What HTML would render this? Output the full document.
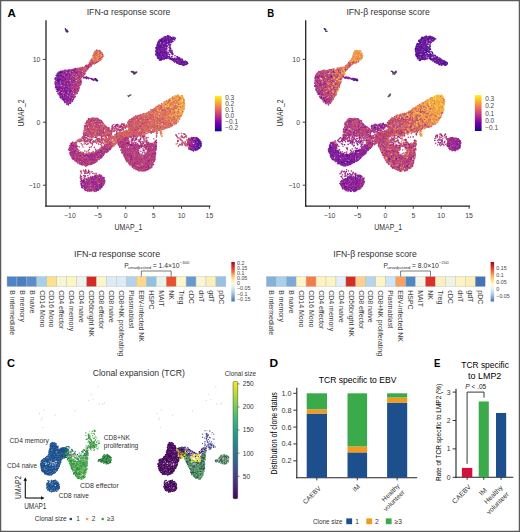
<!DOCTYPE html><html><head><meta charset="utf-8"><style>html,body{margin:0;padding:0;background:#fff}svg{display:block}text{font-family:"Liberation Sans",sans-serif}</style></head><body>
<svg width="520" height="532" viewBox="0 0 520 532">
<defs><linearGradient id="plasma" x1="0" y1="0" x2="0" y2="1"><stop offset="0.0" stop-color="#f0f921"/><stop offset="0.1" stop-color="#fcce25"/><stop offset="0.2" stop-color="#fca636"/><stop offset="0.3" stop-color="#f2844b"/><stop offset="0.4" stop-color="#e16462"/><stop offset="0.5" stop-color="#cc4778"/><stop offset="0.6" stop-color="#b12a90"/><stop offset="0.7" stop-color="#8f0da4"/><stop offset="0.8" stop-color="#6a00a8"/><stop offset="0.9" stop-color="#41049d"/><stop offset="1.0" stop-color="#0d0887"/></linearGradient><linearGradient id="viridis" x1="0" y1="0" x2="0" y2="1"><stop offset="0.0" stop-color="#fde725"/><stop offset="0.1111111111111111" stop-color="#b5de2b"/><stop offset="0.2222222222222222" stop-color="#6ece58"/><stop offset="0.3333333333333333" stop-color="#35b779"/><stop offset="0.4444444444444444" stop-color="#1f9e89"/><stop offset="0.5555555555555556" stop-color="#26828e"/><stop offset="0.6666666666666666" stop-color="#31688e"/><stop offset="0.7777777777777778" stop-color="#3e4989"/><stop offset="0.8888888888888888" stop-color="#482878"/><stop offset="1.0" stop-color="#440154"/></linearGradient><linearGradient id="rdyl1" x1="0" y1="0" x2="0" y2="1"><stop offset="0" stop-color="#a50026"/><stop offset="0.12" stop-color="#d73027"/><stop offset="0.25" stop-color="#f46d43"/><stop offset="0.33" stop-color="#fdae61"/><stop offset="0.42" stop-color="#fee090"/><stop offset="0.55" stop-color="#fbfbe8"/><stop offset="0.66" stop-color="#d6e8f2"/><stop offset="0.78" stop-color="#a6cae2"/><stop offset="0.9" stop-color="#6e9cc8"/><stop offset="1" stop-color="#4a72b0"/></linearGradient><linearGradient id="rdyl2" x1="0" y1="0" x2="0" y2="1"><stop offset="0" stop-color="#a50026"/><stop offset="0.12" stop-color="#d73027"/><stop offset="0.25" stop-color="#f46d43"/><stop offset="0.35" stop-color="#fdae61"/><stop offset="0.47" stop-color="#fee090"/><stop offset="0.58" stop-color="#fefed0"/><stop offset="0.7" stop-color="#e0eef4"/><stop offset="0.82" stop-color="#a6cae2"/><stop offset="0.92" stop-color="#6e9cc8"/><stop offset="1" stop-color="#4a6aa8"/></linearGradient></defs>
<rect x="0" y="0" width="520" height="532" fill="#fff"/>
<g fill="none" stroke-width="1.6" stroke-linecap="round"><path d="M177.3 97.3h0m2.5 2.9h0m1.1-0.4h0m-9.9 4.1h0m0.3 2.6h0m-0.1 1.2h0m10.9 0.1h0m0.8 0.4h0m-11.7 8.8h0" stroke="#f9ce30"/><path d="M180.2 96.1h0m-2 0.5h0m0.9 0.9h0" stroke="#f4e32d"/><path d="M95 52.3h0m6.4 1.1h0m-6.8 2.1h0m8.3 0.9h0m-13.1 6.2h0m3.7 0.7h0m0.7-0.3h0m-4.3 0.9h0m-3.3 1.3h0m0.3 1.2h0m2.4-0.7h0m-1.3 1.1h0m-10.2 1.5h0m1.1 1.3h0m0.6 0h0m1.4 0.2h0m-15.3 1h0m11.1 0.2h0m8.6 0.4h0m0.1-0.9h0m0.2 0.4h0m-18.6 1.2h0m13.3-0.6h0m3 0.5h0m-10.8 1.2h0m2.2 0.2h0m-1.7 1.7h0m8.5 0.3h0m-6.9 3h0m1.7 0.1h0m1-0.2h0m-3.6 4.3h0m7 0.6h0m-1.4 2.8h0m-3.8 1.3h0m-2.7 1.3h0m3.5 0.8h0m0.5-0.2h0m-1 1h0m-4.8 3.3h0m3.3 4.2h0m92.6 6.8h0m-9.7 2h0m4.7 0.4h0m7.5-0.1h0m12.6 1.4h0m-27.6 1.1h0m18.7-0.6h0m-13 3.1h0m5.1 0.2h0m6.8-0.4h0m-11.2 3.5h0m-24.8 1.2h0m7.9-0.3h0m15.7-0.2h0m-23.8 1.7h0m0.4-0.3h0m10.7 0.1h0m-53.6 0.8h0m46.7 0h0m-51.7 1h0m0.3 0.4h0m44.5-0.6h0m9.4 0.4h0m4.3-0.3h0m16.4 0.5h0m-73.4 0.3h0m5.3 0h0m0.3-0.2h0m2.6 0.4h0m32.3-0.5h0m-42.9 1.2h0m4.2 0.4h0m2.5 0.3h0m5.4-0.3h0m34.1-0.1h0m0.9 0.3h0m1.6 0.1h0m-48.6 0.9h0m1.4-0.4h0m3.1-0.1h0m8.9 0.6h0m1.3-0.7h0m28.3 0.3h0m4.2-0.2h0m7.1 0.2h0m3.3 0.3h0m3 0h0m-61.5 0.3h0m2.5 0.8h0m0.2-0.5h0m2.9 0.6h0m0.3-0.4h0m7.4-0.5h0m1.5-0.1h0m28 1h0m1.1-0.4h0m3 0h0m9.4-0.1h0m1.3 0h0m0.3 0.3h0m13.1-0.2h0m-70.8 1.2h0m3.2-0.3h0m1.2 0.3h0m9.7-0.7h0m27.3 0.8h0m8.7-0.1h0m2.4-0.6h0m0.6 0.1h0m3.2 0.6h0m-52.5 0.6h0m2.7 0.3h0m7-0.5h0m0.3-0.3h0m25.9 0.2h0m22.4 0.8h0m8.1-0.8h0m-71.8 1.4h0m4.7 0.2h0m6.5-0.1h0m3.5 0.3h0m35.8-0.9h0m0.5 0h0m8.4 0.6h0m-58.5 1h0m8 0.1h0m0.7-0.7h0m5 0.4h0m3.6 0.2h0m1.6-0.3h0m10.8-0.3h0m8.2 0.9h0m5.2-0.6h0m8.4-0.3h0m0.2 0.5h0m15.8 0.4h0m2.6-0.3h0m-70.9 1h0m8.8 0.1h0m2.7-0.6h0m4 0.3h0m8 0.1h0m8-0.1h0m1.8 0.1h0m3.4 0.1h0m8.5-0.1h0m1.6 0h0m3.1-0.6h0m1.3 0.6h0m-51.5 1.3h0m3.6-0.3h0m4.9 0.2h0m1.9-0.1h0m1.8-0.5h0m1 0.4h0m2.5 0.3h0m4.7 0h0m6.4-0.5h0m18 0.5h0m5.5-0.6h0m4.9 0.2h0m5.2-0.2h0m5.5-0.2h0m3.3 0.8h0m5.1-0.4h0m-71.5 0.9h0m1.8 0.3h0m0.6-0.2h0m2.3-0.2h0m4.6 0.6h0m1.7-0.6h0m10.4 0.1h0m2.4 0.5h0m6.4-0.1h0m0.8-0.8h0m2.5 0.6h0m8.7-0.4h0m7.1 0.2h0m-53.1 1h0m5.9 0.3h0m3.2-0.4h0m16.1 0.3h0m17.1 0.3h0m4.8-0.8h0m0.2 0.8h0m-43.8 0.3h0m9 0.4h0m2.8 0.1h0m1.9 0.1h0m5-0.3h0m0.8 0.4h0m17.6-0.5h0m2.2-0.4h0m2.6 0.8h0m2.9-0.8h0m0.5 0.3h0m1.8-0.2h0m16.4 0.1h0m1.1 0.5h0m-54.3 1.3h0m0.5-0.3h0m1.5-0.6h0m2.5 0.1h0m1.9 0.4h0m4.4-0.4h0m11.7 0.2h0m1.5 0h0m1.2-0.1h0m1.4 0.4h0m4.2 0h0m2.1-0.4h0m1.1 0.6h0m6.6-0.1h0m1.6 0h0m-55.6 0.4h0m2.1 0h0m1.4 0.5h0m1.2 0h0m5.1-0.4h0m15.2 0.3h0m1.6-0.2h0m15.2-0.1h0m3 0.5h0m9-0.2h0m6.7 0.1h0m-61.2 1.2h0m1.2-0.4h0m3.4 0h0m2.4-0.3h0m6.5 0.2h0m22 0.5h0m2.4 0h0m1.3 0.1h0m0.7-0.5h0m1.5 0.5h0m6-0.1h0m3-0.7h0m2.4 0.6h0m-50.2 0.2h0m6.8 0.9h0m12.2-0.9h0m3.5 0.3h0m8.4 0.4h0m13.4 0.2h0m2.9-0.9h0m10.2 1h0m-61.7 1h0m0.9-0.1h0m2.7 0.1h0m9.2-0.2h0m16.7-0.1h0m4.5 0.1h0m2.4 0.1h0m5.1-0.2h0m1-0.4h0m11.2 0h0m-51.3 0.8h0m20.4 0.4h0m6.1-0.4h0m0.2 0.9h0m2.4-0.3h0m3.4-0.5h0m3.9 0.4h0m4.4-0.5h0m1.3 0.2h0m0.6 0.6h0m19.2-0.8h0m31.5 0.3h0m5.9-0.1h0m-104.7 1.5h0m3.3-0.5h0m2.9 0.1h0m0.5-0.2h0m6.2 0.7h0m16-0.2h0m0.6-0.3h0m5.8 0.6h0m2.3-0.7h0m1.1 0.4h0m4-0.1h0m-44.1 1.2h0m7.2-0.3h0m10.7 0.5h0m22-0.2h0m13.9-0.6h0m57.3 0.3h0m0.6 0.1h0m-111.2 1.3h0m6.1-0.5h0m2.3-0.2h0m3.8 0.8h0m4.6 0h0m7.7-0.6h0m2.9 0.3h0m11.5-0.2h0m1.5 0.2h0m0.8-0.6h0m3.2 0h0m6.2 0.3h0m49.1-0.4h0m10.1 0.7h0m-103 0.8h0m2.8-0.3h0m2.2 0.4h0m9.5-0.1h0m10.5 0.2h0m7.6-0.7h0m10.4 0.9h0m1.9-0.5h0m4.4 0.2h0m51 0h0m-75.5 0.9h0m42.6 0.4h0m-68.2 0.6h0m8.3-0.2h0m28.5 0.3h0m10.7-0.2h0m53.6 0.1h0m-92.8 1.1h0m14.6-0.4h0m2.4 0.5h0m1.4-0.4h0m15.6 0.1h0m2.3-0.2h0m1.2 0.7h0m3.8-0.6h0m18.3-0.2h0m33.5 0.9h0m-80.1 1h0m7-0.5h0m15.4 0h0m12.6 0h0m8 0h0m-58.9 1.4h0m4.9 0h0m17.6-0.7h0m7.8-0.1h0m10.4 0.7h0m11.4 0h0m6.8-0.3h0m-45.6 0.8h0m19.5 0.2h0m0.7 0.3h0m9.2-0.1h0m13.9 0.1h0m-13.4 1.2h0m0.6-0.8h0m9.7 0.2h0m4.1 0.5h0m3.2-0.4h0m-28.4 0.8h0m2.8 0h0m0.8 0.1h0m10.9 0h0m11.9-0.3h0m-76.6 1h0m78.5 0.2h0m-63.3 1.1h0m5.2 0.5h0m41 0h0m1.8-0.8h0m3 0.1h0m12.6 0.3h0m-68.2 1.2h0m39.9 0h0m0.8 0.1h0m14.4-0.7h0m-52 1.4h0m46.6-0.1h0m20.5-0.1h0m-53.8 1.5h0m0.3-0.7h0m31.1 0.4h0m3.8 0.4h0m11.6 0h0m1.8 0.1h0m5.1-0.3h0m0.7 0.1h0m-66.5 0.4h0m13.5 0.1h0m25.8 0.4h0m1.2-0.7h0m0.9 0.1h0m1.9 0.7h0m13.4 0.1h0m7.4-0.9h0m3.8 0.5h0m-66.6 1.1h0m36.6 0h0m5.1 0.3h0m6.3-0.1h0m4.8-0.1h0m-7.7 0.3h0m14.7 0.1h0m6.6-0.1h0m-77 1.3h0m3.4 0h0m8-0.1h0m10.7 0.7h0m32.4-0.2h0m20.1 0h0m-66.9 0.7h0m48.9 0.2h0m7.1-0.4h0m6.7 0.5h0m-69.2 0.4h0m52.6 0.7h0m1.7-0.1h0m5.2-0.1h0m6.2 0h0m2.2-0.2h0m0.8 0.1h0m5.1-0.5h0m-75.1 1h0m51.6 0.9h0m3.5-0.7h0m9.3-0.1h0m-11.7 1.8h0m-41.5 0.4h0m46.1 0.1h0m10.3 0h0m-5.5 0.9h0m-8.2 1h0m3.8 0.6h0m-2.1 0.2h0m3.5 0.1h0m-0.7 0.9h0m1.9 0h0m5.3 0.5h0m2.6 0.3h0m-7.4 0.1h0m-52.4 2.4h0m2.9 1.8h0m7.5 1.9h0m2 3.9h0m-13.5 0.7h0m-1.1 0.4h0m7.3 1.5h0m13.9 1.4h0m-1.9 2.3h0" stroke="#c24c6b"/><path d="M101.8 54.8h0m-7.8 7.9h0m-4.7 2h0m-4.1 4.4h0m-3.4 1h0m-11.2 1.2h0m7.9-0.3h0m5.5 0.4h0m-12.4 0.3h0m7.8-0.2h0m-16.4 1.9h0m20.9 0.1h0m-19.9 0.2h0m16.5 0.8h0m-12.7 0.7h0m7.5-0.1h0m1.9 0.3h0m5.6-0.6h0m-3.3 0.9h0m0.8 0.5h0m-13.2 0.5h0m7.4 0.4h0m8.4-0.6h0m-14.1 1.3h0m6 0.7h0m4.3-0.1h0m-1.6 0.8h0m-3.9 0.9h0m1.8-0.4h0m2.1-0.1h0m-4.9 1.9h0m2.9-0.1h0m1.7 0h0m1.1-0.5h0m-12.4 1h0m11.5-0.4h0m-1.5 1.8h0m0.5-0.6h0m3.2 0.6h0m0.2 0.9h0m-3.7 1.1h0m-14.1 2.2h0m6.6-0.7h0m8.3 0.9h0m1.9 0.7h0m-11.2 0.4h0m2.1 0.5h0m9-0.1h0m-13.4 2h0m11.4-0.1h0m1.6-0.4h0m-18.9 2.2h0m7.8-0.1h0m7.3-0.1h0m-2 1.2h0m-1.3 0.9h0m-2.1 1.6h0m-3.3 2.5h0m5 1.1h0m88.4 5.4h0m-6.8 7.8h0m13.5 0.8h0m3.3-0.4h0m-31.9 2.8h0m2 1.3h0m6.1 0.2h0m-1.7 1h0m7.8 0.5h0m-58.1 0.7h0m39 0.3h0m25.4-0.2h0m2.2 0.2h0m-68 0.9h0m49.3 0h0m-39.9 0.5h0m-5.1 0.8h0m6.5 0.3h0m46.4-0.1h0m15.9 0.6h0m-43.1 0.5h0m1.5 0.3h0m-24.9 1.3h0m3.3-0.1h0m14.8-0.5h0m12.1-0.2h0m9.1 0.3h0m10 0h0m6.5 0.1h0m16.3-0.3h0m-76.6 1.6h0m5.4-0.1h0m17.6-0.7h0m0.5 0.3h0m20.4-0.3h0m8.9 0.2h0m-34.2 0.7h0m2.9 0.4h0m5.7 0h0m0.5-0.1h0m35.6 0.6h0m-45.1 0.5h0m0.4 1.1h0m26.6-0.4h0m-48.6 1.2h0m3.1 0.5h0m0.8-0.4h0m5.4-0.1h0m20.4 0.1h0m0.1 0.6h0m11-0.7h0m-20.8 1.6h0m2.5 0.1h0m-9.3 1h0m-1.7 0h0m14.5 0.4h0m18.9 0.6h0m21.5 0h0m-56.7 0.2h0m0.3-0.1h0m39.6 0.4h0m43.3-0.3h0m1.2 0.6h0m-80.2 0.6h0m2.9 0.2h0m-11.8 0.9h0m9.7 0.5h0m14-0.5h0m4.1 0.1h0m11 0.1h0m51.6-0.3h0m-90.5 1.6h0m10.7 0h0m7.4-0.9h0m6.7 0h0m5.9 0.8h0m11.4-0.7h0m3.2 0.2h0m-17.2 0.7h0m0.6 0.5h0m9.6 0h0m2.6 0.1h0m-33.5 1.1h0m4.6-0.2h0m11.3 0h0m0.4-0.2h0m1.9 0.4h0m5-0.3h0m2-0.3h0m17.8 0.1h0m-38.1 1.1h0m2.5 0.1h0m10 0h0m4.4 0.3h0m2 0h0m1.9-0.3h0m6 0.3h0m54.7-0.1h0m-104.5 1.2h0m14.1 0h0m19.5-0.3h0m1.2-0.6h0m3.4 1h0m1.9-0.7h0m14.8-0.2h0m16 0.6h0m-66.4 0.7h0m6.6 0.4h0m1.8-0.6h0m0.3-0.1h0m28.7 0.8h0m12.9-0.6h0m7.7 0.5h0m0.8-0.1h0m7.3-0.1h0m34.3-0.5h0m-117.3 1.3h0m18.2 0.1h0m12-0.4h0m5.5 0.3h0m2.1 0.5h0m1.2-0.4h0m1.1 0.4h0m1.8-0.3h0m3.5-0.1h0m2.5 0h0m3.4-0.1h0m1.3 0.2h0m18.2 0.2h0m4-0.3h0m0.9 0h0m0.7-0.3h0m-78.1 1.4h0m0.3 0.2h0m53.4 0h0m0.8-0.4h0m10.1 0.5h0m1.9 0h0m0.2-0.5h0m4-0.1h0m7.4 0.4h0m4.4 0.1h0m1.3-0.1h0m27.8-0.2h0m-111.1 1.3h0m0.9-0.6h0m0.9 0.5h0m1.3 0.1h0m31.7-0.5h0m0 0.7h0m2.8-0.9h0m2.1 0.6h0m7.7 0.2h0m3.9-0.2h0m2.5 0.1h0m1.4-0.2h0m0.2-0.1h0m4.5 0.1h0m3.8 0h0m9.3 0.3h0m0.1-0.8h0m1.4 0.1h0m4.1-0.1h0m1.4 0.6h0m-80.9 1.1h0m2.3-0.3h0m4.9 0.4h0m31.4-0.4h0m5.1-0.2h0m8.8 0.2h0m0.8-0.4h0m5 0h0m3.5 0.2h0m3.5-0.2h0m0.9 0.7h0m9.9-0.5h0m0.4 0.5h0m43-0.4h0m-114 1h0m30.6 0.3h0m13.1 0.1h0m4 0h0m1-0.4h0m8.4 0.2h0m6.2-0.2h0m8.3-0.3h0m7.1 0.2h0m0.7 0h0m-86 1.2h0m2.3 0.2h0m1.7 0.1h0m28.9 0h0m1.3-0.6h0m3.2 0.6h0m0.2-0.8h0m2.7 0.6h0m0.8-0.5h0m26.2-0.1h0m0.2 0.7h0m1.5-0.3h0m1 0.6h0m14.8-0.4h0m34.5 0.2h0m-119.1 0.6h0m4.7-0.3h0m2.6-0.1h0m0 0.5h0m18.8 0.4h0m7.1-0.8h0m4.4 0.5h0m1.7-0.3h0m1.7 0.2h0m11.3-0.5h0m3.9 0.3h0m9.5 0.1h0m2.2 0.3h0m0.8 0.1h0m7.2 0h0m5.2-0.5h0m3.7 0.5h0m35.1-0.1h0m-116.7 0.5h0m4.8-0.1h0m21.1 0.4h0m2 0h0m0.9 0.1h0m6.3 0.2h0m1.9-0.5h0m12.9-0.2h0m7.3 0.1h0m4.1 0h0m13.5 0.5h0m5.1-0.2h0m-79.2 1.1h0m28.6-0.4h0m3.7 0.7h0m1.7-0.3h0m30.2-0.2h0m12.1 0.3h0m1.3-0.7h0m-80 1.4h0m6.4 0.1h0m18.4 0.4h0m2.1-0.3h0m3.6-0.4h0m1.5 0.1h0m3.5 0.6h0m1-0.7h0m14.5-0.1h0m1.4 0.8h0m13-0.1h0m6.5 0.2h0m1.9-0.2h0m8.3-0.4h0m-83 1.2h0m7 0.3h0m3.7-0.2h0m1.3-0.3h0m13.3 0.5h0m1.2-0.2h0m4.6 0.2h0m1.4-0.6h0m0.9 0.1h0m30.9 0.2h0m3.4-0.5h0m7.2 0.6h0m1.5 0h0m3.8-0.1h0m3.2-0.1h0m-83.4 1.3h0m1.9-0.2h0m2.1 0.1h0m14.9 0h0m4 0.1h0m7.9 0.1h0m24.7-0.6h0m0.7 0.6h0m2.1-0.3h0m7.4-0.4h0m0.7 0.4h0m1.7-0.4h0m0.5 0.4h0m12 0.1h0m2.4-0.1h0m-82.2 0.7h0m1.2 0.2h0m3.9-0.2h0m3.9 0.4h0m5.3 0h0m3.6-0.2h0m5.7 0h0m0.9 0.1h0m4.4 0h0m1.9 0.2h0m22.3-0.5h0m10.9 0.6h0m4.7-0.8h0m6.4 0.1h0m0.4-0.1h0m2.8 0.2h0m2.6 0.3h0m-79.5 1.4h0m5 0h0m6.2-0.8h0m2.7 0.1h0m6.5 0.3h0m1-0.5h0m0.6 0.3h0m5 0.5h0m2.2-0.3h0m22.5-0.5h0m8 0.6h0m3.4 0.2h0m9.3 0h0m7.2-0.2h0m1.3 0h0m1.5-0.6h0m-82.4 1.8h0m13.3-0.7h0m3.9 0.2h0m0.5-0.3h0m6.1 0.5h0m1.7 0h0m1.5 0.2h0m2.8-0.4h0m23.7 0.4h0m4.4-0.7h0m5.9 0.3h0m0.6 0.4h0m4.2-0.5h0m6.7-0.3h0m4.2 0.7h0m3.4-0.2h0m-80 1.4h0m5.6-0.7h0m2.5 0.7h0m0.8-0.5h0m6.8-0.1h0m2.8-0.1h0m3.5 0.5h0m29 0.1h0m0.8-0.6h0m3.3 0h0m3.7 0h0m1.3 0.5h0m2.8 0.1h0m10.4-0.2h0m1.7 0.2h0m1.6-0.3h0m1.7 0.2h0m0.8 0.1h0m-76.2 1.1h0m6-0.4h0m1.2 0.5h0m5.1-0.8h0m2.2-0.1h0m0.7 0.7h0m1-0.5h0m31.7 0.3h0m1.1-0.6h0m14.3 0.3h0m2.7 0.3h0m8.5 0.3h0m1-0.5h0m-77.6 1.5h0m1.4-0.3h0m7.1 0.3h0m4.1-0.1h0m1-0.7h0m1.3 0.3h0m1-0.2h0m0.1 0.2h0m3.1-0.1h0m2.4 0.1h0m29.5 0.5h0m5.9-0.6h0m10.2 0.4h0m2.6-0.2h0m4.9-0.2h0m2.1-0.2h0m0.4 0.1h0m-78.2 1h0m6.8 0.7h0m3.6-0.3h0m0.3 0.2h0m2.1-0.6h0m3.6 0.5h0m4-0.3h0m1.5-0.4h0m0.1 0.8h0m48.3-0.4h0m5 0.2h0m4.1-0.3h0m-74.9 0.9h0m3.2 0.8h0m1.6-0.6h0m3.6 0.1h0m0.4-0.1h0m3.2-0.1h0m0.2-0.3h0m36.3 0.2h0m2.7 0.6h0m6.2-0.8h0m2.3 0.8h0m5.7-0.5h0m2.2 0.4h0m-69.2 0.9h0m2.4-0.3h0m3.3 0.2h0m1.5 0.4h0m0.8-0.5h0m0.4 0.6h0m1.7-0.8h0m0.4 0.1h0m1.9 0.6h0m0.5-0.8h0m3.7 0h0m37.9 0.9h0m5-0.2h0m0-0.5h0m2.2 0.6h0m0.9-0.7h0m3.9 0h0m-63.3 1.4h0m48.7 0h0m5.5-0.4h0m11.7 0.8h0m2.9-0.7h0m-68.2 1h0m48.6-0.2h0m1.6 0.2h0m1.1 0.3h0m1.6-0.4h0m5.8 0.4h0m4.8-0.4h0m3.9 0.7h0m-15 0.5h0m2.2-0.2h0m3.9-0.1h0m2.3 0.3h0m1.1 0.5h0m1.3-0.6h0m-3.5 1.7h0m5.5-0.6h0m1.9-0.3h0m-10.5 1.2h0m11.9 0.1h0m0.4 0h0m1.1-0.4h0m-15.9 1.7h0m1.5 0.3h0m2-0.8h0m0.6 0h0m2.1 0.2h0m2-0.2h0m0.8 0.6h0m2.7-0.6h0m0.7 0.7h0m-64.5 0.9h0m2-0.4h0m50.6-0.4h0m2.4 0.7h0m0-0.6h0m3.4 0.8h0m3.9-0.8h0m0.5-0.1h0m-61.1 1.8h0m3.3-0.1h0m53.4-0.5h0m1.3 0.2h0m-57.9 0.8h0m0.4 1.5h0m11.7 2.6h0m-17.2 1.6h0m12.6-0.8h0m5.1 0h0m-3.2 1.3h0m1.7 0.4h0m-15.4 1.1h0m11.9-0.8h0m6 0.6h0m0.7 0.1h0m-9 0.5h0m4 0.1h0m-10 1.3h0m4.1-0.3h0m0.5 0.4h0m1.9-0.6h0m7.7 0.4h0m4.4 0h0m0.7-0.6h0m0.5 0.9h0m-14.8 0.9h0m6.6 0.1h0m0.7-0.3h0m6.5 0.1h0m-21.7 1.2h0m3.8-0.4h0m9.8 0.3h0m2.9-0.7h0m-13.4 1.3h0m1.2 0.1h0m4.2 0.1h0m1.3-0.1h0m12.6-0.5h0m-17.7 1.9h0m0.1 0h0m4.1 0.7h0m-1.3 0.5h0m2.8 0.8h0m-8.8 0.9h0m14.2-0.7h0m2 0.9h0m-4.4 0.2h0m1.2 1.6h0m-4.2 0.3h0" stroke="#b0387a"/><path d="M167.5 35.8h0m-1.8 1.5h0m2.3 1.5h0m-1.8 2.8h0m1.1 1.2h0m-1.5 3.2h0m-3.8 1.2h0m3.5 1.3h0m-0.8 1.7h0m-1.6 0.5h0m0.9 0h0m-1.7 3.3h0m-6.5 0.8h0m12.1 1.4h0m-7.6 2h0m2.4 0.3h0m6.3-0.2h0m0.8-0.5h0m9.2-0.3h0m-20.7 1.1h0m5.7 0.8h0m-4.5 0.5h0m0.6 0h0m12.3-0.3h0m9.4 0.4h0m0.4 1.2h0m-7.5 0.9h0m8.1 0.4h0m1.3 1.9h0m-124 11.4h0m3.2 0.8h0m-7.9 2.3h0m7.1 0.2h0m4.6 0.5h0m-9.7 1.3h0m12 1h0m-11.5 2h0m2.1 3.1h0m7.5 0.4h0m-0.8 0.2h0m-7.1 2.5h0m1 2.8h0m4.7 3h0m1.5 0.5h0m-2 5.2h0m3.4 2.2h0m128 33.8h0m1.8 3.7h0m1.1-0.6h0m-1.4 2.7h0m2.1 0.2h0m-1.1 1.9h0m1.7 0h0m-3.3 2.6h0m1.2 0.1h0m-100.1 30.9h0m-17.2 4.2h0" stroke="#581298"/><path d="M162.6 43.2h0m-3.5 1.7h0m-1.1 1.8h0m0.8 0.3h0m-1.1 3.7h0m3.6 0h0m6.9 2.2h0m-10.9 0.8h0m6.5 0.7h0m-2.9 0.6h0m5.8 0.8h0m-0.9 1.2h0m8.1 4h0m8 1.6h0m-121.1 10.5h0m-1.7 0.7h0m3.6 3.6h0m28.6 1.1h0m-30.4 11.6h0m8.9 4.5h0m-3 9.5h0m134 37.5h0m-6.1 3.2h0m6.2 1.5h0m-0.9 0.9h0m-1.9 1.9h0" stroke="#461492"/><path d="M97.2 61.6h0m-11 5.6h0m0.5-0.5h0m-7.7 1.6h0m4.9-0.2h0m-10.9 1.2h0m1.4-0.2h0m-8.5 0.9h0m-2.3 1.8h0m1.6-0.2h0m5.6 0.7h0m4.3-0.6h0m0.6 0h0m1.8 0.4h0m-6.5 0.9h0m1.1 0.3h0m11-0.3h0m-21.6 0.8h0m9.6 0.6h0m-1.8 0.5h0m6.4 0.4h0m-6.1 0.9h0m0.5 1.1h0m9.5-0.4h0m-8.8 1.1h0m-2 0.6h0m5.5 0.6h0m2.5 0h0m-8.1 1.2h0m9.7-0.3h0m-9.5 0.8h0m12 0.1h0m-15.6 0.7h0m13.8 0h0m0.7 0.5h0m1.4 0h0m-5.4 1.8h0m-2 0.9h0m1.5 0.5h0m2.1-0.3h0m-9 0.6h0m-7.6 0.8h0m3.4 1h0m10.4 1.7h0m-7.3 0.8h0m4.2 1.7h0m3.9-0.1h0m1.5 0.3h0m-7.9 1.3h0m1.7-0.7h0m3.4 1.7h0m0.9-0.3h0m0.8 0.1h0m-7.5 0.7h0m5.2-0.1h0m-6 1.9h0m2.9-0.3h0m1.1 0.1h0m1.8 0.2h0m-5.6 0.8h0m-1.5 0.3h0m4.2 0.4h0m-6 0.9h0m6.3 0.3h0m2.7-0.4h0m-2.6 3.5h0m91 5.4h0m-1.1 6.6h0m-15.8 2.7h0m9.6 0.3h0m4.7 0.7h0m-23 0.8h0m21.5 0.4h0m-60.4 0.5h0m35 0.2h0m-37.6 2.2h0m-4.9 0.7h0m6.2-0.1h0m-9.6 2.4h0m10.6-0.2h0m47.2-0.1h0m-45.2 1h0m1.7-0.1h0m40.1 0h0m3.2 0.2h0m-38 1h0m31.1 0.4h0m8.5-0.4h0m2 0.1h0m-25.3 1.9h0m31.9 0.1h0m-65.2 0.5h0m16.9 0.5h0m28 0.8h0m1.8-0.1h0m-6.2 1.4h0m1-0.1h0m9.4 0.3h0m11.9-0.2h0m-40.6 0.5h0m15.6 0.1h0m-30.5 2.4h0m-3.4 0.8h0m29 0.3h0m12-0.2h0m8.8-0.5h0m-23.3 1.6h0m9.7-0.3h0m0.6-0.2h0m14.5 0h0m-54.4 1.4h0m19.8-0.4h0m9.2 0.8h0m3.5-0.8h0m1.9 0.2h0m16.5 0.6h0m-53 0.2h0m45.3 0.5h0m3.2-0.1h0m7.9-0.1h0m44.5 0.4h0m-105.2 0.8h0m31.7 0.3h0m3.2-0.3h0m2.7 0.2h0m6.2-0.6h0m16.9 0.5h0m12.2 0.2h0m32.5 0.1h0m-101.5 0h0m44.1 0.5h0m57.9-0.3h0m1.8 0.2h0m-95.4 0.9h0m4.5 0.1h0m9.6 0.3h0m0.3-0.4h0m1.3 0.6h0m14.2-0.2h0m0.3 0.1h0m6 0.1h0m11.9-0.1h0m-67.2 0.5h0m42.2 0.2h0m2.9-0.4h0m5.7 0h0m6.1 0.8h0m2-0.5h0m12.7 0.6h0m6-0.9h0m38 0.6h0m-120.1 0.9h0m1.8 0.2h0m0.7-0.3h0m31.5 0.3h0m45.6-0.2h0m28.2 0.2h0m-105.3 0.6h0m0.9 0.4h0m29.1 0.1h0m17.3-0.8h0m10.8 0h0m3.4 0.9h0m4.7-0.7h0m4.1 0.5h0m2.5-0.5h0m3.7 0.1h0m2.8 0.5h0m36.3-0.6h0m-119.3 0.9h0m0.2 0h0m2.9 0.4h0m0.6-0.3h0m1.6 0.6h0m33.3-0.7h0m11.5 0.1h0m3.8-0.2h0m5.1 0.9h0m3.1-0.7h0m0.7-0.1h0m10.7 0.4h0m-73.5 1.2h0m2.3-0.6h0m32.2 0.5h0m19.8 0.1h0m15.6-0.2h0m5.3-0.2h0m44.6 0.3h0m-69.6 0.4h0m24 0.2h0m3.9-0.2h0m4.6 0h0m1.8 0.4h0m35.9-0.5h0m-118.2 1.7h0m32.5-0.2h0m2.8-0.2h0m18.7 0.4h0m19.2-0.6h0m7.4 0.6h0m0.4-0.3h0m1.3 0.1h0m-86.1 1.1h0m0.6-0.2h0m0.6-0.2h0m53.1 0.5h0m7.9-0.3h0m5.6-0.1h0m15.3 0.5h0m1.3 0.1h0m0-0.7h0m-84.4 0.9h0m5.4 0h0m1.7 0.4h0m23.9 0.5h0m25.6-0.6h0m12.8-0.3h0m2.2 0.7h0m11.1-0.6h0m2.2 0.5h0m-81.8 1.2h0m1-0.9h0m5.1 0.3h0m15.5 0.7h0m2-0.9h0m1 0.2h0m2.9-0.1h0m22 0.7h0m3.2-0.4h0m5 0.4h0m2.2-0.7h0m1.6 0.2h0m-62.3 0.6h0m0.9 0.7h0m1.1-0.5h0m6.3 0.2h0m11.2 0.1h0m12.7 0.2h0m29 0h0m3.1 0.1h0m16.3 0h0m-73.3 0.8h0m1.2-0.5h0m2.2 0.8h0m10.3-0.8h0m2.2 0.1h0m0.7 0.5h0m1.5-0.3h0m49.4 0.3h0m1.9 0.1h0m-70.5 1h0m15.3-0.1h0m3.7-0.3h0m27.5-0.3h0m1.1 0.9h0m4.5-0.2h0m8.4-0.8h0m16.2 0.6h0m-81.1 0.7h0m1.6 0.4h0m4.1-0.2h0m3.1-0.3h0m2.1 0h0m0.8 0.7h0m7.2 0h0m5.5-0.6h0m2 0.2h0m24.6-0.3h0m13.4 0.7h0m1.4-0.5h0m0.9 0.5h0m12.1-0.5h0m-78.7 1.5h0m1.4-0.9h0m13.5 0.4h0m3 0h0m3.1-0.4h0m2.6 0.6h0m1.7 0.3h0m54.5-0.4h0m0.8-0.4h0m-82 1.6h0m1.1 0.2h0m1-0.6h0m5.1 0h0m21.9-0.1h0m29.2 0.7h0m8.3-0.1h0m10.2 0h0m-73.7 1h0m1.1 0h0m2.4-0.8h0m1.9 0.9h0m5.6 0h0m0.7-0.9h0m1.6 0.8h0m1.9 0.1h0m0.6-0.8h0m4.9 0.6h0m34.6 0.1h0m10.1-0.1h0m14.4-0.3h0m-82 0.6h0m3.2 0.6h0m3.4-0.5h0m0.5 0.2h0m12.6 0.7h0m4.5-0.9h0m38.7 0h0m3.1 0.4h0m-59.8 0.9h0m3.1-0.2h0m1.6 0.1h0m4.9 0.4h0m52.1-0.3h0m4.5 0.2h0m2.7 0.2h0m-71.1 0.6h0m15.4 0.5h0m3.4-0.3h0m31-0.4h0m7.4 0.7h0m6.4-0.5h0m-61.3 1.1h0m2.5-0.3h0m49.2 0h0m-51.7 1h0m11.8 0.4h0m40.3 0h0m9.9-0.1h0m5.4-0.5h0m5 0.7h0m-69.2 0.8h0m2.1 0h0m0.7 0.3h0m4.7-0.7h0m43.9 0.3h0m5.8-0.2h0m11.6 0.6h0m-18.9 0.6h0m0.9-0.4h0m2.3 0.8h0m7.8-0.3h0m0.5 0.2h0m-11.3 1h0m17.1-0.2h0m-9.7 0.9h0m3.8-0.1h0m2.7 0.2h0m2.5 0.9h0m-8.6 1.7h0m-59.6 5.5h0m3.7 0.1h0m10.1 0.3h0m0.2-0.8h0m0.8 0h0m-3.2 1h0m1.2 0.3h0m6.4 0.1h0m2-0.3h0m-7.3 0.9h0m8.6-0.1h0m-15.5 1.7h0m2.5-0.1h0m2.4 0.2h0m2.7-0.3h0m7-0.3h0m-11.4 1.1h0m10.4-0.1h0m0.2 0.6h0m-18.6 1h0m19.5-0.8h0m-12.2 1.9h0m1.1-0.8h0m3.3 0.6h0m4.4-0.4h0m0.4-0.2h0m-11 1.3h0m2.7 0.2h0m-4.1 0.5h0m2.1 0.8h0m0.4-0.9h0m4.5 0.4h0m5.4 0.3h0m4.3 0h0m-16.8 1.3h0m6.7 0.1h0m2.1 0.5h0m-11.9 0.4h0m0.4 0.1h0m0.9 0h0m7.8 0.1h0m0.6 0.4h0m-7.1 0.7h0m8.3 0.6h0m-3.1 0.6h0m8.8-0.2h0m-15.7 0.7h0m0.9 0.6h0m2.2 0.3h0m4.7-0.8h0m1.2 0.1h0m-6.2 1.2h0" stroke="#aa3280"/><path d="M99.6 50.6h0m-3.6 1.6h0m2-0.1h0m1-0.1h0m0.8-0.5h0m-4.6 1.7h0m6 1h0m-7 1h0m5.2-0.2h0m-6.4 1.1h0m0.3 0.9h0m0.8 1.3h0m6.8 0.1h0m-9.6 1.2h0m4.3 0.7h0m2.2-0.3h0m0.6 0.3h0m1.8-0.2h0m-6 1.1h0m75.5 37.9h0m2 3.1h0m8.1 0.2h0m-14.1 0.6h0m7.2 0.5h0m2.4 0.1h0m2 0.5h0m6.5-0.1h0m-23.3 1.4h0m10.6 0.6h0m2.5 0.2h0m-16.9 0.9h0m6.9 0.4h0m0.6-0.5h0m4.9 0.3h0m3.3-0.7h0m3.1 0.3h0m4.1-0.4h0m-16.8 1.2h0m1.7 0.4h0m0.7-0.2h0m1.6-0.1h0m11.8-0.1h0m-20.2 0.9h0m15.4 0.3h0m10.3-0.1h0m-28.6 1h0m4.3 0h0m-5 1.3h0m4.4-0.6h0m1.9 0.5h0m3.3 0h0m9.4-0.2h0m-20.2 1.2h0m25.2 0.1h0m-29.2 0.6h0m4.1 0.3h0m0.2 0.5h0m1-0.9h0m6.7 0.1h0m0.8 0.4h0m1.3-0.2h0m3.8-0.2h0m1.3 0h0m5.7 0.3h0m1.6 0h0m1.7-0.3h0m3.5 0.7h0m-36.5 0.5h0m1.6 0.4h0m21.2 0.1h0m4.3 0h0m-25.4 0.9h0m2.4-0.1h0m6.7 0.2h0m1.6-0.6h0m2.3 0.5h0m0.8-0.7h0m-12.4 1h0m2 0.9h0m12.1-1h0m5.8 0.6h0m3.6-0.2h0m5.5 0.5h0m-19.9 0.8h0m0.6-0.3h0m1.8 0.4h0m6.7-0.5h0m1.5-0.2h0m12.8 0.4h0m-18.5 0.8h0m4.7 0.2h0m1.8 0h0m1.7 0h0m2.4 0h0m-19.1 0.9h0m7.5 0h0m3.3-0.1h0m6 0.2h0m7.1-0.4h0m2.1 0h0m0.1 0.8h0m-34.6 0.5h0m6.2 0.4h0m12.6 0h0m-10.2 0.6h0m21-0.2h0m-28 1.2h0m2.8 0.5h0m6.1-0.1h0m0.7-0.3h0m7.7 0.2h0m-32 0.6h0m3.2 0.2h0m19.2 0.5h0m17.3-0.3h0m1.7-0.2h0m-35.6 1h0m15.8 0.2h0m1.4-0.3h0m3.8 0h0m1.9-0.1h0m3.8 0.4h0m3.2-0.3h0m1.7-0.3h0m5.4 0.5h0m-43.1 0.6h0m7.4 0.3h0m9.1 0.3h0m11.1 0h0m0.4-0.7h0m13.2 0.7h0m-31.5 0.7h0m8.4-0.3h0m6.1 0.1h0m1.8 0.6h0m3.6-0.3h0m3.2-0.4h0m-21.2 1.2h0m9.2 0h0m11.6-0.2h0m-33.6 1.7h0m10.6-0.5h0m18.4-0.1h0m-28.1 1.1h0m4.8 0h0m13.9 0.3h0m5.8 0.2h0m4.3-0.3h0m2.5 0h0m-19.3 1.3h0m15.5-0.1h0m-24.6 0.8h0m0.8 0.3h0m0.4-0.8h0m-14.3 1.4h0m32.5-0.4h0m-14.4 1.4h0m-9.4 1.1h0m13.8-0.3h0m-19.4 0.8h0m-7.6 1.9h0m3.8 1.5h0m-10.6 0.9h0m13.2 0.3h0m-6.4 1.1h0m-23 1.4h0m15.6 0.6h0m-2.5 0.7h0m6.9 0.2h0m64 0h0m-69 1.1h0" stroke="#e37b52"/><path d="M162.7 47.7h0m-4.1 8.6h0m-97.9 16.2h0m35.4 8h0m104.4 64.5h0m0.8 0.1h0" stroke="#1b177d"/><path d="M97.3 50.8h0m0.4 0.3h0m-0.2 1.2h0m-2.4 1.8h0m1.4-0.4h0m-0.5 1.3h0m1.4 0.2h0m0.1 1.1h0m0.6 0.2h0m-2 0.6h0m0.4 1.3h0m-4.4 0.2h0m2.3 0.3h0m3.6-0.2h0m74.9 38.2h0m0 1.4h0m8.6 1h0m2.3-0.2h0m-10.2 1.2h0m9.7-0.4h0m-14.4 1.1h0m4.1 0.5h0m1-0.5h0m-4.5 2.1h0m1.6-0.1h0m2.4 0.1h0m8.8 0.2h0m-13.6 0.6h0m8.8-0.2h0m3.8 0.2h0m-18.5 0.7h0m0.3 0.2h0m2.4 0.1h0m-6.7 1.5h0m10.7-0.6h0m2.9-0.1h0m5.5 0.2h0m-19.4 1.9h0m9.3 0.1h0m13.4 0h0m-21.4 1.3h0m2.3 0h0m14.7-0.6h0m-9.6 1.3h0m7.9 0.6h0m7.5-0.9h0m-14.9 1.1h0m0.9 0.7h0m4.5-0.4h0m4.1 0.1h0m-27.3 0.6h0m6.1 0h0m3.2 0.3h0m-12.5 1.1h0m24.3-0.1h0m-15 0.7h0m2.8 0.5h0m9.1-0.3h0m8.5-0.3h0m5.5 0.8h0m0.3-0.6h0m-36.2 0.8h0m6.6 0.9h0m2.8-0.1h0m7.4 0h0m4.2-0.6h0m1.1 0.2h0m3 0.1h0m6.4 0.3h0m-23.7 1h0m12.4-0.2h0m10.4-0.4h0m2.8 0.4h0m1-0.2h0m-28.9 1.2h0m17.4-0.2h0m10.5-0.3h0m-26.9 1.8h0m3.9-0.8h0m-22.1 1.1h0m16.3 0.5h0m18.3-0.3h0m1.1 1h0m5.4 0.1h0m1.4 0h0m-18.4 1.3h0m3.8 0h0m2.1-0.1h0m6.1 0.2h0m-17.9 0.5h0m25.5-0.2h0m0.3-0.2h0m-25.2 1.1h0m3.9 0.2h0m0 0.5h0m11.9-0.6h0m-1.9 1.2h0m4.6 0.1h0m3.8-0.6h0m-21.8 1.3h0m21.1-0.1h0m-8.3 2.7h0m0.5 0.8h0m-33.5 0.6h0m23.7 0h0m4.3 1.1h0m-30.1 1.4h0m5-0.1h0m25.5 2.4h0m-51.5 3.3h0m5.6 3.7h0m-6.7 3.2h0" stroke="#eb8c4b"/><path d="M99.4 53.3h0m0.3 1.6h0m-4.1 1.7h0m4.2 0.6h0m0.1-0.5h0m-3.5 3h0m-1.1 1.2h0m86.4 35h0m-7.1 1.2h0m1.2 0.1h0m3.8-0.3h0m0 1.3h0m-9.3 0.6h0m5.2 0.1h0m2 0.5h0m0.6-0.9h0m-6 1.5h0m5.8 0.2h0m-11.2 0.5h0m5.6 0.6h0m-5.6 0.5h0m1 0.4h0m13.2-0.7h0m-16.6 1.8h0m9.7-0.4h0m8.8-0.2h0m-17.3 1h0m6.7-0.1h0m6.5 0.2h0m-12.7 1.5h0m7-0.1h0m4.4 0.1h0m3.4-0.4h0m3-0.1h0m-6.6 1h0m6.9 0.4h0m-16.9 0.3h0m10.1 0.4h0m5.8-0.3h0m-27.5 1h0m2.1 0.4h0m1.7-0.4h0m12.8 0.7h0m-7.8 0.9h0m2.1-0.3h0m2.9-0.3h0m10.5 0.9h0m1.8 0h0m-7.6 0.5h0m8.3 0.3h0m-25.1 0.6h0m1.7 0.5h0m16.3-0.2h0m2.2-0.7h0m4.4 0.3h0m-8.2 1.2h0m1.4 0.2h0m0.3 0.3h0m4.1-0.7h0m-27.5 1h0m7.1 0.3h0m17.8 0.3h0m0.1-0.7h0m-6.7 1.1h0m6.9 0.5h0m2.8-0.1h0m-14.1 0.4h0m7.5 0.8h0m5.1-0.2h0m-2.7 1.7h0m2.6-0.1h0m-19.6 0.9h0m-19.9 1.3h0m5.7-0.3h0m22.9 0.3h0m10.4 0.4h0m-12.9 1.8h0m6.7-0.2h0m1.8-0.3h0m-6.1 1h0m3.5-0.1h0m-3.8 4.5h0m2.7 1.2h0m-9.7 3.8h0m0.6 0.8h0m0.9 4.3h0m-50.9 4.9h0" stroke="#f09e44"/><path d="M96.3 53.3h0m1.7 1.3h0m1.4 2.3h0m-10.5 7.3h0m1.8-0.7h0m-4.5 2h0m2.2-0.5h0m1.7-0.4h0m0.9 1.3h0m-8.3 1.5h0m3-0.7h0m1.6 1.4h0m0.6 0h0m-8.9 0.7h0m4.8 0.3h0m3-0.4h0m-3.2 1.8h0m-7.4 0.3h0m3.7-0.2h0m6.5-0.1h0m-10.7 1.7h0m6.8 0.3h0m-7.5 0.1h0m6.7 0.2h0m-10.1 1.4h0m-0.8 0.4h0m3.2 0.1h0m3.6 0.5h0m2.3 0.3h0m3.5 0h0m-4.8 0h0m-3.3 1h0m0.2 0.5h0m4.5 0.4h0m-1.4 0.6h0m-6.1 1.5h0m1.1-0.3h0m6.9-0.2h0m-3.3 1h0m4.1 1.6h0m-9.4 1.1h0m4.6 0.3h0m-1.8 2.4h0m2.4 0h0m1.5-0.1h0m1.2 0.1h0m-6 1.7h0m4.6 0.7h0m-5.2 1.2h0m-2.2 0.7h0m5.6 0.5h0m2-0.1h0m88.3 13.2h0m-2.9 2.1h0m3.3 3h0m-7 0.2h0m-3.4 3.5h0m8.1 0.6h0m-1.5 1.3h0m1.1 0.3h0m7 0.4h0m-35.8 1.3h0m22.9-0.1h0m1.6 0h0m-20.4 1.5h0m-47.8 0.6h0m2 0.4h0m2.7 0h0m0.7 0.1h0m44.9-0.6h0m31.8-0.2h0m-82 1h0m39.6-0.2h0m18.2 0h0m-57.4 1h0m2 0.6h0m1.7 0.1h0m4.2 0.1h0m31.1 0h0m14.7-0.5h0m0.8 0.5h0m-57 1h0m4.4-0.4h0m6.9 0h0m27.3 0.4h0m8.3-0.6h0m0.3 0.8h0m8.5-0.4h0m4.9-0.1h0m-57.5 1.3h0m36.3-0.6h0m2.3-0.2h0m5.7 0.9h0m12.5-0.6h0m12.6 0.5h0m11.3 0.1h0m-75.1 1h0m41.9-0.4h0m9.5 0h0m13.8 0.2h0m-68.8 0.4h0m0.4-0.1h0m6.9 0.3h0m20.3 0.6h0m18.7 0h0m1.7-0.5h0m-53.9 1.4h0m29.5-0.2h0m5-0.1h0m-37.7 1.3h0m4.2 0.2h0m1.2-0.8h0m1.2 0.5h0m10 0.2h0m15 0.1h0m7.1-0.2h0m4.5-0.5h0m3.4-0.1h0m6.3 0h0m9 0.7h0m24.1-0.6h0m-87.2 1.7h0m4.8-0.3h0m12.1 0.2h0m21.2-0.8h0m2.6 0.8h0m3.9-0.9h0m4.1 0.4h0m16 0h0m9.8-0.3h0m5.1 0.6h0m4.4 0.2h0m-78.7 0.4h0m13.1 0.2h0m4.2-0.3h0m23.7 0.4h0m12-0.3h0m0.9 0.4h0m3.9 0h0m3.6-0.4h0m-66.6 0.8h0m0.2-0.1h0m1.5 0.6h0m4.9-0.5h0m0.9 0.5h0m9.2-0.2h0m0.7 0.5h0m1.3-0.7h0m25.6 0.2h0m0.4 0h0m-40.9 1.4h0m2.8-0.7h0m4.7 0.4h0m2.2-0.5h0m11.7 0.9h0m22-0.3h0m4.5-0.5h0m22.9 0.4h0m-73 1.4h0m1.8-0.5h0m6.2 0.2h0m1.4-0.5h0m4.8 0.1h0m0.6 0h0m5.7 0.1h0m0.6-0.2h0m3.4 0.2h0m3 0.1h0m22.6-0.3h0m10.1 0.1h0m3.5 0.1h0m0.3 0h0m-64.1 1.3h0m0.4 0h0m7.9-0.2h0m0.8 0.2h0m1.9-0.1h0m12.1 0h0m0.2 0.4h0m1.7-0.9h0m15.6 0.8h0m7.2 0h0m3.4-0.5h0m-54 1.2h0m3.3 0.4h0m9.8-0.2h0m6.7 0.2h0m22.8-0.8h0m2.7 0.2h0m17.9 0.6h0m-63.4 0.3h0m6.7 0.1h0m2.5 0.7h0m0.2-0.7h0m2.9 0.4h0m1.8-0.3h0m0.8-0.2h0m6.8 0.3h0m21.6 0.1h0m9.6 0h0m-9.3 0.8h0m10.7 0h0m-49.8 1h0m2.8 0.5h0m1.9 0h0m18-0.8h0m9.6-0.1h0m6 0.4h0m0.9 0.2h0m8.1-0.2h0m-51.5 1h0m12.7 0.5h0m4.9-0.6h0m7 0.2h0m2.4-0.1h0m7.8 0.4h0m3.3-0.2h0m0.7-0.4h0m2.6 0.4h0m9.8-0.3h0m-17.9 1h0m3.9 0.5h0m5.9-0.7h0m3.7-0.1h0m2.9 0.9h0m14.5-0.8h0m44.3 0.1h0m-100.2 1.7h0m6.5-0.6h0m0.9-0.3h0m7.1 0.5h0m5.2 0h0m4.7-0.4h0m0 0.6h0m27-0.7h0m45.2 0.2h0m-107.5 1.7h0m9.6-0.6h0m5.7-0.2h0m2.6 0.2h0m2.1-0.2h0m16 0.5h0m9 0.2h0m11.9-0.6h0m2.4-0.2h0m6.6 0.7h0m40.8-0.1h0m-108.4 1.2h0m5.2 0.1h0m13-0.8h0m2.8 0.7h0m4-0.8h0m0.9 0.7h0m3.4-0.4h0m15.4 0.4h0m2.4 0h0m1.1-0.5h0m18.8 0.5h0m-71 1.2h0m18.4-0.5h0m26.4 0.4h0m1.3-0.8h0m21.4 0.5h0m3.6-0.2h0m9.4 0.6h0m-35 0.2h0m1.5 0.3h0m1.7-0.1h0m1.9 0.5h0m1.1 0.1h0m1.5-0.2h0m4.1-0.1h0m52.2-0.1h0m4.7-0.3h0m0.9 0h0m-117.3 1.5h0m8-0.4h0m17.5 0.5h0m9.3 0h0m14.5-0.2h0m1.6-0.1h0m24.6 0h0m7.1 0.1h0m32-0.3h0m0.7 0.5h0m-68.2 1h0m3.5-0.7h0m17 0.7h0m1.6-0.4h0m2.1-0.2h0m1.2 0.6h0m9.3-0.8h0m0.1 0.9h0m25.6-0.6h0m-79 1.1h0m17.6-0.3h0m11.1 0.4h0m3.9 0.3h0m7.6 0h0m11.3 0.1h0m3-0.7h0m31.6 0.2h0m-113.2 1.4h0m1.5-0.6h0m24.9 0.6h0m0.7-0.1h0m32.4 0.2h0m9-0.8h0m13.2 0.4h0m-45.7 1.2h0m18.2 0.2h0m0.7-0.6h0m0.5 0.1h0m1.9 0.6h0m4.9-0.8h0m3 0.6h0m6.9 0h0m1.6-0.1h0m1.5-0.1h0m-80.5 0.5h0m1 0.6h0m32.8 0.2h0m1.8-0.3h0m1.1 0.4h0m17.4-0.9h0m0 0.9h0m10.1-1h0m14 0.1h0m-76.9 1.9h0m2.3-0.8h0m1.6 0.4h0m2.2 0.1h0m23.1 0h0m5-0.3h0m16.1 0.4h0m28.4 0.1h0m-75.1 0.2h0m22.5 0.3h0m1.4-0.3h0m9.7 0.5h0m16.1 0.4h0m7.3-0.2h0m2.5-0.8h0m3.3 1h0m7.1-0.8h0m8.9 0.5h0m-52.5 1.2h0m24.3 0.1h0m1.4-0.4h0m0.8 0h0m2.7 0h0m1.3 0.3h0m5.5-0.8h0m2.3 0.5h0m8.2 0.4h0m0.1-1h0m3.6 0.3h0m4.3 0.5h0m-81.1 0.2h0m1.1 0.2h0m0.5 0.7h0m55.1-0.2h0m0.5-0.1h0m2.6 0h0m18.8-0.5h0m-72.7 1.5h0m3.3 0.3h0m16-0.2h0m4.7-0.1h0m22.2 0h0m1.5 0h0m3.6-0.1h0m2.6 0h0m3.6 0h0m-50.3 1.4h0m0.4-0.5h0m2.6 0.6h0m0.9 0h0m36.5-1h0m1.8 0.5h0m4.4-0.3h0m4.7 0.6h0m3.1 0.2h0m5.7-0.9h0m2.7 0.8h0m-70.1 0.7h0m11.8-0.3h0m11.7-0.2h0m29.6 0.8h0m3.4-0.9h0m18.9 0.6h0m-83.5 0.7h0m8.6-0.1h0m2.3 0.4h0m1.5-0.4h0m2.6 0.7h0m0.4-0.7h0m6.3 0.1h0m34.2-0.1h0m19.2 0.6h0m-67.1 0.6h0m2.9 0.4h0m3.3-0.3h0m8.6-0.4h0m1.1 0.2h0m0.9-0.3h0m0.4 0.2h0m3.9 0.6h0m24.4-0.8h0m7.3 0.2h0m2.1 0.2h0m7.5 0.4h0m4.2-0.2h0m2.4-0.6h0m4.1 0.7h0m-76.9 1.2h0m21.8 0h0m36.4-0.5h0m2.2 0.2h0m3.5 0.1h0m3.1 0.2h0m-68.6 0.4h0m4.9 0.6h0m3.7-0.4h0m0.2 0.1h0m47.2-0.3h0m5.9-0.1h0m1.2 0.4h0m-61.8 0.9h0m13.9 0.4h0m40-0.1h0m0.7-0.7h0m0.7 0.2h0m3.3 0.2h0m2.3-0.4h0m6.7 0.5h0m-60.7 0.7h0m2.1 0.6h0m0.7-0.3h0m44.1 0.1h0m5.5-0.1h0m6.9 0.2h0m3.5 0h0m0.4-0.8h0m3.4 0.2h0m0.7 0.4h0m-65.5 1.4h0m2.7-0.6h0m2-0.2h0m3.4 0.6h0m41 0.1h0m0.5-0.2h0m2.3 0.2h0m4.8 0h0m0.2-0.2h0m6.8 0.1h0m1.8-0.4h0m-65.6 1.5h0m0.5 0h0m2.8-0.7h0m42.9 0.3h0m5.2 0.3h0m0.5 0.1h0m1-0.2h0m0.7 0.2h0m6.6-0.4h0m6.8 0.1h0m-10.1 1h0m2.2-0.2h0m2.8-0.1h0m3.6 0.3h0m-9 0.5h0m0.8 0.1h0m10.1 0.4h0m-11.9 0.9h0m5.7-0.3h0m2 0h0m3.6 0.3h0m0.6-0.1h0m-16.7 1.3h0m10.8-0.4h0m1.9-0.1h0m-6.9 1.3h0m1.4-0.1h0m6.4-0.2h0m-7.2 1.3h0m3.1-0.4h0m3.2 0.1h0m-57.9 2.1h0m9.5 3.1h0m2.4 0.6h0m-21 2.8h0m0.3 0.7h0m4.9 0.1h0m7.7 0h0m4.9 2.6h0m-10.7 1.5h0m6 2.1h0m-6 0.4h0m7.2 0.3h0m-3.8 1.9h0m-2.5 1.5h0m1.6 0.6h0m2.1-0.1h0m1.7-0.3h0" stroke="#bd456f"/><path d="M101.2 54.3h0m-5.7 1.4h0m-1.4 1.4h0m2.9 0.2h0m0.7 0.9h0m-3 1.6h0m6.3-0.1h0m77.2 35.3h0m-1.6 1.4h0m5.3-0.6h0m-5.9 1.5h0m1-0.4h0m0.9 0.6h0m-2.6 0.6h0m1 0.3h0m5 0h0m1.7-0.7h0m-4.2 1.1h0m0.4-0.3h0m-4.7 2h0m0.7-0.2h0m-4.9 1h0m0.2-0.7h0m12.5 0.4h0m-7.5 1h0m0.6-0.5h0m7.8 0.5h0m-20.3 1.2h0m0.5-0.3h0m1 0h0m15.6 0.6h0m0.3-0.1h0m0.3-0.8h0m-17.6 1.3h0m2.4 0.1h0m-2.7 0.8h0m3.9 0.6h0m1.9-0.3h0m2.1-0.1h0m1.2-0.4h0m1.5 0.7h0m2.3-0.1h0m3.7-0.7h0m-17.6 1.3h0m1.5 0.3h0m4-0.4h0m2.6 0.5h0m2.7 0.1h0m9.1-0.6h0m-22.3 0.8h0m21.5 0.7h0m-23.8 0.9h0m15.8-0.5h0m10.1 0.1h0m-28.6 1.3h0m8.8 0.4h0m4.2-0.6h0m9.1 0.3h0m0.8-0.3h0m6 0.6h0m-22.8 0.7h0m3.8 0h0m1.4 0.1h0m-7.5 0.8h0m7.8-0.2h0m-5.7 1.7h0m9.9-0.6h0m5.4 0.3h0m-29.1 0.9h0m11.2 0.3h0m7.8-0.3h0m3.5-0.2h0m2.6 0.1h0m1.6-0.4h0m5.4 0.2h0m1.1 0.6h0m-15.7 0.3h0m9.4 0.6h0m-22.1 0.5h0m4.7 0.3h0m3.7 0h0m10-0.1h0m4.4 0.3h0m1.6-0.4h0m-14.3 1.5h0m5.1-0.6h0m0.1 1.5h0m11.4-0.4h0m-13.7 1.1h0m7.4-0.1h0m1.8 0.6h0m1.3-0.5h0m1.9-0.3h0m1.4-0.2h0m-2.4 1.6h0m0.6 0.4h0m-27.5 0.9h0m10.6-0.5h0m3 0.2h0m8.8 0.3h0m-29.8 0.7h0m27.6 0.3h0m4.2-0.1h0m0.5-0.1h0m3.6-0.5h0m-11.6 1.7h0m4.4-0.4h0m-22.7 1.6h0m3.1 2.8h0m14.9-0.4h0m-23.8 3.7h0m3.2 3.5h0m15.9-0.2h0m-0.3 1.3h0m0 0.7h0m1.3 1.1h0" stroke="#ee9548"/><path d="M98.1 50.9h0m0.9 2.9h0m2.6 0.4h0m-7.6 2h0m3.9-0.3h0m2.6-0.1h0m-3.3 1.6h0m1-0.5h0m2.5-0.4h0m-5.7 2.6h0m1.5 0h0m2.4-0.3h0m0.8 0.2h0m2.2-0.2h0m-9.4 0.9h0m6.4 0.8h0m-8.5 0.3h0m1.2 0.3h0m7.2 0.3h0m77 34.6h0m-3.1 1.2h0m9.6 0.2h0m-10.1 0.7h0m8.1-0.2h0m-6 1.6h0m-5.9 0.5h0m4.2 0.1h0m3.9 0h0m-8.5 0.5h0m4.4-0.1h0m11.8 0.1h0m-5.6 1.4h0m-8.4 1.3h0m5.9 0.2h0m8.2 0h0m-14.5 0.9h0m3.6-0.2h0m6.2-0.5h0m-20.8 1.7h0m11.6-0.2h0m-9.3 0.6h0m1 0.4h0m4.9-0.2h0m12.3-0.2h0m-23.2 1.2h0m11.8-0.3h0m0.5 0.6h0m5.8-0.5h0m0.1 0.5h0m-8.9 0.8h0m5.8 0.1h0m1.1-0.4h0m3.2 0.1h0m0.8 0.6h0m-22 0.1h0m2.5 0.2h0m2.6 0.3h0m3.3 0.4h0m0.3-1h0m5.1 0.6h0m0.9-0.1h0m7 0.1h0m4.7-0.5h0m-28.2 1.1h0m15.9 0.2h0m1.4 0.3h0m0.5-0.6h0m-19.5 1.7h0m11.4-0.4h0m20.8 0.2h0m-27.9 0.5h0m5.8 0.5h0m0.6-0.5h0m0.9 0.3h0m2 0.3h0m8.4-0.4h0m4.2-0.2h0m1.2 0.1h0m4.2 0.8h0m-21.9 0.8h0m6.5-0.8h0m6.6 0.9h0m6.1-0.7h0m-12.4 0.9h0m1.4 0.6h0m10.4-0.2h0m1.5 0.2h0m-35.5 0.4h0m30.3 0h0m-27.4 1.6h0m9.6 0.1h0m5.8-0.2h0m16.5-0.5h0m-26.6 1.1h0m11.3 0.3h0m7.3-0.1h0m1.6-0.1h0m3.7-0.1h0m-11 1.2h0m1.7-0.4h0m1.4 0.9h0m2.9 0h0m-24.6 0.5h0m15.7 0h0m5.3 0.5h0m2.3-0.6h0m1.9 0.2h0m-27.4 1.4h0m21-0.3h0m-19.8 1h0m1.4 0.2h0m6.1 0.1h0m11.8 0.1h0m0.9-1h0m-6.5 1.6h0m4.7 0h0m2.1 0h0m9.3-0.2h0m0.6 0.3h0m-35.5 0.6h0m14.6 0.1h0m4.1 0.4h0m7.7-0.3h0m4.6 1.2h0m0.1 0.2h0m1-0.6h0m-16.5 1.6h0m1.2 0.1h0m7.2-0.5h0m-33.1 1.2h0m14.1 0.3h0m15.6-0.4h0m4.3-0.4h0m-8.1 1.5h0m0.8-0.1h0m3.9-0.1h0m2.4-0.2h0m5.9-0.2h0m-42.8 1.6h0m16.7-0.2h0m12.5-0.2h0m4.8 0.1h0m3.7 0.3h0m-23.9 0.8h0m1.4 0.2h0m2.6-0.3h0m8.6-0.3h0m2.9 0h0m3.6 0.6h0m2-0.3h0m-34 0.7h0m9.8 0h0m17.7-0.1h0m-34.4 3.5h0m19.3 0.3h0m0.8-0.2h0m5.4-0.2h0m-54.8 2.1h0m37.3-0.1h0m-5.6 1.5h0m-5.7 3.2h0m1 0.2h0m-25 2.2h0m21.3-0.3h0m-7 1.3h0m3.3 1h0m69.1 0.9h0m-79.4 1.3h0" stroke="#e8844e"/><path d="M99.4 50.8h0m0.6 1.1h0m0.5 0.4h0m-6.4 0.8h0m6.1-0.3h0m-3.8 2.2h0m3.4 0.9h0m-1.1 3.5h0m-3.1 0.7h0m-2.6 2h0m0.2-0.6h0m3.3 0.3h0m-5.5 0.8h0m-0.2 1.1h0m-1 1.9h0m0.5 0.8h0m1.1-0.7h0m-1.9 1.2h0m-10 1.5h0m2.1 0.6h0m6.5-0.2h0m-7.6 1.2h0m3.4-0.5h0m-3.9 2.6h0m1.5-0.5h0m2.3 3.6h0m0.6-0.7h0m-1.5 1.2h0m-1.6 1.7h0m-1.9 1.9h0m-1 3.8h0m2.4 0.5h0m99.8 15.3h0m-15.7 2.9h0m3.7 0.8h0m-7 1h0m-1.7 4.4h0m1.1 0.3h0m14.3-0.1h0m-8.1 1h0m-11.2 2.1h0m9.5 2h0m4.9-0.7h0m-27.1 1.9h0m5.9-0.7h0m2.7 0h0m0.5 0.6h0m-2.1 1h0m1.3-0.1h0m12.8-0.4h0m8.3 0.4h0m8.4 0.2h0m-28.5 0.9h0m0.8-0.4h0m9.3 0.2h0m-20.4 0.8h0m5 0h0m-12.8 0.8h0m3.6 0.7h0m10.9-0.6h0m2.4-0.2h0m6.1-0.2h0m6.2 0.5h0m9.7-0.1h0m-82.6 0.8h0m49-0.1h0m1.5 0.7h0m7 0.1h0m1-0.5h0m3.9 0.5h0m8.4-0.5h0m-70.9 0.6h0m40.6 0.2h0m6.8 0.1h0m0.6 0h0m0.8 0.7h0m4.8-0.6h0m21.2 0.5h0m-72.2 0.8h0m5-0.1h0m32.1 0.3h0m9.5 0.1h0m4.7 0h0m10.2-0.5h0m4.6 0.4h0m4.1 0.1h0m5.3-0.9h0m-80.5 1.3h0m1.8 0h0m0.7 0.1h0m44.6 0.2h0m2.6-0.2h0m13.1 0.3h0m2.8-0.1h0m-60.5 0.9h0m1 0h0m3.8-0.1h0m38.3-0.4h0m0.9 0.5h0m2.5 0.1h0m23-0.5h0m2.1 0.1h0m-74.5 0.8h0m3.5 0.3h0m36.3-0.2h0m1.7 0.7h0m1.3 0.1h0m3.2-0.4h0m5.6-0.6h0m7.2 0.3h0m3-0.1h0m0.1 0.6h0m1.9 0h0m-64.5 0.8h0m10.1 0.3h0m1.8-0.4h0m30.2 0.2h0m2.5-0.3h0m12.3-0.3h0m8.2 0.4h0m2.5 0.3h0m-70.1 1.1h0m0.9-0.7h0m37.9 0.2h0m4.9 0.4h0m0.4-0.6h0m7.4 0.8h0m7.3-0.8h0m1.5 0.6h0m5.9-0.2h0m16.9 0.1h0m0.6-0.6h0m-69.8 1.2h0m4.7-0.3h0m21.8 0.2h0m0.6 0.5h0m7.9-0.2h0m0.3-0.3h0m4-0.2h0m0 0.5h0m1.6 0h0m2.7 0.1h0m3.3 0.2h0m-63.1 0.4h0m2.8 0.6h0m4.3 0.1h0m0.8-0.1h0m12-0.5h0m18.9 0h0m10.1 0.6h0m3.8-0.2h0m2-0.1h0m7.7 0h0m14.6-0.4h0m-66.8 1.3h0m9.1-0.3h0m1.2 0.5h0m1.3 0h0m0.6-0.4h0m23.2 0.2h0m2.2 0.5h0m4.8-0.8h0m3.9 0.2h0m6.4 0.3h0m7.8-0.6h0m6.4 0.5h0m2.7-0.1h0m-79.6 0.7h0m7 0.6h0m3.3-0.7h0m1.9 0.3h0m11.5-0.4h0m24.5 0.7h0m1 0.1h0m11.8-0.5h0m-55.9 1.6h0m9.7-0.2h0m12.8 0h0m12.7-0.4h0m5-0.1h0m7.8 0.1h0m4.9 0.5h0m9.9-0.5h0m-69.4 1.5h0m2.2-0.1h0m5-0.1h0m0.7-0.3h0m0.7 0.4h0m1.5 0.1h0m7.8-0.4h0m3.4-0.2h0m1.2 0.1h0m18.3 0.2h0m1.5 0.2h0m5.6 0.1h0m2.5-0.7h0m5.2 0.7h0m4.6-0.1h0m0.1-0.5h0m1.4 0.3h0m2.7-0.4h0m-54.4 1.9h0m1.1-0.4h0m6.7-0.3h0m3.9 0h0m4.1 0.2h0m0.6 0.1h0m10.8-0.2h0m2.6 0.5h0m0.4-0.6h0m0.5 0.3h0m0.3-0.4h0m1-0.1h0m0.8 0.2h0m0.2 0.6h0m0.8-0.3h0m2.9 0.4h0m5.7-0.4h0m8.1-0.1h0m-38.2 1.2h0m1-0.1h0m10.1-0.5h0m4.2 0.6h0m0.1-0.4h0m0.4 0.6h0m0.8-0.5h0m1.3 0.3h0m0-0.1h0m7-0.6h0m0.2 0.8h0m2.2-0.2h0m5.7-0.2h0m1 0.5h0m1.5-0.3h0m-51.6 0.8h0m9.5-0.2h0m8.9 0.4h0m8.2-0.1h0m3.5 0h0m4.4 0.2h0m0.6-0.6h0m2 0h0m1.1 0h0m2.2 0.1h0m7.1 0.4h0m3.3 0.3h0m0.3-0.7h0m-56.2 0.9h0m7.3-0.1h0m4.5 0.5h0m2.3-0.4h0m19.7 0.1h0m16.6-0.2h0m7.8 0.5h0m1.8-0.4h0m-62 1.1h0m30.4 0.7h0m2.1-0.5h0m6.3 0.5h0m1.2 0h0m-25.3 1.1h0m12.1-0.3h0m2-0.5h0m3.4 0.6h0m8.2-0.5h0m55.8 0.1h0m-98.7 1.3h0m10.2 0h0m5.9 0h0m9.5-0.7h0m7.7 0.1h0m4.3-0.1h0m2.2 0.3h0m-41 1.2h0m8.4 0.2h0m20.6 0.2h0m2.2-0.7h0m1.4 0.1h0m0.1 1.2h0m1.6 0.2h0m2.4 0h0m2.6-0.4h0m-11 1.1h0m-10.7 1.4h0m10.6-0.6h0m7.5 0.6h0m-40.2 0.5h0m0.8 0.5h0m1 0h0m35.3-0.2h0m64.5-0.1h0m8.4-0.1h0m1.2-0.1h0m-66.3 0.9h0m-11.5 1h0m0.9 0.8h0m77.4-0.5h0m-107.1 0.9h0m31.2-0.3h0m80.9 1.6h0m-93.8 2.1h0m-8.6 2.1h0m53.4 4.9h0m-60.8 13.7h0m9.4 5.3h0m2.3 4.3h0" stroke="#ce5a63"/><path d="M167.8 38.5h0m7.7-0.3h0m-12.2 0.6h0m7.4 0.2h0m1.6 0.2h0m-13.7 2.2h0m0.6-0.9h0m-1.5 2.7h0m3.7 0.3h0m1.1 0.3h0m2.5 3.4h0m-0.7 1h0m-5.2 1.2h0m2.7 0.1h0m5.1-0.6h0m-3.3 1.2h0m5.5 0.7h0m2.9 0.4h0m-7.2 3.9h0m-3.6 1h0m6.1 0h0m-7.4 0.9h0m12.2-0.2h0m-2.3 2.1h0m7.3 1h0m-2.3 1.2h0m5.3 2.2h0m2.3 0.3h0m-93.8 3.5h0m-24.3 3.2h0m8.5 0.2h0m-10 1.5h0m0.3 0.1h0m16.6 0.1h0m-20.5 1h0m18.2 0.3h0m7.5-0.3h0m-22.6 0.8h0m-6.1 1.2h0m9 0.3h0m1.8-0.1h0m-9.4 0.4h0m2.2 1.6h0m-0.8 0.8h0m3.7-0.1h0m1.6-0.5h0m0.4 0h0m1.1 0.9h0m19.5-0.5h0m-30.2 0.9h0m8.3 0.2h0m7.9 0h0m-15.3 1.1h0m1.3-0.6h0m4.9 0.1h0m0.9 0.3h0m8.7 0.8h0m-0.6 1.2h0m-16.2 1h0m4.5-0.2h0m20.6 0h0m-16.2 1.5h0m1.7-0.2h0m1.2-0.5h0m5.3 1.2h0m-13.1 1h0m19.5 0.3h0m-14.6 1h0m5.7 0h0m-6.7 0.9h0m-1.1 0.5h0m2.3 0.3h0m0.2 0.2h0m1.2-0.2h0m-4.3 1.4h0m3.2-0.2h0m-3.7 1.4h0m0.8-0.6h0m5.1-0.2h0m1.6 0.4h0m-10.4 0.7h0m1.4 0.5h0m1.5-0.4h0m6.1 0h0m2.4-0.1h0m-6 0.8h0m13.9 0.9h0m-19.1 0.4h0m13.8 0.6h0m0.3-0.6h0m-12.8 1.1h0m2-0.4h0m7.8 3.8h0m-5.5 0.9h0m4.1-0.5h0m3.4-0.2h0m-3.5 1.6h0m5.5-0.4h0m-5.9 1.7h0m1.8-0.5h0m3.1 0.5h0m-2.6 0.5h0m-1.1 3h0m27.4 17.3h0m-8.7 6.9h0m44.5 8.1h0m61.6 0.4h0m3.3 0.3h0m-64.3 1h0m63.6 0.5h0m-105.9 0.3h0m31.7 0h0m1.3 0h0m70.7 0.5h0m0.8-0.1h0m4.2-0.5h0m1.2 0.5h0m-97.9 0.5h0m18.2 0.7h0m72.6-0.7h0m0.6 0.8h0m2.3-0.7h0m-76.3 1.1h0m63.8 0.6h0m-26.5 0.3h0m-33.5 1.6h0m69.5 0.1h0m2.9-0.5h0m-64.8 1.4h0m0.9-0.4h0m20.8 0.1h0m41.4-0.2h0m-120.4 0.9h0m37.3 0h0m39.1 0h0m6.3 0.7h0m37-0.3h0m-70.8 0.5h0m32.8 0h0m39.6 0h0m-61.2 1.6h0m1 0.1h0m1 0h0m58.8-0.1h0m1.9-0.1h0m-68.4 0.8h0m2.3-0.2h0m-27.2 1.3h0m3.2-0.2h0m24.4-0.2h0m60.2 0.2h0m-41.6 1.8h0m-79 1.2h0m68.3 0.1h0m9.9-0.4h0m-45.4 1.2h0m39.1 0.3h0m10 0.2h0m2-0.3h0m1.6 0h0m-71.8 1.1h0m0.5 0.2h0m1.5 0h0m50.1-0.6h0m9.2 0.7h0m-66.5 0.5h0m52.7 0.1h0m-53.4 1.4h0m11.4 0.1h0m36.2 0.8h0m6.3-0.3h0m-49.8 2.6h0m5 0.8h0m5.9-0.5h0m46.1 0.5h0m14.5-0.1h0m-15.6 2.1h0m8.2 0.9h0m-8.3 2.8h0m2.9 0.5h0m-1.8 0.4h0m-50.3 4.3h0m4.4 1.2h0m-11.4 3.4h0m7.3 2.8h0m10.7 0.6h0m2.1 2.6h0m-19.9 2.5h0m2.9-0.4h0m0.6-0.1h0m10.1 0h0m-13.5 1.4h0m3.4 0h0m16.3 1.2h0m-11.1 2.1h0m2.3-0.9h0m3 0.6h0m0.5-0.6h0m1.6 1.5h0m-3.1 1.3h0" stroke="#8a1c9c"/><path d="M182.7 96.3h0m-3.9 0.3h0m2.6 0.5h0m-4 1.5h0m5.2-0.1h0m-7.8 1.7h0m-3.7 0.7h0m7 0.3h0m-14.4 1.1h0m15.1 0.4h0m-11.1 1.7h0m1.2-0.7h0m9.1 0.5h0m4.7 0.1h0m0.4 0.8h0m-10.4 1.7h0m6.1 0.1h0m2.8 1.4h0m-2.4 0.4h0m-13.1 2h0m10 0.6h0m7 0.6h0m-7.5 1.6h0m5.5 0.9h0m-6.3 0.3h0m1.6 0h0m3.5 2.8h0" stroke="#f6ba38"/><path d="M132.9 71.5h0m-1.5 0h0m0.7 0.8h0m0.5-0.3h0m1 0.1h0m1.5 0.2h0m1.1 0h0m0.5-0.2h0m-3 0.7h0m0.3 0.5h0m1-0.1h0m0.8-0.3h0m-2.3 0.9h0m1.2 0.2h0" stroke="#553a66"/><path d="M164.5 37.3h0m2.9-0.3h0m1.6 0.4h0m1.9 0.5h0m0.6 0.8h0m0.8 1.4h0m-8.2 0.6h0m0.6 0h0m-1.8 1.1h0m6.9-0.1h0m1.5-0.1h0m-9.8 1.1h0m5.2 0h0m-0.3 1.3h0m-6.8 1.3h0m0.7 0h0m0.9-0.5h0m3.3 0.6h0m1.2-0.8h0m0.4 0.7h0m4.4-0.5h0m-9.1 1.3h0m1.8 0.3h0m2.6-0.1h0m3.8 0.9h0m-3 0.7h0m3.1 0.2h0m-12 1.1h0m3.9 0.9h0m-2 0.6h0m6.4 0.5h0m-8.8 1.2h0m1.8-0.5h0m4.6 1.5h0m3.9-0.7h0m2.8-0.1h0m-13.2 2.5h0m0.6 0.1h0m0-0.6h0m4.3 0.4h0m1.1 0.5h0m-5.2 0.6h0m6.5 0.1h0m10.6-0.4h0m-11.7 1.2h0m11.7 1h0m-4.6 1.1h0m2.6-0.5h0m8.3 0.4h0m-21.6 0.7h0m13.6 0.3h0m3.3 0.2h0m1.6-0.5h0m2.3 1.1h0m-1.5 1.1h0m-0.9 1.5h0m8.3-0.4h0m1.3 0.5h0m-116.5 6.8h0m-10.6 1h0m3.3 0.2h0m-4.4 0.6h0m-2 1.1h0m12.2 0.1h0m7.8 0.9h0m-12.4 0.6h0m21.5 2.1h0m-25.5 1.5h0m22.8-0.5h0m2.7-0.3h0m2.4 0.5h0m-29.6 1h0m6.5 0.1h0m-7.9 1.6h0m1.9-0.2h0m20.2 0h0m-24.8 0.9h0m4.3 0.4h0m4.3 0.1h0m5.9 0.4h0m-7.9 0.8h0m6.2-0.4h0m-8.8 1.5h0m2.2-0.4h0m1.8 1.1h0m2.2-0.2h0m-2.9 1.6h0m4.8-0.8h0m3.7 0.6h0m5 0.1h0m-18.6 0.7h0m3.1 0.6h0m4.5 0.6h0m1.7 0.1h0m0.4 0.7h0m-0.2 1.4h0m-10 1.1h0m6.5 0.1h0m3 0.9h0m5.9-0.7h0m-7.5 1.7h0m-5.8 0.3h0m2.1-0.2h0m-0.5 1.4h0m0.4 0.9h0m11.7 0h0m-10.5 1.2h0m8.7-0.1h0m-7.9 0.8h0m0.8 0.4h0m1.1 0.2h0m4.1-0.3h0m-0.9 1.2h0m2.1 0.2h0m2.1 0.2h0m-7.7 1h0m3.3 0.2h0m-2.4 1.2h0m-0.7 0.6h0m2.5 0.6h0m3.1-0.1h0m26.5 19.2h0m20.8 7.4h0m15.5 6.8h0m-5.5 1.4h0m66.1-0.5h0m-69.1 1.6h0m15.4 0.1h0m50 0.2h0m-99.5 1.1h0m17.3 0.2h0m17.2-0.1h0m69.2 0.3h0m-73.4 1h0m73.1 0.7h0m1.3 0h0m-124.1 1h0m36.3 0.1h0m18.4 0.4h0m67 0.9h0m5 0.5h0m-4.5 0.3h0m0.3 0.6h0m2.5-0.1h0m0.1-0.4h0m0.6 0.3h0m-5.1 0.4h0m0.8-0.1h0m-83 1.2h0m-9.5 1.4h0m48.5-0.5h0m-41.5 1.3h0m48.2 0.2h0m37.2 0.2h0m0.5 0.5h0m0.4 0.1h0m-114.4 1.8h0m17.2 1.3h0m-23.1 0.7h0m59 0.6h0m11.7 0h0m-56.2 0.3h0m0.4 0.6h0m0.9-0.1h0m62.1 0.4h0m-8.4 2.7h0m-65.9 1.6h0m16.2 1.2h0m-5.7 2.1h0m61.4 3.4h0m-48.4 8.9h0m-11.4 1.5h0m8.2 1.2h0m-10.6 0.5h0m-6 1.6h0m1.4 0.6h0m20.4-0.1h0m-9.6 1h0m-11.4 1.8h0m15.3 0.6h0m1 0.9h0m4.4 0.4h0m-3.1 2.7h0m-14.1 0.7h0" stroke="#82199c"/><path d="M164.8 38.2h0m4.9-0.6h0m1.7 0.8h0m2.4-0.4h0m0.2-0.4h0m-7.1 2.1h0m1.8-0.2h0m5.5 0.2h0m-5.3 1h0m0.5 0.1h0m1.7-0.3h0m-12.6 1.7h0m1-0.1h0m2.6-0.4h0m0.4 0.7h0m9.9-0.9h0m-7.4 2h0m0.4-0.4h0m4-0.1h0m0.3-0.4h0m-12.2 1.3h0m5.6 0.1h0m1.2 0.6h0m-1.1 1.2h0m6.7 0.1h0m-11.1 1.8h0m1.5-0.1h0m8.8 0h0m-3 1.7h0m-6.6 1h0m1 0.1h0m5.8-0.7h0m3.1 1.4h0m1.8-0.2h0m-13.3 0.7h0m5.1 0.1h0m1.5 0.2h0m1.3 0.5h0m5.9-0.3h0m0.1 0.5h0m-6 2h0m0.6 2.4h0m10.5-0.2h0m-18.4 1.1h0m4.8 0.1h0m3.2 0.4h0m11-0.6h0m2.2 0.3h0m-17.4 0.8h0m2.2-0.4h0m2.4 0h0m5.7 0.3h0m4.3 0.4h0m0.1 0h0m5.2 0.2h0m-6.5 0.3h0m4.3 0.7h0m2.7-0.2h0m0.5 1h0m-6.1 0.5h0m3 0h0m1.7 2.8h0m1.6-0.9h0m-115.3 7.9h0m3.5 1h0m-1.8 2.7h0m22.3 4.2h0m0.7 0h0m1.5-0.4h0m-33.4 3h0m-4.4 0.6h0m0.2 0.5h0m8.6 0h0m-2.8 1.4h0m8.7-0.7h0m-10.4 0.8h0m0.1 0.3h0m10.3-0.2h0m3 1.5h0m-18.6 1.2h0m1.6-0.1h0m-0.9 1.8h0m15.5-0.4h0m3.2 0.8h0m-9.2 0.6h0m-1.7 1.5h0m5.9-0.1h0m-5.8 3h0m4.3 1.5h0m-5.8 1.9h0m10.8-0.2h0m-11.2 1.7h0m2.8-0.1h0m1.9-0.5h0m-3.1 1.5h0m5.4-0.6h0m124.8 40.8h0m-2.3 1.3h0m6.5 0.5h0m0.7 0h0m-7.6 0.6h0m4.8 1.2h0m3-0.2h0m-7.5 1.7h0m3.4 0.4h0m-1.3 1.2h0m2.6 2h0m-1.5 0.6h0m1.8 0h0m-122.1 2.1h0m24.6 0.5h0m1.7-0.2h0m-3.6 0.7h0m-2.2 3.3h0m-0.8 2.8h0m2.2 18.7h0m3.9 3h0m-1.2 4.6h0m-15.9 0.4h0m3.8 1.2h0m1.9 0.1h0m6.3-0.1h0" stroke="#71149d"/><path d="M129.8 95.2h0m0.9-0.2h0m-2.6 0.8h0m0.6 0.6h0" stroke="#5a4a6a"/><path d="M180.5 96.7h0m-9.8 2h0m12.3 0.1h0m-11.9 1.1h0m10.3 2.1h0m-1 3.8h0m-2.5 4.3h0m-10.4 9.8h0" stroke="#f8c434"/><path d="M98.3 53.3h0m78.8 41.9h0m-2.2 0.9h0m0.4 0.2h0m2.4-0.3h0m-6.3 2.2h0m5.1 0.6h0m1.8 0h0m1.4 0.7h0m-9.3 0.3h0m7.1-0.1h0m2 1.1h0m1.8 0.4h0m1.2 0.1h0m-16.8 0.4h0m3.6 0.2h0m0.1 0.4h0m8.4 0.5h0m2.7-0.2h0m2.6 1.1h0m-21 1.5h0m17-0.2h0m5.5-0.1h0m-18.4 1.2h0m13-0.1h0m1.1 1.3h0m1.9-0.4h0m2.1 0h0m-11.1 0.9h0m9.9-0.2h0m-19.9 0.9h0m-5.4 1.5h0m16.8-0.4h0m5.3 0.7h0m0.8-0.3h0m0.4 0h0m-31.3 1.4h0m10.4 0h0m11.9-0.5h0m9.1 1.1h0m-30.3 1.2h0m29.7-0.3h0m-10.3 1.5h0m1.9-0.7h0m0.4-0.1h0m-2.9 1.2h0m0.6 1.6h0m1.5-0.8h0m1.1 0.2h0m-7.6 1.3h0m-9.3 2.2h0m11.3 0.3h0m7.8 0h0m-24.9 1.2h0" stroke="#f3a641"/><path d="M167.9 36.6h0m2.2 3.6h0m0.3-0.6h0m-6.8 1.6h0m1.4 1.1h0m3.7 0.1h0m-6.7 1.2h0m1.1 1.5h0m-7 3.2h0m-0.2 2.6h0m8 1h0m-6.2 5.1h0m1.8 0.4h0m5.5-0.5h0m-5.2 1.4h0m11.3 0.2h0m3.2 0.3h0m0.6 0.1h0m-1.9 0.8h0m13.7 2h0m-10 0.9h0m4.6 0.7h0m2.6-0.8h0m3.4 0.1h0m-122.9 9.9h0m-6 1.7h0m-1.8 1.8h0m2.6 3.9h0m37.1-0.2h0m0.5 1.1h0m-39.6 1.1h0m-1.2 3.7h0m3.1 0.9h0m-2.2 0.3h0m12.3 5.9h0m0 1.6h0m-1.1 3.2h0m-0.8 4.8h0m132.2 39.6h0m0.4 0.4h0m1.5 0.9h0m-2.2 4.1h0m-4.5 2.1h0" stroke="#4f1395"/><path d="M168.7 41.8h0m-0.7 1.8h0m-10.1 1.9h0m2 0.8h0m-3.8 7.5h0m23.2 5.7h0m4.9 2.4h0m-88.7 17h0m104.2 69.3h0" stroke="#261682"/><path d="M180.5 97.8h0m0.6 1.9h0m-8.5 1.4h0m-2.1 1.2h0m3.4-0.4h0m3.8 0.2h0m-11.3 0.6h0m9 0h0m2.8 0.8h0m-13.9 0.5h0m16.6 0h0m-4.4 2.3h0m-13.5 0.6h0m14.8 0.7h0m2.1 0.8h0m-22 0.9h0m23 0.1h0m1.8-0.3h0m-11.5 1.3h0m10.4 0.3h0m-11.3 1.1h0m-18.1 1.1h0m29.4 0h0m-1.9 0.9h0m-4.1 1.4h0m-17.3 1.5h0m7.1 2.1h0m7.9 2h0m-15.9 3.5h0" stroke="#f4b03d"/><path d="M172.5 60.3h0m-76.7 2.6h0m-10.2 2.8h0m2.6 0.1h0m-13 3.7h0m0.8-0.1h0m4-0.4h0m2.5 1.1h0m-12.7 0.5h0m-11.4 1.7h0m14.8-0.1h0m4.7-0.4h0m0.8 0.3h0m-16.1 0.7h0m2.1 0.6h0m0.9-0.8h0m0.1 0.7h0m3.5-0.1h0m5.9-0.2h0m1.5 0.3h0m3.9 0h0m1.3-0.8h0m-16.1 1.3h0m10.2 0h0m-13.2 1.3h0m16.4 2h0m-18.5 0.5h0m6.2 0.2h0m6.6 0.1h0m4.1 0.3h0m-10.7 0.9h0m1.9 0.3h0m6.2-0.6h0m-6.3 1.1h0m1-0.3h0m0.2 0.2h0m-2 1.7h0m0.5-0.1h0m-4.7 0.3h0m6.3 0h0m4.5 0.3h0m5.9-0.4h0m-22.7 1.1h0m6.4 0.5h0m-1.4 0.5h0m7.6 0.2h0m0.6-0.2h0m4.1 0.8h0m1.7-0.4h0m-9.4 1h0m13.4-0.4h0m-7.3 1.4h0m3.5-0.3h0m0.3 0.9h0m-14.1 1.4h0m6-0.2h0m3.7-0.1h0m2.6 0.6h0m2.2 0.6h0m-20.2 0.8h0m2.2-0.2h0m3.2 0.8h0m5.6-0.8h0m5.9 1h0m-3.3 1.4h0m2.5-0.2h0m2.9 0.6h0m-10.8 0.9h0m4.8 0h0m5.2-0.6h0m-12.4 1.5h0m2.9-0.2h0m0.8 0.5h0m1.8 1h0m-8.4 0.9h0m0.4 0.9h0m11.3-0.4h0m-3.8 2h0m1.5 4.6h0m79.7 12.7h0m-16 1.5h0m-0.4 1.6h0m-35.3 0.7h0m-7 1.5h0m0.3-0.9h0m2.3 3.8h0m4.7-0.1h0m-0.8 0.6h0m15.3 0.4h0m11 0h0m-38.2 0.2h0m1.9 0.1h0m8 1.5h0m19.7-0.5h0m16.6 0.7h0m-42.5 1h0m6.9-0.3h0m8.3 0.1h0m21.1 0.2h0m31.7-0.3h0m-62.8 1.2h0m25.4 0.8h0m15.8-0.5h0m-35.8 1.3h0m2.7 0.5h0m-12.2 0.8h0m52-0.2h0m-51.3 1.3h0m49.4-0.2h0m-22.8 0.9h0m-7.7 1.5h0m7.5-0.9h0m-28.1 2h0m13.8-0.1h0m19.9-0.2h0m17.2-0.4h0m37 0.6h0m-59.4 0.6h0m8.6 0.2h0m56.3 0.1h0m-64.6 0.7h0m0.2 0.4h0m74-0.4h0m-56.2 0.8h0m44.4 0.2h0m-73.5 1.1h0m8-0.3h0m17.8 0.9h0m6 0.5h0m-9.6 1h0m-55.7 0.7h0m114.6 0h0m-77.3 1.5h0m13.3-0.4h0m11.2 0.4h0m12-0.6h0m40.6 0.3h0m1.8-0.1h0m1.9-0.2h0m0.5 0.6h0m-120.9 0.6h0m40.9 0.1h0m16.3-0.3h0m1.8-0.2h0m58.7 0.3h0m3.1 0.3h0m-115.2 0.5h0m28.5 0.6h0m2.2 0h0m26.7-0.3h0m5.6-0.2h0m-68.1 1.4h0m36.5-0.6h0m0.1 0.5h0m2.9-0.2h0m9.3-0.3h0m15.6 0h0m3 0h0m10.6-0.1h0m0.8 0.3h0m-80.5 1h0m6.5-0.2h0m27.7 0.7h0m0.6 0.1h0m2.7-0.2h0m31.5-0.4h0m50.2-0.1h0m0.9 0.5h0m-79.8 1.2h0m16-0.2h0m22.8-0.4h0m40.2 0.1h0m-117.5 0.8h0m0.7-0.2h0m1.5 0.9h0m26.8 0.1h0m1.7-0.8h0m3.2-0.1h0m44.7 0.4h0m-65.2 1h0m15-0.2h0m4 0.4h0m1.3 0h0m23.6 0.1h0m6.6-0.8h0m-64.5 1.9h0m4.9-0.5h0m7.4 0.6h0m15.8-0.1h0m6.6-0.1h0m22-0.3h0m20.7-0.3h0m1.3 0.8h0m-78.2 0.8h0m3 0h0m0.3-0.1h0m21.5 0.1h0m51.9-0.3h0m6.5-0.4h0m-78.1 1h0m6.8 0h0m4.5 0.5h0m3.1 0.2h0m3 0h0m-20.4 0.2h0m5.6 0.7h0m1.8 0.1h0m15.1 0.2h0m1.6-0.5h0m39.3-0.2h0m-66.1 0.9h0m1.6 0.1h0m12.4 0.4h0m6.4-0.6h0m33.3 0.6h0m17.3 0h0m6.2-0.2h0m-71.4 0.9h0m2.5-0.2h0m18.4 0.6h0m3.4-0.2h0m-2.1 1.2h0m32.2-0.1h0m8.6-0.3h0m6.3 0h0m-66.8 1.5h0m5.4-0.7h0m52.9 0.4h0m1.3 0.3h0m7.2-0.6h0m0.4 0h0m8.3 0.6h0m-76.8 0.2h0m7.9 0.3h0m9.1 0.4h0m33.7-0.2h0m11.5 0.1h0m14.8-0.2h0m-67.5 0.6h0m6.7 0.7h0m43.8 0h0m13.7-0.2h0m-70 0.6h0m4.7 0h0m46.1 0.7h0m6-0.2h0m4.3 0.1h0m-57.7 0.3h0m5.2 0h0m2.1 0.1h0m43.3-0.2h0m13.4 0.7h0m-57 1.1h0m55.2 0.2h0m4.9-1h0m0.2 0.5h0m-66.4 2.1h0m48.8-0.2h0m12.2-0.2h0m0.9 0.5h0m-6.2 0.7h0m6.2 2.2h0m-59.1 1.3h0m54.9-0.8h0m3.1 0.4h0m-66.1 1.3h0m7.2 1.7h0m-2.5 2.8h0m2.7 0h0m13.2 0.6h0m-10.4 0.8h0m4.8 0.1h0m0.9-0.6h0m1.8 0.5h0m-10 0.6h0m2.8-0.2h0m1.4 0h0m9.3 0.8h0m2.2-0.5h0m-16.5 1.4h0m2.3-0.1h0m2.6-0.6h0m3.1 0h0m4-0.1h0m-11.3 1.6h0m1.2 0.1h0m13.5-0.5h0m-21.1 0.9h0m0.8 0.5h0m9.4-0.1h0m4.5 0.2h0m-14 1.3h0m2.9-0.2h0m2.2-0.1h0m0.4-0.5h0m0.5 0.5h0m4.6-0.3h0m6.8 0.5h0m0.5 0h0m0.2-0.7h0m0.8 0h0m-18.2 1.4h0m1.3-0.3h0m11.1 0h0m5 0.3h0m-12.7 1.1h0m11.3 0h0m1.8 0h0m-18.5 1.1h0m6.5-0.1h0m3.8-0.1h0m1.9-0.4h0m6.2 0.5h0m0.6-0.3h0m-18.9 1.1h0m6.5 0.1h0m2.4-0.1h0m6.3 1.2h0m2.7 0.1h0m-12 0.6h0m7.3 0h0m1.7 0.5h0m-7.8 1.1h0m0.1-0.9h0m3.1 0.6h0m-5.2 0.4h0m7.1 0.5h0m3.5-0.5h0m0.3 0.6h0m-11.7 0.5h0m3.9 0.2h0m0.6 0.1h0" stroke="#a32c86"/><path d="M95.2 51.3h0m5.5 0h0m-4.6 1.5h0m1.3 0.2h0m3.7-0.3h0m-7.2 1.7h0m3.6 0.1h0m4.7-0.5h0m-5.4 1.7h0m6.1-0.1h0m-3.7 1.1h0m2.6 0.6h0m-8.6 0.5h0m1.5 0.6h0m0.7-0.5h0m4 0.1h0m1.4 1.3h0m-7.6 1.1h0m0.1-0.3h0m5.5 0h0m-2.7 1.2h0m0.5-0.6h0m85.6 35.6h0m-7.9 2h0m1.1 2.2h0m8.3-0.6h0m-10.8 2.4h0m1.4-0.4h0m-6.5 1.3h0m6.9-0.5h0m0.2 0.5h0m0.4 1.8h0m-1 0.9h0m8.6 0.1h0m-9.2 0.9h0m4.1-0.3h0m-21.4 1.3h0m8.2-0.1h0m10 0.3h0m1.7-0.5h0m0.6 0.3h0m-23.3 1.3h0m2.6-0.2h0m0-0.5h0m2.6 0.8h0m11.4-0.7h0m1.4 0.6h0m1.1-0.1h0m-18.3 1.2h0m8 0.4h0m-13.9 1.4h0m5.9 0.3h0m8.9-0.5h0m4.6 0.1h0m14.5-0.4h0m-34.2 1.1h0m2.5 0h0m7.5 0h0m-9.2 1.4h0m5.7-0.3h0m2.6-0.1h0m3.7 0.2h0m2.5 0.5h0m4.9-0.6h0m6 0h0m-32.5 1.6h0m9.2 0h0m6.8-0.2h0m0.7-0.2h0m6.7 0.4h0m0.7-0.4h0m3.2 0.1h0m-28.7 1.3h0m2.4-0.2h0m1.7 0.1h0m2.6-0.4h0m3.5 0.2h0m6-0.1h0m7.1-0.4h0m4.8 0.9h0m10.1-0.1h0m-44.8 0.7h0m1.9-0.1h0m2 0.1h0m1.4-0.4h0m10 0.4h0m3.2-0.2h0m2.5 0.1h0m1-0.3h0m7.6 0.6h0m7 0.1h0m-25.7 0.6h0m9.4-0.1h0m2.6 0.4h0m4.1-0.7h0m-17.7 1.4h0m2.3-0.1h0m14-0.2h0m5.2 0.7h0m2.5-0.8h0m2.2 0.9h0m2-0.3h0m1.3 0.2h0m6.5-0.7h0m-80.4 1.7h0m45.4-0.2h0m0.5 0.1h0m10.5-0.6h0m19.6 0.2h0m-42 1.4h0m3.5-0.8h0m2.5 0h0m2.1 0.9h0m0.3-0.7h0m16.4 0.2h0m3.4-0.3h0m6.1 0.7h0m4.5-0.8h0m-32 1.3h0m6.4 0.4h0m10.9 0h0m0.5 0h0m3.2-0.7h0m7.9 0.4h0m0.8 0.2h0m5.3-0.1h0m-46.9 1.1h0m11.4-0.2h0m8.4 0.3h0m5.1-0.3h0m2.1 0.3h0m6.2 0.1h0m8.6-0.3h0m2.2 0.4h0m4.1-0.1h0m-41.6 0.3h0m0.4 0.3h0m21.1 0.1h0m7.6 0h0m6.8-0.2h0m1.5 0.7h0m-38 0.4h0m2.1-0.2h0m32.7 0h0m1.3 0.3h0m-75.5 0.6h0m48.2 0.9h0m11.5 0h0m9.3-0.9h0m4.3 0.6h0m0.6-0.7h0m0.7 0.9h0m-19.1 0.3h0m5.3 0.4h0m2.1 0h0m3.4 0h0m5-0.5h0m-32.9 1.4h0m9.7 0.3h0m7.7-0.5h0m2.4 0.1h0m2.8-0.2h0m1.1 0.2h0m7.3-0.2h0m-31.7 1.3h0m0.3 0.4h0m7.2-0.3h0m8.6 0.4h0m14.9-0.1h0m-71.9 1h0m35.6-0.1h0m29.8 0h0m-60.7 0.9h0m12.6-0.1h0m22.3 0h0m12-0.4h0m13.8 0.5h0m-31.7 0.4h0m1.2 0.2h0m3.8 0.7h0m6.4-0.4h0m4.3 0.2h0m-19.6 0.7h0m15.1 0h0m12.7-0.5h0m-22 1.8h0m12.6-0.4h0m0.1 0.3h0m39.6-0.6h0m-64.1 1.6h0m5.9 0h0m0.5-0.6h0m5 0.7h0m0-0.2h0m17.5 0.3h0m-19.8 0.9h0m-4.4 0.9h0m-5 1.2h0m1.6-0.4h0m2.1 0h0m0.9-0.1h0m-33.9 1.4h0m23.3-0.2h0m2.4-0.3h0m5.3 0.2h0m-8.9 0.7h0m3.6 0.7h0m5.7-0.6h0m-2.7 1.4h0m3.9 0.2h0m2-0.6h0m65.2 1h0m-77.9 1.5h0m3.6 0.6h0m-0.9 1.5h0m2.1-0.8h0m-19.5 7.9h0" stroke="#de7256"/><path d="M164.7 39.5h0m-4.3 4.5h0m0.8-0.1h0m9.1 3.3h0m-12.8 1.2h0m12.4 0.8h0m-4.7 0.8h0m-9.4 1.6h0m5.7 0.2h0m-2.8 4.8h0m5.7 1.2h0m3.7 0.5h0m5.1 2.6h0m7-0.1h0m-91.9 6.3h0m-19.7 3h0m1.4-0.4h0m-3.3 1.5h0m5.7 1.1h0m8.6 0.1h0m-21.2 0.8h0m-2.7 0.9h0m9.3-0.3h0m17.6-0.1h0m-26.3 1h0m0.9 0.4h0m4.1 0.9h0m2.2 0.5h0m0.8-0.9h0m1.9-0.1h0m4.4 0.7h0m-16.4 1.5h0m9.2 0.2h0m2.7 0.4h0m20.8-0.2h0m-24.3 1.4h0m6.5-0.1h0m18.1-0.8h0m-25.4 2h0m7.9 0.5h0m-2.2 1.1h0m8.4 0.1h0m0.8 0.1h0m-19.9 0.2h0m5.2 0.1h0m1.9-0.1h0m0.5 0.8h0m6.6-0.6h0m-16.2 1.2h0m10.3 0.3h0m1.7 0.2h0m5.8-0.1h0m-16 0.7h0m8.5-0.3h0m2.2-0.1h0m-12.6 1.4h0m3.6-0.2h0m4.2-0.3h0m2.5 0.6h0m5.5-0.5h0m2.1 1.8h0m-14.2 0.5h0m2.3 0h0m15.1 0.3h0m-19.9 0.3h0m12.7 0.2h0m2.6 0.4h0m-9.6 0.9h0m6.3 0.3h0m1.3-0.3h0m4.5 0h0m-17.2 1h0m7.6-0.2h0m6.1-0.1h0m-6.8 1.8h0m-4.9 1h0m2.5 0.7h0m4.3-0.7h0m-7 1h0m14.1 0.3h0m-9.6 1.7h0m1.1 0.5h0m7.4-0.3h0m2 0.4h0m-4.4 1.2h0m1.5 0.4h0m-8.2 1.4h0m2.2-0.4h0m-1.5 1.4h0m2.7-0.1h0m0 1h0m1.2-0.4h0m30.6 21.3h0m18.6 1.5h0m-1.6 1.1h0m41.2 0.5h0m-58.6 1.2h0m9.8 1.7h0m24.8-0.1h0m-33.3 1.8h0m42 0.1h0m-52.5 1h0m3.9 0.8h0m5.5 2.1h0m34.4 1.3h0m48.8 0.3h0m-97.6 0.7h0m3.8-0.3h0m-1.6 1.1h0m38.9 0.2h0m63.6 0.4h0m6.6-0.4h0m-70.4 1.2h0m67.6-0.3h0m-60.3 0.9h0m3.8-0.1h0m55.2 0.1h0m0.6 0.2h0m-70.7 1.1h0m33.9 0.1h0m22.6 0.2h0m13.6-0.1h0m-119 1.1h0m49.8-0.6h0m66.6 0.7h0m5.3-0.7h0m1.9-0.1h0m1.2-0.1h0m-2.7 0.9h0m0.4 0.5h0m0.6 0.1h0m-107.4 0.6h0m22 0.3h0m10.2-0.3h0m22.8-0.2h0m38.2 0.8h0m-50.8 0.5h0m8.3 0.6h0m2.9 0h0m7-0.8h0m-76.7 1.7h0m65.6-0.2h0m40.8-0.1h0m11.3 0.4h0m-114.2 0.8h0m47 0.1h0m12.2 0.1h0m4.9-0.6h0m51.1 1.5h0m2.1-0.7h0m-89 1.7h0m4.9-0.8h0m81.5 0.5h0m3.5-0.5h0m-118.2 1.2h0m73.3 0.3h0m-44 1.2h0m23.1-0.7h0m2.8 0.6h0m12.5-0.3h0m-70.7 1.1h0m-1.7 1.4h0m7 1.1h0m10.7 0.1h0m3.4-0.2h0m10.5-0.4h0m22.2-0.1h0m4.6 0.3h0m19.4 0.3h0m6.5-0.3h0m-83.8 1.3h0m55.9-0.7h0m-37 1.5h0m4.8 0.6h0m5.2-0.1h0m46.5 0h0m-72.9 1.7h0m18.2-0.9h0m-10.1 2h0m4.6-0.1h0m4.5 0h0m4.1-0.7h0m32.8 0.1h0m7.7 0.2h0m13.1 0.1h0m-59.1 0.8h0m4 0.5h0m37.8-0.5h0m13.5-0.4h0m-64.6 1.3h0m48.7-0.2h0m-50.6 1.1h0m68.8 0.1h0m-55.6 1.5h0m43.2 0h0m-53.4 0.4h0m1.3 0.2h0m70.8 0.6h0m-9.7 2.4h0m2.5 0.3h0m-62.4 8.3h0m6.8 2.4h0m0.9 0h0m9.1 0.6h0m2.8-0.1h0m-2.4 0.7h0m-16.8 1.2h0m9-0.4h0m1.3 1.2h0m-7.5 1.5h0m7.7 0.4h0m-2 1.2h0m2.4 0h0m4.2 0.6h0m-17.4 2.2h0m11.9 0h0m3.4 0h0m-12 1.6h0" stroke="#902096"/><path d="M171.6 37.7h0m-6.2 2.8h0m0 0.8h0m3.4 3h0m-11.1 3h0m2.7-0.5h0m-2.7 5.5h0m1.1 2h0m0.9-0.8h0m-0.2 1.2h0m-2.4 1.2h0m0.4 1.9h0m3.5 0h0m1 0.2h0m8.9 0.4h0m14.1 4.4h0m-0.1 1.2h0m-126.9 11.6h0m-0.7 3.5h0m39.5 0.7h0m0.7 1h0m-38.7 0.8h0m-0.6 6.1h0m140 52.7h0m-0.3 4.5h0" stroke="#301688"/><path d="M169.5 45.2h0m-11.2 5.4h0m21.6 7.9h0m-87.7 3.9h0m4.6-0.1h0m-20.2 6.8h0m4.4-0.4h0m-7.4 1.7h0m0.1-0.4h0m11.8 0.1h0m-20.7 0.7h0m3.5 0.1h0m0.7-0.2h0m-1.4 1.1h0m6.1-0.2h0m0.5 0.5h0m-12.6 1.1h0m12.1 0.3h0m-10.5 0.2h0m2 0.4h0m0.9 0.4h0m3.3-0.6h0m8.9-0.1h0m3.1 0.1h0m-8.2 0.9h0m-2.7 1.5h0m0.5-0.7h0m-3.2 1.5h0m4.7-0.3h0m-16.2 1.4h0m5.4 0.2h0m7.3-0.7h0m0.8 0.4h0m8.6-0.4h0m-18 1.7h0m4.8-0.3h0m6.6-0.5h0m-8 1.6h0m2.3-0.3h0m1.7 0.4h0m6.4-0.7h0m5.2 0h0m-14.7 1.1h0m1.6 0.2h0m-10.5 1.4h0m10.7-0.4h0m-9.1 1.2h0m4.8-0.5h0m6.3 0.5h0m6.4-0.3h0m3.1 0.6h0m-5.5 0.9h0m-9.7 1h0m1.9-0.5h0m4.9 0.3h0m0.5-0.4h0m-4.7 1h0m5.1-0.2h0m2 0.1h0m-6.3 1.5h0m0.8-0.4h0m4.7 0.6h0m4.3-0.2h0m-2.3 0.5h0m-14.1 1.1h0m3.4 0.3h0m-0.5 2.3h0m1-0.1h0m-0.8 0.5h0m10.2 0.9h0m-10.2 1.3h0m6.3 1.2h0m0.9 0.1h0m1.6 0h0m-10.1 1h0m14 0h0m-1.6 1.1h0m-5.3 3.3h0m1.6 1.6h0m80.4 16h0m-56.8 2.2h0m4.4-0.8h0m-0.3 1.7h0m2 0.9h0m-10 2.1h0m6.3 0.4h0m20.1 0h0m5.3-0.2h0m-37 1.6h0m2.9 1h0m43.2-0.6h0m-31.4 1.4h0m39 1h0m-34.8 1.4h0m10.9-0.2h0m2.1-0.3h0m6.6-0.2h0m-14.8 1.2h0m-4.6 1.6h0m4 0.1h0m37-0.4h0m-55.5 1h0m38.5-0.4h0m14.2-0.1h0m-39.9 1.3h0m14.7 0h0m68.2 0.3h0m-93.1 0.3h0m94.3 1.7h0m-43.5 0.5h0m-58 0.9h0m106.5 0.6h0m0.4-0.6h0m-107.7 1.1h0m39.2 0h0m71.9 0h0m-4.4 1.7h0m0.1-0.5h0m-109.8 1.2h0m5.5 0.3h0m7.7-0.6h0m51.1 1h0m43.2 0.1h0m4.9 0.5h0m-2.6 2h0m-2.8 0.3h0m3.4 0.7h0m0.1-0.5h0m-87.1 1.5h0m17.9-0.8h0m10.4 0.4h0m0.5 0.3h0m8.8 0.1h0m-70 0.5h0m55.9 0.1h0m23-0.5h0m-25.3 1.3h0m66.8-0.1h0m-57.6 1.8h0m16.3-0.1h0m5.3-0.8h0m36.8 0h0m0.9 0.6h0m-64 1.1h0m-54.1 0.3h0m51.3 0.2h0m-55.9 1.2h0m7 0.4h0m-4.6 0.9h0m24.2-0.7h0m1.5 0.8h0m5.1 0h0m-27.7 0.5h0m9.9 0.6h0m5.5-1h0m6 0.2h0m-24.1 1.5h0m20-0.2h0m7-0.1h0m2.7-0.1h0m27 0.6h0m-56.7 0.7h0m7.6-0.2h0m20.5 0.2h0m26.6 0.1h0m3 0.6h0m5.5 0.4h0m-54.9 0.6h0m48.8-0.1h0m13.1 0.5h0m0.7-0.3h0m-61.7 1.6h0m9.3-0.3h0m40.2 0h0m16.7-0.1h0m-22.1 1.1h0m22.6-0.3h0m-69 0.6h0m15.4 0.7h0m38.8-0.4h0m-40 1.7h0m35.1-0.6h0m-49.6 1.1h0m8.3 1.2h0m-1.8 0.5h0m0 0.9h0m58 0.8h0m-11 2.3h0m2.3-0.2h0m-36.9 7.1h0m-15.2 2.3h0m8.5-0.3h0m1.4 0.6h0m8 0h0m1.8-0.6h0m-22 1.1h0m4.5 0.4h0m0.9 0.7h0m6.4 0.4h0m1.8-0.7h0m1.9 0.7h0m-3.3 0.6h0m-5.6 0.7h0m5.2 0.1h0m9.8 0h0m0.2 0h0m-18.9 1.5h0m6.7-0.6h0m1 0.3h0m0.8 0.6h0m8.3-0.5h0m-18.1 1.1h0m2.9-0.4h0m0.9 0.5h0m7 0.3h0m2.3 0.1h0m0.1-1h0m-8.9 1.4h0m9.4 0.3h0m0.6-0.5h0m-6 1.5h0m1.3-0.6h0m3.4 0.3h0m2.8-0.1h0m1.6 0.2h0m0.6 0.3h0m-15.1 0.3h0m5.6 0.4h0m0.7 0.4h0m3.9-0.4h0m3 0.3h0m0.3-0.5h0m-6.3 1.4h0m2.4-0.6h0m3 0.9h0m-4.1 1h0m1.6 0h0m0.5-0.2h0m-11.2 0.9h0m5.1-0.7h0m-1.5 1.5h0" stroke="#9d288c"/><path d="M164.2 37h0m5.4 1.1h0m1.3 13.5h0m-9 2h0m14.7 5.2h0m-2.4 1.8h0m3.9 1.6h0m5.8 1.4h0m-93.5 1h0m-3.5 1.3h0m0.5 3.2h0m-15.9 1.1h0m0.5-0.5h0m0.6 0.1h0m4.8 0.5h0m-14.7 0.7h0m11.5 0.2h0m0.9-0.7h0m-6 1.1h0m7 1.2h0m-8.6 1.5h0m2.3-0.3h0m-9.1 0.8h0m3.3-0.1h0m4-0.2h0m3.6 0.8h0m7.5-0.6h0m2.6 1.3h0m-20.6 0.7h0m1.4 0.1h0m6.2 0h0m3.7 0.5h0m5.9-0.6h0m-20.9 1.6h0m2.3 0h0m6.7 0h0m-4.5 0.6h0m28.6-0.4h0m-15.9 2h0m-11.8 0.8h0m9.8-0.2h0m-0.9 0.5h0m-16.3 1.9h0m7.8-0.5h0m2.7-0.2h0m3 0.4h0m0.9 0h0m5.1 0.2h0m-17.9 0.7h0m8.3 0.1h0m3.8 0.3h0m-13.3 0.4h0m1.9 0.3h0m6.2-0.1h0m6.5 2.2h0m-11.3 0.8h0m6.2-0.6h0m9.2 0.9h0m-14 0.4h0m0.3 0.3h0m1.9 0h0m2 1.4h0m13-0.4h0m-6.7 1.1h0m-10.9 0.9h0m4.7-0.4h0m5.6 0.8h0m4-0.6h0m-15.2 2.2h0m1.4-0.5h0m3.9 0h0m-4.6 1.6h0m5.1-0.7h0m1.2 0.7h0m0.4 0h0m-1.6 0.3h0m1.2 0.3h0m5 0.6h0m-9.9 0.8h0m2-0.1h0m2.6 0.2h0m0.6-0.3h0m-4.7 0.6h0m2.9 0.2h0m2.1-0.1h0m0.7 0.1h0m0.1 1.5h0m-1.4 0.9h0m0.2-0.5h0m5.4 0h0m0.3 0.5h0m-5.9 1h0m6.3-0.3h0m-4.2 2.2h0m-1.3 1.1h0m21.6 14.7h0m52 0.1h0m-51.8 1.2h0m11 0.1h0m-7.7 0.3h0m-5.4 1.2h0m44.6 0.2h0m1.9 0.1h0m-12.8 3.8h0m19.7 0.3h0m11.2 0.1h0m-44.7 0.9h0m13.6-0.1h0m0.8-0.5h0m14 0.6h0m-18.6 1.3h0m3.4 2.5h0m-3 0.6h0m-31 1.4h0m1.4 2.7h0m56.1 1.4h0m51.2 0.7h0m-97.1 1.3h0m26.8-0.3h0m67.1 0.2h0m-55.7 0.8h0m-30.5 2.5h0m18-0.3h0m0.2-0.4h0m68.1 0.5h0m-63.5 1.3h0m0.6 0h0m22.3 0h0m38.1-0.2h0m1.2 0.2h0m4.6 0.9h0m-4.2 1.5h0m0.5 0.7h0m-117.4 0.6h0m0.1-0.4h0m72.9 0.2h0m43.9 0h0m-118.1 1.4h0m51-0.3h0m4.4 0.2h0m-56.5 0.9h0m120.5 0.1h0m1.4-0.4h0m-70.6 1.4h0m2.2 0.2h0m18.9-0.4h0m12.3-0.2h0m-54.7 1.1h0m24.1 2.3h0m2.8-0.1h0m26.1 0.4h0m-24 0.1h0m-38.4 1.3h0m11-0.2h0m26.2 0.3h0m-2.1 1.2h0m-34.1 0.8h0m7.6 0.3h0m-23.9 1.2h0m15.5-0.2h0m-18.1 0.7h0m57.4 0.1h0m19.7 0.2h0m-9.5 0.4h0m-4.5 1.6h0m12.4-0.6h0m-65.7 1.1h0m64.8 0.3h0m3.1-0.2h0m-8.3 1.5h0m3.8 0.1h0m-8.4 0.7h0m-52.8 1.3h0m62.4-0.4h0m-0.2 0.7h0m-6.9 2.9h0m3.8 1.7h0m-60.5 1.6h0m15.1 4.3h0m-1.1 0.4h0m2.3 0.9h0m-9.4 1.8h0m2.8-0.6h0m9.6 0.4h0m-11.8 0.5h0m-10.2 1h0m2.7 0.4h0m2.2-0.1h0m8.6 0.4h0m1-0.4h0m0.8 0.1h0m0.8-0.1h0m6.9-0.2h0m-21.6 1.1h0m0.1 0.3h0m3-0.6h0m5.5 0.2h0m1.7 1h0m8.5 0.4h0m1.2 0.3h0m-14.8 0.5h0m5.5-0.3h0m3.2 0.3h0m-15.9 1.3h0m1.5 1.2h0m15.2-0.4h0m-12.5 1.1h0m2.3-0.2h0m2.4-0.1h0m8.9 0.3h0m1.4-0.1h0m-18.6 0.5h0m0.6 0h0m4.5 2.4h0m4.4 0.2h0m-2.4 0.7h0m4.7-0.1h0m2.4 0.5h0" stroke="#962491"/><path d="M97 51.5h0m-0.5 0.8h0m-1.7 3.7h0m-3.3 3.3h0m8.4 1.2h0m-8.7 1.7h0m0.2 1.2h0m-4.1 1.8h0m-2.8 1.7h0m-3.1 1.5h0m3.7-0.6h0m-8.7 1.3h0m2.2 12.6h0m90.9 18.3h0m9.1 0.6h0m5.1 1.6h0m-12.2 0.6h0m5.4-0.2h0m-15.6 2.8h0m4.3-0.9h0m10.1 1.1h0m5.1 1.3h0m-20 0.8h0m-1.6 1.1h0m-6.9 1.5h0m9.7 0.1h0m1.9 0h0m1-0.7h0m13.9 0h0m0.1 0.1h0m-0.8 1.4h0m-29.3 0.8h0m7.9 0.5h0m3.2-0.1h0m7.1-0.9h0m6 1.5h0m-29.6 0.8h0m0.3-0.1h0m2.2 0h0m0.5-0.1h0m1.2-0.1h0m14.1 1h0m0.9-0.7h0m-22.1 0.8h0m26.4 0.4h0m-28.5 1.3h0m1.4-0.5h0m5.3-0.2h0m1.6 0.3h0m-5.5 0.8h0m7.3 0.3h0m11.5 0.3h0m2.2-0.3h0m12.3 0.2h0m-37.9 0.5h0m6.9 0.1h0m2.8-0.2h0m7.1 0.1h0m1.5 0h0m1 0.3h0m0.1 0.4h0m8-0.3h0m-70.3 1.1h0m4.6-0.5h0m37.5-0.1h0m15.1 0h0m6.8 0h0m1 0.2h0m3.9 0.7h0m11.9-0.7h0m-81.7 1.1h0m37-0.1h0m5.5 0.1h0m8.2-0.1h0m4.7 0.4h0m4.1-0.5h0m2.1 0h0m6.3 0.1h0m4.1 0.5h0m3.3-0.1h0m8.4 0.3h0m-43.5 0.2h0m5.6 0.5h0m4.4 0h0m9.7-0.1h0m-23.7 0.8h0m7.1-0.1h0m2.2-0.2h0m4.4 0.3h0m4.5 0.5h0m4.4-0.6h0m-23.3 1.3h0m1-0.4h0m16.7 0.7h0m1.1 0h0m18.8-0.6h0m-37.2 0.8h0m1.7 0.7h0m0.9-0.3h0m45-0.4h0m-89.3 1h0m17.5 0.5h0m38-0.3h0m3.4 0h0m3.5-0.1h0m5.8 0.5h0m8.1-0.4h0m-35.4 0.9h0m6.7 0.3h0m7-0.4h0m0.5 0.1h0m3.4 0.5h0m3.4 0.2h0m1.7-0.6h0m5.6 0.6h0m5.4-0.7h0m-28.5 1.4h0m8.7-0.3h0m1.8 0.3h0m7.4 0.2h0m1.7-0.7h0m14.2 0.6h0m-75.1 0.6h0m2.9 0.1h0m38.5 0.2h0m1.5 0.2h0m0.6-0.6h0m-39.1 1.3h0m4.6-0.1h0m14.6-0.2h0m1.5 0.4h0m30.8-0.1h0m1.2-0.5h0m-62.5 1.5h0m16.1 0.4h0m2.9-0.1h0m25-0.2h0m2.8 0.2h0m1.1-0.7h0m11.6 0h0m6.5 0.1h0m5.3 0.3h0m2.4 0h0m-36.6 1.1h0m4.1 0.4h0m5-0.9h0m7.6 0.1h0m7.3 0.4h0m7 0.1h0m0.5-0.4h0m-70.5 1.6h0m38.3-0.2h0m5.5 0h0m7.5-0.6h0m3.9-0.1h0m6.8 0h0m3 0.2h0m0.4-0.1h0m0.4 0.9h0m-57.6 0.8h0m8.1-0.5h0m18.3 0.1h0m1.2 0.5h0m1.9-0.8h0m3.7 0.7h0m1.5 0.1h0m3.5-0.6h0m0.6 0.5h0m0.4-0.8h0m3.6 0h0m7.4 0.5h0m2.2 0.1h0m11.7-0.5h0m24.7 0.7h0m-73.1 0.5h0m11.1 0.1h0m2.3 0.4h0m0-0.4h0m3.8 0.5h0m3.3-0.5h0m1-0.1h0m6.3 0.1h0m5.1 0h0m2.7 0.3h0m-34.2 0.8h0m5.4-0.4h0m4.6 0.4h0m5.6 0.1h0m0.6-0.5h0m0.4 0.1h0m1.6 0.2h0m0.9 0.5h0m6.7-0.9h0m5.7 0.5h0m1.7 0.1h0m-48.8 0.7h0m9.8 0.3h0m12.1-0.3h0m1.8 0.3h0m0.3 0.3h0m0.1-0.5h0m9.1-0.1h0m1.1 0h0m53.1-0.2h0m-69.3 1.3h0m1.5-0.4h0m3 0.3h0m0.6 0.2h0m1.2 0.1h0m0.4-0.6h0m5.4 0.8h0m-39.1 0.6h0m17.2 0.3h0m6.6-0.1h0m-24.7 1.2h0m24.7-0.5h0m5.1 0.3h0m-24.3 0.7h0m12.9 0h0m3.8 0h0m12-0.2h0m68.2 0.4h0m-106.9 1.9h0m16.3 0.2h0m21.7 0h0m-5.4 1.3h0m-10.8 0.3h0m14 0.2h0m66 0.5h0m1.2-0.9h0m-69 1.1h0m-3.3 1.1h0m0.8 0.1h0m77-0.2h0m-76.6 1.3h0m11.2 2.3h0m-29.8 2h0m-10.9 1.6h0m4 0.5h0m3.5-0.2h0m-1.5 0.9h0m-6.8 19h0m13 0.8h0" stroke="#d3615f"/><path d="M165.5 36.8h0m4.6-0.1h0m2.9 0.4h0m-9.7 0.8h0m-1.1 1.4h0m2.3-0.2h0m0.8 0.1h0m4.2 0.1h0m3.4-0.4h0m-13.1 0.9h0m1.1-0.3h0m1.8 0.8h0m2.7-0.2h0m2.9 0h0m2.5 0.2h0m1-0.5h0m-10.5 0.8h0m3.9 1.4h0m-6.3 1.3h0m0.7-0.2h0m11.4-0.6h0m-6.6 1.9h0m-7.2 0.5h0m4.7 0h0m-5 1.4h0m4.7 0h0m2.3-0.5h0m5.3-0.2h0m-7.9 1.8h0m-1.6 0.6h0m1.6 0.1h0m2.2-0.4h0m-2.6 1.1h0m2.3 0.4h0m2.4-0.3h0m-8.3 1.5h0m1.8-0.5h0m1.7-0.4h0m1.2 0.2h0m7.7 0.6h0m1.1-0.1h0m1 0h0m-11.3 0.7h0m1.5 0.1h0m-3.3 1.8h0m1.3 0.4h0m3.7-0.3h0m2.5-0.3h0m6.6 0.6h0m-16 0.7h0m3.6 0.3h0m5-0.4h0m1 0.2h0m1.7 0.3h0m-12.2 0.3h0m3.8 1.1h0m0.4 0.5h0m3.6 0h0m5.7 0h0m-8.8 1h0m0.1 0.2h0m0.8-0.6h0m6.8 0.1h0m1.2 0h0m-5.5 1.6h0m1.2-1h0m-4.2 1.9h0m17.9-0.8h0m-4 1.5h0m0.5-0.2h0m3.5 0.2h0m1.8 0h0m-5.2 1h0m2.2 0.3h0m0.2-0.3h0m1.4 0h0m-2.7 0.7h0m6.2 0.5h0m-3.7 0.4h0m2-0.1h0m-2 1.7h0m0.5 0h0m1-0.5h0m5.5 0.1h0m0 0.8h0m-110.9 3.9h0m-7.8 1.9h0m7 0.1h0m-6 1.5h0m-0.7 1h0m-7.8 1h0m8.4-0.3h0m-10.2 2.7h0m0.9-0.5h0m10.1-0.3h0m-10.8 1.6h0m1-0.4h0m6.9-0.1h0m7.5 0.6h0m10.2 0h0m-28.3 1h0m2.7 0h0m6.2-0.1h0m5.1-0.3h0m-11.1 1.2h0m13.4-0.4h0m14.8-0.2h0m-27 1.4h0m1.4-0.1h0m0.5 0.9h0m2.8 0.3h0m9.2-0.4h0m-12.1 1h0m5.4 0.5h0m7.1-0.1h0m-15.5 1.3h0m1.1 0.1h0m2.2-1h0m-6.5 1.8h0m4.5-0.5h0m3.3 0.2h0m6.4 1.9h0m-13.5 0.9h0m0.7 0.6h0m1.4-0.8h0m3.4 0.2h0m-2.2 0.8h0m6.2-0.1h0m5.4 0.8h0m-12.4 0.9h0m10.3-0.4h0m-9.8 1.4h0m10.8 0.3h0m-12.6 0.8h0m6.7-0.3h0m3.5-0.2h0m3.1 0h0m-10.7 1.9h0m1.2 1.5h0m6.6-0.5h0m-5 1.8h0m1.8 0.3h0m7.4 1.7h0m-8.9 1.4h0m1 0.4h0m2.9 0.7h0m18.7 35.8h0m107.7 2.6h0m-1.2 0.3h0m4.5 0.6h0m-3.8 0.7h0m5.3-0.1h0m-105.3 2.2h0m-17.7 0.6h0m65.4-0.2h0m-21.6 1.4h0m78.8 0.7h0m-2.9 1.4h0m0.1 1.4h0m0.7-0.9h0m1.3 0.9h0m-4.4 0.8h0m5.8-0.5h0m-2.7 1.6h0m-3.5 0.7h0m3.4 0.4h0m-105.2 3.8h0m58.9 1.2h0m-68.2 0.5h0m56.6 0.5h0m-60.3 1.2h0m66.8 0.1h0m4.6 2.7h0m-54.7 2.7h0m40.2 0.9h0m-34.6 11h0m-4.3 1.5h0m1.8 1.2h0m2 2.1h0m-7 3.2h0m-10.3 1.3h0m21.5 0.8h0m-18.4 0.5h0m14.6 0.5h0m2-0.2h0m-16.7 1.9h0" stroke="#7a169c"/><path d="M162.6 39.7h0m-2.1 1.8h0m0.2-0.9h0m-0.5 5.2h0m-3.8 6.5h0m4.2-0.4h0m1.9 3.8h0m4 2.3h0m13.5 1.5h0m-19.3 0.2h0m20.6 2h0m4.1 2.5h0m-2.8 0.5h0m-97.5 12.5h0m10.3 2.1h0m103.7 62.1h0m-3.3 0.4h0m4.6 1.2h0" stroke="#3b158d"/><path d="M96.7 50.1h0m3.4 3.4h0m2.6 1h0m-2.6 3.9h0m-9.9 5h0m2-0.2h0m3-0.1h0m-2.4 0.7h0m-1.6 0.8h0m-9.1 3.2h0m2.5 0.7h0m-7.6 0.9h0m5.6-0.7h0m-4.7 1h0m2.9 0.5h0m3.7 1.1h0m0.2 0.8h0m-5 1h0m1.8 0.3h0m-9.1 0.6h0m2.9-0.3h0m4 0.4h0m2.7-0.1h0m-18.6 1.4h0m0.1-0.5h0m12.3-0.3h0m1.6 0.9h0m3.6-0.7h0m0.8 0.2h0m-13.7 1.1h0m7.9 0.1h0m0.6 0.2h0m4.2 0h0m-9.5 1.1h0m5.8-0.3h0m3.4 1.3h0m1.3-0.9h0m-5.9 1.7h0m5.2 0.7h0m-13.5 0.5h0m10.3 0.1h0m-13.8 1.6h0m7.9 1h0m6.5-0.6h0m-6.6 1.7h0m0.9-0.6h0m5.8 0.3h0m-20.9 2.1h0m14 0.4h0m2.6 0h0m-10.7 0.1h0m7 0h0m0.6 0.8h0m6.3-0.3h0m-3.6 1h0m5.5-0.4h0m-7.3 1.6h0m3.8-0.6h0m-2.2 1.7h0m-0.8 0.8h0m0.6 0.1h0m2.9 0.1h0m1.5-0.1h0m-13.4 1.6h0m12.5-0.2h0m-2.8 3.5h0m-3.3 1.4h0m98.7 3.1h0m-102.6 2.4h0m95.7 7h0m2.6 1h0m-13.6 0.9h0m0.5-0.2h0m-12.9 3.8h0m-43.6 2.8h0m41.6-0.8h0m4.1 0.5h0m8.6-0.5h0m-58.4 1.4h0m1.5 0h0m41.1-0.5h0m2.8 0.1h0m10.7 0.8h0m-56 0.2h0m3.7 0.7h0m47.2 0h0m3.3-0.4h0m-57.1 1.2h0m8.1 0.2h0m32.4-0.2h0m9-0.3h0m4.6 1.5h0m-55.9 0.5h0m1.1 0.2h0m9.4 0h0m45.1 0h0m3-0.4h0m24.6 0.7h0m-79.1 0.2h0m33.2 0.5h0m5 0.4h0m2.8-0.2h0m6.1-0.3h0m-50.1 1h0m2.5 0.3h0m5.3 0.1h0m18-0.5h0m-26.1 1.3h0m7.8 0.2h0m2.5 0.2h0m6.7-0.9h0m0.6 0.6h0m19.4-0.7h0m4.3 1h0m-38.1 0.5h0m1.5 0.3h0m3.7-0.5h0m15.7-0.1h0m7.4-0.2h0m7.2 0.4h0m34.2 0.5h0m-73.4 0.7h0m26.3-0.3h0m0.4 0.3h0m5.5-0.5h0m3.2-0.1h0m8.4 0.8h0m10.3-0.1h0m-50.8 0.5h0m32.6 0h0m-38 1.7h0m2.3-0.4h0m16.1-0.5h0m3.2 0.3h0m5.7-0.1h0m2.6 0.6h0m6.6 0h0m1.7-0.8h0m11.1 0.5h0m0.4 0.1h0m8.6-0.5h0m0.5-0.1h0m5.1 0.9h0m-64.2 0.2h0m9.7 0.3h0m6.7 0.4h0m2.2-0.1h0m25.7-0.5h0m-31.4 1h0m22.1 0.5h0m33.8-0.1h0m-67.6 1.3h0m2.3-0.6h0m4.9 0.3h0m6.7-0.1h0m11.2 0.2h0m18.2-0.5h0m11.5 0.8h0m10-0.9h0m-65.7 1.9h0m1.9-0.5h0m11.9-0.3h0m4.3 0.3h0m4.6 0.1h0m12-0.1h0m13.9-0.1h0m-50 0.7h0m4.9 0.7h0m6.2-0.2h0m5.3-0.5h0m3 0.9h0m3.8-0.6h0m0.9 0.6h0m1.5-0.4h0m1.9-0.5h0m21.8 0.4h0m43.3 0.4h0m-85 0.5h0m8.7-0.4h0m0.7 0.1h0m0.8 0.3h0m7.2 0.5h0m12-0.6h0m21.4 0.2h0m2.6 0.5h0m-43.4 0.9h0m15.2-0.5h0m4.5 0h0m1.6 0.3h0m4.5 0.1h0m1-0.4h0m2.5 0.3h0m2.9-0.3h0m2.8 0.4h0m20.2-0.4h0m25.5 0.2h0m2.9-0.3h0m-93.4 0.8h0m28.5 0.4h0m23.4-0.4h0m-62.3 1.7h0m17.8 0.1h0m2.4-0.6h0m0.3-0.2h0m7.5 0.7h0m9.3-0.2h0m2-0.3h0m4.8 0h0m2.3 0.4h0m53.3 0.1h0m9-0.6h0m-104.9 1.1h0m3.3 0.1h0m0.2-0.1h0m2.9-0.1h0m6.3-0.2h0m6.5 0.5h0m1.6 0.4h0m11.7 0.1h0m1.9-1h0m0.8 0.2h0m3.6 0.5h0m2.3-0.6h0m6.9 0.5h0m13.1 0.3h0m34.6-0.8h0m7.8 0.5h0m-109.6 1h0m8.9-0.3h0m10.6 0h0m1.6 0.3h0m5-0.5h0m2 0.4h0m15.1-0.3h0m56.1-0.1h0m3.7 0h0m6.1 0.3h0m-115.1 1.5h0m21.3-0.7h0m11.7 0.3h0m3 0.4h0m1.1-0.7h0m7.8 0.6h0m0.8-0.6h0m0.7-0.2h0m4.2 0.4h0m0.9-0.2h0m16.4 0.2h0m1.6-0.1h0m46.6-0.2h0m-103.5 1.7h0m6.4 0.1h0m9.3-0.7h0m7.6 0.5h0m10.5-0.3h0m10.2 0.6h0m6.7-0.8h0m10 0.2h0m9-0.3h0m32.5 0.4h0m1.5 0h0m-81.5 1h0m0.9 0.2h0m4.6-0.5h0m5 0.6h0m1.3-0.4h0m2.8-0.3h0m15.5 0.8h0m9.2 0.1h0m0.2-0.9h0m2.9 0.1h0m4.1 0h0m1.8 0.7h0m31.2-0.8h0m-105 1.5h0m25.6-0.6h0m1.6 0.2h0m18.2 0.7h0m8.7-0.9h0m12.2 1h0m0.7-0.4h0m3.5 0.3h0m29.7-0.4h0m-112.7 0.8h0m37.5 0.2h0m0.5-0.1h0m3.5-0.4h0m0.9 0h0m9.3 1h0m4.2-0.3h0m0.9-0.1h0m0.3 0.2h0m11.2-0.2h0m4.6-0.3h0m3.2 0.1h0m2-0.4h0m4.9 0.7h0m0.8-0.5h0m-81.3 1.4h0m19-0.2h0m11.3 0.3h0m1.9 0h0m1.7-0.6h0m3-0.1h0m0.5 0h0m0.1 0.2h0m1.6 0.4h0m0.3-0.3h0m9 0.1h0m1.4-0.1h0m9.6 0.2h0m3.9-0.2h0m2.1 0.3h0m6.7 0.1h0m0.3-0.6h0m6.1 0.6h0m0.9-0.3h0m1.9-0.1h0m-78 1.4h0m50.4-0.2h0m0.9 0.2h0m4.8-0.3h0m0.3-0.4h0m2.7 1h0m16.3-0.3h0m1 0.1h0m0.9-0.1h0m2.9-0.5h0m34.1 0h0m-121.1 1.8h0m2.1-0.8h0m3.5 0.8h0m1.3 0h0m2-0.5h0m11.8 0.5h0m11.6-0.7h0m1.1 0.7h0m3.6-0.9h0m2-0.1h0m16.8 0.4h0m1.7 0.5h0m2.3 0h0m0.3-0.2h0m2.5 0h0m4.1 0.3h0m16.3-0.4h0m0.8 0h0m-53.7 1.4h0m9.8-0.2h0m12.4-0.5h0m6-0.3h0m3.1 0.8h0m1.9-0.1h0m2.3 0.2h0m21.4-0.1h0m-79 1h0m1.9-0.7h0m17.3 0.5h0m7.3 0h0m3-0.2h0m16.8 0.2h0m1.3 0.1h0m4.4-0.3h0m2.7-0.3h0m1.3 0.5h0m0.8 0.1h0m1.9-0.2h0m13.2-0.2h0m2.8 0.4h0m2.5-0.4h0m-73.3 1.2h0m17.9-0.5h0m3.9 0.8h0m1.9 0h0m1.9-0.6h0m1.8-0.2h0m17.5 0.2h0m6.8 0.2h0m3.5 0.3h0m19-0.7h0m0.8 1h0m-78.1 0.4h0m3.4-0.1h0m12.9 0.3h0m30.9-0.1h0m1.9 0.2h0m0.3 0.2h0m1.9-0.4h0m0.6 0.3h0m2.5-0.1h0m4.7 0h0m0.8 0h0m10.1 0.2h0m1.5-0.6h0m1.6 0.6h0m0.7-0.5h0m-80.7 1.6h0m0.9-0.5h0m3.5 0.5h0m3.6-0.9h0m0.4-0.1h0m1.8 0.6h0m1 0.3h0m12.9 0h0m3.8-0.8h0m4.7 0.4h0m29.8-0.2h0m6.8-0.1h0m7.7 0.3h0m1.8-0.1h0m4.2 0.6h0m-78.9 0.4h0m0.9-0.3h0m1 0.8h0m1.9-0.5h0m3.3 0.5h0m7.5 0h0m36.5-0.8h0m2.7 0.8h0m3.4-0.6h0m4.9 0.2h0m2.5-0.3h0m1.2 0.3h0m1.6 0.3h0m0.2-0.2h0m2.9-0.5h0m5.4 0.3h0m4.3-0.2h0m-83.3 0.9h0m4 0.7h0m1-0.3h0m1.1-0.2h0m18.2 0.3h0m3-0.2h0m34.2 0h0m0.5 0.5h0m3.8-0.6h0m8.3 0.6h0m2.4-0.1h0m0.9 0.1h0m3.2-0.7h0m-78.1 1h0m1.9 0.5h0m0.9 0.2h0m4.2-0.3h0m0.4 0.2h0m1.9-0.6h0m45.3 0.5h0m6.1 0.1h0m3.1-0.1h0m1.3-0.2h0m4.7-0.2h0m6.6 0.3h0m2.5 0.3h0m-77.1 0.4h0m7.2-0.2h0m2.1 0.4h0m0.1 0.4h0m2.3-0.2h0m1.2-0.2h0m40.7 0h0m3.2 0.5h0m1.2-0.2h0m3.5 0.2h0m2.8-0.9h0m0.6 0.8h0m0.7-0.3h0m1.6 0.2h0m2.6-0.6h0m5.5 0.8h0m0.1-1h0m-71.8 1.2h0m0.7 0.1h0m1.4 0h0m8-0.2h0m4.4 0h0m1.7 0.4h0m3.5 0.3h0m26.3-0.6h0m1.4 0.2h0m8.2 0.1h0m1.7-0.4h0m8.2 0.3h0m5.5 0.2h0m-63.6 1.4h0m0.8-0.8h0m2.6 0.5h0m35.8-0.1h0m1.7-0.4h0m1.7 0h0m5.4-0.1h0m4.1 0.8h0m8-0.5h0m1-0.3h0m1.3 0h0m2.7 0.5h0m2.2-0.4h0m-76.9 1.7h0m6.3-0.4h0m6.5 0h0m2.1 0h0m2.1 0.3h0m1.6-0.7h0m30.5-0.1h0m1.8 0.3h0m4.2-0.3h0m1.4 1h0m1.7-0.1h0m0.4-0.7h0m3.8 0h0m1.8-0.1h0m1.3 0.3h0m8.3 0.1h0m2.1-0.5h0m1.2 0.9h0m-67.6 0.9h0m3.6-0.2h0m3-0.5h0m1.4 0.7h0m0.5-0.3h0m47.3-0.3h0m0.8-0.2h0m2.4 0.9h0m0.7-0.4h0m1.2 0.4h0m2.2-0.5h0m3.3 0.5h0m-24.4 0.9h0m4.2-0.7h0m3.6 0h0m2.8 0.6h0m3.4-0.1h0m1.6 0.3h0m0.6-0.2h0m0.9 0.1h0m4.7-0.1h0m1.8-0.4h0m0.7 0.4h0m-72.8 0.7h0m0 0.4h0m0.4-0.4h0m1.9 0.4h0m6.5-0.4h0m43.1 0.5h0m0.8-0.5h0m7 0.1h0m3-0.2h0m5.7 0.6h0m0.6 0h0m3.4-0.7h0m-69.1 1.1h0m2.4-0.1h0m1.9 0.3h0m1.5-0.4h0m40.2 0.1h0m6.7 0.4h0m0.7-0.2h0m7.5 0.4h0m2-0.4h0m-11 0.9h0m3.2 0.4h0m7.4-0.4h0m5.1-0.1h0m1.4 0h0m-20.2 1.1h0m1.3 0.1h0m1 0.4h0m2.5-0.8h0m1.8 0.5h0m1.8-0.3h0m1.7 0.7h0m0.1-0.6h0m0.4 0.4h0m2.1 0.3h0m4.5-0.4h0m-13 0.5h0m0.4 0.6h0m5.5 0.2h0m7-0.8h0m0.3 0.6h0m-8.7 0.6h0m-3 1.4h0m1.8 0.2h0m1-0.7h0m2.5 0.3h0m0.7 0.4h0m-4.8 0.5h0m5.8 0h0m-60.2 2.5h0m2-0.2h0m9.3 0h0m0.6 2.2h0m2.4 0h0m1.6-0.1h0m-3.2 0.9h0m-12.2 0.4h0m16.4 0.7h0m-11.8 1.1h0m-2.3 2.1h0m8.9-0.8h0m1.8 0.5h0m5.9-0.7h0m-18.9 1.9h0m4.4-0.5h0m7.7 0.5h0m-16.3 0.3h0m18.1 0.5h0m5.1 0.1h0m-6.5 0.8h0m2.3-0.1h0m-15.6 1.4h0m7.3-0.5h0m6.3 0.2h0m4.2 0.3h0m1.2-0.5h0m-12.4 1h0m-5.3 1h0m16.8-0.1h0m-3.9 1.1h0m-11.2 1.2h0m3.9 0.3h0m2.9-0.6h0m-9.4 1.2h0m1.9-0.5h0m2.4 1.6h0m5.8 1h0" stroke="#b63f75"/><path d="M182.6 100.9h0" stroke="#eff82a"/><path d="M91.7 60.5h0m0.6 0.4h0m2.7 1.5h0m2.3-0.4h0m0.8-0.5h0m-5.7 2.5h0m-3.1 2.2h0m-8.4 1.3h0m3.3 0.2h0m1.1 0.5h0m1.3 0.9h0m-1 0.7h0m0.9 0.6h0m-10 0.8h0m6.2-0.7h0m2.9 0.9h0m-7.2 1.9h0m-4.8 0.8h0m11.3 0h0m-8.5 7.7h0m-2.2 1.6h0m6.4 0.5h0m-4.5 3.6h0m-3.5 2.6h0m3.6 3.2h0m-2.1 1.9h0m105.8 2.5h0m-1.3 6.4h0m-20.7 2.1h0m3.1 0.5h0m7.9 1.7h0m4.9 0.9h0m-23 0.7h0m2.7 0.4h0m1.7-0.2h0m9.4-0.2h0m-11.3 1.4h0m17-0.2h0m4.3 0.9h0m-26.1 2.2h0m1.7-0.1h0m-12.2 1h0m2.7 0.3h0m10-0.9h0m-10.6 1h0m11.5 0.3h0m-5.8 0.9h0m23.3 0.4h0m-26.9 1.2h0m-52.7 0.4h0m5.1 0.2h0m43 0.2h0m25.1-0.3h0m-65.8 0.9h0m2-0.1h0m30.5 0.7h0m4.7-0.3h0m0.4-0.5h0m0.8 0.5h0m4.1-0.5h0m14.6 0.4h0m2.5 0.3h0m2.6-0.6h0m2.8 0.5h0m-74.9 0.8h0m1-0.1h0m0.3-0.2h0m43.2 0.7h0m11.3-0.8h0m4.4 0.6h0m9 0h0m3.8 0.1h0m12.6-0.3h0m-78.2 0.9h0m3.7-0.1h0m29.8 0.3h0m4.1 0.3h0m7.1-0.3h0m1.7-0.1h0m3.4 0.3h0m4.8-0.7h0m11.9 0.8h0m1 0.1h0m-76.5 0.9h0m5-0.3h0m6.8 0.3h0m35.7-0.5h0m2.5-0.1h0m19 0h0m2.8 0.7h0m6.2-0.7h0m3.4-0.1h0m7.6 0h0m1.8 0.4h0m-90 0.6h0m2 0.4h0m4.9 0h0m5.4 0h0m4.7-0.3h0m32.1 0h0m6.1 0.1h0m3.2 0.4h0m2.1-0.7h0m17.6 0.7h0m4.6-0.6h0m-76.2 1.7h0m2.5-0.5h0m7.7 0.5h0m0.2-0.4h0m0 0.4h0m18.1-0.2h0m18.9 0.1h0m4.8 0.1h0m23-0.5h0m4-0.1h0m-74.2 1.4h0m2.8 0.2h0m23.5-0.2h0m1.8-0.5h0m4.9 0.1h0m2.4 0.4h0m2.8-0.1h0m16.4-0.4h0m8 0.7h0m-71.2 0.2h0m2.2-0.1h0m4.2 0.9h0m2.2 0.1h0m6.4-0.7h0m4.1 0.7h0m46.1 0h0m-56.1 0.8h0m1.5 0h0m2.2-0.1h0m5-0.2h0m2.6 0.3h0m29.4-0.4h0m7.4-0.2h0m2.5 0h0m4.7 0.2h0m7.2 0.4h0m4.6-0.6h0m-75.4 1.1h0m9.5 0.1h0m6.9 0h0m8.3-0.3h0m3 0.6h0m3.6 0.1h0m9.8 0h0m0.9-0.4h0m1.8 0.1h0m9.1 0.2h0m15.8-0.3h0m-64.2 0.7h0m2.4 0.8h0m31.9-0.1h0m3.5 0h0m0.4-0.4h0m8.9 0.2h0m-54.2 0.7h0m1 0.5h0m4.1-0.2h0m2-0.1h0m2.3 0.3h0m1.5-0.7h0m0.2 0.4h0m8.3 0.1h0m2.4-0.3h0m5.2 0.4h0m12.6-0.3h0m4.6-0.1h0m5.6 0.1h0m11.5-0.4h0m4.1 0.4h0m-63.5 1.5h0m15.7-0.2h0m2.4-0.5h0m11.3 0.8h0m5.3-0.6h0m8.9 0.2h0m0.2-0.4h0m0.6 0.6h0m3.6-0.2h0m1.2 0.4h0m3.8-0.8h0m-50.9 1.2h0m0.2-0.4h0m7.5 0.2h0m8.4 0.2h0m4.3 0h0m10.9 0.4h0m3 0.1h0m7.3-0.5h0m4.1 0.3h0m1.1 0.1h0m13.3-0.2h0m-59.9 0.6h0m0.7 0h0m2.4 0.4h0m9.3-0.4h0m14 0.7h0m3.2-0.8h0m0.5 0.5h0m0.8 0h0m6.6-0.2h0m2 0.3h0m1 0.2h0m2.4-0.7h0m5.5 0.2h0m-53.3 1h0m2.1 0.2h0m9.7 0.3h0m2.5-0.8h0m0.6 0.2h0m2.2 0h0m12.5 0.6h0m1-0.4h0m1.5 0.5h0m0.8-0.4h0m2 0.1h0m7.9 0.2h0m2.7-0.4h0m2.6 0.2h0m4 0.1h0m0.7-0.3h0m17.2 0.4h0m19.3-0.5h0m-78.5 1h0m6.9-0.2h0m2.2 0.2h0m10.3-0.1h0m1.1 0.1h0m13.9 0.1h0m4.9 0h0m-43.8 1.4h0m21 0h0m67.1-0.7h0m2.8 0.8h0m0.7-0.1h0m-72.3 0.7h0m11.1 0.3h0m-35.6 0.9h0m15.7-0.7h0m14.9-0.1h0m35.5 0.2h0m-66.5 1.3h0m11.2-0.1h0m1.5-0.3h0m5.3 0.3h0m75.1-0.2h0m6.9 0.7h0m-105.9 0.6h0m1.7-0.1h0m5.7-0.1h0m12.3 0h0m25.7 0.1h0m11.8 0.5h0m43.8-0.4h0m-95.5 0.8h0m13.6 0.4h0m5 0.2h0m10.4-0.2h0m-12.4 1.1h0m4.5 0h0m8.6-0.2h0m38.9 0.3h0m26.3-0.4h0m-105.8 0.6h0m11.5 0.7h0m13.2 0.1h0m3.7-0.1h0m36.4-0.7h0m-54.4 0.9h0m26.5 0.7h0m12.4-0.2h0m54.2-0.1h0m5.5 0.2h0m1.3-0.3h0m-59.4 0.7h0m-43.9 1.5h0m55 0.1h0m-26.9 0.7h0m36.2 0.5h0m-47.3 0.4h0m4 1.6h0m28.2-0.7h0m-53.3 1h0m9.6 0h0m5.1 1.7h0m55.5 0.1h0m-59.8 0.9h0m-5.1 0.4h0m38.8-0.1h0m11.9 0.4h0m14.8-0.1h0m-24.5 2.4h0m13.7-0.1h0m1.7-0.5h0m9.1 0.6h0m-74.7 1.4h0m53.4 0.6h0m-45.9 0.7h0m65.3-0.4h0m-9.3 1.5h0m4.1-0.4h0m1.4 0.3h0m-65.9 1.4h0m51 0h0m5.2 0h0m-45.2 0.3h0m54.1 0.5h0m1.1-0.3h0m6.9 0.6h0m-57.7 1h0m42.4 1.2h0m14.4 0.8h0m0.3-0.8h0m-12.3 1.3h0m1.9 3.5h0m-56.1 1.7h0m57.7-0.2h0m-55.2 0.5h0m5.4 0h0m-10.9 1.3h0m8.6 1.1h0m-9.2 1.2h0m4.7 1.7h0m11.9 1.7h0m-4.8 10.1h0m0.4 2h0" stroke="#c85367"/><path d="M181.8 96.7h0m-13.5 9.6h0" stroke="#f6d82e"/><path d="M95.4 51.3h0m2.6-0.5h0m3.8 1.7h0m-7.7 1.7h0m1.5-0.1h0m-2.2 1.2h0m1.3-0.5h0m-0.1 2.5h0m6.6 0h0m0.4-0.6h0m0.7 0.6h0m-11.9 4.1h0m3.7-0.8h0m3 0.4h0m-7.8 1.6h0m5 1.4h0m-9.8 4h0m1.1 1h0m-7.4 10.2h0m100.3 16.8h0m-5.7 2.9h0m6.2 0.9h0m-12.8 1.4h0m10.7 0h0m-8.7 0.6h0m0.5 0.2h0m1.7 2.2h0m1.7 0.1h0m-13.5 2h0m17.7 0.7h0m-21.5 1.3h0m1.7 0.9h0m4.6 0.1h0m-9.7 0.7h0m5.2 0.2h0m13.6 0.2h0m2.7-0.2h0m-20.5 1.2h0m16.8-0.6h0m-18.1 1.3h0m2.8 0.1h0m4-0.5h0m6.7 0.8h0m1.5-0.4h0m3.3-0.1h0m-20.6 1h0m7.8 0.4h0m14.4 0h0m-28.6 1h0m5.7-0.6h0m5.3 0.2h0m1.6 0.2h0m1 0h0m5.9-0.4h0m3.6 0.6h0m12.3-0.8h0m-36.2 1.4h0m2.1-0.3h0m10 0.5h0m-12.1 1.3h0m1.7-0.9h0m2.3 0.1h0m9.9 0.5h0m9.7 0.2h0m8.4 0.1h0m1.8-0.7h0m2.6 0.5h0m3.2-0.5h0m-46.6 1h0m8.5-0.1h0m1.1 0.3h0m5.5 0.2h0m12.6-0.2h0m-15 1h0m5-0.4h0m7.5 0.6h0m6.1 0.3h0m11.8-1h0m-37.3 1.7h0m11.2-0.7h0m24.6 1h0m-26 0.2h0m2.6 0.6h0m2.5-0.1h0m3.1 0.2h0m11-0.1h0m4.3-0.5h0m-39.1 0.9h0m0.7 0.6h0m8.9 0.1h0m12.5-0.3h0m11.8 0.2h0m-34.9 0.5h0m25.2 0.1h0m3.8-0.4h0m8.6 0.3h0m4.2 0h0m-37 1.2h0m10.1 0h0m10.1-0.1h0m0.8 0.5h0m2.2-0.4h0m-74.2 0.9h0m52.4 0.6h0m0.8-0.4h0m4.4-0.4h0m5.7-0.2h0m0.9 0.5h0m0.1 0.4h0m9.3-0.1h0m5.1-0.2h0m-61.7 0.6h0m29.2 0.6h0m2.5-0.4h0m13.6-0.1h0m0.7 0.1h0m9.4 0.1h0m6 0h0m0.9-0.4h0m3.7 0.7h0m-42 0.4h0m9.7 0.8h0m4.8-0.5h0m10.5-0.2h0m1.6 0.6h0m7.7 0.1h0m6.8-0.7h0m-66.9 1.1h0m28.2 0.4h0m13.5-0.6h0m2.2 0.4h0m5 0h0m10.4 0.1h0m1.4-0.4h0m4.5 0.5h0m-83.6 0.9h0m2 0.1h0m44.9 0.1h0m14.9-0.2h0m4.7-0.1h0m7.7-0.3h0m1.7 0.5h0m4.3-0.1h0m-19.9 1.2h0m0.2-0.4h0m-16.3 0.7h0m5 0.1h0m4.4 0.1h0m0.7 0.4h0m6 0.1h0m1.5-0.1h0m1.5-0.7h0m1.5 0.4h0m1.6 0.1h0m8-0.2h0m-32.1 0.7h0m2.9 0.5h0m11.8 0h0m3.4 0.3h0m9.9-0.8h0m0.4 0.5h0m0.7 0h0m5.5 0.2h0m-37.6 0.9h0m7.7-0.5h0m9.6-0.1h0m2.3 0.8h0m5.7-0.3h0m8.6-0.3h0m3.1 0.7h0m-54.7 0.7h0m2.5-0.6h0m9.6 0.8h0m0.7-0.5h0m1-0.1h0m0.4-0.1h0m3.7 0h0m1.5 0.4h0m-6.2 1h0m0.6-0.5h0m1 0.8h0m1.7 0.1h0m2.3-0.8h0m0.6 0.2h0m2.8 0h0m2.3-0.2h0m2.3 0h0m23.6 0h0m4.9 0.1h0m-67.3 0.8h0m23.8 0.5h0m0.8-0.2h0m4.8 0h0m4.7-0.2h0m2.5-0.1h0m7.1 0h0m-25.2 1.4h0m10.3-0.5h0m1 0.3h0m3.9 0.5h0m1.6-0.7h0m9.6 0.2h0m-47.9 1.4h0m20.5-0.5h0m10.2-0.1h0m65.2 0.7h0m-76.4 0.7h0m7.7-0.2h0m2.9 0.6h0m0.1 0.4h0m-13.8 1.5h0m14-0.2h0m0.5-0.1h0m-45.2 1h0m28.6 0.4h0m7.7-0.1h0m1.2-0.4h0m-40.2 1.9h0m18.2-0.3h0m14.1 0.6h0m2.1-0.4h0m7.5 0.5h0m-17.4 0.6h0m15.8 0.1h0m1 0h0m0.2 0.7h0m-6.3 1.3h0m4.5-0.2h0m-31.4 6.7h0m9 19.8h0" stroke="#d86a5b"/><path d="M168.8 35.9h0m-2.6 0.9h0m4.1 0.4h0m-8.3 1.2h0m3.7-0.3h0m1.2 0.3h0m1.6-0.4h0m4.9 0.1h0m-12.2 1.3h0m6.3-0.5h0m6.4 0.5h0m-11.7 0.5h0m4.8 1h0m-8.9 1.5h0m1.2-0.9h0m2.3 0.3h0m11.3-0.3h0m-6.7 1.8h0m-7.7 1h0m7.3-0.1h0m4.7 0h0m-10.8 1.2h0m4.4-0.3h0m-5.8 0.6h0m3.5 0.4h0m2.6 0.3h0m2.1-0.3h0m-2.3 0.9h0m2.5-0.1h0m-9.9 0.8h0m5.6 0.3h0m0.3 0.1h0m-5.7 1.3h0m1.6-0.7h0m1.2 0.8h0m0.2-1h0m4 0.7h0m1-0.1h0m-7.8 2.1h0m9.8-0.2h0m-5.2 0.8h0m3.6-0.3h0m-6.7 2h0m0.7-0.6h0m2.2 0.3h0m2.9-0.7h0m2 0.9h0m-1.6 0.1h0m2.2 0.6h0m5.8 0.2h0m-13.1 0.8h0m5.4 0.6h0m-1.2 1.1h0m7.5 0h0m-10.1 1.4h0m16.5-0.5h0m-15.6 1.3h0m14.9-0.2h0m1.3-0.3h0m-17 1.4h0m13.1-0.4h0m10.5 1.5h0m-9.1 0.8h0m7.4 0.1h0m2.9-0.1h0m-7 1.5h0m7.7 0.6h0m-3.8 1.5h0m1.1-0.3h0m-124.9 7.4h0m2.1 2.8h0m0 1.2h0m12.7-0.9h0m-17.1 1.7h0m30.5 0.5h0m4.3 1.1h0m-26.6 0.7h0m28.2 0.6h0m-30.7 0.4h0m2.4 8.3h0m-3.9 2.8h0m4.8 1.2h0m-3.5 3.6h0m1.9-0.9h0m-4.3 1.6h0m0.7 0.7h0m9.7 3h0m126.4 37h0m0.5 1h0m0.9 0.1h0m-2 0.9h0m0.9 0.6h0m-1.3 1.6h0m-68.2 0.9h0m68.8 0.5h0m0.8-0.3h0m-7.6 2h0m9.1-0.4h0m-0.8 2.2h0m-2.8 1.4h0m1.7 1.3h0m-95.6 34.4h0m-4.4 5.8h0" stroke="#69119d"/><path d="M65.4 28.9h0m0.5 0.8h0m0.9 0.4h0m-0.8 1h0m1.2 0.1h0m0.4-0.1h0m0.2 0.3h0m-0.7 0.7h0" stroke="#4a2a6a"/><path d="M168.3 37h0m4 1.4h0m2.5-0.3h0m-8.8 1.4h0m-2.3 0.5h0m11.1-0.2h0m-9.9 1.6h0m1.7-0.8h0m1.7 0.2h0m-5.7 1.3h0m1.2-0.1h0m4.2 0.5h0m3.4-0.1h0m-14.1 3.3h0m10.2 0.2h0m-11.6 1.9h0m3.9-0.3h0m-2.9 1h0m13.7 0.1h0m-14.2 1.3h0m4.3 2.6h0m0.7-0.1h0m0.9 0h0m9.7 0.1h0m-0.2 0.8h0m-14.1 0.2h0m5 0.8h0m-2.1 0.9h0m3.3-0.1h0m2.9 0.1h0m2.8-0.6h0m2.6 0.1h0m-13.9 0.8h0m3.7 1.6h0m5 0.3h0m0.4-0.5h0m10.1 0h0m-11.9 1.3h0m8.2 1.2h0m-2.5 0.2h0m9.5 2.2h0m4.4 0.1h0m-8.1 1.4h0m0-0.7h0m3.5 1.9h0m-118.7 6.8h0m-0.3 1h0m15.2 0h0m-16.9 2.9h0m6.6 0h0m-5.6 0.4h0m2.6 1.5h0m-3.5 2.3h0m35.9-0.3h0m-39 1.2h0m37.6-0.6h0m-35.8 0.8h0m8.7 1.8h0m-1.9 3.4h0m-7.1 3.1h0m3.8 0h0m-4.8 0.9h0m0.7 0.2h0m7.8 1.9h0m132.6 47.6h0m-1.4 0.5h0m2.5 0.8h0m0.7 1.4h0m-1.4 1.3h0m-0.7 0.5h0m2.2 0.1h0m-4.3 0.6h0m3.9 0.5h0m-1.4 1.4h0m-1.5 0.1h0m1.4 1.5h0m-7.2 1.4h0m5.9 0h0m-113.8 31.4h0" stroke="#60129a"/></g>
<g fill="none" stroke-width="1.6" stroke-linecap="round"><path d="M356.1 50.7h0m-0.6 1.6h0m4 1.8h0m-5 0.7h0m-0.6 3.3h0m-3.7 2.9h0m2.9 0.2h0m0.4 0.4h0m-4.8 1.7h0m4-0.3h0m-4.3 1.1h0m-1.7 2.2h0m1.9 0.1h0m1 0h0m0.4-0.3h0m0.8-0.4h0m-5.4 1.8h0m1.6 0.5h0m-23.2 2.4h0m18.4-0.9h0m-20.1 2h0m8.7-0.9h0m9.3 0.3h0m-14.3 0.7h0m-0.6 1h0m13.2 0.7h0m-13.8 0.4h0m9.3 1.7h0m5.2 0h0m1.1-0.6h0m-17.2 1h0m10 0h0m-13.1 1.6h0m4.2-0.2h0m10.2-0.6h0m-5.9 1.4h0m8.9 2.2h0m-16.5 0.5h0m4.5 0.6h0m4.9-0.5h0m4.2 0.1h0m-14.6 1.4h0m13.4-0.3h0m1.4-0.4h0m3.5 0.1h0m-7.9 2.2h0m-4.8 1.3h0m13 1.2h0m-11.3 1h0m0.4-0.5h0m11.8 0.3h0m-8.8 0.6h0m6.3-0.2h0m-3.4 2.1h0m-3.1 0.8h0m-2.9 1.9h0m7.3 0.3h0m-10.3 0.9h0m5.2 0.2h0m3-0.2h0m0.9 0.8h0m-12.1 0.8h0m0.4-0.7h0m8.7 0h0m4.4 1h0m-2.2 0.5h0m98.8 1.7h0m-105.1 1.3h0m3.7-0.1h0m109.3 0.2h0m-107.6 2.2h0m99.4 0.2h0m10.8 1.4h0m-10.8 2.2h0m12 1h0m-11.2 1.5h0m-13.2 1.1h0m1 0.1h0m12.5 0.6h0m-12.7 1.4h0m5.4 0.6h0m-15.4 0.4h0m1.9 0.5h0m1.6-0.2h0m-2 0.8h0m10.2-0.2h0m-20.4 1.6h0m3.6 0.1h0m7.8-0.2h0m-9.2 0.8h0m14.2 0.9h0m3.5-0.1h0m6.2 0.3h0m0.3 0.1h0m0.7-0.6h0m-30.9 1.5h0m5.7-0.1h0m-7.4 1.5h0m3.5-0.8h0m16.6 0.3h0m0.9-0.3h0m22.4 0.4h0m-32 1.3h0m1.9-0.1h0m7.5-0.3h0m12.3-0.3h0m-35.4 1h0m9.7-0.2h0m17.6 0h0m4.8 0.7h0m3.3-0.1h0m-30.8 0.7h0m4.1 0.3h0m5.5 0.4h0m26-0.1h0m-38.4 0.6h0m8.7 0h0m9.7-0.5h0m2.3 0.5h0m2.3-0.4h0m1.2 0.4h0m-10.5 0.9h0m-15.6 0.6h0m9.5 1h0m1.2-0.7h0m3.6 0.6h0m2.9-0.6h0m16.5-0.3h0m7.3 0.6h0m-86.9 1.4h0m57.3-0.3h0m5.9 0h0m13-0.7h0m5.9 0.1h0m3.6 0.1h0m-40.3 1.2h0m9.5-0.4h0m16.3 0.2h0m7.5 0.3h0m-34.6 1.1h0m3.4 0.1h0m5.8 0h0m0.4 0h0m8.3 0.2h0m9.8-0.7h0m7.4 0.3h0m-68.3 1h0m5.2-0.1h0m26-0.2h0m0.7 0.4h0m4.6 0.3h0m14.1-0.3h0m7.1 0.1h0m-24.2 0.6h0m21.8-0.1h0m-61 1.4h0m40.4-0.4h0m2.8 0.3h0m10 0.2h0m3.4-0.6h0m-54.3 1h0m32 0.1h0m0 0.4h0m7.7 0.3h0m14 0h0m2.1-0.3h0m-55.3 0.5h0m26.4 0.6h0m0.8-0.3h0m0.3-0.4h0m1.2 0.3h0m3.1 0.5h0m6.9-0.3h0m7.3-0.4h0m3.1 0.1h0m4.4 0.4h0m-12.4 1.2h0m2.5 0h0m7.4 0.1h0m-21.4 0.5h0m9.9 0.2h0m2.2-0.1h0m2.5 0.1h0m4.3-0.5h0m-39.8 1.5h0m18.4-0.6h0m0.2 0.2h0m4.2 0.6h0m7.9 0.2h0m-13.6 0.7h0m2.1 0h0m1.3 0.1h0m3.5-0.7h0m10.1 0.8h0m6-0.5h0m-26.9 1.1h0m2 0.1h0m0.6 0.1h0m8.5-0.2h0m-21.6 2.5h0m6.7-0.9h0m2.5 0h0m-29.9 1h0m24.1 0.9h0m6.9-0.2h0m25.3-0.2h0m13.4 0.1h0m-66.7 0.5h0m6.8 0.7h0m12.1-0.3h0m4.7 0.2h0m19.6-0.6h0m4.3 0.7h0m19.4-0.2h0m-74.8 0.5h0m28.2 0.5h0m-18.8 1.1h0m35.6-0.4h0m17.3 0.5h0m0.6-0.4h0m-34.8 1h0m4-0.5h0m10.1 0h0m17.3 0.1h0m15.6 0.9h0m-43.1 0.3h0m29.1 0.6h0m6.9-0.1h0m4.2-0.5h0m0.9 0.6h0m-78.3 0.2h0m59.7 0.1h0m3.8 0.6h0m2.2-0.3h0m2.1 0.1h0m-32.2 1.1h0m33.6-0.2h0m7.7 0.3h0m2-0.5h0m-32 1.4h0m1.9-0.4h0m8-0.1h0m15.5 0.2h0m-23.9 0.7h0m-1.7 1.4h0m27.9-0.2h0m0.8 1.3h0m-27.3 1.2h0m8.9-0.7h0m-10.5 1.8h0m6.7 0.8h0m19.7-0.6h0m-16.2 1.6h0m12.7-0.2h0m-5.5 1.1h0m-14.9 0.6h0m0.4 0.6h0m28.2-0.2h0m-25.9 1.4h0m9.8-0.1h0m1.6-0.9h0m10.9 1.8h0m3.5-0.4h0m-23.3 2.5h0m8.1-0.6h0m13 0.1h0m-21 1.5h0m2.2-0.7h0m12.1 0.8h0m-10.1 0.4h0m17.4 0.2h0m-13.7 3h0m4.7 0h0m3 0.4h0m-12 1h0m1.4-0.8h0m6.9 0.3h0m6.3-0.2h0m2.1 0.8h0m-9.5 1h0m4.9 0.9h0m-8.2 0.7h0m3.5-0.3h0m0.2 1.1h0m0.6-0.1h0" stroke="#d3615f"/><path d="M324.3 28.7h0m0.2 0h0m1.2 0.5h0m-0.7 0.4h0m0.5 0.1h0m0.4 1.5h0m1 0.1h0" stroke="#4a2a6a"/><path d="M422.3 37.4h0m2.8-0.7h0m2.9 0.3h0m-1.9 0.9h0m7.5 0.5h0m-9.4 0.5h0m7.6-0.2h0m-11 1.4h0m10.8-0.1h0m2.3-0.3h0m0.4 0.2h0m-15.3 1.3h0m1.3-0.6h0m4.7 0h0m-3.3 1.5h0m1-0.3h0m1 0h0m0.5-0.2h0m6.9 0.9h0m-6.4 1h0m0.8-0.3h0m0.2-0.7h0m-9 1.8h0m2.3-0.1h0m3.6 0h0m1 0.2h0m6.4 1.1h0m-13.4 0.8h0m5.2-0.3h0m8.4 0.4h0m-10.8 0.9h0m0.5-0.1h0m3 0.2h0m0.3-0.5h0m2.9 0.5h0m-9.4 0.8h0m0.6 0.3h0m8.5-0.2h0m-10.5 0.8h0m2.8-0.2h0m8.5 0.1h0m-10 0.9h0m0.9 0.3h0m2.6 0h0m1.5-0.5h0m-0.6 1.1h0m1.8 0.7h0m0.9-0.9h0m5.2 0.3h0m-9 2.1h0m2.7-0.5h0m7.1 0.2h0m0.6 0.8h0m-13.8 1.4h0m2.5 0h0m11.6 0.5h0m4.1-0.2h0m-16.6 0.4h0m6.2 0.3h0m11.1-0.2h0m-9.6 1.7h0m0.3-0.6h0m4.9-0.1h0m2.8 0.3h0m-16.2 1.4h0m0.3-0.7h0m4.4 0h0m0.9 0.6h0m13.3-0.7h0m3.4 0.8h0m-4.4 0.4h0m4.2 0.6h0m-20.3 1h0m18-0.7h0m-4.5 1.3h0m3.6-0.4h0m0.9 0.8h0m4.9-0.4h0m-5.1 0.9h0m1.3 0.4h0m4.8-0.5h0m1.8 0.5h0m0.8-0.3h0m-3.9 1.5h0m2.6-0.4h0m-3.8 0.4h0m4.2 0.9h0m0.5-0.1h0m-2.6 0.2h0m-90.8 13.9h0m-0.5 0.7h0m4.2 0.6h0m-38.9 1.6h0m85.1 50.5h0m-46.8 3.2h0m82.2 0.2h0m13.9 2.9h0m-72.4 1.8h0m74.3 1.6h0m-120.5 0.9h0m7-0.4h0m112-0.4h0m-72 1h0m74 1h0m-120.1 1.9h0m0.1-0.4h0m2.9-0.1h0m8-0.3h0m108.7 0.5h0m2.7-0.2h0m-119.7 0.8h0m26.4 0.9h0m-16.1 1.3h0m110.7-0.3h0m-4.1 1.7h0m-95.6 1.1h0m-26.5 0.6h0m-1 0.5h0m6.5 0.4h0m19.3-0.1h0m-23 2.2h0m29.9-0.5h0m-25.6 1.2h0m5.4 0.7h0m0.2-0.8h0m3.3 0.4h0m-13.5 1.3h0m1.9-0.1h0m2.9-0.2h0m5 0.2h0m8.4-0.2h0m3.6 0h0m2.1-0.3h0m0.5 0.7h0m-24.2 2.2h0m12 0.5h0m9.9-0.7h0m-0.1 1h0m-16.4 1.8h0m7.3 0.3h0m5.8 0h0m-0.7 1.9h0m-7.7 0.9h0m1 1.2h0m11.8 8.9h0m-6.6 1.9h0m2.2 0.6h0m4 2.4h0m4.9-0.5h0m-17 1.2h0m-2.3 1.5h0m14.8 1.9h0m-14.3 0.7h0m8 1.2h0m7.8-0.1h0m-12.4 1.8h0m8.5-0.2h0m-10.3 1.8h0m2.5 0h0m0.5 0.5h0m9.3-0.4h0m-3.2 1.1h0m3.3 0.2h0m-4.9 1.2h0m4-0.7h0m0.7 0.4h0" stroke="#69119d"/><path d="M439.5 95.3h0m3.2 1.9h0m-3.9 4h0m-14.5 3.7h0m19.3-0.3h0m-0.1 4h0" stroke="#eff82a"/><path d="M390.1 94.4h0m0.3-0.1h0m-1.4 1.1h0m1 0.1h0m-1.7 1h0m0.6-0.1h0" stroke="#5a4a6a"/><path d="M357.7 51.9h0m3.4 2.1h0m-6.1 9.2h0m1.4-0.6h0m-3.6 1.2h0m-3.8 1h0m-3.4 1.1h0m3.4 1.6h0m-3.7 0.8h0m-13.2 1.8h0m-0.6 1.4h0m1.1-0.8h0m7.7 0.6h0m0.2-0.6h0m-19.8 1.1h0m10.3 0.7h0m1.5-0.5h0m3.3 0.6h0m3.7 0.6h0m3.9-0.4h0m-10.1 1.3h0m10.4 0.1h0m-22.7 0.4h0m14.8-0.1h0m0.7 0.3h0m-18.1 1.7h0m12.1 0.1h0m9.7 0.6h0m1.2-0.4h0m1.1 0.4h0m-24 0.9h0m2.7-0.6h0m10.8 0.7h0m-9.5 0.4h0m3 0.5h0m9.6 0h0m3.5 0h0m-15 1.1h0m5.6-0.5h0m2 0.5h0m-4.3 2.1h0m3.8-0.7h0m10.2 0.2h0m-5.1 0.9h0m-1.6 1.6h0m-3.3 0.2h0m2.2 0.2h0m-17.7 1.5h0m12.9-0.1h0m-5.2 1.5h0m2.1 0.8h0m-3.5 1h0m5.4-0.6h0m8.2 1.2h0m1 0.1h0m-10.1 0.6h0m1.6 0.6h0m1.1 0h0m7.9-0.3h0m-16.7 1.5h0m10.8 0.3h0m5.4 0.3h0m-7.9 1.2h0m5.1 0.6h0m-7.4 0.7h0m6.8 1.3h0m1.1 0.2h0m98.7 1h0m7.2 0h0m-114 1.1h0m107.3 1.8h0m7.9-0.4h0m-110.8 1.8h0m0.9-0.5h0m99.2 1.4h0m-102.1 0.3h0m99 1.5h0m-10.3 2h0m7.7 0.7h0m-9.4 0.7h0m-4.3 2.5h0m8.1 0.3h0m1.6 0.1h0m14.3 0h0m-13.8 0.2h0m-17.6 2.9h0m2.8-0.4h0m15.3 0.1h0m0.8-0.5h0m-25.5 1.3h0m2.5 0.1h0m0.7-0.5h0m18.5 0.5h0m-16 0.7h0m0.9 0.5h0m10.9-0.4h0m-13 1h0m13.1 0.2h0m-22.7 1h0m10.5 0.3h0m18.3-0.2h0m-64 0.5h0m40.8 0.1h0m1.1-0.1h0m1.5 0.3h0m-52.6 1.2h0m43.2-0.6h0m0.8 0.6h0m0.3-0.3h0m7.6 0.3h0m9.3 0.1h0m13-0.8h0m-31 1.8h0m13.3-0.6h0m4.5 0.6h0m-16.6 0.3h0m0 0.9h0m5.8-0.6h0m18.2-0.3h0m2.6 0.6h0m4.6-0.7h0m0.9 0.9h0m-78.8 0.3h0m3.7 0.7h0m41.8-0.3h0m19.2 0h0m10.6-0.4h0m2.7 0.3h0m4.4 0.3h0m-32.3 0.4h0m17.2 0.8h0m5.6-0.9h0m9.6 0.4h0m-82 0.9h0m10.3-0.2h0m39 0.2h0m4.6-0.2h0m1.7-0.1h0m-50.2 1.6h0m8.5-0.5h0m5.5 0h0m35.9-0.1h0m3.9 0.4h0m14.1-0.3h0m1.9 0.5h0m-65.9 0.4h0m41.1 0.9h0m3.2-0.6h0m25.1 0h0m2.8 0h0m-68.7 1.1h0m4-0.1h0m34.2 0h0m2.9 0.4h0m0.9-0.2h0m19.2-0.2h0m-68.5 0.7h0m5.8 0.4h0m32.5-0.4h0m2.9 0.1h0m7-0.1h0m5.9 0.9h0m0.8-0.1h0m9.8-0.3h0m-67.3 0.9h0m42.5 0.5h0m2.1-0.2h0m3.2-0.7h0m7.5 0.3h0m3.8 0.5h0m6.1 0.1h0m2.3-0.4h0m3.9 0.3h0m-35.6 0.2h0m0.5 0h0m4.5 0.5h0m9-0.6h0m-54 1h0m2.6 0.7h0m2-0.4h0m0.4-0.2h0m3.5 0.9h0m6.9-0.5h0m37.6 0.3h0m14.9 0h0m-63.8 0.5h0m39.2 0.7h0m4.5-0.5h0m1.5 0h0m1-0.1h0m10 0.4h0m4.1-0.4h0m2.4 0.5h0m-49.5 0.7h0m2.3-0.1h0m16-0.1h0m20.6 0h0m1.7-0.3h0m-58.9 1.8h0m9.6-0.5h0m21.5-0.3h0m16.7 0.3h0m7.7-0.4h0m2.8 0.2h0m-53.5 0.9h0m28 0.3h0m4.6 0.1h0m1.9 0.1h0m2.9-0.3h0m56.7 0.1h0m-90.1 1.5h0m7.3-0.6h0m22.1 0.3h0m2.2 0h0m24.5 0.3h0m31.4-0.8h0m-67.7 1.2h0m6.5 0.4h0m5.4-0.3h0m4.5 0.5h0m-12.2 0.3h0m1.6 0.1h0m2.4 0.3h0m1.6-0.1h0m0.5 0.3h0m1.7-0.7h0m8 0.8h0m-41.3 0.8h0m17.5-0.3h0m3.3 0h0m3-0.3h0m4.4 0.5h0m1.3 0.2h0m25.7-0.4h0m-30.4 0.6h0m1.1 0.9h0m0.4-0.7h0m39.2 0.5h0m-81.1 1.3h0m42-0.2h0m0.8-0.7h0m25.6 0.6h0m2 0.1h0m-35.8 0.6h0m1 0.4h0m0.6 0h0m2.9-0.2h0m2.9-0.2h0m30.7-0.1h0m-40.9 0.9h0m3.6 0.4h0m4-0.2h0m11 0h0m21.3 0h0m-38 1h0m9.6-0.1h0m26.4 0.4h0m-33.8 0.5h0m9.9 0.4h0m1.9-0.3h0m8.8-0.2h0m12.9 0.4h0m7.3 0.2h0m-43.3 0.5h0m21 0.8h0m0.4-1h0m0 0.8h0m0.9-0.1h0m1.8-0.6h0m2.7 0.7h0m0.6 0.2h0m1.3-0.3h0m-27.6 0.3h0m16.3 0.3h0m2.5 0.1h0m0.7-0.2h0m0.8 0.8h0m1.3 0h0m-7.9 1h0m12.3 0.9h0m-14.5 0.7h0m1.7 0h0m7.2 0h0m22.4-0.3h0m-27.7 1.1h0m13.1 0h0m10.1 0.4h0m-20.4 2.2h0m5.4-0.6h0m2.4 0.1h0m10.9-0.2h0m-7.6 1.7h0m-10.2 1h0m1.4-0.2h0m6.2-0.6h0m0.9 0.2h0m15.9 0.4h0m-28.7 1.1h0m2.8-0.9h0m18.5 0.8h0m-15.3 0.3h0m0.1 0.2h0m0.5 0.7h0m9.9-0.7h0m2.4 0.1h0m2.5 0.1h0m-19 1.1h0m2.5-0.1h0m22.3 0.2h0m-23.6 1h0m7.3-0.4h0m-1.6 0.8h0m8.9 0.1h0m1.1 0h0m1 0.7h0m1.8-0.8h0m-17.2 1.5h0m8.1-0.4h0m2.4 0.2h0m7.4 0.3h0m-14.3 1.5h0m2.8 0.8h0m2.1-0.9h0m3 0h0m3.4 0.6h0m6.9-0.7h0m-7.2 1.2h0m3.9 0.3h0m2.1-0.3h0m-9.5 1.3h0m3.9-0.1h0m7.1 0.2h0m-10 0.6h0m2.8 0.3h0m-2.2 0.9h0m2.8-0.1h0m4.4-0.2h0m-11.2 1.8h0m-0.5 0.4h0m2.7-0.2h0m7.3 0.6h0" stroke="#ce5a63"/><path d="M345.8 66.4h0m-3.8 1.2h0m2.2-0.1h0m-19.6 2.8h0m4.9-0.7h0m1.5 0.3h0m-7.4 1.5h0m14.8 0h0m2.4 0.4h0m-22.2 1.2h0m4.7 0.2h0m8.5-0.4h0m10.2 0h0m-24.4 1.4h0m6-0.3h0m0.6 1.1h0m3.2 0h0m3.8 0.2h0m1.4 0.1h0m2.2-0.5h0m-4.2 1h0m2.2 0.6h0m-10.6 1h0m14.6 0.5h0m-1.6 1.9h0m-9.2 1.8h0m13.7 0h0m-18.2 0.9h0m0.4 1h0m3-0.6h0m-2.9 1.6h0m9.2 0.8h0m2.6-0.6h0m3.3 0.5h0m-20.6 0.6h0m6.9 0h0m6.2 0.6h0m-11 0.5h0m5.7 0.5h0m13.2-0.8h0m-5.8 1.8h0m-9.9 1.2h0m2.5 0.4h0m11.1 0.1h0m-10.2 0.4h0m3.9 3h0m0.8-0.5h0m-0.3 1.9h0m4.8 0.3h0m-14.8 1h0m3.5-0.1h0m6.4 0.4h0m5.1-0.3h0m-13.8 1.8h0m3.7 0.4h0m8.1-0.8h0m92.9 4h0m-2.5 1.3h0m12.7 1.2h0m-15.9 0.7h0m18.9 0.5h0m-20 5h0m-5.3 0.6h0m-1 2h0m20.7 0h0m-19.9 1.5h0m10.9-0.6h0m13.7-0.2h0m-39 2.2h0m19.5 0.7h0m-23.7 0.2h0m0.3 0.2h0m6.8 0.2h0m4.9 0h0m-14.1 1h0m2.1-0.2h0m4.8-0.1h0m-47.8 1.4h0m39.5-0.2h0m23-0.5h0m7.3 0.1h0m-73.8 1.1h0m1.6 0.1h0m1.1 0h0m1.5 0.4h0m2.1-0.2h0m1 0.2h0m0.2 0.1h0m3.2 0h0m37.9-0.7h0m26.7 0.7h0m5.3-0.8h0m-80.4 1.7h0m41.3-0.1h0m1.9-0.4h0m7.1 0.4h0m15.4 0.4h0m-59.8 1.1h0m6.8 0.6h0m58.5-0.1h0m-69.3 0.8h0m2 0.6h0m4.3-0.5h0m4.6 0h0m0.9-0.4h0m1.7 0.1h0m26.1 0.8h0m24.9-0.6h0m-65.9 1.4h0m46.9 0.2h0m1-0.6h0m2.2 0.1h0m5.6 0h0m1.9-0.1h0m7.8-0.4h0m-61.9 1.2h0m6 0.5h0m2.6-0.4h0m35.4-0.2h0m12.4 0h0m10.1 0.9h0m4.3-0.1h0m-75.5 0.5h0m19.7 0.2h0m21.3 0.3h0m1.8-0.4h0m19-0.3h0m-64.3 1.3h0m3.3 0.1h0m11.1 0.4h0m9.2-0.4h0m0.5 0h0m19.6-0.2h0m10.2 0.1h0m2.7 0h0m-50.7 1h0m10.6 0.3h0m7.2-0.6h0m19.8 0.6h0m1.8-0.7h0m3 0.7h0m2.5-0.3h0m5.3 0.3h0m11.6-0.2h0m-66.7 1.3h0m16.9-0.4h0m2.9 0.3h0m2.3-0.3h0m20.8 0.2h0m2.6-0.1h0m4.4 0.4h0m3.3-0.8h0m0.7-0.1h0m9.7 0.8h0m1.9-0.4h0m0.8-0.4h0m2.5 0.2h0m-61.9 0.9h0m12.4 0.2h0m22.4-0.2h0m2.2-0.1h0m2.2 0.1h0m11.2 0h0m0.9 0h0m13.4 0.6h0m-59.4 0.9h0m7.6-0.6h0m3 0h0m17.6 0.5h0m0.7-0.3h0m4.1 0.3h0m13.3-0.6h0m5.2 0.3h0m5.7 0.3h0m1.7-0.2h0m-63.2 1.3h0m0.8 0.1h0m4.3-0.3h0m6-0.2h0m5.9-0.3h0m6.8 0.5h0m1.2 0.5h0m0.4-0.5h0m1-0.4h0m6.5 0.3h0m12.4 0.4h0m0.7-0.3h0m1 0.3h0m-49.8 0.5h0m1.1 0.2h0m10.3 0.5h0m3.8-0.4h0m10.2 0.3h0m10.8 0.1h0m1.5-0.1h0m-12 0.8h0m0.7 0.3h0m3.1-0.1h0m0.4 0.1h0m3.3-0.6h0m5.4-0.2h0m2.2 0.3h0m4.8 0.4h0m6.4-0.1h0m0.9-0.3h0m41.5-0.4h0m-91.1 1.4h0m6.2-0.4h0m10 0h0m6.3-0.1h0m0.8 0.7h0m4.4-0.6h0m0.6 0.7h0m0.1-0.7h0m5.5 0.2h0m-26.8 0.8h0m6.5 0.6h0m5.3 0.1h0m4-0.2h0m2.6-0.6h0m3.7 0.5h0m6 0h0m55.8 0.1h0m-100.9 1.2h0m15.8-0.3h0m2.5-0.3h0m0.9-0.2h0m3.7 0.9h0m2.9-0.1h0m6.5-0.7h0m2.6 0.6h0m0.8-0.4h0m5 0h0m8.9 0.6h0m-54.8 1h0m8.4-0.8h0m21.2 0.8h0m1.4-0.7h0m10.6 0.2h0m54.4-0.2h0m13.6-0.1h0m-98.8 1.1h0m14.6 0.4h0m5.9-0.4h0m12.5 0.3h0m2.5-0.2h0m0.5 0.3h0m18.4 0h0m35.2 0h0m8.9 0.3h0m-73.8 0.2h0m2.9 0h0m4.4 0.5h0m11.6-0.1h0m1.5 0.4h0m19.8-0.2h0m-48 0.5h0m18.5 0h0m3.1-0.2h0m-53.7 1.6h0m46.9-0.5h0m3.8 0.3h0m28.5-0.2h0m2.5 0.8h0m19.4-0.1h0m7-0.3h0m-81.4 0.8h0m11 0.6h0m7.5-0.9h0m26.5 0.2h0m2.3-0.1h0m6 0h0m-57 1.2h0m23.6 0h0m7.3-0.3h0m2.4 0.9h0m14.3-0.3h0m3.2 0.3h0m2.2-0.4h0m4 0.1h0m33-0.3h0m-104.5 1.3h0m39.5 0.3h0m26.3-0.4h0m1.8 0h0m33.3-0.6h0m-60.8 1.3h0m4.3 0.5h0m6.5-0.6h0m-47 0.9h0m36.5 0.7h0m-1.5 0.6h0m14.4 0.5h0m0.9-0.5h0m1.1-0.2h0m7 0.2h0m9.4 0h0m-31.7 1.6h0m1.4-0.6h0m1.2 0.2h0m1.9-0.1h0m3.7-0.2h0m21.9 0h0m-17 1.3h0m12.2 0.1h0m-25 0.8h0m4.1 0.4h0m2.3-0.1h0m2.7-0.3h0m20.4 0.3h0m-69.3 1h0m45.9-0.2h0m4.8-0.5h0m3.4 0.3h0m0.9 0.6h0m-51.9 0.2h0m41.9 0.4h0m13.8-0.4h0m-19.3 1.4h0m5.3-0.4h0m1.7-0.1h0m7.4 0.7h0m4.1 0.1h0m8.7 0h0m-24.1 1h0m16.6 0.1h0m4.1-0.9h0m-7.5 1.9h0m-13.9 0.5h0m12.4-0.2h0m12.7-0.2h0m1.6 0.4h0m2.8 0h0m-14.7 0.8h0m4.4 0h0m-17.8 1h0m6 0.3h0m13.5 0h0m1.1-0.3h0m-4.4 0.9h0m4.5 0.2h0m-19.7 0.8h0m0.4 0.4h0m5.9 0h0m18.3-0.2h0m-24.8 0.8h0m15.8 0.5h0m-13.6 1.1h0m1.5 0.4h0m7.3 0.5h0m7.4-0.5h0m5.5 0.5h0m-11.5 1.1h0m3.8 1.2h0m-11 0.8h0m1.3-0.6h0m11 2.7h0m2.6-0.8h0m-1.7 1.1h0m-42.3 8h0m0.1 1.3h0" stroke="#c24c6b"/><path d="M353.7 54.4h0m7.4 1h0m-3.3 5.1h0m-8.5 1.5h0m5.2-0.3h0m-3.6 1.3h0m-3.9 1.8h0m4.8 0h0m-5 1.1h0m0.9 0h0m-2.5 0.9h0m2.4 0.1h0m-6.9 0.7h0m5.4 0h0m1.2 0.1h0m-3.1 1h0m0.8 0.1h0m-7.7 0.9h0m9.1 0h0m-18.4 0.9h0m6.4 0.8h0m0.7-0.1h0m9.9-0.4h0m-18.9 2.8h0m5.9-0.1h0m6.4 0.3h0m6.4-0.1h0m-18.2 2h0m2-0.1h0m7.8 0.1h0m-8.5 1.1h0m14.8 0h0m-1.9 1.1h0m-13.2 0.5h0m9.5 0.1h0m2.8 0.5h0m-15.4 1h0m9-0.1h0m3.5 1.5h0m3.7 0.9h0m-16.6 0.1h0m6.4 0.2h0m8.1 0.8h0m-16.5 2.4h0m9.6 0.4h0m7.5 0.7h0m-7.9 1h0m5 0.3h0m-13.3 0.7h0m9-0.4h0m-5.5 1.8h0m5.9 4.1h0m-3.1 0.2h0m102 3.1h0m1.8 0.2h0m9.5 0h0m-109.4 1.5h0m-1.2 0.8h0m101.8 0h0m-4.9 0.5h0m-99.1 1h0m109.6 0.9h0m3.3 1h0m-21 1.5h0m19.5-0.4h0m-22.9 0.8h0m2.9 0.3h0m1.4-0.2h0m2.1 0.2h0m8.4-0.1h0m7 0h0m-18.7 1.1h0m2.8 0.5h0m6.8 0.1h0m-13.5 0.9h0m5.7 0.1h0m4.6-0.3h0m6.5-0.2h0m1.7 0.2h0m5.5-0.1h0m-28.5 1.3h0m11.4-0.1h0m2.4 0.2h0m-8 0.1h0m8.9 0.6h0m6.8 0.2h0m8.4-0.6h0m-25 1.4h0m12.2 0.1h0m9.1-0.1h0m-19.6 1h0m14.4 1h0m1.7-0.3h0m-26.5 1.1h0m8.7 0.2h0m1.7-0.1h0m1.1-0.6h0m2.5 0.2h0m0.3 0.7h0m8-0.5h0m2.1 0.4h0m2.2-0.3h0m3.6-0.5h0m-39.1 1.6h0m1.5 0h0m1.6 0h0m3.4 0h0m9.2-0.3h0m9 0.2h0m1.1-0.3h0m2.4-0.1h0m6.1 0.5h0m-34.2 1.1h0m10.3 0.1h0m1.2 0.1h0m23.6-0.3h0m-24.5 1.1h0m15.8-0.5h0m1 0h0m10.3 0.3h0m-46.2 1.5h0m23-1h0m11.8 0h0m5.9 0.2h0m1.6 0.2h0m-23.5 2h0m19.1-0.2h0m-33.9 1.5h0m9.7 0.1h0m20.9-0.6h0m3.9 1.2h0m4.8 0.4h0m0.8-0.3h0m-21.9 0.7h0m8.3 0.1h0m14.7-0.2h0m-78.3 1.6h0m29.8-0.3h0m27.7 0h0m11.7 0h0m-39.1 1.5h0m2-0.7h0m37.3 0.6h0m-37.2 0.4h0m24.6 0.3h0m7.7 0.3h0m-31.1 0.3h0m0.2 0.6h0m10.2-0.4h0m8.7-0.1h0m17.9 0.7h0m-37.7 0.4h0m23 0.1h0m2.2 0.3h0m2.5 0.2h0m6.2-0.8h0m-29.7 1.4h0m6.3-0.4h0m16.1 0.3h0m-27.7 1.1h0m3.7-0.1h0m7 0h0m5.1 0.5h0m4.3-0.2h0m6.9 0.2h0m-27 0.4h0m9-0.3h0m-29.7 1h0m41.9 0.6h0m-29.5 1.2h0m3.8 0.2h0m6.7-0.6h0m0.1 0.5h0m3.9-0.1h0m-16.1 0.8h0m6.3 0h0m16.2 0.2h0m-60 0.3h0m50.3 0.5h0m23-0.2h0m-31 1.4h0m0-0.8h0m4.9 0.1h0m0 0.4h0m1.9 0.1h0m-13.2 4.4h0m12.3-0.2h0m-10.4 0.8h0m-3.3 1.1h0m30.2 0h0m-36.6 0.4h0m16.7 0.2h0m18.2 3.3h0m-24.9 0.7h0m-0.6 1.5h0m16.3 0h0m9.4-0.1h0m-19.5 1.3h0m2.5 0.2h0m22.7 1.7h0m-65 0.5h0m60.2-0.2h0m-15 3.8h0m13.1 0.4h0m-11.9 2.2h0m-5.3 0.6h0m19.3 0h0m-14.6 2h0m16.3 2.6h0m-20 1.1h0m12.5-0.4h0m-8.5 1h0m-1.4 1.4h0m5.7-0.2h0m1.9 0.3h0m-2.5 0.6h0m8.8 0.1h0m-5.5 1h0" stroke="#e37b52"/><path d="M359.3 52.4h0m-5.1 0.5h0m6.5 1.1h0m0.7 1.1h0m-0.6 1.3h0m-7.7 0.4h0m2.2 0.4h0m-2 0.7h0m5.8 1.1h0m0.9 0.5h0m-2.2 0.4h0m1 0h0m-21.6 8.2h0m4.7-0.1h0m3.2 3.3h0m-9.6 2h0m-7.7 0.7h0m15.8 1.4h0m-8.5 1.3h0m-3.9 1.2h0m4.4 1.2h0m2.4-0.6h0m2.9 2.3h0m-0.9 1.4h0m-7.5 3h0m-1.5 0.4h0m2.7 1.7h0m2.2 0.3h0m-15.8 1.9h0m4.2-0.8h0m3.1 2.6h0m3.5 7.3h0m101.2 3.7h0m4.9-0.6h0m-12.8 1.8h0m2.4-0.8h0m-1 1.5h0m3.3 0h0m-11.5 1.6h0m1.6 0.4h0m3.1 0.3h0m4.9-0.2h0m1.4-0.1h0m7.9-0.3h0m-16.4 0.8h0m4.9-0.1h0m3.8 0.5h0m0.4-0.2h0m12.3-0.4h0m-28.1 1.7h0m1.9-0.3h0m5.9-0.4h0m0.5 0.9h0m-9.1 1h0m3.4-0.4h0m6.7 0.2h0m3.5 0.2h0m0.3-0.6h0m-6.1 0.9h0m6.3 0.2h0m1 1.3h0m4.6 0h0m3.7 0h0m4.3-0.1h0m-22.3 0.4h0m11.6 1h0m-23.1 0.8h0m0.5-0.4h0m24.7 0h0m9.4 0h0m1.2-0.4h0m-44.6 2.9h0m8.9-0.3h0m2.7-0.1h0m14.1 0.1h0m5.8-0.4h0m12.3 0.6h0m-5.4 0.3h0m0.8 0.8h0m4.7-0.6h0m-19.1 1.5h0m3-0.2h0m11.9-0.1h0m1.2 0.1h0m-33.3 1.6h0m3.8 0.3h0m5.7-0.1h0m1.3 0.5h0m-2.1 0.7h0m2.5 0.2h0m11.3-0.1h0m1.9-0.5h0m6.8 0.8h0m0.3-0.1h0m-19 0.8h0m19.4 0.1h0m-44.9 1.9h0m34.5-0.5h0m4.9 0h0m-35.5 1.2h0m15 0.2h0m14.2 0h0m0.9-0.3h0m5.1 0h0m2.9 0.7h0m-25.3 0.3h0m8.3 0h0m3.5 0.1h0m2.2-0.1h0m0.6 0.3h0m4.2 0.4h0m-28.3 1h0m4.6-0.4h0m9.6-0.5h0m6.6 0.7h0m1.8-0.2h0m4.7-0.3h0m-29 1.5h0m1.2-0.3h0m19.1 0.9h0m7.6 0.1h0m-74 1.3h0m57.7-0.5h0m11.8-0.3h0m-5.2 1.9h0m-3.3 0.2h0m-22.7 1.6h0m16.4-0.2h0m0.1-0.4h0m-29.9 1.4h0m25.4-0.1h0m5.6 0.1h0m-29 1.2h0m0.5-0.3h0m6.8 0.5h0m12.2-0.5h0m-19 1h0m8.8 0.1h0m9.3-0.1h0m0.6 0h0m2.1 0.1h0m-6.2 1.2h0m-11 0.4h0m-1.1 3.1h0m-3.8 1.7h0m5 1.6h0m3.4 1.3h0m12.4 1.2h0m8.7-0.2h0m-12.7 0.8h0m-7.5 2.6h0m1.9-0.1h0m5.7 0.9h0m4 0h0m13.9 0.1h0m-29.1 3.8h0m4.4 0h0m5.8-0.4h0m12.3-0.4h0m-4.3 6.6h0m8.8 2.6h0m-13.9 1.5h0" stroke="#e8844e"/><path d="M434.9 96.3h0m4.2 1.2h0m-5.7 0.1h0m-4.1 2.2h0m-2.3 3.8h0m14.8 4.9h0m-6.1 1.1h0m-15.7 4.3h0m7.5 0.5h0m-2 3.3h0" stroke="#f4e32d"/><path d="M357.4 52.4h0m-0.1 0.4h0m2.1 0.5h0m-4.6 0.5h0m3-0.3h0m2.8 0.9h0m-3.6 0.3h0m1.3-0.1h0m-0.2 1.9h0m2.3-0.7h0m2-0.2h0m-8.8 1.5h0m2.7 0h0m2.2-0.1h0m-6.1 1.4h0m9.6-0.5h0m0.2-0.3h0m-10.5 1.2h0m7.7-0.1h0m-7.4 1.6h0m0.2-0.4h0m0.9-0.2h0m3.8-0.1h0m3.7-0.1h0m-10.5 3.8h0m-6 4.8h0m-2.9 1.1h0m-4.5 1.1h0m-8.7 1h0m7.9 0.1h0m-5.4 0.3h0m9.7 0.4h0m1-0.1h0m1.4 0.1h0m0.7 0.1h0m-13.2 2.5h0m-9.8 1.2h0m19 0.3h0m2.7 1.2h0m-8.9 1h0m-5 0.8h0m4.3 3.1h0m2.6 2.5h0m2.1 1.2h0m-5.4 4h0m6 0.1h0m-0.3 1.5h0m98.8 5.6h0m-106.5 0.3h0m111.9 0.6h0m-11.7 1.3h0m1.5-0.5h0m2.6 0.9h0m7.8 0.5h0m-4.2 0.7h0m4.6 0.1h0m-15.3 0.4h0m4.6 0.1h0m2.6 0.7h0m9.3-0.3h0m-17.5 1.5h0m1.8-0.1h0m11.4 0h0m0 0.7h0m2.8 0h0m-21.2 1.2h0m19.4 0.1h0m-16.6 1h0m-5.5 0.1h0m12.7 0h0m2.1 0.8h0m-18.9 1.1h0m3.5-0.8h0m-2.4 1.2h0m2.3 0.4h0m17.3-0.4h0m0.6 0.6h0m7.6-0.8h0m-28.5 1.1h0m15.5 0.7h0m-14.1 0.7h0m0.5-0.3h0m6.9 0.3h0m10.2 0.3h0m-21.4 0.2h0m2.2 0.5h0m4.6 0.9h0m-4.3 0.6h0m3.2 0h0m5.1 0.7h0m-24.1 1.1h0m3.1-0.7h0m25.5 0.3h0m-24.9 1.3h0m13 0.2h0m1.1-0.9h0m7.9 0.5h0m1.4-0.2h0m0.2-0.3h0m2.3 0.6h0m1.1-0.1h0m2.5-0.2h0m7.8 0h0m-40.8 0.8h0m5.5 0.2h0m31.9-0.1h0m-34.2 1.3h0m1.6-0.1h0m32.4-0.4h0m-35.4 1.9h0m3.2-0.7h0m16.2 0h0m2.1 0.5h0m4.2 0.2h0m0.6-0.7h0m12 0h0m-38 1.3h0m10.8-0.5h0m7.4 0.2h0m5.2 0.3h0m11-0.5h0m1.8 0h0m0.7 0.5h0m0.8 0.3h0m-8.8 0.8h0m0.9-0.5h0m1.2 0.6h0m-43.4 0.9h0m37.6-0.4h0m-38.7 1.7h0m11.5-0.3h0m29.8-0.4h0m2.3 0.1h0m2.4 0.1h0m1.1-0.3h0m-46.9 1.7h0m27.8-0.1h0m15.4 0.4h0m-43.1 1h0m24.7 0.2h0m12.4-0.4h0m-80.2 1.1h0m61.6 1.5h0m15.3 0.3h0m-1.3 0.4h0m2.4-0.3h0m1.9 0.1h0m-35.8 3.3h0m14.4-0.3h0m1.5 0.7h0m9.2-0.2h0m-21.8 1.3h0m25.5-0.9h0m-32.5 2.4h0m18.7-0.3h0m-10.7 1.2h0m-21.5 3h0m44.1 3.8h0m-33 4.2h0m5.2-0.2h0m24.3 1.3h0m-22.1 2.5h0m18.6 1h0m-0.8 1.5h0m0.8 2.1h0m-21.2 0.5h0m18.8 2.4h0m-17.5 3.8h0m3.3 2.5h0m10.3 5.8h0" stroke="#eb8c4b"/><path d="M425.8 39.8h0m-0.8 7.2h0m0.5 3.4h0m1.1 2.4h0m3.2 2.5h0m-0.5 1.8h0m-5.3 0.7h0m17.4 2.2h0m-1.9 1.8h0m-84.4 124.2h0" stroke="#261682"/><path d="M348.6 62.7h0m-11.3 6.3h0m2.5 0.3h0m-1.5 0.4h0m-5.9 2.1h0m-8.6 0.9h0m3.7 0.1h0m-10.6 0.9h0m6.1 0.4h0m2.6 0.9h0m13-0.4h0m-19.2 1.7h0m4.1-0.7h0m7.9 0.2h0m-8.4 0.8h0m1.4 0.8h0m7.6-0.6h0m-14.9 0.8h0m6.7 0.5h0m5.9 0.3h0m1.1-0.7h0m-3.5 1.7h0m5.7-0.1h0m-18 3h0m14.3 0.1h0m-11.2 0.4h0m10.5 0.2h0m-13.1 2h0m8.3 0.4h0m-5.8 0.6h0m-2 0.5h0m3.4 0.3h0m5.6-0.2h0m-6.2 1.6h0m15.9-0.6h0m-15.7 2.4h0m9.6-0.1h0m-5.2 0.9h0m11.4 0h0m-0.7 1.3h0m-7.7 0.6h0m8.5 0.5h0m-12.2 1.5h0m5.1 2.6h0m-5.7 1.8h0m2.5 0.7h0m6.6 0.5h0m-2.4 0.4h0m-5.1 1.2h0m1.3-0.1h0m4 0.3h0m0.6 0.8h0m75.6 10.9h0m7.9 1.5h0m-17 0.6h0m3.3 0.6h0m-45.3 1.9h0m54.9-0.7h0m-57.6 1h0m78.9 0.3h0m-25.7 0.7h0m2.1 0.4h0m-59.6 1h0m3.1-0.5h0m10.6 0h0m34.6 0.7h0m6.7-0.7h0m-52.6 1.1h0m0.8 0.2h0m0.8-0.2h0m3.2 0.5h0m38.4-0.3h0m3.5 0.3h0m-51.1 1.2h0m3.6-0.4h0m39.9 0.3h0m3.8-0.7h0m22.9 0.9h0m-25 1h0m10.2-0.6h0m0.5 0h0m23.2 0.2h0m-75.5 0.6h0m5.6 0h0m0.5 0.5h0m4.2 0.2h0m3.8-0.4h0m11.9 0.3h0m1.6-0.7h0m8.7 0.7h0m1-0.5h0m18.9-0.3h0m19.4 0.8h0m-71.9 1.1h0m9.6-0.6h0m11.4 0.3h0m6.1 0h0m5.7 0.4h0m14-0.8h0m8.2 0.6h0m-52.2 0.7h0m2.1 0h0m1 0.3h0m18.6 0.1h0m-26 0.9h0m8.5 0.2h0m4.8-0.8h0m2-0.1h0m26.2 0.7h0m-46.3 0.4h0m0.8-0.1h0m17.5 0.3h0m1.9-0.2h0m3 0.1h0m7.6 0.2h0m2.4 0h0m2.6-0.4h0m8.1 0.9h0m-45.7 0.2h0m2.4-0.1h0m0.3 0.7h0m10.4-0.4h0m12.6-0.3h0m11.5 0.7h0m32.6-0.7h0m-45.3 1.7h0m6.8-0.3h0m24.9-0.3h0m10.6 0.2h0m-54.1 1.1h0m4.2 0.2h0m3.8-0.1h0m2.3-0.6h0m1.2 0.4h0m2-0.3h0m0.9 0.1h0m3.6 0h0m5.3 0.4h0m19.9-0.4h0m1.3 0.3h0m2.1 0.2h0m-43.2 0.5h0m2.8 0.7h0m0.9-0.9h0m3.4 0.5h0m9.7 0.4h0m5.2-0.8h0m2.8 0.2h0m5.9 0.3h0m9.8 0.1h0m6.9-0.4h0m-63.2 1.5h0m6.7 0.1h0m2.6-0.5h0m6.1-0.2h0m20.4 0.2h0m8.6 0.2h0m5.9-0.5h0m3.4 0.3h0m6.1 0.2h0m11.9-0.2h0m-68.3 0.8h0m6.3 0.1h0m11.3 0.3h0m4.8-0.1h0m5.6 0.1h0m4.7 0.1h0m60.7-0.5h0m-74.4 1h0m10.1 0.7h0m1-0.1h0m11.6-0.2h0m-46.3 1h0m1.6-0.3h0m19.8-0.1h0m13.5 0.1h0m0.9-0.1h0m1.3-0.1h0m-36.9 1.6h0m4-0.1h0m5.8-0.1h0m5.6-0.3h0m15 0.1h0m5.6 0.1h0m2.3-0.2h0m1.3 0.6h0m2.2-0.8h0m68.6 0.7h0m-110.5 1.1h0m27-0.2h0m75.9-0.1h0m1-0.3h0m-104.6 0.8h0m4.9 0.6h0m5.7-0.4h0m13 0.1h0m9.5-0.1h0m1.7-0.2h0m3.7 0.5h0m24.7 0.2h0m-70.8 0.6h0m9-0.2h0m3.5 0.7h0m0.5 0.1h0m0.9-0.8h0m8 0.9h0m10-0.5h0m13.2 0.1h0m2.4-0.1h0m0.8 0.1h0m58.9 0h0m8.6-0.5h0m4.5 0.4h0m-116.8 0.6h0m22.8 0.1h0m44.9 0.2h0m-37.4 0.9h0m42.6 0.4h0m35.7 0.3h0m-75.4 0h0m9.1 0.1h0m22.5 0.7h0m44.9-0.5h0m-78.4 1.6h0m0.3-0.1h0m0.8-0.3h0m19-0.2h0m3.2 0.1h0m2.6 0.5h0m12.4-0.6h0m1.5 0.4h0m3.4-0.1h0m38.3-0.1h0m-79.3 0.6h0m8.7 0.1h0m3.1 0.3h0m9-0.3h0m0.5 0h0m6.5 0.7h0m-18.3 0.9h0m3.2 0.2h0m8.6-0.6h0m20.2-0.4h0m-58.5 1.4h0m2 0.4h0m34.6-0.5h0m18.9 0h0m38.4 0.4h0m1 0h0m-81.4 1.2h0m38.4-0.5h0m1.4 0.4h0m5.1 0.1h0m-45.2 0.8h0m40.5 0h0m-57.5 1.2h0m14.3-0.3h0m45.4-0.5h0m3.9 1.4h0m-28.1 1h0m19.2-0.1h0m1.3 0.6h0m-21.8 0.9h0m0.5-0.1h0m23.9 0.2h0m0.7-0.2h0m0.6-0.6h0m-3 1.4h0m-22.9 0.8h0m5.9-0.3h0m4.9 0.6h0m14.4 0.1h0m-18.1 0.8h0m2.9-0.3h0m-0.7 1.6h0m3.2-0.8h0m-1.8 1.4h0m6 0.2h0m4.1-0.4h0m-12.5 1.1h0m3.3 0.3h0m1.6 0.3h0m6.1-0.4h0m-7.5 0.8h0m7.7-0.1h0m3.2 0.6h0m5-0.5h0m-21.2 1.2h0m11.8-0.2h0m5.5-0.1h0m-14.3 1.6h0m14.7-0.1h0m-16.7 0.7h0m6.4 0.4h0m13.5 0.1h0m-11.5 0.6h0m10.6 0.2h0m-6.5 0.9h0m2-0.5h0m3 0h0m-17.1 1.2h0m11 0.1h0m2.2 0h0m3.4 0h0m-13.2 0.6h0m9.3 0.6h0m2.1-0.6h0m-6.1 1.7h0m5.7-0.7h0m-61.1 1.2h0m58 1.1h0m-51.9 2.3h0m-2.4 1.1h0m-5.8 2h0m10.8 1.4h0m0.7 3.6h0m5.3 3.1h0m-1.2 0.8h0m2.3 0.8h0m-3.6 3h0m1.6-0.4h0" stroke="#b0387a"/><path d="M424.9 38.5h0m1.1 2.2h0m7.2 0.2h0m-5 1.4h0m-1.9 2h0m-8.7 4.6h0m1.1 3.7h0m-1.4 4.4h0m5.6 0h0m13.6 2h0m6.9 3.4h0m2.1 0h0m-6.8 1.2h0m-121.7 19.5h0" stroke="#1b177d"/><path d="M429.5 36.5h0m-5 1.5h0m-3 2.9h0m8.7 0.9h0m0.2 1.2h0m-8 1.8h0m0.5 4.2h0m-3 1.9h0m5.8 1.3h0m-3.9 1.3h0m-2.3 0.8h0m5.6 1.6h0m0.4 1.9h0m-7.4 1h0m13.1 0.3h0m-10.9 0.5h0m14.5 0h0m5.2 0.8h0m-0.5 1.1h0m4.4-1h0m-6.3 1.5h0m-112.5 9.5h0m-9.8 5.9h0m31.1-0.4h0m-31.4 6.5h0m6.7 2.6h0m3.6 1.4h0m5.3-0.8h0m2.8 0.6h0m-8.8 3.4h0m3.5 1.4h0m-6 1.5h0m9.2 1.9h0m-3.5 4h0m61.8 24.4h0m-40.4 1.1h0m37 0.2h0m-27.1 1.6h0m24.2 0.8h0m-9.1 1.3h0m3-0.3h0m-33.6 1.7h0m2.5 0.2h0m11.5 0.4h0m-4 1.5h0m23.3-0.8h0m-20 1.7h0m-6.7 1.5h0m6.7 1.4h0m-13.4 1.2h0m-0.4 0.4h0m22.3 0.5h0m20.5-0.3h0m-43.4 0.7h0m45.7 1.4h0m61-0.1h0m6.7 0.4h0m0.5-0.4h0m-95 0.7h0m92.9 0.1h0m2.7 1h0m-126.4 1.5h0m1.5-0.5h0m30.9-0.1h0m-29 1.3h0m14.1 0.4h0m102.7 0.6h0m6.2 0.2h0m3-0.3h0m-129.8 1.5h0m33.8-0.1h0m0.3-0.3h0m87.3 0.1h0m2.4-0.1h0m-122.9 0.9h0m1.6 0.3h0m3.6 0.1h0m119.3-0.5h0m-126 1.6h0m4.7-0.6h0m0.9-0.1h0m123.9 0.5h0m-128.5 0.4h0m0.6 0.7h0m4.1 0.2h0m21.1-0.8h0m6.8 0.3h0m-12.7 1.3h0m46.6-0.1h0m59.8-0.5h0m-127.3 1h0m0 0.6h0m31.6-0.8h0m0.8 0.4h0m-32.5 1.4h0m2.6-0.8h0m1.7 0.7h0m3.3 0.2h0m0.6-0.2h0m20.8-0.6h0m30.1 0.4h0m-57.7 0.7h0m0.4 0.3h0m21.7 0.3h0m6.8-0.2h0m-29.4 1.2h0m2.4-0.7h0m1.4 0.3h0m16.5 0.5h0m5.1-0.3h0m37.8-0.3h0m-59.9 1.6h0m0.6-0.5h0m3.8-0.1h0m3 0.5h0m4.5 0h0m3.1-0.5h0m4.7 0.3h0m4-0.1h0m3.3 1.2h0m-29.7 0.3h0m7.2 0.1h0m1.7 0.2h0m1.4 0.2h0m5.5 0.3h0m0.4-0.4h0m3.2 0.2h0m4.4 0h0m1.6 0.4h0m2.7-0.2h0m-22.6 0.3h0m3.3 0.2h0m4.7 0.7h0m0-0.9h0m1 0.9h0m0.7 0h0m3.9-0.6h0m-8.1 0.9h0m1.7 0h0m5.2 0.7h0m1.1-0.4h0m6.2 0.1h0m3.5-0.5h0m-21.7 1.8h0m1.1-0.9h0m4.7 0.8h0m1.1-0.3h0m7.2 0.1h0m2.6 0.2h0m41.7-0.7h0m-60.1 1.2h0m3.4 0.1h0m5-0.1h0m2.4 0.5h0m-11.8 0.2h0m4.6 0.3h0m3.4-0.2h0m9.9 0.7h0m0.8-0.1h0m41.1-0.4h0m11.8-0.3h0m-68 1.3h0m4.6-0.3h0m4.7 0.1h0m-10.1 1.1h0m7.3 0.1h0m1.7-0.1h0m4.5-0.3h0m36.9 0.4h0m-44.2 7.4h0m3.4 2.8h0m5.8 2.1h0m7.8 0.4h0m-9.7 1.7h0m1.8 0h0m10.6-0.2h0m-19 2.4h0m2.8-0.1h0m0.5 0.1h0m2.7-0.7h0m6.9 0.2h0m-14.4 0.9h0m6.3 0h0m5.2-0.2h0m4.4 0h0m-12.7 1.4h0m2.3 0h0m-4 1.1h0m18.7 0.3h0m-13.5 0.7h0m8.1-0.6h0m0.9 0.3h0m-18.3 0.9h0m2.5-0.3h0m0.2 1.2h0m-1.3 0.9h0m4.3 0h0m1.3 0.7h0m1.6-0.4h0m1.5 0h0m-0.9 1.4h0m-5.6 0.4h0m0.8 0.5h0m7.3 0.2h0m2 0.1h0m-9.6 0.3h0m3.9 0.1h0m1.7 0.5h0m5.2 0h0" stroke="#82199c"/><path d="M430 37.2h0m-1.6 0.9h0m4.3-0.5h0m-9.3 1.3h0m4.3-0.2h0m0.3 1.7h0m0.8-0.6h0m-10.1 1.5h0m2.7 0.6h0m3.1 0.1h0m0.6 0.2h0m2.8-0.3h0m1-0.2h0m-5.3 1.2h0m-5.4 0.7h0m6.8 0.3h0m2.2-0.1h0m-6 1.4h0m0.9-0.5h0m-5.3 1.4h0m2.7-0.1h0m0.7 0.4h0m6.5-0.3h0m-5.5 2h0m0.8 0.2h0m1.5 0.1h0m5.3 0h0m-8.5 0.6h0m0.6 0.4h0m7 0.7h0m-9.5 0.5h0m1 0h0m3.4 0.5h0m-6.7 1.2h0m1.1-0.3h0m4.4 0.3h0m11 1.2h0m-10.8 0.4h0m1-0.1h0m-7.1 1.1h0m4.2 0.4h0m4.1-0.1h0m4.7-0.6h0m1.6 0.1h0m-11.3 1.5h0m0.8-0.3h0m7.9 0.2h0m-8.6 0.8h0m3.6 1.3h0m2.4 0.1h0m5.3-0.4h0m6.2 0.4h0m0.7-0.7h0m-15.9 1.3h0m17.8 1.5h0m3.1 0h0m-7.7 0.7h0m2.5-0.5h0m7 0.8h0m-9.7 0.5h0m6.2 0h0m0.6 0.1h0m-0.3 1.1h0m1.5 0.1h0m2.9 0.8h0m-125.3 9.6h0m25.7 3.7h0m-25.1 8.3h0m54.3 40.6h0m9 12.7h0m74.1 0h0m-74.5 3.5h0m65.9 0.3h0m8.3 0.5h0m-128 4.4h0m2.8 0.5h0m126.4-0.5h0m-128.3 1.6h0m32.4-0.2h0m-34 2h0m8.9 0.4h0m0.8 1.5h0m13.7 0.6h0m6.3 0.2h0m-15.9 2h0m10.9-0.1h0m3.8 0.3h0m-5.5 0.7h0m-5.3 3.1h0m6.4 1.2h0m0.8 0.2h0m54.7-0.1h0m-70 0.8h0m3.5 0.6h0m0.5-0.6h0m2.1 0.1h0m68.7 1.1h0m-67.7 2.4h0m-0.5 8.5h0m5.9 2.9h0m6.9-0.1h0m3.9 0.1h0m-3.3 3h0m-2.7 1.2h0m-10.2 1.8h0m8.1-0.3h0m7.4 1.1h0m-12.2 3.6h0m6 2.3h0" stroke="#60129a"/><path d="M321 71.2h0m1.3-0.4h0m3.9 0.1h0m-4.4 1.7h0m3.8 0.8h0m-3.8 0.6h0m-2.2 1.1h0m-1 0.4h0m1.3 0.3h0m5.8 0h0m14.6 0.5h0m-15.5 0.4h0m1.7-0.1h0m4.9 0.6h0m-8.4 0.3h0m6.8 0.2h0m-6.1 1.1h0m-0.5 1.1h0m5.3-0.3h0m-5.4 1.2h0m0.6 0h0m13.4-0.2h0m-21 1h0m12.6 0.4h0m9.1-0.4h0m0.6 0.7h0m-20.6 1.1h0m17-0.5h0m5.4 0.4h0m-20.1 1.2h0m3.1-0.6h0m-1.6 1h0m18-0.4h0m-4.5 1.6h0m-11.5 1.3h0m2.6 0.2h0m2.1 0.2h0m-8.8 1.2h0m4-0.4h0m1.9 0.5h0m10.4-0.1h0m-12.3 0.6h0m6.4 0.5h0m3-0.2h0m-16.6 0.7h0m4.9 0.1h0m-1.7 1.3h0m3.2-0.1h0m12.8-0.3h0m-17.1 1.1h0m0.9 1.8h0m8.9-1h0m-5.1 1.4h0m1.7 0.6h0m2.6 0.9h0m0.5-0.5h0m-8.1 1.2h0m7.4-0.1h0m1.4 2.2h0m-2.8 1.3h0m3.8-0.5h0m-1.6 1.2h0m-0.8 1h0m77.2 13.4h0m-3 2.6h0m23-0.6h0m-73.7 1.2h0m2.2 0.5h0m4.8-0.5h0m-5.4 0.9h0m4.1 0.6h0m-3 0.6h0m6.3 0h0m-2.6 1h0m42.7-0.1h0m-48.8 0.7h0m8.5 0.3h0m0.5 0.6h0m29.4-0.7h0m-42.4 1.3h0m5.9-0.1h0m1.7-0.3h0m37.3 0h0m7.2-0.1h0m6.7 0.2h0m-54.5 1h0m5.8-0.1h0m20.8 0.7h0m24.1-0.7h0m-56.5 1.9h0m4.7-0.4h0m2.7-0.5h0m2.5 0.5h0m0.5 0.2h0m7.4-0.1h0m8.1 0.2h0m25.8-0.2h0m-52.5 1h0m4.3 0.1h0m12.2 0.1h0m17.1-0.3h0m6.3-0.5h0m8.6 0h0m11.6 0.6h0m1.4-0.1h0m-49.1 0.8h0m4.2 0.3h0m14.6-0.2h0m21.6-0.1h0m-41 0.7h0m18.7 0.6h0m31.5-0.4h0m-47.1 0.7h0m3.8 0.9h0m8.8 0h0m28.6 0.1h0m6.3-1h0m-52.9 2h0m4.8-1h0m0.5 0.3h0m20.7-0.1h0m-28.1 1.4h0m6.9 0.3h0m3.9-0.6h0m10.6 0.3h0m12.3-0.4h0m6.6 0.3h0m25-0.3h0m-66.8 1.1h0m0.6 0.7h0m5.4-0.8h0m4.5 0.6h0m41.6-0.7h0m-36.2 1.5h0m17.6 0.4h0m1.1-0.9h0m10.6 0h0m5.2 0.9h0m-57.3 0.2h0m3.5 0.6h0m19 0h0m2.5-0.8h0m67.6 0.8h0m-74 0.3h0m19.3 0.1h0m-16 0.9h0m2.8 0.5h0m13.6-0.5h0m12.4 0.9h0m3.7-0.7h0m15.1 0.1h0m33-0.4h0m-100.2 1.6h0m14.2-0.5h0m3.6 0h0m10.6 0.2h0m21.6 0.6h0m44-0.5h0m10.7-0.2h0m3.1 0.6h0m-107.8 0.6h0m0.9-0.2h0m9.7-0.2h0m0.9 0.3h0m29.5 0.5h0m-16.8 0.3h0m0.2 0.7h0m67.4 0.1h0m2-0.9h0m1.1 0.8h0m14.1-0.1h0m-112.6 0.9h0m6.9-0.5h0m24.5 0.6h0m83.8-0.5h0m-104.8 1.2h0m37.3 0h0m58.1 0.5h0m0.4-0.5h0m1.3-0.1h0m0.9 0.3h0m0.2-0.3h0m4.3 0.1h0m-88.5 0.9h0m11.8 0.6h0m12.6-0.4h0m1.8-0.1h0m48.2 0.1h0m14.1 0.1h0m-87.5 1.1h0m0.9-0.4h0m0.7 0.5h0m1.6-0.8h0m13.5 0.5h0m63.1 0h0m3.6 0.2h0m1.5 0.1h0m1.8-0.1h0m-117.2 0.4h0m15 0.2h0m12.8 0.2h0m4.1-0.3h0m5.6 0h0m9.1 0.2h0m7.7 0h0m5.5 0.4h0m8.4-0.7h0m41.4 0.6h0m-75.8 1.2h0m38.3 0h0m38.3-0.3h0m1.6-0.6h0m-80.7 1.4h0m0.7-0.2h0m1 0h0m12.9 0h0m22 0.6h0m5.7 0.1h0m41.1-0.1h0m-83.5 0.4h0m18.4 0.4h0m12.8 0h0m7.3 0h0m1.6-0.6h0m0.2 1.3h0m2.8-0.3h0m3.8 0.4h0m37.6 0.2h0m-69.1 1.2h0m2.7 0.1h0m23.5-0.5h0m3.4 0.5h0m44.5-0.8h0m-68.4 1.3h0m64.8-0.4h0m-101.6 1.8h0m13.1-0.6h0m16.6 0.5h0m7.4-0.3h0m5.7 0h0m-31.3 1h0m26.7 0.4h0m7.8-0.7h0m5.1 0.5h0m10.6-0.4h0m-4.7 1.4h0m4.8-0.5h0m-55.4 1.3h0m24 0.6h0m3.3-0.7h0m7.5 1.4h0m4.7 0.3h0m-10.8 0.8h0m0.5 0.9h0m12.6 0.2h0m1.4-0.8h0m0.2 0.1h0m1.3 0.6h0m0.5-0.8h0m5.6 0.2h0m-17 0.8h0m2.5 0.2h0m-4.7 1.2h0m5 0.6h0m-4.8 1.3h0m9.2-0.3h0m2.3 0h0m3.8 0.1h0m1.4 0.5h0m-6.8 1.1h0m1.8-0.5h0m1.1 0.1h0m-13 1h0m20.8 0.1h0m-2.8 0.9h0m-14.7 1.9h0m0.9 0.6h0m11.9-0.1h0m-11.7 1.7h0m1.1 0.3h0m-54.9 2.8h0m-0.2 0.9h0m4.2 2.2h0m5.6 0.1h0m4.7 0.2h0m5.6 2.6h0m-15.7 0.8h0m17.3 0.9h0m0.8 1h0m-2.8 1.2h0m0.9-0.2h0m-15.2 1.7h0m10-0.7h0m-1.3 2.6h0" stroke="#aa3280"/><path d="M327.5 72h0m9.3 0.1h0m-8.6 0.5h0m6.6 0h0m-3.5 1.6h0m-15.4 1.5h0m4.2 0.7h0m2.1 0.5h0m6 0.5h0m-11.6 0.2h0m6.1 0.5h0m23 0.1h0m-30.6 0.8h0m0.8-0.1h0m2.3 0.1h0m1.5 0.2h0m4.9-0.4h0m-7.6 1.8h0m3.9 0.3h0m7.5 0.2h0m3.8 0.2h0m1.9 0.1h0m-15.7 0.8h0m4.9 0h0m0.9-0.5h0m-9.5 1.6h0m9.7 0.6h0m-6.3 1.3h0m7.7 1h0m1.3-0.3h0m5.4 0h0m-11.9 1.5h0m0.7 0.1h0m5.2 1.9h0m2.7 2.1h0m-1.3 1h0m-0.3 1.7h0m-5.8 1.8h0m-0.6 1.7h0m9.9 0.7h0m0.6-0.3h0m0.1 1.2h0m1.3-0.6h0m-3 1.1h0m-1.6 2h0m-3.1 1.3h0m85.4 11.3h0m-53.6 4.9h0m38.4 0h0m3.7-0.4h0m-46.6 1.2h0m4.4 1h0m-10.4 0.8h0m9.7 0.3h0m42.3-0.2h0m3 0h0m-52.6 1h0m12.9-0.1h0m37.8 0.4h0m1.9-0.4h0m-43.7 1.4h0m0.3-0.6h0m3.9 0.6h0m13.3 0.1h0m3.6-0.2h0m4.2-0.2h0m-20.1 1.5h0m8.9-0.3h0m20.5-0.5h0m0.6-0.1h0m18.4 0.7h0m13.9-0.8h0m0.1 1h0m-66 0.7h0m4.1-0.1h0m20.4-0.3h0m-38.1 1.1h0m8.6 0h0m7.5 0.5h0m13.3-0.2h0m18.4-0.3h0m-13 0.9h0m2.8 0.6h0m-11.8 0.2h0m11.7 0.5h0m5.6 0.3h0m-39.5 1h0m4.1-0.7h0m1.1 0.2h0m0.7 0.1h0m2.5 0.1h0m2.6 0.3h0m8.7-0.3h0m8.3-0.3h0m2.1 0.2h0m-20.2 1.1h0m2.4-0.5h0m9.9 0.5h0m5.7-0.5h0m-29.3 1.1h0m2.3-0.2h0m27.2 0.3h0m9.6 0.2h0m0.8 0.1h0m3.7 0.8h0m0.4 0.2h0m-3.5 1.3h0m1.8-0.6h0m-44.7 1.1h0m2.5 0.5h0m52.7-0.4h0m-37.9 0.5h0m72.7 0.9h0m-51.7 0.9h0m3.5-0.6h0m62.2 1.5h0m1.7 0.1h0m-97.4 0.7h0m21.3 0.2h0m2.7 0.3h0m16.2-0.3h0m11.4 0.2h0m43.1 0.1h0m5.5-0.8h0m4.3 0.8h0m-115.5 0.4h0m1.8 0.1h0m23 0.4h0m12.7-0.8h0m4.2 0.6h0m5.4 0.2h0m2.4-0.7h0m57.4 0.8h0m2.1-0.7h0m-79.4 1.4h0m2.2 0.1h0m74.2 0.1h0m-106.5 0.3h0m14.1-0.1h0m14.1 0.7h0m10-0.5h0m-13.6 1.7h0m3.4-0.2h0m69.3-0.2h0m12.7-0.1h0m3.4 0.1h0m-114.6 0.6h0m29.8 0.2h0m0.7 0.2h0m39.2 0.4h0m0.8-0.7h0m35.6 0.3h0m8 0h0m-124.6 1.3h0m73.1-0.3h0m7.1 0.2h0m39-0.3h0m-112.9 0.9h0m41.3-0.3h0m34.8 0.8h0m35.2-0.1h0m6.5-0.3h0m-92.1 1.3h0m6.4-0.1h0m10.9-0.6h0m3.9 0.4h0m63.4-0.5h0m4.3 0.1h0m2.7 0.7h0m-64.5 0.8h0m21.3-0.2h0m4.3 0.4h0m35.5 0.1h0m-103.6 0.4h0m14.2-0.2h0m4.4 0.2h0m1.9 0.5h0m14.8-0.4h0m10.6-0.2h0m20 0.3h0m-66 0.6h0m8.9 0.9h0m3.5-0.3h0m20.9-0.3h0m19 0.1h0m16.2-0.3h0m-26.7 1.6h0m66.2-0.5h0m-59.9 0.9h0m-57.7 1.4h0m7-0.4h0m6 0.4h0m5.3-0.6h0m-2.1 1.4h0m2.8-0.3h0m5.2 0.7h0m30.1-0.6h0m4.9 0.3h0m16.5-0.2h0m-55.3 1.3h0m5.3 0.2h0m36.2-0.4h0m12.3 0h0m-66 0.8h0m58 1.8h0m-15.4 1.4h0m2.3 0.4h0m13.1-0.1h0m-68.8 1h0m56.9-0.2h0m13.6 0h0m2.2 0h0m3.5-0.1h0m0.5 0.3h0m-61.9 0.9h0m44.9-0.4h0m3 0.6h0m3.4-0.3h0m-50.9 1.5h0m62.9 0.2h0m-15.3 1.3h0m-4.6 0.8h0m5 1.7h0m0.5 1.2h0m7 0h0m-4.1 0.9h0m-53.4 2.4h0m-3.3 2.1h0m10.6 0.3h0m-5.9 0.2h0m4.5 0.5h0m-1.9 0.6h0m4.5 0.9h0m-15.2 1.3h0m9.1-0.3h0m7.9 0.6h0m-8.4 1h0m5.1-0.4h0m7.2 0.7h0m-14.5 1.3h0m4.8-0.3h0m1.2 0.1h0m-4.6 1.4h0m1.6 0.3h0m1.8 0.1h0m-4.9 0.5h0m6.4 0.8h0m-6 1.2h0m2.7 0.7h0m7.5 1.2h0m-2.3 0.8h0m4 0.7h0m-6.5 0.6h0m5.1 0.1h0m0.4-0.5h0m0.2 0.9h0m-0.1 0.7h0m-6.7 0.8h0m1.5 1.7h0" stroke="#a32c86"/><path d="M361.4 59h0m-17.3 13.3h0m-2.8 2.2h0m-6.4 8.5h0m4.1 1.7h0m-1.5 6.4h0m99.5 4.5h0m3.8 0.4h0m-6.5 0.6h0m3.1 0.2h0m4.8 0.3h0m-7.8 1.3h0m9 0h0m-8 0.8h0m1.5-0.3h0m-2.5 2.9h0m2.1 0.4h0m7.8 0.1h0m-15.7 1.1h0m-4.5 0.5h0m4.5 0.2h0m6.5-0.1h0m4.8-0.5h0m0 0.4h0m-14.7 1.3h0m5 0.1h0m3.3-0.2h0m8.6 0h0m-23.5 1.9h0m10.8 1h0m2.2 0.4h0m6.4 1.4h0m-2.7 0.7h0m5.7 0.8h0m-10 0.7h0m3.1-0.2h0m5.9 0h0m-12.3 0.7h0m0.5 0.4h0m-9.1 0.6h0m16.1 0.9h0m2.2 0.4h0m4.1 0h0m-1.3 1.7h0m-21.5 0.4h0m15.6-0.2h0m6 0.7h0m-4.6 1.4h0m-4.1 0.8h0m3 0.1h0m-5.7 1.5h0m-52 12.5h0" stroke="#f6ba38"/><path d="M357.8 53.2h0m-3.4 2.9h0m3.8 1h0m0.1 1.5h0m-3.6 3.8h0m-2.4 0.9h0m1.1 0h0m-7.5 2.6h0m-5.4 2.3h0m3.2 0.1h0m1.3 1h0m2.3 0.1h0m-10.5 0.4h0m0.7 0.5h0m4.4-0.3h0m2.3-0.4h0m1.2 0.6h0m-19.7 0.7h0m0.4 0.4h0m6.8-0.6h0m-14.7 1.7h0m19-0.1h0m4.5-0.7h0m-24.7 1.7h0m15.7 0h0m7.5 0.1h0m2.6 0.8h0m-0.2 0.8h0m0.5-0.2h0m-0.6 0.9h0m-5.4 1.7h0m-3.9 0.1h0m1.9 0.5h0m4.9 0.5h0m-9.9 1.3h0m8.7 0.2h0m-14.3 1h0m4.2-0.3h0m-7.4 0.8h0m11.9 0.9h0m-1.7 1.2h0m3.7 0.8h0m1.6-0.3h0m-16.9 1.1h0m18.4 0.5h0m-12.2 2.8h0m9.4 0h0m-6.8 0.7h0m-6.3 0.7h0m9.7 0.6h0m0 0.4h0m-11.1 1.2h0m15 1h0m-10.8 1.4h0m3.8 1.6h0m109.3 0.3h0m-116.2 0.7h0m1.6 0.1h0m8.1-0.4h0m0.6 1.7h0m110.5 0.3h0m-4.4 1.4h0m-3.4 1.3h0m6.2 0.8h0m-9.3 1h0m11.2-0.7h0m-6.5 1h0m7.6 0.9h0m-25 0.4h0m7.5-0.3h0m5.5 1.6h0m-12.2 1.1h0m-4.7 0.6h0m6.8 0.5h0m13-0.4h0m-20.4 1.2h0m8.8 0h0m5.5-0.4h0m1.2 0.4h0m-14.4 1.3h0m0.4-0.9h0m22.1 0.9h0m-15 1.1h0m8 0.4h0m-23.3 1.3h0m1.4 0h0m4-0.3h0m1.5-0.2h0m7.1 0.2h0m-19.7 0.9h0m0.5 0.6h0m0.7-0.8h0m11.3 0.7h0m20.4-0.5h0m-2.9 0.8h0m0.9 0.7h0m-25.3 0.9h0m3.5 0.2h0m7.3-0.5h0m-15.4 0.6h0m18.4 0.5h0m8-0.1h0m-36.1 1.1h0m1.1 0h0m8.1 0.2h0m1.5 0.1h0m0.7-0.4h0m4.9 0h0m2.9 0.1h0m8.9 0h0m12.5 0.3h0m-37.7 0.4h0m28.5 0.5h0m5.5-0.4h0m7.4-0.1h0m-88.7 1.4h0m67.8-0.6h0m4.4 0.7h0m7.6 0.1h0m-74.4 0.8h0m40.7-0.6h0m11 0.4h0m3-0.1h0m3.8-0.3h0m15.5 0.8h0m-34.6 0.4h0m15.9 0.5h0m3 0.1h0m1.9 0.1h0m10-0.3h0m2.9 0.1h0m3.1-0.3h0m-37.5 0.8h0m11.9 0h0m1.1 0.4h0m0.8 0.1h0m4.3-0.6h0m4.5 0.5h0m9.5-0.1h0m-35.2 1h0m17.6 0.3h0m0.4-0.5h0m18.6 0.4h0m5.6-0.5h0m-27.3 0.8h0m8.1 0.2h0m1.2 0.5h0m3.8-0.6h0m2.4 0.5h0m-19.1 0.8h0m3.5 0.3h0m0.8-0.1h0m0.4-0.6h0m3 0.4h0m14.5 0.3h0m6.3-0.2h0m-76.8 1.1h0m34.6 0.3h0m19.8-0.4h0m6.7-0.5h0m10.2-0.1h0m-57.5 1.4h0m23.9 0.4h0m0.9-0.3h0m12.3-0.3h0m6.1 0.4h0m1.2 0.3h0m5.5-0.9h0m6.5 0.2h0m-34.1 1.7h0m4.8-0.4h0m4.6 0h0m4.2-0.1h0m1.6 0.3h0m1.9-0.7h0m3.4 0.3h0m4-0.2h0m3.2 0.3h0m2.6 0.5h0m-59.5 1.7h0m25.8-0.5h0m5.8 0.6h0m12.7-0.5h0m8.2 0.6h0m-33.6 1.2h0m10.6-0.9h0m7.6 0.5h0m-50.9 0.9h0m41.4-0.1h0m17.7 0.4h0m-20.6 0.8h0m8.7 0.3h0m0.2-0.6h0m-15.3 0.9h0m3.3-0.1h0m1.7 0.7h0m14.3-0.6h0m-22 2.6h0m3.8 0.1h0m0.4 1.1h0m1-1h0m-2.6 1.4h0m4.8 0.4h0m4.2-0.7h0m14.5 0.1h0m-34.7 0.9h0m17-0.1h0m4 0h0m1.1 0.6h0m15.2-0.3h0m-17.9 1.3h0m-0.9 1.2h0m15.7-0.2h0m-35 1.1h0m49 0.3h0m-27.2 0.4h0m-20.5 1.1h0m14.3 0.8h0m26.3 0.2h0m-16.8 1.2h0m6.1 0.2h0m1.1-0.6h0m8.8 0.3h0m-9 1.1h0m1.7-0.7h0m-20.1 1.2h0m17.7 0.5h0m10.2 0h0m-0.2 0.7h0m0.2 0.5h0m-26.6 0.7h0m24.3 3.2h0m1.5-0.5h0m0.1 1h0m5.7 0.1h0m-23.3 1.6h0m14.3 0h0m8 0.8h0m-16.5 0.6h0m-2.4 0.9h0m-2 1.9h0m20.4 1h0m-19.5 1.4h0m10.1 0.2h0m-0.8 2.2h0m1.6 2.8h0m1.5 0.8h0m2.2 0.5h0" stroke="#de7256"/><path d="M421.9 37.5h0m9 0.5h0m-8 0.8h0m6.3 0h0m-4 1h0m2.8-0.2h0m-5.1 1.5h0m6.6 1h0m-5.4 3.1h0m1.6 1.1h0m-7.9 0.8h0m0.2-0.1h0m4.8 1.4h0m1.2-0.2h0m5.2-0.7h0m-13.4 1.9h0m8.7-0.1h0m4.9 0.1h0m-3.7 0.7h0m-9.8 0.9h0m10.4-0.3h0m3.1 0.7h0m-8.6 0.3h0m8.1 0.6h0m2.2-0.7h0m-11.7 1.6h0m5.9-0.3h0m-9.2 0.7h0m0.1 0.7h0m1.9-0.6h0m6 0.8h0m-1.5 0.6h0m-2.7 2h0m-1.8 0.5h0m15.1 1.6h0m1.5-0.3h0m3.4 0.5h0m-4.2 0.2h0m6.4 0.4h0m-2 1.2h0m5.8 1.9h0m-4.2 0.9h0m5-0.4h0m-113.7 12.8h0m15.2 1.4h0m11.2 2.6h0m-36.6 15.6h0m61.3 31.9h0m-37.1 10.2h0m22.8 8.4h0m-34.9 5.9h0m1.2-0.2h0m20.9 1.5h0m-16.7 1.5h0m5.5 0.2h0m0.4 0.3h0m0.7 1.1h0m13.2 0.6h0m-26.5 1.3h0m11.5 1.6h0m8 0.5h0m-10.4 1h0m2.8 0.8h0m15.6 13.8h0m-11.3 0.6h0m2.2 0.5h0m7.7 1.9h0m-11.9 2.3h0m0 5.6h0m-1.9 0.3h0m11.9 0.7h0m-7.8 2h0" stroke="#4f1395"/><path d="M426.2 39.4h0m-5.3 2.2h0m1.8 0.8h0m4.1-0.5h0m3.3 0.4h0m-12 1.8h0m7.9 1h0m3-0.5h0m-8.9 1.3h0m0.8 0.2h0m-3.9 3.1h0m4.2 1h0m-3.7 4.1h0m-88.9 17.7h0m11.9 0.8h0m-21.4 2.4h0m-1.7 1.1h0m-2 0.4h0m21.4 0.6h0m11.5 0.1h0m-29.6 0.2h0m26.1 0.4h0m3.4-0.2h0m2.3 1h0m-35.4 1.9h0m12.1-0.2h0m-8.6 2.7h0m-2.7 2h0m4.5-0.2h0m1.3 7.5h0m-2.1 1h0m-1.2 0.4h0m2.3 3.3h0m6.4 1.1h0m-4.4 0.6h0m0.6 2.2h0m35.6 20.1h0m-0.3 1.4h0m31.7 0.3h0m-34.8 2.4h0m22.1 1.1h0m2.6-0.7h0m0.7 0.6h0m-33.5 0.5h0m27 0.6h0m-14 0.2h0m17.7 0.4h0m-32.3 1.4h0m17.5 0.4h0m1.8-0.1h0m7.6-0.2h0m8.1 0.6h0m-31.9 0.6h0m0.3 3.3h0m67.3 0.4h0m24.1-0.3h0m-86.9 0.7h0m33.4 1.7h0m54.2-1h0m-93 1.5h0m107.8 1.2h0m-73.6 0.7h0m69.6 0.3h0m4.2-0.4h0m-4.7 1.6h0m-101.8 0.4h0m3.1-0.1h0m7.9 0.8h0m74.1-1h0m6.9 0.9h0m6-0.6h0m11.1 0.3h0m-106 0.5h0m17.6 0.4h0m86.9-0.5h0m2.6 0.8h0m-105.9 0.6h0m5.8 0.2h0m33.6 0.1h0m63.1 0.2h0m-126.4 0.8h0m118.7-0.7h0m2.6 0.9h0m1.8-0.6h0m3.5 0.7h0m1.3-0.6h0m-125.7 1h0m36.3-0.1h0m3.8-0.1h0m9.8 0.1h0m-50.2 1.1h0m0.9-0.2h0m33.9 0.7h0m11.9-0.5h0m21.7-0.3h0m11.6 0.8h0m36.4-0.4h0m10.7-0.2h0m0.8 0.6h0m-127.7 0.2h0m1.7 0.8h0m0.1-0.8h0m121.8 0.4h0m-119.9 1.1h0m28-0.3h0m2.3 0.5h0m18.6-0.4h0m11.3 0h0m1.8 0.2h0m56.8 0h0m-126 0.4h0m0.9 0.5h0m30.1 0.3h0m7.1 0h0m89-0.7h0m-124 1.1h0m4.2 0.6h0m31.1-0.7h0m0.4 0.5h0m24.7 0.3h0m61.1-0.5h0m-121.9 1.6h0m1.5-1h0m29.8 0.6h0m1.8-0.5h0m30.1 0.2h0m57.4-0.1h0m-116.1 1.6h0m2.6-0.4h0m25.6-0.4h0m29.1 0.6h0m-61.1 0.5h0m2.9 0.7h0m18.8-0.2h0m0.2-0.3h0m9.2 0.4h0m1.6-0.7h0m32.3 0.4h0m-50.4 1.3h0m4.8 0.1h0m6.5-0.4h0m3.8-0.2h0m-30.8 1.6h0m4-0.7h0m0.7 0.6h0m0.8 0.1h0m3.4-0.3h0m0.7 0h0m4.5 0h0m5.7-0.1h0m1.2-0.3h0m10.5 0h0m21.3 0.1h0m-51.3 1.1h0m3.6 0.5h0m4.1-0.5h0m3.3 0h0m1.7 0.7h0m6.8-0.1h0m0-0.8h0m7 0.5h0m-22.7 0.8h0m7.5-0.1h0m3.8 0.5h0m5.9-0.7h0m0.8 0h0m4.6 0h0m1.9 0.6h0m30.8 0.2h0m-52.3 0.7h0m2.3-0.4h0m2.4 0h0m4.9 0.1h0m1.4-0.3h0m3 0h0m7.3 0.5h0m-27 1.2h0m1.9 0h0m0.4-0.5h0m12.7 0h0m3.3 0.6h0m7.6-0.5h0m37.1 0h0m14 0.3h0m-76.1 0.4h0m6.2 0.1h0m5.2 0.3h0m4.8 0.3h0m3.4 0h0m3.2-0.2h0m1.2-0.1h0m-16.7 1.2h0m3.8-0.1h0m0.8-0.4h0m10.9 0.1h0m-10.8 1h0m7.8 0.7h0m-17 0.7h0m7.5 0.3h0m7.9-0.5h0m-3.1 1.3h0m-2.4 1.2h0m-3.3 0.5h0m7.4 5.1h0m7.9 4.3h0m-3.5 0.8h0m2-0.5h0m1.1 0.3h0m1.9-0.2h0m-8.8 1.5h0m1.2 0.1h0m7.6-0.3h0m-8.4 0.9h0m4.7 0.1h0m-11.2 0.7h0m0.8 0h0m4.2 0.3h0m2 0.2h0m0.9-0.3h0m5.1 0.2h0m-16.9 1.3h0m3.3-0.6h0m1.5 0.1h0m7.4 0.5h0m-12.9 1h0m12.5-0.4h0m3.1 0.3h0m-10 0.4h0m3 0h0m4.2 0.3h0m1.1-0.4h0m3.3 0.7h0m-10.4 0.5h0m3.7-0.1h0m2.2 0.7h0m8.2-0.1h0m-21.6 0.6h0m1.5-0.3h0m1.3 0h0m2.7 0.3h0m4.8 0.3h0m1.9 0h0m2.1 0.2h0m-11.7 0.6h0m1.5 0.3h0m3.9 0h0m1.5-0.6h0m4.6 0.6h0m2.8-0.1h0m2.1 0.2h0m-16.9 0.5h0m7.2-0.3h0m3.6 0.6h0m4.3-0.6h0m4.3 0.8h0m-20.2 0.3h0m5.7 0.4h0m4.6-0.3h0m3.1 0.5h0m5.1-0.3h0m-12 1.4h0m2.8-0.8h0m-1.1 1.5h0m-4 1.6h0m2.8 0.1h0" stroke="#8a1c9c"/><path d="M353.2 57h0m8.5 0.2h0m-8.1 3.4h0m-3.4 1.8h0m0.7 0h0m2.2-0.1h0m2-0.1h0m-5.5 1h0m-1.6 0.9h0m1.8 0.2h0m2.5-0.1h0m-8.9 3.1h0m4.3 0h0m-9.3 0.7h0m0.7 0.3h0m0.9-0.1h0m2.3-0.2h0m-0.6 0.7h0m-8.4 1.3h0m0.5-0.5h0m2.3 0.4h0m3.4-0.4h0m0.5 0h0m1 0.3h0m-9.1 1.1h0m2.9-0.3h0m-8.4 1.5h0m12.5-0.3h0m4.8-0.2h0m0.4 0.1h0m-24.2 0.9h0m10.6 0.2h0m0.2 1.2h0m-8.5 0.9h0m0.2 0.6h0m2.1-1h0m1.7 0.2h0m7.2 0h0m7.7 0h0m0.3 0.7h0m-3.9 0.3h0m0.8-0.1h0m0.1 0.8h0m-11.1 0.7h0m12 0.6h0m-8.1 1.2h0m2.7 1h0m5.8-0.3h0m-6.6 1h0m2.9-0.1h0m-6.3 2h0m6.7-0.4h0m3 0.4h0m-9.5 0.7h0m9.4 0.2h0m-23.6 0.7h0m23.1-0.2h0m-9.2 0.8h0m3.1-0.2h0m3.8 0.5h0m-16.2 1.9h0m16.5-0.2h0m-17 1.5h0m18.2 1.2h0m-14.4 1h0m9.9 1.4h0m-2.4 2.5h0m4.9-0.5h0m0.1 0.8h0m104.8 1.7h0m-117.8 1h0m116.8-0.6h0m-109.5 1.4h0m100.5 0.5h0m-107.4 2.6h0m7.1 0.1h0m97.1 2.8h0m4 0.8h0m2.6 0.5h0m-0.7 1.5h0m2.1 0.2h0m-14.7 1.2h0m0.3-0.4h0m4.7 0h0m13.3-0.4h0m-8.5 1.1h0m-17.5 1.8h0m5-0.3h0m0-0.4h0m21.2 0.7h0m-29.1 1h0m11-0.3h0m7.7 0h0m-20.9 1.4h0m0.8-0.9h0m1.5 0.8h0m14.5-0.7h0m1.1 0.6h0m0.4-0.2h0m-22.1 1.3h0m18.7-0.5h0m-19.9 1.1h0m15-0.3h0m7.2-0.1h0m5.8 0.7h0m-22.2 0.3h0m6.4 0.6h0m14.6 0.3h0m1.6-0.7h0m-34.8 1.2h0m8.6 0.1h0m2.1 0.4h0m-8.4 0.3h0m1.9-0.3h0m7.6 0.7h0m22.4-0.1h0m-24 1.2h0m4.2-0.1h0m6-0.7h0m5 0.9h0m18.2-0.8h0m-28.1 1.2h0m20.6 0.7h0m0.4-0.1h0m-40.5 0.8h0m11.9 0h0m5.6 0h0m4.3-0.5h0m-58.2 1.8h0m32.3 0h0m11.9-0.2h0m2-0.8h0m2 0.9h0m7.8-0.6h0m4.2 0.3h0m4-0.1h0m1.7 0.4h0m7.7-0.7h0m5.2 0.4h0m-33.9 1.2h0m5.5 0h0m6.9 0h0m6.4-0.2h0m14-0.2h0m-39.4 1.3h0m6.7-0.6h0m1.4 0.4h0m0.6-0.4h0m7.2 0h0m6.8 0.9h0m0.7-0.5h0m1.9 0.5h0m1.5-0.2h0m0.3 0.2h0m2.1-0.5h0m5.4 0.1h0m-31 0.6h0m8 0h0m1.1-0.2h0m1.6 0.5h0m4 0h0m6.3 0.4h0m5.4-0.1h0m-36.5 1.1h0m8.7-0.4h0m8.2 0.4h0m26-0.2h0m-74.7 0.4h0m44.5 0.5h0m2.3-0.3h0m4.1-0.2h0m20.7 0.9h0m2.7-0.1h0m0.9 0h0m-40 1h0m11.3-0.8h0m5.1 0.1h0m4 0.5h0m17.2-0.6h0m-23.9 1.8h0m2.7-0.1h0m1.7-0.5h0m-21.1 1.2h0m2.2-0.3h0m0.5 0.5h0m9.7 0h0m2.8 0h0m-39.5 0.7h0m27.1 0.1h0m2.3 0h0m9.4-0.5h0m6.3 0.3h0m11.1 0h0m-75.1 1.4h0m47.7-0.4h0m16 0.5h0m6.8-0.1h0m0.6 0.3h0m4.4-0.1h0m-39.1 0.8h0m14.9-0.6h0m17.2 0.1h0m-45.4 1h0m14.5-0.2h0m0.1 0.7h0m8.2 0.1h0m-29.8 1.2h0m27.4-0.2h0m2.4-0.2h0m1.4 0.3h0m3.9-0.7h0m5.4 0h0m18.1 0.4h0m19.5 0.3h0m-61 0.3h0m6-0.1h0m5.4 0.1h0m8.9 0.4h0m1.4-0.2h0m7.5-0.4h0m-27.9 1.7h0m-7.7 0.7h0m0.1-0.4h0m9.5 0h0m3.7 0.8h0m-15.7 0.2h0m11.1 0.2h0m5.8 0.2h0m-16.4 1.1h0m6.7-0.3h0m-4.7 0.9h0m3.4 0.4h0m2.6-0.5h0m16.1 0.8h0m3.3-0.7h0m-18.6 1.4h0m8.8-0.4h0m18.4 0.2h0m-39.1 0.9h0m20.9 0.3h0m-6.7 1.5h0m17-0.8h0m8.5-0.1h0m6.8 0.8h0m-37.8 0.3h0m29 0.1h0m5.5 0.5h0m-30.8 0.4h0m7.8 0h0m7.2 0.5h0m12 0.2h0m-5.7 0.1h0m2.3 0.2h0m9.2-0.1h0m-26.6 1.1h0m7.6 1h0m1.6 0.2h0m14.2 0.1h0m4.6 0h0m-30.5 1.2h0m12.9-0.4h0m15.4 0.7h0m-4.4 0.4h0m-9.6 1.5h0m12.2-0.8h0m0.6 0.8h0m-1.6 0.8h0m3.8 0.1h0m0.5-0.6h0m-18.8 1.6h0m2.1-0.1h0m-5.6 0.8h0m5.2 0.2h0m3.8 0h0m-11.6 1.2h0m2.6 1h0m16.2-0.2h0m-2.6 1.7h0m-12.4 1.2h0m6 0h0m4 0.4h0m-13 1.2h0m23.6 0h0m-10.7 0.8h0m-12.4 1.9h0m1.9-0.8h0m7.9 0h0m8.1 0.6h0m-12.2 1.9h0m15.9 1.8h0m-15.2 1.5h0m5.1-0.6h0m9.3 0.3h0m0.8-0.4h0m-11.5 0.9h0" stroke="#d86a5b"/><path d="M359.2 50.6h0m0.3 0.1h0m1 0.4h0m-1.4 2.6h0m-3.9 1h0m2.3 0.8h0m2.4-0.2h0m-4.5 1.4h0m6.9-0.2h0m-8 2h0m6.2-1h0m-5.9 1.5h0m1-0.2h0m1.3 0.4h0m4-0.3h0m-9.7 1h0m1 1.5h0m5.1-0.6h0m0.7 0.4h0m-14.9 7.4h0m-1.4 2.3h0m0.1 1.6h0m0.9 0.6h0m-8.7 4.6h0m-5.8 4.8h0m9.4 0.2h0m-8.3 3h0m5.6 8.9h0m103.1 3.6h0m1.9-0.4h0m0.5 1.3h0m0.7 0.2h0m-12.5 0.9h0m9.1 0.2h0m-10.5 0.2h0m6.5 0.8h0m6.1-0.2h0m2.6-0.4h0m-15.2 1.5h0m2.7-0.1h0m5.4 0.1h0m5.5-0.6h0m-15.7 0.8h0m0.8 0h0m7.9 0.9h0m5.1 0h0m-17 1h0m9.9-0.2h0m-8.7 1.5h0m2.7 0.4h0m4.3 1h0m4.7-0.5h0m7.9 0.2h0m-19.4 1.1h0m2.2 0.5h0m12.4-0.1h0m5.7-0.3h0m-6.5 1.3h0m-25.4 1h0m10.6-0.4h0m17.2-0.4h0m1.7 0.6h0m0.8-0.6h0m-27.1 1.8h0m-7.5 0.9h0m26.2-0.1h0m7.2-0.2h0m-8.1 0.6h0m-19.3 1.2h0m2.5-0.2h0m0.7 0.7h0m0.9-0.1h0m7.5 0.2h0m2.4-0.3h0m-14.8 1.4h0m1.1 0h0m0.5 1h0m9.4-0.5h0m1.1 0.4h0m8.2-0.2h0m-23.3 1h0m15.7 1.1h0m4.6-0.2h0m5.1-0.4h0m-10.1 1.4h0m-25.2 0.9h0m18.5-0.3h0m7.5 0.9h0m-4.4 0.7h0m13.8-0.6h0m3.2 0.3h0m-29.3 1.1h0m8.5-0.2h0m13.7-0.2h0m1.1 0.7h0m-11.7 1.2h0m2.7 0.6h0m-1.5 1.6h0m-0.3 1.3h0m1.4 1.7h0m-27 1.7h0m23.3-0.1h0m1.4 2.6h0m1 1.5h0m-1.3 0.7h0m1.6 0.9h0m-41.8 4.2h0m26.2 2.7h0m-23.1 1.8h0" stroke="#f3a641"/><path d="M331.3 69.7h0m-9.7 5.7h0m-5.2 1.1h0m-1 1.9h0m2.5-0.7h0m14.4 0.1h0m-6.9 2.1h0m-8.3 2.2h0m1.1-0.2h0m11.7-0.3h0m6.2 1.5h0m-16.8 0.4h0m-0.2 1.4h0m-1.7 1.1h0m2.6 0.1h0m5.5 0.4h0m3.3 1h0m-11 2.6h0m13.6-0.5h0m-11.5 1.4h0m-2.7 1.1h0m3.5-0.5h0m0 2.5h0m13.1-0.5h0m-15.6 0.9h0m8.2 1.5h0m0.2 1.2h0m1.6 1h0m-1.5 3.6h0m0.3 0.9h0m3.4 0.3h0m-1.9 1.9h0m100.4 1.1h0m-32.4 11.8h0m16-0.1h0m-57.2 1.2h0m45.9 0.3h0m-39.6 1.9h0m38.1-0.1h0m-46.9 1h0m-4.8 1h0m2.6-0.1h0m5.4-0.3h0m29.4 1.9h0m-21.6 0h0m14.4 0.3h0m1 0.2h0m3.3 0.4h0m0.3-0.7h0m-17.4 1.8h0m10.8-0.8h0m6.5 0.7h0m11.4 0h0m6-0.3h0m16 0h0m3.9-0.3h0m-54.2 1.5h0m1.3-0.3h0m4.5-0.1h0m0.7 0.4h0m5.4-0.1h0m6.6 0.3h0m26.7-0.4h0m-61.7 0.7h0m35.6 0.1h0m-22 1.1h0m2.6 0.1h0m12.9-0.5h0m4.4 0.1h0m28.6 0h0m-51 1.1h0m37.5-0.3h0m-39.2 1.9h0m5.1 0h0m9.4-0.8h0m1.5 0h0m-31.2 1.3h0m2.5 0.3h0m8.1-0.4h0m13.2 0.6h0m23-0.3h0m2.5 0h0m3.4 0.2h0m-21.3 0.4h0m-19.4 1.1h0m9.3 0.3h0m12.7 0.2h0m22.6-0.2h0m45.5-0.1h0m-101.6 0.9h0m12.9 0.3h0m11.1 0.2h0m-9.2 0.3h0m0.6-0.2h0m11.5 0.9h0m2-0.6h0m0.8-0.1h0m2.7 0.7h0m7.5-0.1h0m-37.7 0.5h0m29.1 0.3h0m-30.1 0.9h0m101-0.1h0m3.5 1h0m1.1 0h0m2.4 0.4h0m1.6-0.3h0m2.2-0.5h0m1.6 0.7h0m-103.2 0.5h0m0.9 0.8h0m24.5 0h0m16.9-0.1h0m7.6-0.4h0m47.4-0.3h0m1.5 0.4h0m-116.3 0.7h0m3 0.4h0m11.7 0.1h0m92.2 0h0m15-0.3h0m-83.9 1.2h0m2.7 0h0m3.6 0h0m9.9 0.1h0m60.1-0.1h0m0.1-0.4h0m-118.6 0.7h0m16.5 0.6h0m98.6-0.2h0m1.3 0.5h0m1.9-0.3h0m2.6 0h0m-117.8 0.9h0m30.4-0.2h0m3.3 0.2h0m16.1 0.4h0m1.1-0.7h0m13.7 0.4h0m-39.8 1.3h0m5.2-0.4h0m5.4-0.1h0m20.6-0.2h0m12.1-0.2h0m36.4 0.2h0m6.2 0.4h0m1-0.4h0m0.6 0.1h0m6 0h0m4.7 0.4h0m-121.1 1.1h0m22.2 0.2h0m5.7-0.7h0m1.8 0h0m0.9 0.1h0m17.7 0.1h0m9.7 0.3h0m18.8-0.1h0m34.5-0.6h0m1.1 0.7h0m0.1-0.4h0m-80.2 0.9h0m0 0.5h0m9.1-0.3h0m15.3-0.4h0m4.1 0.9h0m53.7 0.8h0m5.1 0.2h0m-58.2 0.6h0m51.2 0h0m4.6 0.2h0m-124.9 0.8h0m119.1-0.3h0m3.9-0.1h0m-117.7 1h0m22.9 0.4h0m7.8-0.3h0m-36.5 1.6h0m30.5-0.5h0m36.2-0.3h0m12.6 0.6h0m4.4-0.1h0m-77.6 1.1h0m4.9 0.3h0m22.3-0.8h0m2.1 0.5h0m-6.4 0.8h0m0.3 0.1h0m30.1 0.1h0m-59.5 1.2h0m26.6-0.3h0m4.2-0.3h0m3-0.2h0m29.4 0.3h0m1.6 0.2h0m2.9-0.5h0m16.1 0.7h0m-83.2 0.8h0m2.8-0.4h0m27.7 0.3h0m50.8 0.3h0m-81.3 1.1h0m4.5-0.4h0m17.3 0.4h0m33.8 0h0m2.7-0.4h0m12.4-0.2h0m7.1 1.1h0m1.4 0h0m1.2 0.5h0m-74 1.1h0m67.9-0.8h0m-71.9 1.3h0m9 0.4h0m10.7-0.5h0m45.9 0.1h0m14.3 0.2h0m-64.2 1.9h0m52.8 0h0m6.3 1.3h0m-61.5 0.1h0m58.1 1.7h0m7.9 1.1h0m-13 3.8h0m4.8 0h0m-3.9 1h0m-57.2 0.7h0m-3.3 1.9h0m15.3 0.1h0m2.6 1.2h0m-15.4 3.3h0m5.1-0.1h0m0.4 1.2h0m6.3-0.1h0m7.9-0.2h0m-7.5 0.9h0m5 1.5h0m2.4-0.9h0m0.3 0.4h0m-3.7 0.8h0m3.3 0.5h0m2.3-0.5h0m-22 0.9h0m9.2 0.6h0m8 0.1h0m-13.1 0.5h0m2.6 0.5h0m2.5-0.6h0m1.8-0.2h0m0.6 0.8h0m7.8-0.3h0m-15.6 0.7h0m0.8 0h0m11.8 0h0m3.3-0.2h0m-20.6 1.1h0m10.8 0.5h0m4.5-0.4h0m3.7-0.1h0m-17.9 1.6h0m3-0.6h0m-1.9 1.1h0m12.1 0.1h0m2.3 0.3h0m-1.9 1.3h0m1.8-0.6h0m-1.5 1h0m-8.6 1.2h0m0.4-0.3h0" stroke="#9d288c"/><path d="M356 51.5h0m1-0.9h0m0.3 0.5h0m0.8 0.3h0m0.6 0.9h0m-3 0.3h0m0.7 0.4h0m2.2 0h0m-2.3 0.5h0m-1 1.8h0m1.2-0.8h0m2 0.8h0m0.5-0.4h0m-5.4 1.2h0m2.8 0.5h0m1.1 0.1h0m2.5 0.2h0m-0.8 1.2h0m0.5 0.1h0m1.5-0.1h0m-8.2 1.1h0m-2 1.3h0m4.8-0.9h0m2.8 0.8h0m-3.4 0.2h0m-21 8.2h0m3.3 2.6h0m-1.1 2h0m8 0.7h0m-8.9 3.4h0m4 0.5h0m-17.7 3.8h0m7.1 2.1h0m4 0.4h0m-0.6 2.6h0m110.5 10.1h0m-115.3 0.6h0m113.3 0.4h0m-11.5 1.2h0m14.5 0.2h0m-9 1.1h0m-3.1 0.2h0m2.9 0.3h0m9.7-0.2h0m-19.9 1.5h0m3.7-0.4h0m-5.9 1.2h0m8.3 0.4h0m7.2-0.5h0m-17.2 1.1h0m14.4-0.5h0m-12.2 1.8h0m0.4-0.1h0m2.8-0.4h0m12.5 1h0m-12.4 0.8h0m5.4-0.1h0m7.3 0.7h0m1.8-0.4h0m-3.5 1.1h0m1.6 0.2h0m1.9 0.2h0m-19.7 0.7h0m11.9-0.6h0m0.9 0.5h0m5.4-0.2h0m-24.7 1.2h0m7.5-0.4h0m1.3 0.3h0m-13.6 1.1h0m17.1 0h0m1.8 0.4h0m2.6-0.1h0m11.1-0.8h0m-25.8 1.2h0m19 0.3h0m1.3-0.1h0m3.6 0.5h0m2.7-0.5h0m-25.9 1.1h0m7.8 0.3h0m0.5-0.2h0m4.6-0.3h0m7.6 0.2h0m-11.1 1.5h0m3.3-0.2h0m3.7-0.6h0m5 0.7h0m1.5-0.8h0m-28.2 1.6h0m12-0.2h0m13.8 0h0m-40 1.4h0m6.8 0h0m5.6-0.2h0m5.1-0.6h0m14.1 0h0m2.1 0.8h0m1.9-0.3h0m1.2 0h0m-29.9 1.4h0m0.7-0.3h0m12.2 0.1h0m2.7-0.7h0m-12.1 1h0m3.6 0.9h0m7-0.7h0m3.6 0.1h0m11 0.5h0m-36.8 0.1h0m42.9 0.5h0m-20.5 2.1h0m14.2-0.5h0m0.7 0.1h0m-23.1 1.1h0m12.6 0.3h0m6.3-0.1h0m3 1h0m-22.7 1.4h0m10.5 0h0m1.2 0.1h0m-3.8 0.6h0m11.9 0.2h0m-20.9 0.2h0m8.4 0.5h0m-0.7 1.2h0m-6.8 3.1h0m5.5 0.1h0m-5.7 1.7h0m11.1 0.6h0m0.1 1.1h0m-24.2 0.7h0m5.1 1.4h0m-25 2.8h0m13.1 4.9h0m22 0.2h0m2.1 5.4h0m-22.9 5.6h0m-4.5 2.3h0m-0.3 1.3h0m24.1 7.3h0" stroke="#ee9548"/><path d="M356.6 61.7h0m0.2 0.6h0m-4.5 0.3h0m-2.7 2.2h0m-0.8 1.3h0m0.9-0.4h0m-16.6 3.4h0m6 1.2h0m6.2-0.6h0m-18 1.6h0m15.6-0.6h0m-24.2 1.6h0m4.7-0.2h0m1.5 0.2h0m1.7 0.6h0m-5.2 1.5h0m8.7-0.1h0m7.3-0.2h0m3.1 0h0m-11.6 0.7h0m-4.8 1.6h0m0.9 2.2h0m3.8-0.1h0m1.5 0.8h0m-11.3 0.7h0m13.4 0.3h0m-1.3 0.7h0m-10.5 1.5h0m1.4 0h0m5-0.9h0m-5.7 1.8h0m4.4-0.6h0m2.2 0.3h0m8.3 0h0m-20.4 1.2h0m1.4-0.1h0m8.7-0.3h0m-1 1h0m4.3 0.3h0m10.4-0.1h0m-13.1 1.3h0m3-0.4h0m4.2-0.2h0m2.4 0h0m3.1 0h0m-19.6 1.5h0m9-0.5h0m5.3-0.2h0m-16.9 1h0m16.1 1h0m-13.7 1.5h0m7.6 0.2h0m-3.1 1.2h0m10.3-1h0m-4.2 4.1h0m-9.8 1.6h0m5 0h0m0.7 0.7h0m7.1 0.7h0m-11.1 0.9h0m1 1.6h0m3.8-0.3h0m3.3 1.4h0m-2.9 0.3h0m2.1 1.4h0m105 0.7h0m2 1.4h0m-6.1 3.5h0m-5.2 1.4h0m-13 0.7h0m8.8 1.8h0m3.5 0h0m13.4-0.6h0m-20.6 3.2h0m18.7 1h0m-39.3 1h0m10.5 0.5h0m9.7-0.2h0m-66.8 1.1h0m79.5-0.8h0m10 0.3h0m-84.1 1.5h0m1-0.1h0m2.4 0.1h0m38.6 0.1h0m10.4 0h0m2.4-0.7h0m-15.8 0.9h0m4.1 0.1h0m7.4 0.6h0m3.8-0.6h0m1.8 0.5h0m1.1-0.4h0m23.9-0.4h0m-81.1 1.7h0m38-0.6h0m0.1 0.5h0m2.6-0.4h0m1.4-0.2h0m6.4 0.9h0m14.3-0.8h0m-60.1 1.5h0m31.9 0.1h0m13.3-0.3h0m-50 1.1h0m42.3-0.3h0m12.9 0.3h0m-52.6 1.4h0m54.2-0.6h0m2 0.3h0m17.8 0h0m-84.3 1.1h0m7.5-0.6h0m8.6 0.2h0m32.7 0.1h0m28 0.3h0m-68.7 0.9h0m33.3-0.1h0m7.3-0.3h0m3.8 0.3h0m0.7 0.4h0m-47.9 0.7h0m1.5 0h0m11.7 0.3h0m25.5-0.2h0m14.4-0.2h0m5.7 0.5h0m10.1-0.5h0m2.9 0.4h0m5.6-0.5h0m-73.8 1.1h0m1-0.1h0m0.9 0.5h0m34.4-0.7h0m1.8 0.8h0m24.9-0.2h0m5.1-0.4h0m-68.4 0.8h0m6.4 0h0m2.2 0.4h0m42.9 0.1h0m16.2-0.1h0m-77.9 0.4h0m8.2 0.9h0m40.4 0.1h0m9.7-0.2h0m2.3-0.5h0m13.7-0.1h0m0.3 0.7h0m-56.4 0.7h0m20.8 0.1h0m10.2-0.7h0m14.1 0.5h0m-19.9 0.9h0m6.3 0h0m4.9 0.2h0m-51.2 1.3h0m10.8-0.1h0m4.6-0.7h0m18.1 0.4h0m4 0.1h0m0.9-0.2h0m2.6 0.2h0m0.5 0.2h0m0.5 0.1h0m0.4-0.9h0m1.4 0.6h0m9.6-0.5h0m2.4 0.4h0m-55.8 0.8h0m5.5 0h0m10.5 0.1h0m14.4 0.2h0m3.1 0.3h0m0.1-0.6h0m0.8 0h0m3.8 0.6h0m5.2-0.5h0m10.8 0h0m-51.8 1.4h0m8.5-0.5h0m6 0.5h0m11.7-0.6h0m7.1 0.5h0m1.5 0.2h0m0-0.7h0m1.6 0.8h0m3.8-0.7h0m2.6 0.2h0m9.9 0.3h0m-56.4 0.5h0m3.3 0.6h0m5.4-0.8h0m14.3 0.7h0m0.4-0.5h0m3.4 0.4h0m5.5-0.1h0m8.7-0.1h0m3.8 0.3h0m4.3-0.3h0m9.7-0.2h0m38.1 0.4h0m-88.2 1h0m24.2 0.3h0m7.1-0.9h0m-46.4 1.8h0m8.4-0.8h0m36.3 0.5h0m13.5-0.3h0m2.8 0.5h0m1.4-0.2h0m41 0.1h0m-101.2 0.6h0m6 0h0m38.8 0h0m6.1-0.1h0m0.9 0.5h0m-41.6 0.4h0m31.7 0.5h0m-30.7 1.2h0m7.3-0.5h0m5.5 0h0m6.6 0h0m13 0.4h0m13.1-0.1h0m-41.5 0.7h0m11.3 0.2h0m1.7 0.1h0m16.6 0.3h0m61.3-0.3h0m-58.8 0.6h0m-17.1 1h0m37.6 0.5h0m1-0.5h0m-49.4 1.1h0m8.4 0h0m9.4 0.5h0m0.2-0.5h0m6.1 0.1h0m5.6 0h0m9.3 0h0m12.3-0.2h0m-58.7 1.4h0m16.5-0.2h0m14.7 0.3h0m2.1-0.6h0m15.7 0.3h0m2.8 0.1h0m34.8-0.3h0m-71 0.9h0m12.5-0.1h0m4.3 0.5h0m4.7-0.4h0m3.4 0.7h0m8-0.8h0m7.3 0.6h0m-23.6 1.7h0m9.2 0.1h0m-9.1 1.5h0m2.7-0.2h0m4.8-0.6h0m9.2 0.4h0m-49.1 1.1h0m34.8 0h0m3.1 0.1h0m1.8-0.7h0m1.3 0.6h0m-41.2 0.6h0m32.1 0.4h0m24.9 0.3h0m0.9-0.3h0m-60.1 0.7h0m33.2 0.5h0m1.4-0.4h0m9.2-0.2h0m15.7 0.6h0m0.7-0.3h0m-27.3 0.7h0m31.3 0.7h0m-4.9 0.2h0m1.3 0.8h0m-24.7 0.6h0m5.9 0.1h0m-8.5 0.6h0m6.4 0.5h0m6.2-0.5h0m2.9 0.7h0m11.6-0.7h0m-17.4 1h0m19.5-0.2h0m-27.6 1.3h0m28.3 0.1h0m-24.9 1h0m0.4 0.6h0m7.9-0.5h0m1.4 0.5h0m4.5-0.3h0m5.4-0.5h0m-14.3 1.2h0m2.4 1.4h0m0.2-0.1h0m12.8-0.1h0m-19.3 1.3h0m2-0.9h0m0.8 0.2h0m3 0.5h0m-0.3 1h0m13.5 0h0m0.7 1.1h0m-13 1.1h0m4.3-0.7h0m-6 1.3h0m6.9-0.4h0m6.1 0.2h0m-14.6 1.5h0m3.1-0.1h0m5.8-0.7h0m6.3 0.6h0m-8.3 1.2h0m6.1-0.1h0m-4.2 0.4h0m0.8-0.1h0m2.7 0.4h0m-64.2 5h0m19.1 5.7h0m-4 1.6h0m-2.8 3.6h0" stroke="#bd456f"/><path d="M439.5 95.7h0m-2.7 1.2h0m5 2.4h0m-6.6 0.4h0m4.7 0.2h0m-8.8 0.9h0m13.3 2.8h0m0 1.4h0m-7.3 1.6h0m0.5 1.1h0m-10.3 1.6h0m3.9 0.7h0m5 1.5h0m-25.7 2.1h0m27.7 1.3h0m0.2 1.5h0m-14.1 4.6h0m-30.2 38.1h0" stroke="#f6d82e"/><path d="M436.1 96.4h0m5.5 0.3h0m-12 6h0m3.2-0.2h0m-2.6 3.1h0m-2.5 2.3h0m-0.8 5.2h0" stroke="#f2ee2c"/><path d="M423.6 37.5h0m1.5-0.4h0m3.7-0.5h0m0.7 0.9h0m2.6-0.4h0m-10.8 1.7h0m7 0.1h0m2.8 0.1h0m3.2-0.5h0m-15.3 1.9h0m5.2-0.4h0m0.2 1h0m-6.8 2.5h0m2.4 0.8h0m4.2-0.4h0m6.1 0.1h0m-10.3 0.6h0m-0.7 1.7h0m4.5-0.4h0m2.3-0.1h0m-8.4 0.8h0m7.3 0.8h0m2.4-0.9h0m-11.4 1.3h0m4.2 0.7h0m10.3 0.9h0m-15 0.4h0m2.8 0.5h0m5.7 0.1h0m3-0.7h0m-11.4 1.7h0m3.9 0h0m4.5 0.6h0m8.3 0.3h0m-15 0.3h0m0.2 0.9h0m0.6 0.7h0m2.1-0.6h0m7 0.1h0m-3.8 1h0m-6.9 1.2h0m16.7 0.2h0m-11.9 0.7h0m8.8 0.1h0m1.7-0.2h0m5.2-0.1h0m-15.1 1.4h0m11.1 0.3h0m1.3-0.2h0m-13.3 1.3h0m0.5-0.2h0m1.6 0.2h0m1.3-0.7h0m1.5 0.5h0m4.6 0.2h0m8.2 0.1h0m-6.9 0.5h0m1.6 0.1h0m1.9 1.3h0m6-0.7h0m1.1 1.2h0m4.1 0.8h0m-4.9 1h0m-2.2 0.9h0m5.2 0.5h0m-91 13.5h0m0.6 0.3h0m3 0.3h0m-3.8 0.4h0m1.2 0h0m-39.8 6.3h0m29.4 46.7h0m-2.5 7.7h0m-10.4 2.7h0m1.9 1.1h0m20.9 1.2h0m-24.7 0.7h0m26.1 7.4h0m4-0.1h0m-16 1h0m11.7 0.1h0m5.9-0.2h0m-14.1 0.4h0m1.1 1.3h0m12.3 1.4h0m-26.6 0.9h0m66-0.3h0m-67 1.5h0m6-0.7h0m15.5 0.7h0m35-0.9h0m-37.2 1.1h0m-14.9 1.7h0m12.1 1.4h0m-5.2 1.1h0m0.9 0.8h0m3.3 13.4h0m7.4 0.4h0m-15.7 5.1h0m7.3-0.2h0m5.5 3.8h0m0.9 2.3h0" stroke="#581298"/><path d="M421.6 38.5h0m1.5-0.7h0m1.1-0.2h0m0.8 1.3h0m5.2 0h0m3.8 0.3h0m-1.1 1h0m-1.9 0.7h0m1.1-0.1h0m-6.8 1h0m4.1 0h0m-10.1 1.7h0m1.3-0.1h0m1.2 0.9h0m6.6-0.2h0m-1.2 0.5h0m-8.5 1.4h0m5.8-0.4h0m-7.5 1.7h0m4.5 0.3h0m5.1 0.3h0m3.4 0.2h0m-6.8 1.1h0m-6.8 1.6h0m7.7-0.1h0m3.5 0.8h0m-10.9 0.8h0m4.2 0.1h0m3 0h0m4.9-0.4h0m-9.3 0.8h0m1.7 0.4h0m3.2-0.7h0m0.5 1.8h0m1.8-0.1h0m-0.3 0.9h0m1.2-0.4h0m3.9-0.1h0m-10.9 1.2h0m-4.1 0.7h0m18.8 0.4h0m-14.2 1.1h0m2.6-0.1h0m3.4 0.6h0m2.4-0.1h0m5.8-0.4h0m2.6 0.5h0m-13 0.7h0m2.8-0.4h0m4 0.3h0m3.6 0.3h0m-10.8 0.2h0m8.3 0.8h0m4.8 0.1h0m5.1 0.8h0m0.2-0.7h0m3.8 1.6h0m-8.7 0.8h0m2-0.4h0m6.9-0.1h0m-5.6 2.8h0m-122.3 6.3h0m14.3 0.7h0m-15.9 3.3h0m26 1.2h0m-16.7 1.1h0m29.4 1.1h0m-2.6 1.1h0m-31.7 10.6h0m10.6 2.3h0m-8.8 5.4h0m2.9 1.6h0m-0.3 3.8h0m22.3 18.2h0m34.4 2.1h0m-11.2 1.8h0m-21.9 0.7h0m-3.2 1.4h0m28.2-0.2h0m-27 2h0m30.5 0.3h0m-32.4 1h0m46.1-0.5h0m-25.6 1.3h0m12.1 0.9h0m0.8 1.7h0m-34 1h0m1.6-0.8h0m22.8 1.5h0m-25.4 1h0m15.4 0.2h0m82.3 2.5h0m-90.3 1.1h0m6.8-0.3h0m-7.9 1.4h0m108.5-0.2h0m-59.8 1.1h0m-47.2 0.6h0m20.9 0.1h0m70 0.7h0m16.6-0.4h0m-129.3 0.6h0m34 0.4h0m44.6-0.5h0m48 1h0m0.7-0.7h0m-127.6 1.1h0m2.3 1.3h0m33.6-0.5h0m40.2 0.7h0m-72.3 1.1h0m0.7-0.3h0m2.4-0.1h0m30.1 0.3h0m3.4-0.2h0m79.6-0.6h0m-118.1 1.4h0m1 0.3h0m121.3 0h0m-124.5 1h0m0.9-0.2h0m2.4 0.2h0m25.9-0.1h0m4.7 0.1h0m-33.1 0.3h0m6.7 0.2h0m0.9 0.1h0m19.5 0.4h0m2.4-0.7h0m-31.2 1.2h0m8.6-0.3h0m2.5 1.8h0m16.4-0.5h0m6.1 0.1h0m3.3-0.4h0m-31.8 1.1h0m3.4 0.5h0m12.4-0.2h0m15.3 0.1h0m0.2-0.4h0m-13 1.6h0m2-0.3h0m0.6 0h0m-24.1 1.3h0m7-0.5h0m3.2 0.8h0m0.4-0.7h0m52.1-0.2h0m19.9 0.4h0m-79.8 0.5h0m4.7 1h0m0.8-0.4h0m1.9 0.2h0m16.7 0.1h0m-22 0.4h0m1.8 0.6h0m14.5-0.8h0m-15.8 1.7h0m6.4 0h0m8.2-0.1h0m1.7-0.3h0m1.3-0.3h0m54.6 0.3h0m-51.7 0.7h0m-12.5 1.5h0m2.6 0h0m3.8-0.2h0m2 0.2h0m4.1 0.2h0m-12.4 0.6h0m-4.7 1.4h0m7.3-0.3h0m0.9-0.5h0m58.9 0.3h0m-67.5 1h0m5.2 0.6h0m1.3 0.1h0m3.7-0.9h0m45.3 0.6h0m-53.4 0.3h0m8.1 0.3h0m58.1 1.6h0m-15 1.2h0m-31.8 8h0m-0.3 2h0m-15.3 1.5h0m11.4-0.4h0m6.8 0.4h0m-11.4 0.8h0m8.7 0.2h0m-17 1.3h0m3.5-0.7h0m10-0.1h0m-13.2 1.6h0m3.7-0.1h0m5.5 0.9h0m10.5-0.4h0m-16.3 1.6h0m10.4-0.6h0m-6.1 1.2h0m2.1 0.1h0m-8 1.1h0m15.9-0.1h0m-13.4 0.7h0m6.4 1.5h0m2.5-0.1h0m-9.4 1.4h0m0.1-0.6h0m3.5-0.1h0m-1.4 1.1h0m4.5 0.4h0m1.9 0.6h0" stroke="#7a169c"/><path d="M391.4 71.2h0m4.5 0.1h0m-3.2 0.9h0m0-0.7h0m0.2 0.7h0m2.4-0.3h0m0.1 0.2h0m1 0h0m-3.1 1.2h0m0.7-0.5h0m1.2 0.5h0m-2.2 0.8h0m1.8 0h0" stroke="#553a66"/><path d="M430 39.8h0m-7.9 12h0m-2.6 5.8h0m19.4 0.3h0m1.9 0.9h0m-0.1 5.7h0m-107.1 6.7h0m-12.8 1.7h0m6.2 1.4h0m-9.2 2.2h0m9.5-0.9h0m2.5 0.4h0m13.3 0.5h0m-21.6 0.1h0m-3.9 1.7h0m29.8-0.7h0m0.1 0.9h0m1.4-0.4h0m0.9-0.2h0m-0.9 0.8h0m3.8 0.7h0m-31.2 0.8h0m-2 0.7h0m5.3 0.8h0m-4.5 1.6h0m-0.5 1.1h0m3.9 0.1h0m2.1-0.9h0m-3.1 1.2h0m-5.1 3.5h0m1.3 1.3h0m5.3 1.6h0m-3.8 2.1h0m0.8 0.8h0m10.2 2.1h0m-2.1 2.1h0m-2.1 0.9h0m1.9 2.1h0m-3.6 0.5h0m23 17.2h0m54.9 0.8h0m-54.6 1.1h0m0.7-0.1h0m2 0.7h0m-6.5 2.9h0m34.9 0h0m-33.2 0.5h0m32.3 0.3h0m-14.1 1h0m8.2-0.3h0m13 0.5h0m-22.8 1.1h0m1.9 0h0m-12.2 0.9h0m20.3-0.2h0m6.5 0h0m1.9-0.6h0m-38.1 1.5h0m8.7-0.1h0m21.1-0.4h0m-17.1 1.6h0m14.6 0.2h0m5-0.9h0m21.8 1h0m-46.9 1.1h0m0.2 0.5h0m3.3 0.1h0m4.9 1.5h0m3.1 0.2h0m17.9 0h0m5.9 0h0m-40.8 0.8h0m99.4 0.6h0m-92.8 0.6h0m1 0.3h0m2.3-0.3h0m15.5-0.3h0m-4 1.7h0m-26 0.4h0m32.4 0.4h0m13.1 0.4h0m-31.6 0.5h0m24.8-0.1h0m73.3 0.1h0m-114.9 1.2h0m6.3-0.2h0m106.6 0.1h0m6.9-0.4h0m-94.7 1.3h0m90.4 0.1h0m1 0.3h0m2.2-0.5h0m1.8 0.5h0m-112.8 0.3h0m14.1 0.2h0m78.7 0.5h0m-107.2 0.2h0m1.3-0.1h0m24.7 0.9h0m11.8-0.4h0m14.6-0.4h0m67.2 0.8h0m5.7-0.8h0m4.4 0.5h0m-129.9 0.7h0m1.7-0.3h0m10 0.8h0m19.9 0h0m18.9 0h0m74.6 0.1h0m2.7-0.1h0m-126.1 0.8h0m2.3 0.1h0m33.2-0.4h0m14.9 0.6h0m32.9-0.3h0m-17.3 0.8h0m59-0.3h0m1.3 0.2h0m1.1-0.2h0m-94.1 1.6h0m4.4 0h0m87.4-0.2h0m0.3 0.1h0m1.3 0.1h0m-97.7 0.4h0m6 0h0m86 0.2h0m0.8 0.3h0m1.1-0.4h0m0.6-0.1h0m1.8 0.5h0m2.2-0.4h0m-126.1 1.3h0m31.1-0.2h0m90.5 0.4h0m-116.9 1.2h0m26.1-0.2h0m-8.4 1.2h0m7.2-0.8h0m1.3 0.9h0m0.4-0.9h0m22.5 0.5h0m-55 1h0m0.9-0.3h0m52.8-0.1h0m-57 1.6h0m7.8-0.3h0m3.5 0.2h0m16.5-0.1h0m4.4-0.3h0m-29.7 1.2h0m5.7 0.4h0m5.1-0.7h0m13.9 0.4h0m0.6-0.1h0m3.8-0.3h0m2.2 0.5h0m50.8-0.2h0m-82.2 0.9h0m29.8 0.5h0m0.7-0.2h0m-28.1 1.3h0m7.6 0h0m4.9-0.5h0m11.5 0.3h0m1.6-0.5h0m31.8 0.7h0m-52.7 0.9h0m3 0h0m7.1-0.3h0m0.8-0.6h0m6.3 0h0m1.9 0.7h0m2.2-0.5h0m50.8 0.7h0m2.5-0.8h0m-80.7 1.1h0m0.6 0.2h0m3.6-0.3h0m6.1 0.5h0m13.6 0.1h0m-13.5 0.9h0m0.3 0.3h0m6.3-0.9h0m1.8 0h0m-12.2 1.9h0m18.6-0.7h0m30.3 0.2h0m12.6-0.3h0m-45.9 1.4h0m37.1-0.2h0m-55 0.8h0m15.4 0.5h0m36.4-0.6h0m4.6 0.1h0m-43.4 1.1h0m43.5 0.5h0m-50.4 0.6h0m4.4 0.7h0m2.5-0.6h0m58.6 0.1h0m-66.1 1.1h0m2.3 0.1h0m1.3-0.5h0m2.1 0.3h0m59.6 0.3h0m-62.4 0.7h0m54-0.2h0m-2.1 1.7h0m1.8 0.1h0m6.4 0.9h0m-54.3 6.5h0m-5.7 1h0m1.4 0h0m2.1 1.5h0m0.4 0.9h0m1.7-0.2h0m3.2-0.7h0m5.3 1h0m-14.3 1.4h0m4.5 0.1h0m3.3 0.1h0m8.8 0.2h0m-19.9 0.8h0m1.7-0.4h0m8.6-0.1h0m5.5 0.2h0m2.1 0.7h0m-16.2 0.4h0m1.4 0h0m2 0h0m2.5 0.2h0m2.4-0.4h0m3.7 0.4h0m-7.5 0.9h0m0.9 0h0m0.4-0.1h0m5.1 0.4h0m5.6-0.2h0m2.1-0.4h0m-3.6 1.4h0m-14.6 0.8h0m8.5 0.1h0m3-0.3h0m6.9 0.6h0m-17.8 0.4h0m4.5 0.4h0m8.3 0.3h0m-3.7 0.2h0m3.2 0.3h0m1.9 0h0m1.7 0.1h0m-13.9 0.6h0m11.7 0.2h0m-11.7 1.8h0m1.3-0.1h0m4 0h0m5.6 0.3h0" stroke="#902096"/><path d="M431 37.4h0m-1.4 0.9h0m2.9 0.5h0m-10.8 1h0m-1.9 1.6h0m-0.2 1.4h0m0.7-0.2h0m1.4 4h0m6.1 0.7h0m1.3-0.5h0m-2.7 2.7h0m-2.7 4.1h0m7.4 1.2h0m1.5 0.4h0m-8.4 1.6h0m3.8 0.3h0m18.8 7.4h0m-0.9 0.7h0m-90.8 13.9h0m-0.4 1h0m1.5 0.2h0m0.2-0.6h0m0.7 1.1h0m-28.6 69.1h0m7.1 0.3h0m-1.8 0.5h0m22.7 0.1h0m-16 1.4h0m19.6 0.7h0m-12.9 5.5h0m49 0.1h0m-54.5 2.7h0m0.5 2.1h0m1.8 16.3h0m3.7-0.1h0m9 3.4h0" stroke="#461492"/><path d="M426.1 36.1h0m3.9 0.2h0m1 0.3h0m-5 1h0m0.9 0.4h0m5.3 0.3h0m1.5-0.7h0m-0.9 0.9h0m2.8 0.4h0m-15.4 0.7h0m2.6 0.5h0m4.1 0.1h0m4.6-0.3h0m-8 1h0m5.3-0.3h0m3.3 0.6h0m-11.9 1.9h0m2.5 0.1h0m2.6 1.7h0m-2.7 1.1h0m-4.1 1.7h0m0 0.4h0m8.1 0.1h0m-7.5 0.3h0m0.2 0.5h0m5.9-0.2h0m4.5-0.3h0m-6.8 1.8h0m-5.7 0.5h0m1 0.9h0m5.1 0.4h0m2.8-0.3h0m-9 1.8h0m1 1.5h0m5.6 0.4h0m1.6-0.1h0m1.7-0.6h0m2.5-0.2h0m2.8 0.9h0m1.2-0.5h0m-10.3 0.8h0m6.4 0.1h0m0.4-0.2h0m1.1 0.5h0m-13.1 0.5h0m2.8 1.6h0m-1.6 0.3h0m3.4 0.6h0m3.6-0.6h0m6 0.1h0m-12.9 1h0m21.4 0h0m4.1 1.7h0m-8.3 0.4h0m-0.4 1.1h0m0.9 0.2h0m1.2 0.4h0m3.1-0.4h0m2.3 0.5h0m-1.7 1.5h0m0.2-0.4h0m1.9 0h0m-126.3 10.1h0m36.2 4.7h0m-29 3.9h0m-7.3 3.5h0m-1.6 2.5h0m4.6 1.4h0m3 3.6h0m-2 2.8h0m2.6 2h0m0.3 1.2h0m34.6 20.2h0m0.2 1.3h0m23.9 1.5h0m1 1.5h0m-3 1h0m-0.9 1.1h0m-30.9 10.9h0m10.2 1.2h0m100.8 2.2h0m-108.3 1h0m8.6-0.2h0m-26.4 1.9h0m0.9 0.4h0m22.6 0.1h0m91.8-0.5h0m-83.9 1h0m-30.5 1.4h0m32.4-0.8h0m86.1 0.1h0m-4.5 0.8h0m-119 1.2h0m0.8 0.7h0m4.7-0.4h0m73.7-0.2h0m43.1-0.3h0m-97.1 3h0m2.8-0.4h0m3 0h0m0.7-0.4h0m4.3 0.2h0m-34.3 1.1h0m3.2 0h0m23-0.3h0m56.1-0.1h0m-78.5 1h0m0 0.9h0m4.6-0.5h0m15.1-0.4h0m8.3 0.3h0m22.1-0.4h0m-55.1 1.5h0m8 0.3h0m43.3-0.8h0m-40.3 1.7h0m2.1-0.1h0m8-0.4h0m-20.2 0.9h0m1.4 0.2h0m13-0.2h0m2 0.8h0m-15.9 0.5h0m6.9 0h0m0.8 0.4h0m7.6-0.2h0m7.3 0.1h0m-22.9 0.7h0m11.6-0.4h0m2.8 0.2h0m2.1 0h0m7.9 1.2h0m-16.3 1.5h0m1.7-0.4h0m6.9-0.3h0m-11.6 1.3h0m1.4-0.4h0m0.3 0.8h0m6.8-0.9h0m3.9 0.4h0m2.5 0.1h0m-10.3 1.7h0m6.5 0.2h0m2.5-0.1h0m2.7 0.1h0m1.5-0.3h0m-16.4 1.5h0m1.4-0.5h0m8.4 0.8h0m3.1-0.6h0m-10.4 0.8h0m0.3 0.2h0m0.9 1.4h0m8.6-0.7h0m-2.7 9.9h0m10.6 2h0m-10.9 1.4h0m9.4-0.3h0m-9.3 1.5h0m4-0.2h0m4.9 1.3h0m-3.8 2.4h0m4.8-0.9h0m6.2 0.4h0m-12.6 1.5h0m-6.5 0.8h0m11.6 0h0m6.9-0.1h0m-20.9 0.3h0m8.8 1h0m-6.7 1.1h0m0.9 0.8h0m1.1 1.1h0m3.8-0.9h0m1.8 0.8h0m2.6-0.8h0m2.1 0h0m0.3 1.6h0m-3.2 1.9h0" stroke="#71149d"/><path d="M359 51.4h0m-4.9 3.8h0m3.8 2.8h0m1.7 2.3h0m-18.2 13.5h0m-5.1 12.2h0m2.3 2.6h0m102.8 6.6h0m-5.4 0.5h0m2.5-0.1h0m-4.2 1.5h0m2.5 1.3h0m-4 0.9h0m4.7-0.4h0m2-0.3h0m-8.2 1.5h0m0.5 0.1h0m4.1-0.5h0m0.8 0.1h0m4.4 0.2h0m-14.6 0.6h0m1.8 0.5h0m1.8 0h0m2.4 0h0m6.9 0.4h0m0.7 0.8h0m-7.5 0.9h0m1.4 1.2h0m2.6 0.1h0m1.3-0.3h0m-5.3 0.6h0m9.9 0.4h0m-21.7 0.5h0m3.1-0.1h0m11 0.1h0m7.4 0.4h0m-26.4 0.6h0m3.1 0.8h0m11 0h0m-1.6 1.9h0m5.6-0.2h0m-17.3 0.9h0m3.1 0.1h0m8.8-0.1h0m-5.9 0.9h0m16.2 0.1h0m2.7-0.1h0m-27 0.7h0m1.1-0.1h0m15.3 0.8h0m-17.2 1.4h0m16.4 0h0m-9.7 1h0m0.3 0.5h0m10.7 0.4h0m6.6 0.5h0m-4.9 0.7h0m-22.4 1h0m26.9-0.2h0m-19.4 1.3h0m0.9-0.2h0m3.8 0.4h0m-3.5 2.1h0m14.1 1h0m2.5 0.3h0m-21.7 1.1h0m15.9 1h0m-32.2 21.5h0" stroke="#f4b03d"/><path d="M357.5 58.2h0m-1.1 0.7h0m2.2 2.7h0m-8 3.1h0m-2.9 3.5h0m-19 2.1h0m1.5 1.2h0m15.6-0.7h0m-24.7 1.3h0m17.5 0.3h0m0.9 0h0m-19.7 0.6h0m10.3 0.2h0m0.1-0.6h0m-13.3 1.9h0m17.4-0.6h0m-13.6 0.7h0m7.7 0.4h0m-10.5 0.5h0m7.1 0.3h0m3.2 0.1h0m0.4 0.3h0m6.2-0.6h0m0.7 0.1h0m0.9 0.5h0m-1 0.7h0m-19.1 1.3h0m19.4-0.1h0m5.1-0.4h0m-21.3 0.9h0m3.4 0.4h0m3.4 0.5h0m7.8-0.1h0m5.3 0h0m-23.9 0.8h0m2.1-0.1h0m3 0h0m15.7 0.2h0m1.8-0.2h0m-12.9 0.5h0m1.1 0.1h0m-7.6 1.2h0m4.5-0.1h0m4.9-0.1h0m-4.9 1.7h0m9 0h0m-1.7 0.1h0m-3 1.2h0m0.9 0.6h0m2.5-0.3h0m7.3 0h0m-19.7 1.2h0m5 0.7h0m4.9-0.2h0m7.4 0.1h0m-6.4 1.1h0m-9.2 0.7h0m1.9 0h0m8.5 0h0m-6.2 1.1h0m2.7-0.1h0m0.8 0h0m3.1 0h0m-1.2 1.1h0m1.2 0.5h0m0.6-0.3h0m-9.8 1h0m3 0.3h0m0.5-0.2h0m6.1-0.1h0m-7.6 1.4h0m0.4-0.5h0m1.7 0.7h0m4.6 0.2h0m-6.1 0.9h0m3.6 0.8h0m4.4 0h0m3.3-0.5h0m-10.9 1h0m-0.1 1.5h0m4.6-0.3h0m106.9 5.4h0m-109.2 1.2h0m1.7 0.1h0m94.4-0.2h0m-2.5 2.9h0m5.9 0.9h0m15.6-0.3h0m-26 1.1h0m15 1.3h0m-14.2 1.8h0m-6.9 1.2h0m0.9-0.8h0m-2.4 0.8h0m18.3 0.9h0m1.4 0h0m14.3-0.8h0m-37.3 1.9h0m6.3-0.7h0m-10.7 1.3h0m9.8 0.1h0m9.6 0h0m10.6 0.3h0m-14.6 0.9h0m-8.6 0.4h0m2.9 0.3h0m15.4 0h0m1.2 0.4h0m13.6-0.3h0m-88.1 1.6h0m2.2 0h0m37.8 0.2h0m1.2 0h0m26 0.4h0m0.6-0.4h0m-71.9 0.6h0m11.1 0.8h0m30.8-0.2h0m4-0.1h0m25.8 0h0m2.3 0.2h0m1.8-0.8h0m-63.5 2h0m33.5-0.6h0m2.4 0.4h0m6 0h0m5.3-0.2h0m6.6 0.4h0m0.5-0.9h0m0.5-0.1h0m-57.1 1.3h0m2.4 0.5h0m28.4-0.4h0m1.8 0h0m7.9-0.3h0m1.1 0.6h0m6.4 0.2h0m1.5-0.4h0m3.9 0h0m0.4-0.4h0m9.5 0.1h0m4.8-0.2h0m-72.1 1h0m0.6 0.9h0m3-0.3h0m39.1-0.3h0m2.8 0.4h0m4.9-0.3h0m7.1 0h0m1.4 0.4h0m19.7 0.2h0m-80.9 0.1h0m1.5 0.8h0m5.8 0h0m31.7-0.8h0m10.6 0.3h0m9.7 0.4h0m7.3-0.4h0m16.7 0.1h0m-78.4 1.4h0m35-0.5h0m7.9 0.3h0m0.1-0.2h0m-54.4 1.2h0m3.1-0.1h0m41.4 0h0m-30.6 0.7h0m36.7-0.1h0m9.4 0.4h0m1.7 0.1h0m11-0.2h0m9.4-0.4h0m-81.6 1.5h0m5.6-0.3h0m2.1 0.3h0m36.3 0h0m1.4 0.3h0m4.7-0.2h0m6-0.4h0m11.8 0.3h0m1.9-0.5h0m4.9 0.4h0m-64.5 1.4h0m7.4-0.7h0m25.3 0.1h0m1.8 0.5h0m1 0h0m1.3-0.1h0m3.7-0.2h0m13.9 0.4h0m4.1-0.7h0m-70.5 1.6h0m20.9-0.3h0m3 0.4h0m18.7-0.7h0m3.7 0.4h0m22-0.2h0m0.7 0.5h0m3.2 0h0m4.6-0.7h0m-77.7 1.6h0m4.5-0.4h0m13.3-0.2h0m26.9 0.8h0m4.9-0.5h0m1.1-0.1h0m0.9 0.2h0m0.1 0.2h0m4.3 0.1h0m-52 1h0m32.2 0h0m1.3-0.5h0m12.7-0.2h0m13.7 0.1h0m-63.4 1.2h0m8-0.1h0m11.4-0.4h0m2 0.3h0m16.4-0.2h0m2.6 0.3h0m1.6 0.3h0m3.3 0.1h0m1-0.5h0m3.9 0.6h0m3.8-0.4h0m2.1 0.4h0m-54.5 0.7h0m0.9-0.3h0m11.7-0.1h0m9.1 0.8h0m3.2-0.3h0m8-0.2h0m4.8 0.1h0m8.6 0.3h0m-40.2 0.5h0m12.7-0.2h0m2.3 0.4h0m9.7-0.6h0m0.9 0h0m9.1 1h0m0.9-0.6h0m0.4-0.1h0m1.8 0.2h0m-46.5 0.9h0m36-0.1h0m0.3 0.2h0m2.2 0.1h0m7 0.1h0m6.5-0.7h0m7.4 0.4h0m-28.9 0.8h0m2.7 0.8h0m4.4-0.4h0m4.6 0.4h0m25.3-0.4h0m26.9-0.4h0m3.9 0.5h0m-72.5 0.8h0m0.9-0.1h0m0.6-0.4h0m0.9 0.1h0m17.5 0.5h0m-24.5 0.8h0m74.5 0.4h0m-58.2 0.5h0m5.6-0.1h0m1 0.7h0m-10.6 0.9h0m8.1 0.1h0m-50.4 0.5h0m43-0.4h0m1.6 0.8h0m2.9-0.6h0m2.8 0.6h0m5.1-0.3h0m25-0.1h0m-46.8 1.6h0m8.3-0.2h0m18.9-0.3h0m-23.4 1h0m10.5-0.2h0m2.9-0.1h0m1.7 0.4h0m-18 1.2h0m11.3 0.1h0m8.1-0.1h0m-19.9 0.6h0m20.1 0.4h0m3.4 0.1h0m-29.9 0.5h0m8.5-0.2h0m37.8 0.4h0m-27.8 1.3h0m7.3-0.2h0m3.2 0.1h0m-5.7 0.3h0m7.8 0.4h0m1.2 0h0m1.2 0.3h0m15.1-0.3h0m-27.8 1.3h0m10.1-0.5h0m4.3-0.1h0m17.7 0.6h0m-29.9 0.3h0m0.4 0.6h0m2.4-0.5h0m3.3 0.4h0m5.6-0.3h0m2.3-0.3h0m-7 1.7h0m4.2 0.2h0m-5.9 0.3h0m1.5 0.1h0m20.6 0.6h0m-29.6 0.8h0m11.8-0.3h0m3.4 0h0m-12.5 0.8h0m4.2 0.2h0m4.7 0.2h0m1.9-0.5h0m1.1 0.5h0m7.7-0.3h0m9.9-0.2h0m-13.3 1.5h0m2-0.5h0m2.5 0.5h0m0.1-0.6h0m2.7 1h0m0.1-0.8h0m1.1 0.2h0m-16.8 1h0m4.5-0.4h0m8 0.4h0m9.4-0.2h0m-16.7 1.7h0m-13.6 0.3h0m8.8 0.3h0m0.5 0.6h0m8.8 0.2h0m-2.2 0.9h0m0.6 0.5h0m8.6-0.5h0m3.1 0.8h0m-26.1 0h0m9.3 0.9h0m0.2-0.8h0m2 0.1h0m11.2 0.6h0m-20.9 0.9h0m9.7 0h0m2.1-0.5h0m2.5 0.7h0m2.3-0.1h0m-2 0.7h0m3 0h0m1.2 0.2h0m2.8 0h0m-16.1 1.1h0m11.3-0.5h0m-13.9 0.8h0m1.8 0.4h0m17.2 0.4h0m1.4 0.2h0m-15 1.8h0m-0.2 0.7h0m1.5 0.8h0" stroke="#c85367"/><path d="M338.5 70.8h0m-16 2.6h0m22.2 4h0m-19.3 0.9h0m-9.6 1.9h0m1.3-0.2h0m23.6-0.4h0m-22.5 1.2h0m14.5 0.1h0m-12.3 0.8h0m15 2.5h0m-19.9 2.3h0m0.8 2.2h0m6.4 1.2h0m-5.7 0.9h0m1.2 0.8h0m0.6 0.4h0m-0.7 1h0m4.2 0h0m6.5-0.2h0m1.6 4.4h0m-6.8 0.4h0m1.8 0.3h0m-4.1 0.6h0m9.3 1.3h0m-5.1 1.1h0m0.7 0.1h0m80.9 15.7h0m-53.2 3h0m-3.5 1.7h0m37.1 1.1h0m-5.6 1.7h0m15-0.1h0m-46.2 0.5h0m23.5 0h0m2.1 0.6h0m-17.6 1.2h0m22.9-0.3h0m5.8 0h0m-15.9 2.3h0m2.7-0.5h0m-28.7 1.3h0m13.3 0.2h0m16.6-0.4h0m-20.2 1.4h0m11-0.6h0m12.7 0.1h0m-28.9 0.9h0m6.8 0.3h0m17 0.4h0m-28.5 0.6h0m62.5 0.2h0m-38.9 0.2h0m1.5 0.7h0m31.3-0.7h0m-53.1 1.4h0m18.4 0.2h0m-18 0.6h0m1.1 1.2h0m44.2-0.2h0m4.3 0.8h0m-27.7 0.6h0m11.7 0.1h0m16.8 0h0m37.8-0.2h0m-84.3 0.8h0m18.7 0.4h0m64-0.2h0m17 0.4h0m0-0.8h0m2.9 0.8h0m-94.3 0.5h0m29.8 0.4h0m-24.3 1.1h0m47.7 0h0m35.8-0.8h0m3.2 0.4h0m5.7 0.1h0m-90 1.1h0m28.1-0.4h0m62.9 0.2h0m-108.7 0.7h0m5.3-0.1h0m1.6 0.6h0m13.7 0.2h0m3.8-0.7h0m20 0h0m11.1 0.5h0m46.7-0.1h0m2.1-0.3h0m2.1 0.4h0m-85.3 1h0m42.5 0h0m25.4-0.6h0m4 0h0m3.3 0.7h0m5.1-0.7h0m2.5-0.1h0m1.6 0.2h0m2.6 0.5h0m1-0.3h0m-91.3 0.7h0m3.4 0h0m33.9 0.8h0m33.1-0.1h0m-105.2 1.4h0m0.9 0h0m28.4 0.8h0m2.2-0.7h0m33.7-0.2h0m53.2 0.7h0m3.5-0.5h0m2.5 0.7h0m-122.8 0.4h0m29-0.4h0m2.3 1h0m87.4-0.8h0m4.5-0.1h0m-96.8 1.6h0m2.3-0.1h0m0.8-0.1h0m3.6 0.3h0m79.9-0.5h0m3.3 0.4h0m4.3 0h0m-120.6 0.8h0m25.7 0.5h0m6.1-0.9h0m1.3 0.4h0m80.9 0.3h0m2 0.2h0m4.8-0.4h0m-128.3 0.4h0m5.1 0.2h0m0.8 0.4h0m3 0.1h0m2.2-0.5h0m21-0.2h0m1.9 0.3h0m1.6-0.1h0m20.7 0.3h0m7.3 0.3h0m22.4-0.6h0m38.5 0.2h0m2 0.3h0m-94.7 1.2h0m1.9 0h0m-2.9 0.2h0m2 0.7h0m1.2-0.4h0m4.1-0.2h0m27.1-0.1h0m-34.1 1.3h0m4.8 0.5h0m20.8 0h0m-51.8 0.7h0m8.9 0.2h0m-1.8 0.3h0m15.3 0.8h0m4.4-0.2h0m-24.4 0.8h0m13.9-0.1h0m12.6 0.2h0m-7.5 1.4h0m47.2 0.6h0m5.8 0h0m-72.1 0.4h0m17.6 0.9h0m3.9-0.1h0m0.8-0.6h0m-23.2 1.6h0m5.6 0.1h0m0.9-0.3h0m5.9-0.2h0m1.1-0.3h0m1.8 0.2h0m39.8-0.2h0m20.3-0.1h0m-67.3 1.8h0m12.8-0.6h0m58.1 0h0m-4 1.1h0m-7.4 2.6h0m-61.9 0.2h0m7.5 0.1h0m51.9 0.4h0m-8.7 0.5h0m15.4 0h0m2.6 2.7h0m-10.5 0.8h0m-56.7 2h0m4.3 0.5h0m6.9 0.8h0m2.2 2.4h0m-14.3 1.7h0m8.9-0.5h0m10 0.3h0m-7 1h0m4.6 1h0m-8.6 0.9h0m7.9-0.5h0m2.7 0.1h0m-15.9 1h0m2.1 0.6h0m13.5-0.7h0m1.8 0.3h0m-18.6 1.5h0m9.4-0.8h0m-2.6 1.2h0m4.5-0.4h0m5.8 0.7h0m-18.5 0.6h0m9.6-0.1h0m-9.3 1h0m2.9 0.1h0m9 0.1h0m4.5 0.4h0m2.3-0.2h0m-18.8 1.2h0m1.5-0.4h0m9.2 1.3h0m3.4 0.2h0m4-0.6h0m-0.5 1h0m-16.3 1.8h0m2.1 0.2h0m4.2 0.5h0m-2.4 1h0m6.7 0.1h0m-1.7 0.8h0" stroke="#962491"/><path d="M426.8 36.5h0m-4 1.6h0m4.7 0.3h0m-5.9 0.7h0m-2.6 10.8h0m7.7 1.2h0m-10.1 3.2h0m7.7-0.7h0m-3.2 1.9h0m1.2 0.3h0m-0.5 0.9h0m13.3 5.2h0m8.2 1.7h0m-68.4 63.8h0m-43.7 20.1h0m4.8 6.6h0m11.2 0.9h0m1.8 6.2h0m-1.7 0.5h0m-3.2 21.5h0" stroke="#3b158d"/><path d="M353.5 62.2h0m-3.5 1.8h0m-4.1 5.4h0m-18.8 1.1h0m1.9 0.6h0m-8.8 1h0m-2.7 1.3h0m3.9-0.2h0m13.2-0.2h0m-18.5 1.9h0m7-0.4h0m11.2 0.2h0m3.5 0.4h0m-10.3 1.3h0m-1.3 0.7h0m3 0.1h0m8.1-0.5h0m-7 1.6h0m-12.9 1h0m24.3-0.6h0m-11.2 1.3h0m-14.4 0.7h0m2.4 0.1h0m-2.2 2h0m7.5 0.4h0m7.8-0.6h0m6.2 0.6h0m-20.1 0.8h0m1-0.1h0m7.9 0.3h0m4.8-0.1h0m2.6-0.5h0m3.1 0.9h0m-10.7 0.7h0m-2.9 1h0m2.7-0.1h0m-9.2 0.6h0m1 0.7h0m-1.9 0.4h0m5.5 0.3h0m0.7-0.2h0m0.5 0.5h0m5.3 0h0m9.4-0.8h0m-3.8 1.2h0m0.7 0.6h0m2.9-0.1h0m-16.6 1.1h0m-3 0.3h0m12.4 0.8h0m-9.1 1.9h0m4.4-0.7h0m6.1 0.7h0m0.1-0.5h0m-5.5 1h0m0.3 0.6h0m1.2-0.6h0m5.9-0.1h0m0.7 0.4h0m-12.2 1.2h0m3.9-0.4h0m3 0.2h0m2 0.2h0m-2.4 3h0m-1 1.9h0m116.2-0.3h0m-19.9 6.7h0m-3.1 3.4h0m-0.2 1.9h0m2.3-0.5h0m18.9 2h0m-22.1 2.5h0m-16.8 2.1h0m3.2-0.5h0m-11.9 1h0m16.1 0h0m6.9 0.1h0m-62.1 1.1h0m35.5 0.1h0m8 0.2h0m7.1-0.5h0m11.5 0.5h0m-65.6 0.5h0m37.8 0.2h0m3.5 0.2h0m7.6-0.3h0m-54.3 1h0m1.9 0.4h0m5.8-0.4h0m39.4 0.5h0m12.1-0.1h0m17.3 0h0m-76.3 0.8h0m10.9 0.3h0m-6 0.7h0m7.9 0.2h0m21.6-0.3h0m22.2-0.1h0m-56.7 1.5h0m5.2 0.1h0m6.9 0.1h0m30.4-0.8h0m-41.7 1.4h0m1.1 0.4h0m0-0.7h0m15.7-0.2h0m46.8 0.7h0m2.4-0.2h0m-67.6 1h0m6 0.2h0m2.5-0.4h0m2.3 0.3h0m5.5-0.6h0m11.8 0.6h0m4.5-0.5h0m10.1-0.1h0m1.3 0.2h0m7.4 0.6h0m14-0.2h0m-65.2 0.9h0m19.1 0h0m-16.9 1h0m33.4-0.2h0m-23.7 1.4h0m10 0h0m0.8-0.6h0m0.5 0.6h0m4.2-0.6h0m23.7 0.9h0m5.4-0.7h0m-43.8 1.5h0m3.4-0.2h0m4.4-0.4h0m5.5-0.1h0m1.6 0.6h0m12.8 0.1h0m12.3 0.1h0m-49.7 0.6h0m1 0h0m15.8 0.4h0m7.4-0.6h0m12-0.1h0m4.1 0.5h0m2.3-0.5h0m4.9-0.2h0m3.7 1h0m7.5-0.1h0m7.6-0.8h0m-67.3 1.3h0m2.1-0.1h0m5.6 0.1h0m4.5 0.4h0m30.2-0.2h0m9.8 0.3h0m-52 0.6h0m3.7 0.1h0m5.5-0.2h0m2.5 0.6h0m1.1-0.5h0m8.5 0h0m13.7-0.3h0m0.1 0.7h0m1.4-0.5h0m3.9-0.2h0m-31.8 1.2h0m23.1 0.4h0m0.4-0.5h0m0.2-0.2h0m2.1 0.8h0m1.2-0.8h0m2.3 0.8h0m2.5 0.1h0m-44.5 0.8h0m0.5-0.3h0m12.7-0.1h0m1.1-0.3h0m3.5 0.1h0m6.6 0.6h0m16.7-0.1h0m15.6-0.2h0m-38.3 0.7h0m0.7 0h0m20.3 0.3h0m1.6-0.1h0m-39.5 0.7h0m6.1 0.7h0m12.2 0.1h0m12.7-0.5h0m1.4-0.1h0m0.8 0h0m2.2 0.6h0m2.4-0.2h0m8.9-0.4h0m-47.1 0.9h0m8.1 0.5h0m24.4-0.5h0m7.7 0.1h0m6.9 0h0m56.6 0.5h0m-86.5 0.9h0m2 0.2h0m3.7-0.6h0m9.2-0.3h0m2.5 0.9h0m0.4-0.5h0m1.6 0.6h0m2.6-0.5h0m9.8 0.3h0m53.3-0.6h0m-78 1.1h0m9.1 0.2h0m0.8 0.4h0m12.1 0h0m-55.2 0.7h0m23.5-0.5h0m28.1 0.7h0m11 0h0m49.1-0.1h0m-80.6 0.6h0m7.5 0.5h0m1.3-0.2h0m2.7 0.1h0m5.9-0.2h0m20.8-0.5h0m48.8 0.1h0m-119.3 1.5h0m44.1-0.4h0m29.3 0.1h0m5 0.2h0m32.4 0.2h0m4.6-0.1h0m-59.9 1.3h0m6-0.5h0m41.4 0.1h0m-65.7 1.3h0m14.2-0.7h0m3.1 0h0m6.7 0.6h0m1.8-0.6h0m17.3 0.6h0m42.2 0.1h0m-78.1 0.7h0m33.7 0.1h0m-18.6 0.8h0m15.6 0.6h0m3.2-0.5h0m38-0.4h0m-98.8 1.5h0m28.3 0.1h0m9-0.4h0m2.5-0.2h0m60.2 1.4h0m-45.3 0.7h0m3.3 0h0m-67.9 1.2h0m4 0.4h0m44.6-0.4h0m6.1 0.1h0m10.3 0.4h0m2.3 0.8h0m3.8 0.2h0m-28 0.4h0m1.4-0.1h0m0.6 0.4h0m-1.4 1.3h0m12.5-0.4h0m2.2 0h0m1.2 0.5h0m-17.6 0.1h0m3.6 0.5h0m1.7-0.5h0m0.5 0h0m4.8 0.3h0m5.5-0.1h0m0.3 0.7h0m3.8-0.3h0m5.3 0.2h0m5.1-0.8h0m-53.3 1.2h0m26.8 0.3h0m7.7 0.4h0m4.8 0h0m6.8-0.9h0m-15.6 1.8h0m17.7-0.4h0m-10.1 1h0m3.2 0h0m5.7 0.4h0m-23.1 0.6h0m14.4-0.2h0m0.4 0.4h0m-13.9 0.9h0m21.7-0.4h0m2.3 0.2h0m-23.5 1.6h0m5.9-0.6h0m1.6 0.1h0m11.3-0.3h0m7.9 0.6h0m-18.5 0.3h0m4.2 0.8h0m5.1-0.3h0m1.3-0.3h0m3.5 0h0m3.1 0.2h0m-18.6 1.3h0m6.7-0.2h0m4.1-0.1h0m1 0.3h0m2.8-0.1h0m-16.6 1.1h0m8.4-0.3h0m-4.9 1.2h0m1.2-0.2h0m8.4 0.2h0m7.6-0.6h0m-21.3 1h0m2 0.3h0m5.9 1.2h0m5.1 0.2h0m-4.6 2.7h0m-53.8 1.3h0m-0.3 0.9h0m16.3 3.9h0m1.4 6.1h0m-15.8 2.1h0m13.7-0.1h0m0 2.6h0" stroke="#b63f75"/><path d="M421.1 44.2h0m-3.7 0.8h0m0.9 0.1h0m-2.1 1.3h0m4.7 0.8h0m-5.2 1.3h0m11.8 0.5h0m0.2 2.2h0m-1.2 0.9h0m6 0.7h0m-14.9 3.1h0m4 0.4h0m6.7-0.2h0m2.2 2.8h0m-10.1 1.4h0m26.9 3.1h0m-8.2 1.2h0m-89.8 91h0m-7.7 6.8h0m13.8 13.8h0" stroke="#301688"/><path d="M353.4 59h0m-9.1 12h0m0.4 2.5h0m-19.1 4.1h0m11.7 1.8h0m2 1.3h0m0.5-0.1h0m-6.3 3.1h0m-0.5 9.1h0m104.7 2.3h0m-2.7 2.3h0m-3.2 1h0m6.8 0h0m-8.2 1.6h0m5.4 0.9h0m-11.2 1.2h0m17.1-0.4h0m-3.7 1.1h0m3.5 1.6h0m1.2-0.3h0m-17.9 0.5h0m12 0.5h0m2.6-0.1h0m-5 1.1h0m5.1-0.5h0m1.7 0.5h0m-8.9 0.8h0m5.3 0.1h0m-0.5 1.4h0m-13.1 0.4h0m4.1-0.2h0m15 0.7h0m0.9-0.2h0m-8.1 1h0m0.9 0.2h0m-8.9 1.3h0m11.6 0.5h0m-21.5 0.8h0m13.7 4.9h0m-15 4.6h0m-8.7 7h0m-21.5 29h0" stroke="#f8c434"/><path d="M439.1 96.3h0m-1.4 1h0m-1.6 0.9h0m5.2-0.6h0m-7.3 1.4h0m2.2 0.4h0m3.1 0.5h0m-6.1 2.6h0m3-0.5h0m-0.1 1.5h0m5 0h0m-5.7 1.8h0m8.1 0.9h0m-16.5 0.9h0m9 0.3h0m7.6-0.3h0m-5.6 2.6h0m-16.4 4.2h0m7.1 3.3h0m11.1-0.5h0m-11.1 1.5h0m-1.6 1.6h0m5.6 1.5h0m3.3 0.3h0m-19.5 3h0" stroke="#f9ce30"/><path d="M354.7 51.1h0m5.4 0.2h0m-4.6 0.3h0m5.2 0.2h0m-7 0.8h0m7.7 0.4h0m-6.2 0.6h0m2 0.5h0m2.7 0.4h0m2.3-0.7h0m-9.2 1.5h0m0.3-0.3h0m4.6 0.5h0m-3.6 1.5h0m3 0.3h0m4.1-0.7h0m-6.2 1.7h0m1.5-0.4h0m-3.3 1.7h0m1.1 0.8h0m0-0.6h0m1.6 0.1h0m-5.9 1.3h0m1.2 0h0m1.7-0.4h0m2.6 0.6h0m-12.2 5.9h0m0.6 5.6h0m-8.9 0.8h0m3.9 0.5h0m0.3 0.5h0m1.3 1.8h0m-2.6 4.3h0m-9.4 7.4h0m5.2 2.5h0m108.1 5.2h0m-5.1 1.5h0m-6 1.6h0m-3.5 0.9h0m5 0h0m11.9-0.2h0m-7.6 0.9h0m1.1 0.8h0m-6.7 0.9h0m7.1 0.2h0m0.5-0.4h0m1.2-0.6h0m4.7 0.1h0m-22.3 2.5h0m1 0.3h0m10.5-0.1h0m4.8-0.1h0m5.4-0.7h0m-17.4 1.5h0m10.5 1.2h0m-20.8 1.2h0m22.5-0.7h0m-10.6 0.9h0m5.4 0.6h0m7.3-0.7h0m-23.1 1.2h0m11.1 0.3h0m2.6 0.3h0m6.8 0.1h0m-16.7 0.7h0m2.3-0.1h0m8.9 0.3h0m0.7 0.1h0m10-0.1h0m-31 1h0m1.5-0.5h0m22.5-0.1h0m0.9 0.4h0m-9 0.8h0m9.8-0.2h0m-5.7 1.5h0m2-0.4h0m0.9 0.1h0m1.2-0.3h0m2.6 0h0m0.3 1.8h0m-31.3 0.3h0m5.7 0h0m8.3 0.7h0m12.2-0.8h0m1.4 0.2h0m1.1-0.2h0m3.4 0.7h0m-17.8 0.9h0m-9.1 0.6h0m7.2-0.1h0m3 0.5h0m0.8 0.1h0m9.2 0.2h0m-27 0.9h0m13.1-0.7h0m3.4 0.4h0m5.8 0.4h0m1.7-1h0m6.3 0.5h0m-13.4 0.6h0m3.8 0.4h0m4.6-0.4h0m5.1 0.3h0m-2.8 1.1h0m3.4-0.3h0m-12.4 1.3h0m2 0.4h0m-6.3 0.5h0m15.9 0.3h0m-17.1 1.1h0m9.5 0.2h0m4.4 0.8h0m-20.9 1.4h0m17.6-0.1h0m-18.4 2.7h0m1.2-0.5h0m11 0.2h0m-26.4 1.1h0m21.8 2.8h0m0.7 0h0m0.6-0.4h0m-0.2 2.6h0m0.8-0.4h0m-0.8 1.2h0m1.1 0.5h0m-1 0.6h0m-12.2 17h0m-1.1 4.9h0m-17 5.8h0m14.3 5h0" stroke="#f09e44"/></g>
<g fill="none" stroke-width="1.3" stroke-linecap="round"><path d="M95.1 430.5h0m0.1 0.9h0m-3.3 1.9h0m0.8 2.1h0m-2.9 1.2h0m3 0.5h0m-3 0.8h0m0.1-0.2h0m5.6 2h0m-1.2 1.6h0m-4.5 0.6h0m7.2 0h0m-5 0.8h0m-0.5 1.8h0m0.6 0.8h0m-3.2 0.9h0m1-0.1h0m2.5-0.5h0m3-0.1h0m-4.5 1.8h0m2.3-0.7h0m2 0.8h0m1.5-0.7h0m-30.8 1.7h0m2.3-0.2h0m19.1-0.4h0m2.5 0.5h0m2.4 0h0m4.7 0h0m-29.8 0.3h0m-2.2 1.6h0m19.6 0.2h0m6.9-0.3h0m-18.2 1h0m9.7-0.4h0m4.2 0.5h0m-19.6 1.3h0m3.6-0.3h0m15.8 0.2h0m-26.6 0.3h0m4.5 0h0m3.9 0.5h0m19.1 0.2h0m0.5 0h0m-23.3 0.5h0m0.5-0.2h0m2.1-0.2h0m-4.7 1.3h0m6.6-0.2h0m8.7 0.8h0m1.8-0.3h0m1.7 0.4h0m-14.4 0.5h0m19-0.2h0m1.3-0.2h0m-21 1.3h0m1 0.4h0m16.7-0.3h0m1.3 0.4h0m-23.1 0.2h0m7 0.4h0m7.1 0.1h0m3.3-0.2h0m0.4 0.5h0m3.3-0.1h0m-14.8 0.4h0m-1.2 1h0m6.6 0h0m9 0.8h0m-14.8 0h0m6.4 0.3h0m7.3 0.1h0m0.5 0.3h0m4-0.5h0m-18 0.9h0m2.5 0.2h0m3.8-0.2h0m3.5-0.1h0m-7.8 1.4h0m2.7 0.3h0m8.1-0.6h0m2.2 0.4h0m0.9-0.3h0m-12.5 1.7h0m6-0.4h0m5 0.4h0m3.7-0.4h0m-10.6 0.5h0m0.8 0.6h0m3.2-0.1h0m0.6-0.4h0m0.9 0.4h0m4.2-0.3h0m1.3 0.1h0m-16.7 1.1h0m4.9 0.1h0m1.4 0h0m3.2 0.4h0m3.3-0.8h0m0.6 0.1h0m3.4 0.3h0m-11.9 1.4h0m0.5-0.5h0m1.6-0.4h0m2.3 0.7h0m5.3-0.1h0m-1.1 0.7h0m2.3-0.1h0m-9.6 1h0m-1.2 1.6h0m5.6 0.2h0m1.8-0.1h0m3.4-0.7h0m-11.4 1.4h0m1 0.2h0m3-0.8h0m3.3 0h0m1.2 1h0m-8.4 0.2h0m6.6 0.2h0m1.5 0.5h0m0-0.4h0m1.2-0.1h0m1.1 0.4h0m-5.5 0.4h0m2.2-0.1h0m-3.7 1.9h0m2.9-0.1h0m2.8-0.4h0m-3.4 0.6h0m2.5 0.7h0m-4.3 0.4h0m0 0.6h0m3.2-0.6h0m-2.9 1.6h0m4.3 0.8h0m-1.4 1.2h0" stroke="#5cba54"/><path d="M55.1 443.1h0m1 0.5h0m-6 1.3h0m0.8 0.2h0m1.1-0.2h0m0.7 0h0m2.2-0.1h0m1.7 0.3h0m-1.4 1.1h0m1.7 0.2h0m1.1-0.2h0m-5.3 0.6h0m1.4 0.1h0m3.3-0.1h0m9.1-0.2h0m0.7 0h0m-16 1.4h0m1-0.1h0m2.1-0.1h0m2.3-0.3h0m5.8 0.9h0m0.4-0.7h0m1 0.5h0m0.7 0.2h0m-15 0.5h0m1-0.2h0m3.2 0.1h0m5 0h0m1.6 0h0m0.2 0.1h0m0.7-0.2h0m3.6 0h0m0.1 0.5h0m-15.4 0.9h0m2.8 0h0m3.3 0.1h0m1.7-0.5h0m0.2 0.3h0m0.9 0.4h0m2.8-0.9h0m2.1 0h0m0.2 0.8h0m1.6-0.7h0m0.8 0.5h0m1.2 0.2h0m1.7-0.2h0m-18.4 0.7h0m1.6 0.3h0m2.9-0.3h0m2.4 0.4h0m2.5-0.4h0m0.9-0.3h0m0 0.2h0m1.3 0.3h0m3.2 0.4h0m1.8-0.8h0m0.4-0.1h0m18.3 1h0m-33 0.2h0m1 0.1h0m6.1 0.3h0m2.3-0.3h0m2.3 0.7h0m0-0.7h0m1.9 0.1h0m0.5-0.1h0m3.6 0h0m4.8-0.1h0m-25.4 1h0m0.6 0.2h0m1.4 0.2h0m1.8 0.4h0m1.5-0.4h0m0.2-0.2h0m3.9 0.3h0m5.1-0.2h0m0.2-0.1h0m0.2 0.2h0m2.2 0.4h0m8-0.1h0m-25.9 0.9h0m0.5-0.2h0m4.3 0.4h0m4.4-0.7h0m5.8 0.6h0m1.3-0.9h0m0.7 0.9h0m0.4-0.6h0m1.6 0.5h0m0.6-0.2h0m6.1-0.5h0m10 0.1h0m-36.5 1.5h0m2.2 0h0m6.7 0.1h0m1.5-0.1h0m5.9-0.5h0m0.8 0.3h0m4.1-0.2h0m10.9 0.6h0m-30.4 0.4h0m0.8 0.2h0m11.7 0.4h0m3.3-0.9h0m21.8 0h0m-41.4 1.9h0m1.4-0.8h0m2.1 0.2h0m0.5 0h0m2.1 0.6h0m0.2-0.7h0m1.8 0.8h0m1.5-0.5h0m0.9-0.2h0m3.2 0.2h0m1.1 0.2h0m1.8-0.1h0m0.3 0h0m0.8-0.2h0m1.6 0.5h0m-20.4 0.9h0m0.5-0.1h0m2.6 0h0m2.1-0.7h0m0.9 0.8h0m5-0.4h0m0.6-0.3h0m0.8 0.6h0m1.6 0.1h0m1.2-0.3h0m1.3 0.1h0m-17.6 1.1h0m2.8-0.1h0m3.9-0.4h0m4.2 0h0m1.1 0.5h0m2.1-0.2h0m0.8 0.3h0m2.8-0.5h0m17 0.5h0m-34.5 0.4h0m3.3 0.3h0m1-0.5h0m5.1 1h0m7.4-0.2h0m-19.9 1h0m0.7-0.2h0m2.4 0.2h0m0.6-0.8h0m1 1h0m0.7-1h0m0.6 0.6h0m0.6 0h0m3.4-0.4h0m1.4-0.1h0m1.7 0.2h0m3.2 0.1h0m0.7 0.2h0m2-0.2h0m-17.9 1.3h0m0.1-0.6h0m4.1 0.5h0m1-0.1h0m10.2-0.5h0m3 0.2h0m-19.6 1.1h0m0.3 0.4h0m2.5 0.1h0m13.2-0.1h0m0.6-0.3h0m-14.5 0.6h0m0.6 0.8h0m8.2 0.2h0m7.3-0.8h0m-17.6 0.9h0m0.5 0h0m12.2 0.6h0m0.5-0.3h0m0.2 0.4h0m1.9-0.1h0m-15.9 0.4h0m0.5 0.4h0m4-0.1h0m0.7 0.3h0m10.5 0.1h0m1.5-0.3h0m-16.8 1.2h0m6-0.3h0m2.1 0.4h0m2.2 0.2h0m3.3-0.2h0m2.2-0.2h0m1.5-0.2h0m-12.8 0.7h0m0.7 0.4h0m2.1-0.2h0m3.2 0.7h0m5.2-0.2h0m-13.4 0.6h0m2-0.2h0m1.6 0.8h0m4-0.9h0m0.2 0.8h0m0.9-0.3h0m1.7 0.1h0m-12.4 1.3h0m0.5-0.1h0m5-0.4h0m3.3 0.2h0m1.7-0.1h0m1.1 0h0m3.7-0.5h0m-13.1 1.5h0m2.8 0.2h0m0.8 0.2h0m4.7 0h0m0.7-0.6h0m1 0.4h0m0.4 0h0m2-0.3h0m-7.6 1.1h0m-4 1.1h0m1.6 0.1h0m7.2-0.1h0m2-0.6h0m-9.7 1.4h0m4 0.3h0m0.4-0.2h0m-1.3 0.4h0m6.3 5.6h0m-6.2 0.7h0m3.2 0.1h0m0.6 1.3h0m2.4 0h0m0-0.4h0m0.5-0.1h0m0 0.8h0m-8.8 0.7h0m0.5-0.4h0m3.6-0.1h0m2.3 0h0m1.5 0.5h0m-7.9 0.5h0m1.1-0.1h0m1.2 0h0m4.7 0.7h0m1.6 0h0m-8.7 0.6h0m4.7 0.4h0m0.8 0h0m0.4-0.4h0m4 0.5h0m-9.2 0.9h0m3.6 0h0m1.3 0.1h0m1.5 0.1h0m1.3 0h0m2-0.2h0m-8.4 1.5h0m0 0.5h0m1.4-0.4h0m1.4 0.4h0m0.9-0.7h0m1.8 0h0m1.7 0.8h0m1.3 0.1h0m2.2-0.5h0m-10.7 1.1h0m0.1 0.2h0m2.1-0.6h0m3.8 0.7h0m2.6-0.3h0m1.3-0.3h0m-10.9 0.9h0m2.5-0.1h0m5.1 0.3h0m-3.2 1.6h0m0.1-0.4h0m0.9-0.1h0m-1.7 0.8h0" stroke="#1d5698"/><path d="M89.8 431.5h0m4.9-0.9h0m-3.6 2.3h0m3.2 0.5h0m-6.4 0.8h0m7.1 1.8h0m-8.3 2.8h0m0.7-0.2h0m9.3-0.1h0m0.8 1.8h0m-10 1.9h0m0.7 0.3h0m6.2 0.3h0m-1.6 2.5h0m2.5 0.8h0m-6.2 1h0m9.6-0.1h0m-7.2 0.6h0m0.4 0.6h0m1.1 0.2h0m-4.6 1.5h0" stroke="#b0d8a0"/><path d="M94.4 430.3h0m-2.1 1.1h0m2.1-0.1h0m-8.6 1.6h0m3 3.4h0m7.1 0.6h0m-7.5 1.4h0m0.8 0.7h0m1.8 1.5h0m4.2 0.2h0m-0.9 1h0m2.2 0.5h0m-4.5 1.1h0m2.3 0.2h0m5.1-0.2h0m-3.8 1h0m-7.3 1.1h0m2.3 0.4h0m0.2 0.6h0m1.3-0.3h0m1.5-0.6h0m1.1 0.5h0m-3.5 0.8h0m0.6-0.2h0m0.7 0.8h0m2.1-0.1h0m-31 0.5h0m6 0.1h0m21 0.2h0m-4.3 0.8h0m4.3 0.3h0m7.2-0.2h0m-10.7 1.4h0m-5.5 1.4h0m1.4 0.4h0m-14 0.5h0m10.2 0.3h0m-12.5 1h0m20.3 0.2h0m0.5-0.3h0m0.4 0.3h0m-21 0.7h0m2.7 0.5h0m17.4-0.4h0m1.1 0.2h0m16.4-0.5h0m2.6-0.2h0m-36.6 1.7h0m14-0.1h0m25.2 0.4h0m-31.2 0.1h0m0.8 0h0m6.9 0.8h0m16.6-0.9h0m5.4 0.8h0m-39.7 0.7h0m1.4-0.2h0m0.5 0.2h0m0.9 0h0m6-0.2h0m5.3 0.7h0m1.1-0.8h0m24 0.7h0m1.3-0.4h0m1.5 0.1h0m0.4-0.1h0m-43.1 1.2h0m1.9-0.1h0m1.1 0.3h0m1-0.2h0m11.3 0h0m0.2-0.1h0m1.7-0.5h0m21.4-0.1h0m0.7 0.4h0m-36.5 1h0m0.8 0.1h0m1.6 0h0m8-0.1h0m0.4 0.1h0m0.5 0.1h0m1.5-0.5h0m20.4 0.1h0m4 0.6h0m2.4-0.3h0m-39.8 1.4h0m1-0.4h0m1.5-0.4h0m0.4 0.4h0m6.8-0.5h0m0.4 0.5h0m19.5 0.2h0m1.3-0.3h0m-29.6 1.2h0m1.3-0.4h0m3 0.4h0m0.9-0.5h0m30.5 0h0m-35.5 1.8h0m2.4 0h0m0.1-0.9h0m0.4 0.4h0m1.4 0.1h0m0.9 0.3h0m2.2 0h0m2.3-0.3h0m4.9-0.4h0m0 0.4h0m18.1-0.3h0m5-0.2h0m-38.2 1.9h0m1.6-0.6h0m10.6 0h0m1.9 0h0m-15 1.2h0m3.5 0.4h0m10.6-0.3h0m1.6-0.3h0m-13.4 1.4h0m5.4-0.5h0m0.6-0.2h0m0.3 0.6h0m1.1-0.3h0m2-0.2h0m0.8 0.8h0m3.3-0.5h0m0.3-0.3h0m-14.3 2.4h0m5.4 0h0m1.1-0.3h0m4.5 0.2h0m3.8 0.2h0m-13.6 1.4h0m6.3-0.8h0m4.2 0.8h0m0.8-0.1h0m-11.9 0.8h0m1.6 0h0m2.5-0.5h0m8.5 0.6h0m-9.2 0.8h0m0.9-0.1h0m0.9-0.2h0m3.5 0.4h0m2.9-0.6h0m1.8 0.4h0m-12.5 1.1h0m6.9-0.2h0m-4.1 1h0m1-0.3h0m0.5 0.9h0m1.1-0.5h0m1.6 0.3h0m0.2-0.8h0m2.8 0.9h0m1.9-0.4h0m-9.3 1.5h0m3.3-0.7h0m-4.4 1h0m6.5 0h0m2.1 0.4h0m0.5-0.1h0m-8.6 0.9h0m0.8 0.2h0m3.1 0h0m0.2 0.2h0m-3 1h0m3.5-0.1h0m-2.7 0.3h0m2 0.5h0m-0.6 0.5h0" stroke="#3a9a44"/><path d="M89 433.9h0m0.3 0.3h0m3.9-0.7h0m-3.1 2.4h0m-3 3.5h0m3.3-0.7h0m0.2 0.6h0m8.4 1.7h0m-8.9 2.3h0m0.8-0.3h0m0.7 0.1h0m1.3-0.4h0m1 1.3h0m4.4-0.3h0m-6.5 1.5h0m1.6-0.6h0m0.6 0.3h0m2.3-0.1h0m0.7-0.1h0m-11 1.1h0m2.9 0.4h0m7.6-0.4h0m-30.4 1.5h0m-2.1 1.2h0m0.7-0.2h0m-3.9 1h0m2.3-0.2h0m20.6 0.4h0m-20.4 0.9h0m0.9-0.4h0m19 0.2h0m11.2-0.5h0m-27.3 0.8h0m7.4 1.8h0m-8.3 0.9h0m1-0.3h0m19.4 0.5h0m0.6 0h0m-0.7 0.9h0m-16.9 1h0m16-0.1h0m-19.2 0.7h0m2 0h0m1.2 0.5h0m6.9-0.5h0m8.5 0h0m0.5-0.2h0m-18.8 1h0m4.7 0h0m8.6 0.3h0m3 0.3h0m2-0.1h0m2.2-0.2h0m-16 1.5h0m4.2-0.2h0m5.6-0.6h0m0.9 0.6h0m4.6-0.1h0m0.5-0.6h0m0.9 0h0m-19.6 1.2h0m9.4-0.3h0m7.3 0.3h0m0.6 0.4h0m2.2 0h0m-18.2 0.6h0m11.1 0.6h0m6.4-0.2h0m-17.6 0.5h0m6.5 0.8h0m5.8-0.9h0m2.2 0.1h0m0.4 0.2h0m-11 1.4h0m4.1-0.7h0m2.1 0.6h0m1.3-0.5h0m2.5-0.1h0m1.2 0h0m2.8 0.1h0m-14.4 1.1h0m4-0.1h0m2.1-0.1h0m3.4 0.8h0m2.8-0.2h0m2.1 0.2h0m-16 0.7h0m3.4-0.2h0m1.1-0.3h0m1.5 0.4h0m0.6 0.4h0m-7 1.1h0m4.1-0.5h0m2.1-0.5h0m2 0.5h0m5.3-0.4h0m-13.1 2.6h0m3.1-0.2h0m2.4 0.4h0m1.6-0.3h0m0.8-0.3h0m2.8 0.4h0m0.8 0h0m-11.7 0.6h0m3.4 0.1h0m6 0.4h0m0.7-0.6h0m0.9 0.2h0m2.2-0.3h0m0.8 0.5h0m-11.9 0.8h0m2.6 0.1h0m2.5-0.5h0m7.9 0.4h0m-12.6 1.2h0m1.2-0.3h0m1.7 0.7h0m0.6-0.5h0m7 0.2h0m-11.5 0.8h0m11.3 0.3h0m1.3-0.2h0m-6.1 0.9h0m3.2-0.3h0m3.7 0.7h0m-9.2 1h0m5.4 0.1h0m-7 0.6h0m9.1-0.2h0m0.2-0.2h0m0.9 0.6h0m-8.8 0.5h0m0.7 0.6h0m3.2-0.2h0m-2.8 0.9h0m5.8 0h0m-6 1h0m0.9 0.1h0m1.3 0.3h0m2.8-1h0m2.4 0.3h0m-4.2 2.3h0" stroke="#4aae4a"/><path d="M94.6 434.2h0m-5.6 1.2h0m0.5 1.8h0m-0.3 0.8h0m5.5 0.1h0m-3.5 1.6h0m-1.7 2.6h0m5.1 0.8h0m4.2-0.3h0m-8.1 1.5h0m1.7-0.3h0m3.8 0.5h0m-1.3 0.3h0m-5.2 1.6h0m3.8 0.1h0m1.1 0h0m-29.1 1.6h0m28.1 0h0m-21.4 1.3h0m14.9-0.5h0m6.9 1.4h0m-29.9 0.2h0m22.4 0.7h0m1.1-0.2h0m-24.4 1.3h0m1.9-0.5h0m22.3 0.1h0m-19.9 1.6h0m18.2-0.1h0m0.4-0.8h0m-21.4 1.5h0m2.1 0h0m6.3 0h0m8.7-0.2h0m3.7-0.2h0m-1.6 1.1h0m-16.2 1.4h0m1.9-0.4h0m1.8 0.7h0m8.4-0.3h0m-15.5 0.7h0m4.6 0.2h0m6.3 0.2h0m1.7-0.2h0m2.5-0.2h0m2.1-0.3h0m2.1 0.4h0m1.9-0.1h0m-18.1 1.4h0m2.7-0.4h0m17.3 0.3h0m0.2-0.3h0m-14.6 1.1h0m3.7-0.1h0m5.2-0.2h0m5.1 0.6h0m-13.6 0.9h0m5.3 0.1h0m6.5 0.1h0m-15.6 0.8h0m2.2 0.2h0m1.9-0.2h0m-4.5 0.9h0m8.2-0.2h0m3.9-0.3h0m4.4 0.5h0m-7.4 0.7h0m4.2-0.2h0m-12.2 1.6h0m3.9-0.5h0m4.7 0.5h0m1.3-0.2h0m0.5 0h0m3.9-0.3h0m1.5 0.4h0m-14.5 1.3h0m1.6-0.6h0m0.9 0h0m6.7 0.6h0m0.5-0.1h0m1.3-0.6h0m4.6 0.5h0m-15.6 1h0m1.3-0.4h0m0.3-0.2h0m2.9-0.1h0m4.3 0.8h0m1.6 0h0m-9.1 1h0m7.5-0.4h0m0.8 0h0m-5.5 0.7h0m4 0h0m-5.4 1.1h0m4.1 0.7h0m3.2-0.9h0m1 0.9h0m1.5-0.8h0m-4.2 1.7h0m1.4-0.1h0m-6.9 1.1h0m0 1.2h0m4.1-0.1h0m-2.9 0.3h0m5.6-0.2h0m1.7 0.8h0m1.9-0.3h0m-9.8 0.5h0m1.2 0.9h0m1.2 0.1h0m2.6 0.6h0m3.3 1h0m1.8 0h0m-4.1 0.9h0m0.5-0.4h0m3 0.6h0m-6.8 1.1h0m3.3-0.1h0m1.6-0.4h0m0.5-0.2h0m-1.6 1.5h0" stroke="#3f9f48"/><path d="M54.6 443.5h0m-4.2 0.2h0m0.7 0.2h0m0.2 1h0m2-0.3h0m2.6 0.2h0m0.9 2.1h0m1.3 0.3h0m29-0.4h0m-36.8 0.8h0m3.4 0.5h0m3.7-0.2h0m4.7 0.6h0m0.9-0.7h0m1.8-0.2h0m22.9 0.5h0m-36.5 0.8h0m0.7-0.3h0m8 0.7h0m1.7 0.1h0m1.1-0.5h0m0.9 0.2h0m0.6 0h0m1.7 0.1h0m0.2-0.5h0m5.4 0.6h0m-18.5 0.2h0m1.3 0.1h0m4.9 0.6h0m0.5-0.1h0m2.2 0.1h0m0.7-0.7h0m1.2 0.2h0m20.9 0.5h0m-25.2 0.9h0m3 0.4h0m0.6-0.5h0m0.6-0.3h0m0.6 0.4h0m0.3 0.2h0m0.8 0.1h0m0.4-0.5h0m-16.9 1.2h0m2.9-0.6h0m3.9 0.3h0m1.8 0.4h0m1.1-0.1h0m0.6-0.3h0m3.7 0.1h0m0.8-0.1h0m0.4-0.2h0m1.8 0.2h0m1.8-0.1h0m0.3 0.5h0m-15.2 1.2h0m1.8-0.3h0m8.1-0.5h0m0.2 0.5h0m0.3-0.4h0m0.8 0.7h0m1.7-0.6h0m-16.1 0.8h0m1.6 0.7h0m0.6 0.2h0m4.9-0.4h0m0.4-0.6h0m1.1 0h0m1.2 0.6h0m0.5-0.3h0m1-0.1h0m0.2-0.1h0m0.2 0.7h0m1 0h0m3.3 0.2h0m0.7-1h0m1.3 0.6h0m-16.2 1.1h0m1.2-0.3h0m2.1 0.2h0m0.8-0.2h0m0.7 0h0m1.6 0h0m3.3 0.2h0m1.4 0h0m0.5 0h0m3.4-0.3h0m0.3 0.6h0m1.7-0.5h0m2-0.1h0m-22.5 1h0m0.9 0.1h0m6.6 0h0m1.1-0.4h0m1.6 0.2h0m2.4 0h0m0.7-0.1h0m0 0.7h0m3.9-0.7h0m1 0.1h0m0.2 0.7h0m-17.2 0.5h0m2.4 0h0m6.1 0h0m1.3-0.4h0m1.3 0.9h0m0.3-0.5h0m3.7-0.3h0m-18.7 1h0m3.6 0.4h0m3.3 0h0m0.9 0.4h0m1-0.6h0m6.3-0.3h0m3.4 0.7h0m0.5-0.5h0m-20.8 0.8h0m2.5 0.1h0m5.6 0.2h0m1.8 0h0m0.8 0h0m5.4 0.2h0m21.2-0.2h0m-38.6 1h0m3.7 0h0m2.5 0.6h0m5-0.3h0m4.3-0.4h0m3.8-0.1h0m-18.8 1.1h0m4.8-0.2h0m2.2 0.4h0m0.3-0.2h0m5.5 0h0m1.1-0.1h0m-13.9 1.3h0m3.7-0.2h0m1.1 0.6h0m0.9-0.2h0m1.5-0.1h0m3.2-0.4h0m0.9 0.3h0m0.1-0.4h0m5.6 0.5h0m1 0.2h0m-15.8 1.1h0m4.7-0.2h0m0.4 0h0m1.8-0.1h0m4.7-0.4h0m1.2 0.9h0m0.6-0.6h0m-17.9 1.4h0m0-0.6h0m2 0h0m1.6 0h0m7.5 0h0m1.6 0h0m1.8 0.4h0m2.3 0.3h0m0.7-0.1h0m2.2-0.4h0m-17.1 1.5h0m1 0.1h0m0.6-0.4h0m1.7 0.3h0m3.8-0.2h0m0.9 0.2h0m2.4-0.5h0m3.2-0.3h0m1.6 0.6h0m-17.8 0.8h0m4.4 0.2h0m0.7-0.7h0m3.7 0.9h0m2.6 0.1h0m3.2 0h0m2.1-0.8h0m2.1-0.1h0m-17.2 1.1h0m1.2 0.5h0m0.6-0.4h0m1.1 0h0m2.8 0.1h0m3.1-0.4h0m0.8 0.3h0m1.3-0.3h0m1 0.2h0m2.4 0.5h0m2.4-0.5h0m-17.3 1.6h0m1.2-0.2h0m2-0.2h0m3.8 0.3h0m1.2-0.5h0m0.3 0.1h0m3-0.2h0m-10.2 1.8h0m0.4-0.5h0m0.5 0.4h0m2.4 0h0m1.3-0.5h0m2.8 0.6h0m4-0.9h0m0.8 0.3h0m2.5-0.2h0m-16.1 1h0m2.4 0.8h0m0.6 0.1h0m1.2-0.1h0m0.5-0.1h0m2.1 0.1h0m6.9-0.2h0m1.1-0.2h0m1.1 0h0m-12.4 0.7h0m0.8 0h0m1.6 0.3h0m-4.7 0.6h0m1.4 0.9h0m2.8-0.3h0m1.2-0.4h0m2.5 0.5h0m0.8-0.7h0m0.1 0.8h0m0.5-0.1h0m1.9-0.3h0m1.3 0.1h0m-7.7 1.2h0m2.9-0.1h0m3.3-0.5h0m-8.2 0.9h0m3 0h0m0.8-0.1h0m2.2 0.5h0m-4.4 0.7h0m1.1-0.2h0m7.6 5.8h0m-4.8 0.5h0m2.5-0.1h0m0.1 0.6h0m-4.5 0.3h0m2.3 0.6h0m0.4-0.6h0m1.4 0.3h0m-3.1 1.2h0m5.3 0.2h0m1.3-0.8h0m-8.2 1.5h0m9.8 0.2h0m0.8 0.2h0m-11.7 0.2h0m1.1 0.7h0m0.7-0.6h0m3.8 0.4h0m-5 0.6h0m2.3-0.1h0m3.5-0.1h0m-5.6 1.1h0m6.4 0.2h0m1.8-0.1h0m1.7 0.3h0m0.6-0.1h0m0.8-0.3h0m-11.5 1.6h0m7.6-0.3h0m0.7-0.2h0m2.6 0.3h0m-3.7 0.9h0m1.6 0.4h0m1.2-0.5h0m-9.7 1.3h0m3.7 0h0m1.8-0.6h0m-2.8 1.8h0m0.4-0.2h0m4.2-0.4h0m-4.7 1h0m3-0.1h0" stroke="#174a84"/><path d="M72.1 450.1h0m-4.1 1.2h0m11.9 2h0m1.1 1.2h0m-1.5 0.4h0m5.5 2.1h0m-5.5 3.4h0" stroke="#9cc8e0"/><path d="M52.7 442.5h0m-1.1 0.5h0m0.9 0.1h0m0.8 0.2h0m1-0.5h0m-2.3 1h0m0.5 0h0m1.4-0.2h0m0.8 0.7h0m0.2-0.6h0m-4.4 1.6h0m1.2 0h0m1.3-0.1h0m0.6-0.1h0m0.8 0.1h0m1.3 0h0m-5.6 0.9h0m1 0.3h0m1.5-0.2h0m1.7 0.2h0m0.9-0.8h0m1 0.8h0m-6 0.4h0m0.9 0.5h0m0.6-0.7h0m0.4 0.1h0m1.2-0.2h0m0.3 0.7h0m1.8-0.5h0m0.6 0h0m12.1-0.1h0m0.9 0.2h0m-16.4 1.2h0m1.9 0.4h0m0.9-0.6h0m0.6-0.1h0m0.1 0.6h0m4.8-0.2h0m0.8 0h0m2.4-0.5h0m0.7 0.4h0m1.3 0.1h0m-16 1.1h0m1-0.1h0m1.4-0.4h0m0.9 0.7h0m1.9-0.2h0m0.1-0.7h0m1.2 0.4h0m0.1 0.2h0m0.8-0.2h0m4.1-0.1h0m0.5 0.6h0m1.4-0.5h0m1.1 0.2h0m0.7-0.5h0m0.8 0.9h0m0.1-0.8h0m0 0h0m0.2 0.6h0m0.6 0.2h0m0.7-0.2h0m-18 0.4h0m0.8 0.5h0m0.5 0.2h0m2-0.1h0m0.9-0.4h0m0.5 0.3h0m1.5-0.5h0m0.2 0.6h0m2-0.7h0m0.8 0.1h0m0.8 0.7h0m0.1-0.7h0m0.9 0h0m1.4 0.4h0m0.8 0.3h0m0.8 0h0m0.6-0.2h0m0.6 0.1h0m0.5-0.1h0m1 0h0m0.3-0.1h0m1.4-0.1h0m-19.1 0.9h0m0.8 0.4h0m1.1-0.2h0m2 0h0m0.7-0.1h0m0.7 0.5h0m0.2-0.3h0m1.2-0.4h0m1.2-0.3h0m0.1 0.2h0m1.6 0.6h0m1.1-0.4h0m1.2-0.4h0m0.2 0.3h0m0.6 0.4h0m0-0.2h0m0.6-0.2h0m0.8 0.1h0m3.5 0.3h0m0.3-0.5h0m0.9 0.4h0m4.7-0.4h0m14.9 0.2h0m-37.9 0.9h0m0.9 0h0m0.8-0.2h0m1 0.9h0m3-0.8h0m1.9 0.3h0m3 0.3h0m0.4-0.8h0m0.2 0.9h0m0.8-0.7h0m1.8 0.2h0m1.7-0.1h0m0.6 0.2h0m0.9-0.2h0m2.4 0.1h0m-20.1 1.2h0m0-0.3h0m2.3 0.6h0m0.3-0.6h0m1.7-0.1h0m0.7-0.1h0m0.6-0.1h0m1.3 0.2h0m0.2 0.7h0m1.2-0.6h0m0.8-0.3h0m0.8 0.3h0m0.2 0h0m1.7 0.3h0m0.9-0.4h0m0.5 0.6h0m0.1-0.3h0m1.9-0.4h0m1.4-0.1h0m0.5 0.4h0m0.5 0h0m0-0.4h0m0.6 0.1h0m4 0.5h0m-20.6 0.6h0m0.1 0.4h0m2.5 0h0m1.2-0.1h0m0.9 0.2h0m0.8 0.2h0m1.4-0.8h0m3 0h0m0.4 0.5h0m0.7-0.4h0m1.5 0.4h0m0.2 0.2h0m0.9-0.2h0m1-0.1h0m0.3 0.1h0m0.1-0.4h0m0.8 0.3h0m8.9 0.5h0m2.3 0h0m6.9-0.4h0m-35.5 0.8h0m0.7-0.1h0m2.4 0.5h0m0.7 0.2h0m0.7-0.3h0m0.1 0.3h0m5.7-0.3h0m0.6 0.3h0m0.3-0.8h0m1.8 0.4h0m0.7 0.2h0m0.8 0.2h0m1-0.2h0m1.4 0h0m5.7-0.3h0m15.3 0.1h0m-35.8 0.4h0m1.4 0.4h0m1.8 0.6h0m0.3-0.5h0m2-0.1h0m1.4-0.1h0m0.4 0.5h0m1.3-0.5h0m1.5-0.1h0m0.7 0.8h0m0.2-0.4h0m0.8-0.6h0m0.6 0.8h0m0-0.4h0m0.6-0.3h0m0.7 0.2h0m0.7 0.5h0m1.4-0.6h0m16.5-0.1h0m-36.8 1h0m1.6 0.9h0m0.3-0.9h0m1.4 0.7h0m1.3-0.2h0m0.7-0.5h0m1.3 0.5h0m0.9-0.5h0m1.1 0.1h0m1.1 0.8h0m4.7-0.8h0m2 0h0m3.7 0.6h0m-19.7 1.1h0m3 0h0m0.3-0.1h0m1.9-0.4h0m1.7-0.2h0m1.3 0.1h0m2 0.6h0m0.4-0.7h0m1.1-0.2h0m0.8 0.2h0m1.2 0.4h0m1.1-0.5h0m1 0.6h0m0.3-0.5h0m0.1 0.3h0m11.5-0.2h0m-29.9 1h0m1.2 0.2h0m1.3 0.2h0m0.8-0.1h0m1.6-0.2h0m0.7 0.6h0m0.9-0.4h0m0.1 0.4h0m1.4-0.5h0m4.7-0.3h0m0.9 0.8h0m2.9-0.3h0m16.2 0.1h0m-35.7 1h0m0.9 0.1h0m0.6-0.7h0m1.7-0.1h0m0.6 0h0m2.7 0.5h0m1.6-0.1h0m2.4-0.2h0m2 0.2h0m0.8-0.4h0m1.3-0.1h0m0.6 0.2h0m2.2 0h0m1.2-0.1h0m0.4 0.3h0m-17.4 1.3h0m1-0.4h0m1.5 0h0m1.5-0.2h0m1.5 0.7h0m3.5-0.6h0m0.1 0.5h0m0.4 0.1h0m5.5-0.8h0m0.9 0.4h0m0.6 0.1h0m-17.9 1.4h0m1.9-0.4h0m1.2-0.3h0m0.1 0.5h0m4.4 0.1h0m2.3-0.3h0m3.6 0.3h0m2-0.2h0m1.3 0.3h0m0.3-0.3h0m0.4-0.5h0m-16.6 1.2h0m0.3 0.5h0m4.1-0.5h0m1.8 0.1h0m6.1 0.2h0m0.7-0.2h0m2.8 0.6h0m0.4-0.5h0m1.1 0h0m-18.4 0.9h0m3.1 0h0m2.4 0h0m0.6 0h0m0.5 0.5h0m1.4-0.6h0m0.4-0.2h0m-7.1 1h0m1.6 0h0m2.4 0.3h0m1.8-0.3h0m0.9 0.1h0m1.9 0.3h0m0.4 0.4h0m4.2-0.6h0m3.4-0.2h0m-17.6 1h0m0.8 0.8h0m0-0.9h0m0.4 0.9h0m0.8 0.1h0m3.2-0.2h0m0.6-0.3h0m0.1-0.5h0m0.8 0.5h0m1.8-0.1h0m5.7-0.4h0m0.1 0.9h0m1.1-0.3h0m2.2 0h0m-18.1 1.4h0m2.3 0h0m1.9-0.5h0m2.9 0.2h0m2 0.1h0m0.9-0.3h0m1.4-0.1h0m0.8-0.4h0m0.6 0.1h0m-13.2 1.5h0m0.1 0.1h0m1.5-0.6h0m3.8 0.8h0m0.8-0.5h0m0.7-0.4h0m0.4 0.8h0m2.7-0.7h0m1.9 0.8h0m0.4-0.3h0m1.4 0h0m0.3-0.4h0m1.9 0.4h0m1-0.5h0m0.2 0.4h0m0.3 0.4h0m-16.1 0.7h0m0.2-0.2h0m2.3-0.1h0m0.6 0.3h0m2.9 0.4h0m0.5 0h0m1.1-0.8h0m0.3-0.1h0m3.5 0h0m1.8 0.9h0m0.5-0.8h0m0.3 0.6h0m-13.3 1.2h0m6.6-0.5h0m0.1-0.4h0m1.5 0.4h0m0.7-0.3h0m0.6 0.5h0m1-0.7h0m0.9 0.5h0m2.5 0.2h0m0.4-0.6h0m-15.4 1.1h0m0.6 0.6h0m0.7-0.5h0m0.7 0.7h0m4.1-0.5h0m0.6-0.2h0m0.4-0.3h0m0.5 0.5h0m1.1-0.2h0m0.7-0.1h0m0.5 0.1h0m3.2 0.3h0m1.9-0.3h0m-13.4 1.1h0m1.6-0.4h0m0.4 0.1h0m0.1 0.7h0m0.8-0.5h0m0.2 0.7h0m2.4 0h0m0.9-0.9h0m2.9 0h0m0.3 0.7h0m1 0.2h0m0.5-0.7h0m-10.1 0.7h0m5.3 0h0m2.3 0.9h0m2.1-0.1h0m-9.5 0.6h0m1.7 0.1h0m0.7 0h0m0.6-0.3h0m4.3 0.3h0m0.6 0.2h0m0.3-0.6h0m-5 1.1h0m0.8 0.2h0m1.2 0.2h0m0.4-0.3h0m1 0.3h0m0.4-0.4h0m0 5.7h0m2.7-0.1h0m-6.6 0.4h0m0.9 0.5h0m5.6-0.1h0m0.7-0.5h0m1.8 0.6h0m-8.3 1.2h0m3.6-0.6h0m1.9 0.1h0m3.1-0.3h0m0.6 0.5h0m-6.6 0.4h0m2.9 0.4h0m2.4 0.4h0m1.2-0.1h0m0.6-0.6h0m0 0.9h0m-9.5 0.8h0m1.2-0.5h0m0.7 0h0m1.4-0.2h0m0.3 0.3h0m0.9-0.3h0m0.6 0.4h0m0.9-0.5h0m1.2 0.6h0m0.4-0.1h0m0.9 0.3h0m0-0.7h0m1.4 0.3h0m-12 1.3h0m2.7 0.2h0m1-0.8h0m0.3 0.6h0m0.4-0.4h0m0.4 0h0m3.1 0.2h0m0.1-0.1h0m2 0h0m0.8 0.6h0m0.4-0.2h0m1.2 0h0m-10.5 0.8h0m1.1 0h0m0.2 0.1h0m1.7 0h0m2 0h0m2.4 0.3h0m0.8-0.6h0m1.6 0h0m0.8 0.5h0m-12.3 0.7h0m1.1-0.4h0m1.2 0.4h0m0.9 0.1h0m1.1-0.2h0m0.5 0.3h0m1-0.3h0m1 0.2h0m0.7-0.6h0m1.1 0.5h0m1.8-0.1h0m0.4 0.5h0m-11 0.6h0m0.2 0.2h0m0.7-0.6h0m2 0.1h0m1.2-0.1h0m0.8 0.2h0m2.6 0.5h0m1-0.3h0m1.4 0.2h0m1.7-0.6h0m-9 1.1h0m0.7 0.1h0m1.5 0.2h0m1.1 0.4h0m0-0.6h0m0.6-0.3h0m2.4 0.8h0m-7.7 0.5h0m1.7 0.3h0m0.8-0.3h0m2.3 0h0m0.6-0.2h0m0.3 0.5h0m0.3 0.2h0m3.3-0.1h0m1.3-0.6h0m-8.9 1.5h0m4.5-0.4h0m0.8 0h0m1.4 0.3h0m0.8-0.1h0" stroke="#1a4f8e"/><path d="M105.6 455.2h0m0.6 0.1h0m-1.4 2h0m1.3-0.8h0m2.9 0.9h0m1.5 0.1h0m-1.5 1.3h0m0.2 0h0m1 0.5h0m0.6-0.2h0m-9.2 0.9h0m1.5 0h0m4.1-0.2h0m2.3 0.1h0m1.6 0.4h0m-2.7 0.7h0m0.3 0.4h0m1.1-0.2h0m-5.1 0.7h0m2.7 0.5h0m0.2-0.8h0m-1.5 1.7h0m2.3 0h0" stroke="#5cb05a"/><path d="M87.9 452.1h0m-21.9 1h0m1.4-0.5h0m-0.9 1.8h0m1.9 0.4h0m-1.5 1.6h0m20.4-0.4h0m-16.9 0.6h0m14.4 0h0m-12.7 1.8h0m-1.6 0.7h0m11.1 0.3h0m0.4-0.3h0m-13.4 0.5h0m3.3 0.2h0m12.9 0.3h0m0.4-0.2h0m1.6 0.8h0m-14.4 1.4h0m6-0.1h0m5.8-0.2h0m-14.5 1h0m5.2-0.3h0m6.3 1.6h0m2.7 3.1h0m2.4-0.1h0m-13.9 2.2h0m2.4-0.8h0m8.3 0.6h0m1.3-0.2h0m-3.6 2h0m1.4 0.1h0m-7.9 0.8h0m3.4 0.4h0m8.9-0.6h0m-1 1.9h0m-11.6 0.9h0m7.5-0.7h0m0.8 0.4h0m-1.7 1.8h0m1 0.1h0" stroke="#8fd07a"/><path d="M94.2 430.4h0m-5.8 4.5h0m-2.4 0.7h0m2.4 0.5h0m0.4 1.3h0m5.1 1.1h0m-7.7 1h0m2.7 1.4h0m2.6-0.1h0m0.6 0.5h0m-3.1 0.4h0m2.3 0h0m2.5 0.1h0m-3.4 0.9h0m3 0.4h0m0.2-0.5h0m-4 1.3h0m1 1.2h0m2.3 0.4h0m0.4 0.2h0m-3.9 1.4h0m0.7 0.2h0m0.5 0h0m3.6-0.1h0m-29.5 0.5h0m23.4-0.1h0m-20 1.8h0m-2.3 0.6h0m22.1 0.3h0m-21.5 0.7h0m4.7-0.2h0m1.1 0.5h0m9.9 0.1h0m0.9 0.5h0m3.3 0h0m1.3 0.6h0m-26.2 0.1h0m3 0.9h0m1.1-0.4h0m1.2 0.1h0m0.2 0.3h0m1.5-0.1h0m18.1-0.7h0m-24.5 1.3h0m6.6-0.1h0m5 0.1h0m11.5 0.4h0m-21.2 0.9h0m2.4-0.5h0m1.6 0.4h0m4.9-0.6h0m12.1 0.8h0m0.5-0.1h0m21.9-0.6h0m-34.4 0.9h0m0 0.7h0m0.4-0.2h0m10.4-0.5h0m19.9 0.4h0m1.3 0h0m1.1 0.1h0m-44.9 1.3h0m9.7 0.1h0m11.6-0.3h0m3.6-0.3h0m19.2-0.4h0m5.1 0.1h0m-42.2 1.7h0m0.6 0h0m16.9 0.1h0m18.3-0.7h0m1.3 0h0m0.5 0.4h0m1.4-0.6h0m2.7 0.8h0m-42.3 1h0m10.7-0.7h0m8.1 0.3h0m13.5 0.4h0m1.2 0.2h0m1.3-1h0m0.5 0.8h0m2.1-0.6h0m1.4 0.7h0m-36 1h0m1.6 0.1h0m11.8-0.7h0m15.3-0.2h0m0.7 0.8h0m3.4-0.2h0m3.6 0.3h0m-32.2 0.8h0m1.2-0.3h0m2.4-0.1h0m0.9 0.1h0m0.1 0.2h0m19.3 0h0m0.5-0.6h0m3.1 0.5h0m1.9-0.5h0m0.6 0.3h0m0.4 0.6h0m1.2-0.7h0m3.7-0.3h0m-38.8 1.5h0m9.1-0.3h0m3 0.6h0m1.1 0.1h0m1.5-0.6h0m0.4-0.2h0m0.9 0.5h0m16.9-0.5h0m1.5 0.8h0m5.5-0.3h0m-40.2 0.4h0m0.4 0.7h0m9.3-0.2h0m-11 0.7h0m2.7 0.2h0m1.3-0.2h0m3.5 0.2h0m5.1 0.1h0m1.4 0h0m22.9 0h0m-33.3 0.5h0m3.7 0.8h0m7.3-0.5h0m-8.6 0.7h0m0.3 0.5h0m6 0.3h0m2.3-0.3h0m0.8 0.1h0m0.6-0.3h0m-14.3 0.8h0m1 0.7h0m1.4-0.4h0m0.1-0.3h0m3.8 0.6h0m8.2-0.3h0m0.1-0.4h0m-14.1 2h0m3.4-0.8h0m1.8 0.5h0m0.6 0.2h0m0.5-0.8h0m-5.7 1.7h0m0.6-0.4h0m4.8 0.6h0m1.3-0.1h0m0.3-0.6h0m1.7 0.4h0m2.2 0.2h0m2.5-0.2h0m1.3 0h0m-11.2 0.9h0m0.6-0.6h0m3.4 0.1h0m0.4 1.7h0m4.3-0.2h0m-8.4 1.1h0m0.8-0.3h0m2.8-0.2h0m5.2 0.2h0m-11.1 1.1h0m1-0.5h0m1.4 0.7h0m3 0.2h0m4.6-0.5h0m-10 0.9h0m0.8 0h0m2.9 0h0m1.4 0.7h0m1-0.1h0m-4.1 1h0m3.2-0.7h0m-0.6 2h0m3.5 0.6h0m1.4-0.8h0m0.7 0.5h0m-5.4 1.5h0m3.3-0.4h0m2.1-0.1h0" stroke="#2f8a3e"/><path d="M85.3 447.8h0m0.4 2h0m-11.1 5.3h0m-4.7 1.3h0m2.4-0.5h0m2 0.4h0m1.1-0.5h0m8.6 3.4h0m-6.5 6.6h0m4.8 9.5h0" stroke="#f0a040"/><path d="M103.7 455.2h0m1.8 0.7h0m2 0.5h0m0.6-0.6h0m0.7-0.1h0m0.6 0.4h0m-6.6 1h0m1.6-0.4h0m4.2 0.1h0m-4.8 1.6h0m0.6-0.4h0m1.6-0.4h0m1.2 0.4h0m-4.6 0.7h0m1.3 0.2h0m2.6 0h0m-7.9 0.9h0m7.2 0.5h0m5.4-0.6h0m-9.8 1.4h0m8.6-0.4h0m-8.4 1.4h0m1.2-0.1h0m1.3 0h0m3.7-0.1h0m1.1 0h0m1.3 0.6h0m-4.8 0.2h0m1.5 0.2h0m0.7 0.3h0m2.5-0.4h0m-2.9 0.8h0" stroke="#2a7a3a"/><path d="M107.9 455h0m-1 0.7h0m-3.1 1.1h0m3.8-0.2h0m2 0.8h0m-6.4 0.9h0m7.9-0.6h0m-10 1.2h0m6.9-0.2h0m-8.1 1h0m1.1 0.6h0m1.4 0h0m0.1-0.5h0m2.4-0.2h0m0.3 0h0m2.8 0.4h0m0.4 0h0m-10.1 0.9h0m2.3 0.4h0m5.2 0.1h0m0.8-0.1h0m-5.6 0.6h0m2.4-0.3h0m3.1 0.8h0m3.9-0.9h0m-6.6 1.8h0m6-0.5h0m-1.6 0.9h0" stroke="#1f6a36"/></g><g fill="none" stroke-width="1.3" stroke-linecap="round"><path d="M169.5 442.3h0m-0.5 0.7h0m2.2-0.1h0m1.3 0.2h0m-3.1 0.9h0m0.9-0.2h0m0.7-0.3h0m2.5 0.5h0m-5.8 0.8h0m0.7 0.6h0m0.9 0h0m0.1-0.6h0m0.8 0.1h0m0.9-0.2h0m1.6 0h0m0.6 0.7h0m1.3 0.1h0m-3.7 0.7h0m1.3 0.1h0m0.4-0.4h0m-4.7 1.2h0m2.9 0.4h0m0.4-0.4h0m1.2 0.2h0m0.9-0.1h0m1.9-0.5h0m6.4 0.5h0m2.6 0.1h0m0.8-0.2h0m-17.1 1.2h0m3.5 0h0m0.4 0.1h0m0.3-0.6h0m0.3-0.2h0m0.5 0.7h0m7.2 0h0m0.8-0.5h0m0.9-0.2h0m0.1 0.9h0m0.3-0.5h0m0.1-0.2h0m0 0h0m0.5 0h0m0.4-0.1h0m4.5 0.1h0m-20.4 1.5h0m1.5-0.3h0m0.5 0.4h0m5-0.1h0m0.1-0.7h0m3.4 0.1h0m1.5 0.6h0m1-0.1h0m1 0h0m0.8 0h0m1.1-0.2h0m6.5 0.5h0m12.5-0.8h0m-34.2 0.8h0m1.6 0.9h0m1.4-0.1h0m1.2-0.7h0m0.3 0.6h0m1.6 0h0m1.2 0.2h0m0.5-0.8h0m0.2 0.6h0m1.5-0.6h0m0.2 0.9h0m2.5-0.4h0m0.8-0.5h0m0.7 0h0m0.1 0.9h0m3.7-0.9h0m18.7 0.1h0m1.8 0.8h0m-39.4 0.4h0m0.8-0.1h0m0.3 0.4h0m1.8-0.4h0m1.9 0.4h0m0.4-0.4h0m1.7 0.1h0m1.7-0.1h0m0.7-0.1h0m4.4 0h0m0 0.6h0m1.2-0.2h0m0.6-0.1h0m1.1 0.2h0m0.3 0.3h0m1-0.5h0m0.3 0.1h0m7-0.3h0m8.8-0.1h0m1.1 0.8h0m-33.9 0.1h0m2.2 0.2h0m0.7-0.1h0m1.1 0h0m1.6-0.2h0m4.1 0.2h0m2.3 0.2h0m0.9 0.3h0m2.1 0.1h0m1.6-0.7h0m8.3 0h0m-24.3 1.3h0m2.4 0.5h0m0.8 0.1h0m0.1-0.8h0m0.7 0.5h0m0.9-0.5h0m4 0.5h0m0.5-0.3h0m2 0.5h0m0.8-0.3h0m0.6-0.4h0m1.2 0h0m1.7 0.4h0m0.8-0.3h0m7.1 0.1h0m10.4 0.4h0m2.6 0h0m-38.8 1.1h0m1.2-0.8h0m2.8 0.8h0m0.5-0.4h0m1.4 0h0m0.5 0.4h0m1.2-0.2h0m2.8-0.3h0m0.7 0.1h0m2.6-0.2h0m1.3 0.2h0m6.8 0h0m5.3-0.1h0m2-0.2h0m1.1-0.2h0m3.2 0.3h0m-34.1 0.9h0m0.2-0.1h0m2-0.1h0m0.4 0.4h0m0.3 0.4h0m0.4-0.8h0m3.1 0.4h0m1.3 0.1h0m1.4-0.3h0m2.4 0.1h0m0.3 0.1h0m4.3-0.1h0m0.7 0.7h0m0.9-0.6h0m18.8 0.2h0m1.9 0h0m-39.2 1h0m0.9-0.3h0m0.6 0.7h0m2.4-0.9h0m0.7 0.7h0m0.2-0.8h0m6.6 0.9h0m0.6-0.9h0m1.7 0.6h0m0.6 0.3h0m0.8 0h0m9.7-0.5h0m0.9 0h0m7.9 0.6h0m4.3-1h0m-38.9 1.3h0m0.8-0.2h0m0.3 0.7h0m0.7-0.4h0m1 0.2h0m1.5-0.2h0m2.2-0.4h0m0.2 0.8h0m0.6-0.7h0m0.9-0.1h0m0.6 0.7h0m0.8-0.1h0m0.8 0.1h0m1.7-0.1h0m5.4-0.3h0m21.7 0.6h0m-39.3 0.2h0m3 0.3h0m0.4-0.1h0m1-0.1h0m0.4 0.6h0m1-0.4h0m2.4 0.3h0m0.1-0.5h0m3.2 0h0m1.9 0.2h0m0.2 0.2h0m1-0.2h0m0.5 0h0m9.7-0.1h0m-26 1.4h0m0.8-0.2h0m1.6 0.4h0m1.4-0.6h0m0.9 0.4h0m2.2 0.3h0m1.5-0.4h0m0.4-0.6h0m1.2 0h0m1.2 0.2h0m0.5 0.3h0m1.2 0h0m0.1-0.5h0m3.4 0.5h0m-19.1 0.5h0m0.7 0.9h0m0.2-0.5h0m2.7 0.6h0m0.1-0.8h0m0.2 0.6h0m0.1-0.2h0m1.8 0h0m0.5 0.2h0m0.4-0.4h0m0.8 0h0m1.8-0.3h0m1.5 0h0m0.5 0.2h0m1.5 0.6h0m0.5-0.5h0m1.8-0.1h0m1.9 0.1h0m-17.5 1.2h0m3.1-0.4h0m2.2 0.8h0m1.3-1h0m1.1 0.4h0m1.2 0.6h0m0.7-1h0m1.5 0.9h0m0.6-0.6h0m1-0.2h0m3.1 0.1h0m0.6 0.1h0m1.2-0.3h0m0.5 0.6h0m1.2 0.1h0m-18.5 0.3h0m1.7 0.2h0m0.6-0.2h0m0 0.8h0m0.8-0.6h0m0.5 0.4h0m1.2 0.4h0m2-0.1h0m1.8-0.5h0m1 0.1h0m0.7 0.2h0m0.9 0h0m1.3-0.1h0m1.1-0.4h0m0 0.3h0m0.8 0.4h0m3.5-0.5h0m-18.6 1h0m2.4 0.2h0m1.3-0.4h0m3.9 0.1h0m1.7 0.4h0m4.2-0.1h0m1.2-0.3h0m1.2 0.4h0m0.6-0.5h0m1.4 0h0m0.3-0.1h0m-19.8 1.5h0m1.3-0.2h0m6-0.4h0m5.4 0.4h0m0.4 0.1h0m0.9-0.2h0m0.8 0h0m3.5 0.1h0m-17.4 1.6h0m0.6-0.9h0m0.9 0.5h0m2.9-0.2h0m0.4 0.4h0m0.6-0.4h0m4.1 0.4h0m1.1-0.6h0m0.3 0.5h0m0.6-0.3h0m2.8 0.2h0m2.7 0.2h0m0.6-0.6h0m-18 1.6h0m0.8-0.8h0m1 0.7h0m1.6 0h0m1.6-0.1h0m0.8-0.4h0m0.7-0.1h0m2.7 0.7h0m1.4-0.3h0m4.4 0.2h0m2.2-0.6h0m1.5 0h0m-17.7 1.6h0m1.1-0.6h0m0.1 0.4h0m0.3 0.5h0m0.5 0h0m0.2-0.5h0m0.8-0.1h0m0.6 0h0m2 0.1h0m0.9 0.2h0m1.7-0.4h0m0.2 0.3h0m0.3-0.6h0m1.9 0.4h0m0.6 0.2h0m0.7-0.2h0m1.6 0.1h0m2.5-0.2h0m-16.5 1.5h0m0.2-0.3h0m1.2 0.3h0m2 0.1h0m1.1-0.5h0m0.9-0.2h0m0.6-0.1h0m1.8 0.7h0m3.3-0.5h0m0.6 0.2h0m0 0.5h0m0.6-0.1h0m1.2-0.5h0m0.6-0.2h0m1.5 0.4h0m0.8 0h0m0.7 0.3h0m-16.7 1.1h0m0.7-0.2h0m1.4-0.7h0m3.2 0.1h0m0.2 0.4h0m0.9-0.4h0m2.1-0.1h0m0.5 0.9h0m0.9-0.4h0m1.4 0.3h0m0.8-0.2h0m0.9-0.3h0m0.5 0.3h0m-12.5 1.3h0m1.5-0.9h0m0.7 0h0m0.6 0.5h0m4.5 0h0m0.3 0.2h0m1.2 0h0m0.3 0.1h0m2.4-0.1h0m1.4 0.1h0m0.5-0.6h0m-11.1 1.1h0m2.4 0.1h0m1.4 0.1h0m1.7-0.3h0m0.4 0.5h0m2.3-0.4h0m0.6 0.4h0m-10.6 0.6h0m2.5-0.2h0m1.1 0.1h0m0.7 0h0m0.3-0.2h0m2.1 0.6h0m0.6-0.4h0m1 0.4h0m1.6-0.3h0m0.7 0.3h0m0.6 0.3h0m0.3-0.9h0m0.8 0h0m-8.9 1.5h0m0.4-0.5h0m1.4 0.8h0m0.3-0.6h0m0 0.3h0m0.7 0.1h0m0.3-0.5h0m4.7 0.5h0m1-0.3h0m-10.3 1.4h0m0.5-0.3h0m3.2-0.1h0m3.3 0.1h0m0.2-0.4h0m1 0.6h0m-4.4 6.2h0m5.9-0.3h0m-4 1.2h0m2.3-0.6h0m0.8 0.8h0m-4.8 0.8h0m3.4 0.2h0m0.1-0.8h0m0.5 0.4h0m0.8 0.4h0m2.8-0.7h0m-6.7 1.4h0m1.6 0.1h0m1.5 0.2h0m2.1-0.7h0m0.7 0.5h0m0.9-0.2h0m0.5 0.4h0m-10.4 0.4h0m1.2-0.2h0m1.7 0.4h0m0.1 0.4h0m2.8-0.4h0m1 0.2h0m5.2-0.5h0m0.1 0.6h0m-11.9 0.5h0m0.7 0.6h0m3.7-0.3h0m3.6-0.7h0m0.5 0.1h0m1.4-0.1h0m0.1 0.4h0m-8.6 1.5h0m2.6-0.8h0m0.1 0.8h0m1.6 0.1h0m0-0.9h0m0.5 0.7h0m1.1-0.2h0m1-0.1h0m1.1 0.3h0m2.4-0.2h0m-11 1.2h0m1.5-0.8h0m0.1 0.8h0m1.8 0h0m2 0h0m1.8-0.3h0m0.5 0.1h0m1.2-0.2h0m0.9-0.4h0m-9.1 1.8h0m0.3-0.8h0m1.7 0.9h0m2.8-0.8h0m1.8 0.1h0m4.1 0h0m-12.2 1.1h0m0.4-0.2h0m0.2 0.5h0m4.5 0.2h0m0.1-0.7h0m0.6 0.6h0m0.8-0.4h0m0.4-0.1h0m0.1 0.6h0m2.6-0.4h0m0.9-0.3h0m1 0.7h0m0.5-0.6h0m-11.2 1.6h0m0.7 0h0m0.1-0.7h0m0.7 0.5h0m0.2-0.5h0m1.1 0.9h0m1.3-0.2h0m1-0.8h0m1.3 0.4h0m0.5-0.2h0m1.6-0.2h0m0.1 0.7h0m1.4 0.1h0m-6.9 0.6h0m2.4 0.2h0m1.6 0.3h0m0.7-0.1h0m-4.5 0.8h0" stroke="#440154"/><path d="M177.5 448.9h0m1.5-0.3h0m7 0.5h0m-7 0.9h0m2.6 0.3h0m-2.6 1.7h0m3.2-0.4h0m1.5 0.8h0m0.5-0.2h0m0-0.1h0m0.3 0.2h0m0-0.5h0m-4.7 1.3h0m0.4-0.4h0m1.1 0.6h0m1.3-0.8h0m2.7 0.9h0m0.1-0.7h0m0.6 0.8h0m0.1-0.1h0m-6.3 0.9h0m2.4-0.2h0m2.2-0.4h0m0.2 0.8h0m1.2-0.2h0m12.8-0.2h0m0.4 0h0m-20.8 1.2h0m0.7-0.5h0m0.7-0.1h0m1.9 0.2h0m1.8 0.1h0m0.1 0.3h0m8.2-0.2h0m4.8-0.2h0m0 0.5h0m2.8-0.5h0m-19.6 1.1h0m16.8 0.5h0m1.3-0.3h0m-18.3 1.2h0m3.6 0.1h0m2.3-0.1h0m5.7-0.2h0m1.8-0.6h0m1.1 0.1h0m5.8 0.7h0m-20.6 0.2h0m1.2 0.3h0m1.6-0.2h0m9.8 0.5h0m3.9 0.2h0m3.9 0.8h0m-2.8 0.6h0m-4.3 0.8h0m3.2 0.2h0m1.8 0.4h0m0-0.4h0m0.5 0.6h0m-1.4 0.4h0" stroke="#d8c820"/><path d="M223.1 456.5h0m-0.2 0.8h0m2.7-0.6h0m2-0.2h0m1.2 1h0m-9.6 0.5h0m0.3 0.2h0m2.2-0.2h0m1.4-0.2h0m1.8-0.2h0m-7 1.8h0m0.8-0.5h0m6.6 0.2h0m1.6-0.4h0m-11.6 1.6h0m1.8-0.2h0m3.3-0.4h0m5.7 0.4h0m2.3 0h0m-12.3 0.6h0m4.5 0.3h0m0.8 0.3h0m2.2-0.2h0m-7.2 0.8h0m3.4 0.3h0m4.3 0.2h0" stroke="#3b4a76"/><path d="M182.1 447.1h0m4.2-0.4h0m14.4 3.6h0m-13.5 1h0m12.5 0h0m-3.6 2.5h0m5.6 1.5h0m2.6 0.1h0m-17.1 0.3h0m13.6-0.1h0m-14.6 1.6h0m2.6 0.1h0m5.4-0.1h0m-3.8 0.3h0m0.1 0.6h0" stroke="#c8c8e0"/><path d="M224.1 454.5h0m-2.1 0.5h0m1-0.1h0m1.2 0.6h0m-3.6 0.5h0m1.6-0.2h0m1.8 1.5h0m3.1 0.1h0m0 1.1h0m1.6 0.7h0m-5.7 0.7h0m0.9-0.3h0m0.5 0.9h0m0.6-0.2h0m0.8-0.7h0m1.1 0.4h0m-0.4 0.5h0m-3.4 1.6h0m2 0.1h0m0.2-0.5h0m3.2 0.2h0m-8 1h0m1.7 0.9h0m2.7 0.1h0" stroke="#8ab880"/><path d="M203 453h0m-19.6 0.6h0m2.2 0.3h0m0.4 0.3h0m-2.1 0.7h0m19.7-0.1h0m1.7 0.5h0m-2.9 0.7h0m0.5 0h0m-17.8 0.8h0m16.4 0.1h0m3.1-0.3h0m-18.7 0.9h0m0.4 0.5h0m15.3-0.1h0m0.9-0.1h0m0.8 0.3h0m-14.8 0.7h0m13.5 0.9h0m0.3 0.7h0m1.7-0.5h0m-3.1 1.4h0m-10.1 1h0m5.3 0.5h0m3.5-0.2h0m3.8 0h0m-12.5 1.9h0m5.7-0.4h0m2.5-0.3h0m1.4 0.2h0m1.4 0h0m1.2-0.4h0m-6 1.5h0m4-0.4h0m-11.4 1.3h0m2.3 0.3h0m3.5 0.1h0m3-0.3h0m3.9 0.1h0m1.1 0.1h0m-15.1 0.5h0m4.4 0.1h0m1.6 0.2h0m0.7-0.3h0m0.6 0.4h0m0.9-0.1h0m-7.1 0.9h0m0.7-0.4h0m5.5 0.7h0m1.2 0h0m1.2-0.3h0m4.9-0.3h0m-11 0.8h0m5.3 0.9h0m0.2-0.7h0m1.2 0.4h0m0.5 0.3h0m5.4-0.5h0m-13.5 1.5h0m4.6-0.7h0m-3.8 2.6h0m1.5-0.2h0m8 0h0m-5.4 0.4h0m3.3 0.8h0m1.9-0.2h0m-7.8 1.4h0m5.1-0.7h0m0.5 0.3h0m1.7-0.3h0m-9.2 0.7h0m3 0h0m0.2 0.6h0m0.9 0h0m4.4 0.3h0m0 0.2h0m-4.8 1.8h0m0.4-0.9h0m2.6 0.2h0m-0.8 1.5h0" stroke="#4a9a58"/><path d="M205 430.7h0m7.2 1.9h0m1.6 1.6h0m-6.6 3.4h0m1.2 1.8h0m-4 2.4h0m3.6 0.2h0m2.5 1.2h0m-5.7 0.6h0m3.6 0.3h0m2.5 0.9h0m-4.3 1.4h0m1.6-0.5h0m3.1-0.1h0m0 0.1h0m-4.7 0.8h0m3.5 0.7h0m-24 0.9h0m17.7 0.2h0m1.7-0.1h0m3.9-0.2h0m-4.6 1.3h0m0.2-1h0m5.3 0.7h0m-25.7 1.3h0m0.2-0.1h0m2.8 0.1h0m14.2-0.5h0m-20.3 1h0m21.4-0.3h0m0 0.9h0m2.8 0.3h0m-9.5 1.4h0m8.5 0.1h0m-1 0.8h0m-14.8 1.2h0m6.9-0.3h0m-11.4 0.4h0m4.6 1.2h0m0.6 1.5h0m7.1 0.5h0m5.1 0h0m-2.1 5.2h0m4.9 0.1h0m-14.1 7.9h0m3.7 0.8h0m-1.5 1.4h0m9.3 1.2h0m-3.9 0.4h0" stroke="#6a62a8"/><path d="M204.1 451.4h0m-20.7 2.3h0m0.9 1.5h0m0.2-0.6h0m1.9 0.6h0m17.4-0.6h0m-19.3 1.5h0m1.8-0.3h0m0.8-0.1h0m1.3 1.9h0m16.3 0.4h0m-15.3 0.8h0m11.3 0.3h0m3.1-0.3h0m-14.3 0.8h0m12.2 0.2h0m1.1-0.1h0m2.1 0.4h0m-16.6 1.2h0m0.1-0.4h0m12.9-0.4h0m0.3 0.9h0m-14.1 0.3h0m2.4 0.5h0m1.4-0.6h0m7 0.7h0m4.4-0.5h0m-15.7 1h0m4.5 0.5h0m5.2-0.8h0m4.9 0.6h0m-12.7 0.8h0m5.2 0.5h0m2.7 0.1h0m6.3-0.1h0m-10.6 0.8h0m0.7-0.4h0m6.3 0.4h0m1-0.7h0m-10.5 1.2h0m2.3 0.3h0m5.2 0.3h0m3.8 0.2h0m-6.9 0h0m0.4 1.3h0m4.4-0.2h0m0.7 0.3h0m3.8 0.5h0m-14.1 0.2h0m2.6 1.4h0m10.6 0h0m0.2-0.4h0m-9.4 1h0m3.3 0.3h0m2.2 0.5h0m-5.1 0.4h0m4.1-0.2h0m-3.2 1.2h0m7 0.5h0m-8.4 0.4h0m2.2 0.6h0m1.7-0.7h0m0.7 0.8h0m-0.8 0.6h0m-0.9 1.2h0m-2 0.6h0m2.4 0h0m0.4 0.6h0m4.1-0.1h0m-3.1 0.3h0m0.2 0.5h0" stroke="#2a5e50"/><path d="M204.4 451.4h0m0.7 0.7h0m-19.5 1.6h0m18.7 0.6h0m-17 1.1h0m14.9-0.6h0m-16.8 1.1h0m2.2 0.1h0m14.4 0.4h0m-14.4 0.5h0m0.2 1.1h0m0.5 0.3h0m14.2 0.1h0m-12 0.9h0m10.9-0.3h0m1.8-0.1h0m2 0.4h0m-18.5 0.9h0m3.1 0.3h0m13 0h0m-16.1 0.4h0m0.8 0h0m1.6-0.2h0m4.6 0h0m0.5 0.8h0m6.9 0.8h0m0.9-0.1h0m1.5-0.3h0m-15.5 1.2h0m2.8 0.3h0m1.9 0h0m4.1-0.5h0m1.9 0.3h0m-11.2 1.2h0m2.1-0.7h0m1.3 0.5h0m10.7-0.6h0m2 0.3h0m-12.1 0.8h0m2.1 0.6h0m3.3 0h0m3-0.6h0m-5.1 1h0m1.5 0.5h0m5.3-0.7h0m-3.2 1.8h0m0.3-0.7h0m1.4-0.1h0m1.1 0.9h0m3.4-0.4h0m-14.3 1.4h0m2.6-0.3h0m1.1 0.1h0m8.6 0.3h0m1.3-0.7h0m-13 1.5h0m0.2-0.7h0m8.4-0.1h0m4.2 0.8h0m-3.9 1h0m4.1 0h0m-1.7 1h0m0.4-0.3h0m1.5 0.1h0m-12.9 0.8h0m4.8-0.1h0m1.3-0.1h0m5.6 0.3h0m-7.3 1.2h0m2-0.7h0m2.3 1.3h0m1.3 0h0m1.3 0.4h0m-8 0.5h0m8.3 0.6h0m-9.3 0.9h0m4.1-0.1h0m-1.6 1.1h0m5.9-0.2h0m-6 1.4h0m3-0.7h0" stroke="#35785a"/><path d="M177.6 450.2h0m1.9 0.1h0m-2.1 0.4h0m2.1 0.2h0m2.7-0.1h0m3 0.2h0m-6.3 1.4h0m1.5-0.8h0m1.2 0.3h0m1-0.1h0m0.5 0.3h0m0.3-0.6h0m2.4 0.8h0m0.5 0h0m-6.3 0.5h0m3.3 0.7h0m1.5-0.5h0m0.8 0.1h0m-5.1 1.2h0m0.1-0.6h0m4.8 0.3h0m5.8 0.1h0m0.6 0.1h0m0.9 0.1h0m-9.9 0.2h0m2 0.5h0m8.9-0.1h0m3.6 0.5h0m-17.7 1h0m1.6-0.7h0m3.9 0.2h0m7.1 0.2h0m-13.4 0.7h0m3.5-0.1h0m10.9 0.5h0m-12 0.9h0m0.9 0h0m3.7 0.2h0m9.4-0.3h0m3.3 0.2h0m1.9-0.5h0m-2.3 1h0m1-0.1h0m0.3 0.7h0m-7.4 0.9h0m6.9-0.6h0m0.5 0.5h0m1.1-0.2h0m-8.5 0.8h0m4.3 0.3h0m3.8-0.4h0m-7.6 1h0m2.6 0.3h0m4.1 0h0" stroke="#e8d424"/><path d="M171.5 442.6h0m0.3 0.1h0m-3 1.5h0m3.1-0.3h0m-1.1 1.4h0m1.1-0.6h0m0.6 0.3h0m-3.5 1.2h0m1.6-0.5h0m3 0.3h0m1.7 0.1h0m-6.7 0.9h0m0.9 0h0m2.1-0.1h0m-1.4 0.8h0m3.4 0.1h0m0.5-0.3h0m0.8 0.9h0m0.1-0.9h0m0.9 0.5h0m5.3 0.5h0m-11 0h0m0.7 0.8h0m1.6-0.1h0m0.9 0h0m2.6-0.3h0m2-0.2h0m1.3-0.2h0m2.7 0.8h0m1.3 0.2h0m1.1-0.7h0m4.2 0.4h0m17.4-0.5h0m-38.4 1.7h0m10.4-0.5h0m1.1 0.3h0m0.9-0.6h0m0.9 0.7h0m1.2 0h0m1-0.4h0m3.7-0.1h0m1.3-0.2h0m-17.7 1.3h0m6.3-0.2h0m1.4 0.5h0m0.9-0.4h0m4.9 0.4h0m0.1-0.7h0m2.6 0.8h0m-20.2 1h0m0-0.3h0m4.7 0.5h0m3.2-0.4h0m1.5-0.2h0m0.1 0.5h0m0.9-0.1h0m2.6 0h0m1.9-0.6h0m0.5 0.8h0m1.3-0.8h0m0.6 0h0m3.4 0.7h0m12.2-0.7h0m3.1-0.1h0m-35.3 1h0m1 0.7h0m4.3-0.7h0m0.9 0.9h0m1.8-0.2h0m1-0.2h0m2.2-0.4h0m1 0.4h0m1.5-0.6h0m0.5 0.6h0m2.1 0.2h0m5.1 0.2h0m2.7-0.1h0m9.4-0.3h0m3.3 0.4h0m-37 0.8h0m2.9-0.1h0m0.8-0.4h0m4.3 0.3h0m1.2 0h0m7 0.3h0m6.2-0.1h0m-23 0.8h0m4.2 0.4h0m0-0.3h0m0.3 0.1h0m5.3-0.5h0m3.8 0.6h0m2.1-0.6h0m5.3 0.1h0m1.5-0.2h0m2.2 0.5h0m-24.8 0.7h0m1.4-0.2h0m1 0.8h0m3.3-0.8h0m5.3 0.6h0m0.1-0.4h0m1.8-0.3h0m1.1 0.5h0m4-0.2h0m-10.7 0.7h0m0.7 0.3h0m1.2-0.4h0m1.2 0.1h0m0.2 0.8h0m1.7-0.5h0m2.1-0.1h0m0.3 0.7h0m6.9-0.1h0m7.6-0.9h0m6.4 0.6h0m-38.7 1.2h0m2.7-0.1h0m4.5 0.1h0m2.9-0.2h0m5.1-0.4h0m1.8 0.4h0m22-0.2h0m-41.3 1.2h0m3 0.3h0m9.2-0.7h0m3.1-0.1h0m0.1 0.9h0m0.3-0.6h0m1 0.4h0m9.4-0.6h0m-27.7 1h0m13-0.2h0m5.8 0.6h0m0.9-0.2h0m-17.5 1h0m5.9 0.4h0m0.3-0.7h0m2.1 0.8h0m0.4-0.5h0m5.5 0.6h0m3-0.9h0m-17.9 1.7h0m5.6-0.4h0m1.5 0.2h0m0.9-0.3h0m6.5-0.2h0m1.5 0.6h0m-16.5 1.3h0m5.2-0.4h0m0.7-0.3h0m3.3 0.3h0m-11.1 1.4h0m2.4-0.2h0m0.9-0.2h0m0.4 0h0m1.2-0.2h0m2 0.1h0m0.9 0.1h0m2.4 0h0m8.1 0h0m1-0.3h0m-16 1.2h0m0.1 0.3h0m0.3-0.6h0m4.5-0.1h0m3.7 0.5h0m4 0.2h0m3-0.7h0m-13 1.6h0m0.2-0.2h0m1.1 0.2h0m1 0h0m0-0.5h0m3.5 0.6h0m2.1-0.8h0m0.4 0.6h0m2-0.1h0m1.9 0.1h0m-18.3 0.6h0m10.2 0.1h0m3.9-0.1h0m1.2 0.3h0m2.4 0.5h0m-15.6 0.5h0m7.9-0.1h0m-7.7 1h0m2.5 0.3h0m1.3-0.3h0m3.2-0.3h0m0.1 0.6h0m1.9-0.6h0m3.3 0.3h0m2.4-0.4h0m-13.5 1.5h0m2.1-0.2h0m1.8 0.6h0m7.8-0.5h0m-11.9 0.8h0m2.7 0.3h0m7.1-0.5h0m0.9 0.6h0m1.7 0.4h0m0.3-0.7h0m-11.6 1.5h0m3.9-0.7h0m2.8 0.2h0m1.8 1.5h0m-7.9 0.3h0m2.5 0.4h0m2.5 0.2h0m0.7-0.7h0m-3.6 6.9h0m7 0h0m-3 0.5h0m1.3 0.3h0m1.9 0h0m-7.3 0.9h0m2.3 0.1h0m1.8-0.2h0m-4.9 1h0m2.6-0.4h0m3.5 0.4h0m0.6-0.1h0m0.8 0.3h0m3.5-0.1h0m-9.2 0.8h0m6.5 0.2h0m0.8 0h0m0.5 0h0m1.9-0.6h0m-8.3 1.8h0m4.5-0.4h0m0.3 0.2h0m1.4 0h0m1.9 0.2h0m0.1-0.4h0m-11.6 1.6h0m1.2-0.6h0m2.4 0.1h0m1.7 0.2h0m1.1-0.5h0m5.3 0.5h0m-11.7 1.1h0m2.1-0.2h0m5.7-0.1h0m3.1 0h0m1.3 0.1h0m-11.7 0.8h0m2.4 0h0m0.7-0.4h0m0.8 0.2h0m0.4 0.2h0m6 0h0m-5.6 1h0m2.8-0.3h0m3.2 0.5h0m-7.6 0.9h0m5.2-0.4h0m0.6 0.6h0m1.2-0.1h0m-7.9 1h0m4.5-0.1h0m-2.4 1h0m1-0.5h0m0.6 0.3h0" stroke="#3e0550"/><path d="M202.6 434.2h0m5.4 1.5h0m-1.1 1.3h0m3.5 0.8h0m-4 1.1h0m0.5 1h0m2.7 1.2h0m-2.3 1h0m0.5 0.4h0m3.9 2.2h0m-7.1 1.2h0m5.1 0.5h0m2.1-0.9h0m-32.2 2.9h0m1.9-0.8h0m2.5 0.2h0m19.2 0h0m0.6 0.1h0m6.5-0.4h0m-30.3 1.8h0m3.2 1h0m2.4 0.1h0m2.8-0.2h0m17.2-0.3h0m3.5-0.3h0m-25.9 1.1h0m7.3-0.1h0m0 0.8h0m-13.2 0.4h0m12.5 0.6h0m10.2 0h0m4.1-0.3h0m-11 0.4h0m1.9 0.3h0m4.9 0.4h0m3.5 0.5h0m-17.2 1h0m3.9 0.4h0m2.3 0h0m9.3-0.1h0m2.7 0.5h0m-3.1 2.8h0m-3.1 6.5h0m0.9 0.3h0m1.4 1.3h0m-6.8 0.2h0m10.2 0.5h0m-11 2.7h0m2.9 1h0m1.3 0.1h0m1.2 4.5h0m-1.9 2.2h0" stroke="#5a5aa0"/><path d="M209.8 431h0m-3.4 2.3h0m-0.3 0.6h0m0.7 0.9h0m1.7 0.1h0m-3.7 3h0m4.6-0.4h0m4.6 1.7h0m-8.8 2.6h0m6.3 0h0m-2.6 2.5h0m2.2-0.2h0m-3.9 0.8h0m1.7 0.2h0m1.6-0.6h0m2.7 0.7h0m0.1 0.3h0m-30.5 1.7h0m25.2-0.6h0m5.5 0.4h0m1.7-0.1h0m-31.5 2.9h0m0.9 0.1h0m5.9 0.4h0m-10.3 0.6h0m6.8-0.3h0m2.1 0.9h0m16.1-0.8h0m-4.2 1.6h0m-6.8 0.6h0m-8.3 1.2h0m1.9 0.4h0m16-1h0m-15.6 2.2h0m16.6-0.1h0m-3.4 1.1h0m3.7 0.3h0m-17 0.8h0m9.3 2.8h0m7 1.5h0m-3.6 1.2h0m1.9 2.7h0m-7 4h0" stroke="#3b4a86"/><path d="M169.3 442.8h0m1.2 0h0m-2 1.6h0m4.5-0.7h0m-4.9 1.7h0m6.7 0.1h0m-7.1 0.8h0m1.7-0.2h0m1-0.3h0m1.2-0.2h0m2.9 0.4h0m-7.2 1.5h0m3.1-0.3h0m4.2 0h0m1 0.1h0m29.3 0.1h0m-37 0.6h0m1.4 0.4h0m0.1-0.6h0m4 0.6h0m4.9 0h0m0.5-0.5h0m1.3-0.2h0m2.4 0.6h0m0.9 0.1h0m-14.5 0.1h0m5.9 1h0m3.8-0.4h0m2.4-0.2h0m0.7-0.2h0m1.3 0.4h0m0.6-0.3h0m0.3 0.5h0m17.6 0.1h0m-34.2 1.1h0m1.2-0.2h0m2.1-0.7h0m1.4 0.7h0m1.2-0.2h0m8 0h0m2.4-0.4h0m5.7 0.1h0m15.3-0.1h0m-36.2 1.4h0m1.7-0.5h0m2.8 0.2h0m1.5 0h0m3.1 0.1h0m0.7 0.6h0m1.1-0.8h0m3.2 0.3h0m1.2 0h0m-16.4 0.8h0m0.4 0.7h0m0.7-0.8h0m1.2 0.4h0m3.4-0.2h0m2.4 0.2h0m1.3 0h0m2.2-0.3h0m3.3-0.2h0m1.1 0.2h0m16 0.2h0m2 0.1h0m-34.8 1.1h0m2.4 0.2h0m1.3-0.7h0m3.9 0.1h0m1 0h0m1.4 0.4h0m3.7-0.6h0m3.6 0.3h0m10.7-0.4h0m-25.1 1h0m4.7 0.2h0m0 0.8h0m4.1-1h0m0.3 0.7h0m0.5-0.2h0m3.1-0.4h0m0.3 0.5h0m1.2 0h0m6.1-0.5h0m-20.5 1.2h0m3.8 0h0m2.3 0.2h0m3.6 0.1h0m1.5-0.6h0m0.4 0.7h0m-13.8 0.7h0m4.5 0.1h0m1.2-0.1h0m0.2 0.4h0m0.9-0.1h0m1-0.4h0m1.1 0.1h0m-10.1 1.3h0m1.4-0.7h0m1.5 0.9h0m1-0.1h0m1.4 0.2h0m6.4-0.1h0m-14.9 1.1h0m1.2-0.4h0m0.9 0.2h0m2.3-0.6h0m0.7 0.4h0m11.1-0.5h0m1.4 0h0m6.9 0.6h0m-25.8 0.7h0m3.1-0.2h0m1 0.4h0m2.2 0.2h0m0.8-0.5h0m1.4 0.1h0m0.7 0h0m1.3 0.3h0m2.8-0.7h0m1.4 0.2h0m2.4 0.5h0m-18.5 1.3h0m1.4-0.4h0m1-0.3h0m5.5 0.1h0m5.9 0.2h0m0.8-0.1h0m3.3-0.1h0m-18.9 0.8h0m2.1 0.4h0m3.7-0.3h0m1.6 0.6h0m3-0.6h0m3.8-0.2h0m1.6 0h0m1.9 0.7h0m1.1-0.6h0m-18.3 1.7h0m0.7 0.1h0m1.7-0.5h0m10 0h0m3.3 0h0m-16.6 1.3h0m1.7-0.5h0m0.7-0.1h0m1.5 0.6h0m8.6-0.4h0m6-0.1h0m-18.9 0.8h0m2.4 0.6h0m7 0.2h0m6.9-0.3h0m0.8-0.4h0m-15 0.9h0m2 0.8h0m2.2-0.9h0m1.1 0.1h0m0.3 0.7h0m9.1-0.6h0m2.1 0.1h0m0.2 0.3h0m-18.3 1.2h0m1.7-0.7h0m1.5 0.8h0m7.3-0.3h0m1.5-0.2h0m0.8 0.5h0m4.5-0.3h0m-16.7 1.1h0m4.6 0h0m2.3-0.5h0m0.8 0.8h0m3.9 0h0m3.5-0.2h0m0.6-0.8h0m1.4 0.2h0m-17.8 1.6h0m3.2-0.4h0m3.3 0.3h0m0.7-0.1h0m2.6 0.3h0m5-0.3h0m0.4 0.2h0m-13.1 0.9h0m2.1-0.5h0m9.2 0.5h0m1.4-0.3h0m-14.3 1.4h0m1.1-0.2h0m3.3-0.2h0m2.4-0.3h0m0.4 0.4h0m3.1-0.5h0m0.5 0.6h0m4.2 0.2h0m0.2-0.6h0m-14.3 1.4h0m0.3-0.2h0m1.7-0.4h0m0.8 0.7h0m2.4 0.1h0m2-0.5h0m5.2 0.2h0m0.9-0.2h0m-13.3 0.7h0m1.3 0.6h0m0.9 0h0m0.6 0.1h0m6.6 0.1h0m-8.6 0.3h0m0.6 0.3h0m0.9 0.5h0m1.1-0.6h0m1.9 0h0m2.3 0h0m0.2 0.6h0m1-0.6h0m1.3-0.1h0m0.1 0.5h0m0.5-0.3h0m-7.1 1.4h0m0.7-0.6h0m4.6 0.5h0m-4.3 0.3h0m2.1 0h0m0.4 0.7h0m0.6-0.5h0m0.8 0.1h0m-3.9 6.5h0m4.4 0h0m2.4-0.7h0m2.5 0.8h0m-9.7 0.7h0m8.3 0.2h0m0.2-0.7h0m1.9 0.3h0m-1.6 0.6h0m1.6 0.8h0m-7 0.9h0m0.3-0.5h0m0 0.7h0m1.2-0.2h0m0-0.1h0m2.5-0.4h0m-6.6 1.1h0m0.8 0.4h0m0-0.2h0m0.6 0.2h0m0.2-0.5h0m3.2 0h0m1.2 0.6h0m1.7 0.1h0m-8.6 0.2h0m10.2 0.1h0m2.2 0.1h0m-12.7 0.9h0m3.3 0.4h0m2.1-0.4h0m0.5 0.1h0m5.7 0.4h0m-9 1.1h0m3.5-0.2h0m1.6-0.2h0m3.8-0.3h0m-7.6 1.3h0m5.3 0h0m2.1-0.2h0m-7.4 0.9h0m0.8 0h0m2.4 0.4h0m1.1 0.1h0m2.6-0.5h0m-7.2 1.1h0m2.1 0.3h0m0.3-0.5h0m4.1 0.5h0m0.4-0.1h0" stroke="#4a0a62"/><path d="M226.1 454.9h0m-3.3 0.9h0m-2.5 1.4h0m1.3 0.4h0m0.3 0.9h0m-3.8 0.8h0m1.7-0.2h0m3.4 0.1h0m4.7-0.4h0m-11 1.2h0m1.2 0.4h0m0.9-0.2h0m9.6 0.2h0m-10.2 0.9h0m0.8-0.1h0m0.5-0.7h0m3.6 0.3h0m-6.6 0.9h0m3.6 0.3h0m6.7 0.4h0m1-0.5h0m-2.6 1.3h0m1.7-0.1h0m-3.8 0.8h0" stroke="#c8d8c8"/><path d="M205.7 451.4h0m-2.2 0.3h0m-18.5 1.2h0m0.4-0.3h0m20.3 1.5h0m-4 2.1h0m3.4-0.1h0m-15.7 1.4h0m14.1-0.3h0m0.2-0.5h0m-18.8 0.8h0m0.4 0.3h0m-0.4 1.4h0m5-0.7h0m15 0.8h0m-18.8 1.7h0m3.8 0.4h0m8-0.6h0m5.8 0h0m-17.6 0.9h0m2 0.8h0m1.3-0.2h0m-3 0.2h0m3.2 0.5h0m3.8-0.2h0m1.1 0.1h0m5.1 0h0m3.7 0.4h0m0.2-0.1h0m1.3-0.2h0m-7.7 0.6h0m5 0.8h0m-13.1 0.8h0m0.2-0.4h0m2.3 0.4h0m11 0h0m2.2-0.5h0m-16.4 1.6h0m12.2-0.5h0m3.8 0.4h0m-7 0.6h0m-6.6 1.4h0m2.1 0.3h0m0.7-0.1h0m0.1-0.8h0m2.7 0h0m-2.2 1.6h0m4.3 0.1h0m1.6 0.1h0m0.9-0.4h0m-5.6 0.7h0m1.1 0.4h0m4.9-0.1h0m-10.6 1h0m2.2 0.4h0m0.3-0.4h0m0.8 0.4h0m0-0.8h0m0.8 0h0m2.3 0h0m3.2 0.6h0m-3.9 0.9h0m3.7-0.1h0m0.4-0.2h0m-8.2 0.8h0m0.3 0.9h0m2.7-0.2h0m2.6-0.6h0m0.8 0h0m1.2 0.4h0m3.2 0.2h0m-5.9 0.7h0m-3.5 1.4h0m2.6-0.2h0m2.7-0.2h0m0.9 2h0m0.1 0.7h0m0.7 0.3h0m-1.7 1.4h0" stroke="#4e9850"/><path d="M204 452.9h0m1.2 0.8h0m-19.8 5.3h0m16.6 0.1h0m2.5 1.6h0m-12.5 3.4h0m1.7 0.1h0m0.5 0h0m-2.9 3.2h0m-1 2.7h0m4.7 1.1h0" stroke="#d0c0e8"/><path d="M206.9 435.1h0m0.5 0.3h0m-1.1 0.9h0m0.2 2.1h0m5.1 8.3h0m-1.3 1.6h0m0.9-0.4h0" stroke="#3a3a78"/><path d="M207 430.7h0m4.5 3.2h0m1.5 4.4h0m-0.1 0.6h0m-8.1 2.5h0m0 1.5h0m9.8 0.2h0m-2.7 3.4h0m-7.2 0.4h0m3.2-0.2h0m6.6 0.3h0" stroke="#c0c0dc"/><path d="M224.7 455.1h0m-0.8 1.4h0m1.2-0.9h0m-4.2 2.3h0m-0.5 1.4h0m1-0.6h0m0.4 0.8h0m0.2 0.3h0m1.9 0.6h0m-8.2 1.1h0m1.7-1h0m4 0.2h0m0.5 0.2h0m4.5 0.2h0m0 1.3h0m-1.8 0.5h0m1.8 0.2h0m-2.3 0.8h0m2-0.3h0" stroke="#3a6a50"/><path d="M176.8 450h0m0.4-0.3h0m0.9 0.8h0m7.1-0.2h0m-7 1.2h0m1.6 0.6h0m-1.5 1h0m3.6 0h0m2.3 0.4h0m0-0.4h0m2-0.2h0m-7.9 1.2h0m4.8-0.3h0m-2.8 1.4h0m1.5-0.1h0m2.3 0.1h0m0.5-0.5h0m0.8 0.3h0m14.2-0.4h0m-21.2 1.7h0m0.3-0.8h0m3.1 0.6h0m2.7-0.5h0m9.3 0.2h0m1.1-0.2h0m4.3 0h0m-18.4 0.9h0m0.4 0.8h0m2.2 0h0m0.3-0.6h0m8.9 0.8h0m5.5-0.4h0m2.3 0.3h0m-15.4 0.1h0m11.6 0.6h0m2.9 0.1h0m-7.8 1.2h0m4.5 0h0m2.8 1.1h0m0.7-0.9h0m-8.1 1.8h0m1.7 0.1h0m5.9-0.3h0m0.6 0h0m-8 0.8h0" stroke="#f2e03a"/><path d="M184 452.5h0m20.8 0.2h0m-20.9 1.4h0m0.4-0.5h0m2.6 0.9h0m16.4 0.3h0m-19.3 1.6h0m0.6 0.4h0m2.6 0.6h0m16.1-0.2h0m-16.6 1.1h0m17.8-0.6h0m-18.4 1.4h0m17.5-0.6h0m-15.6 1.3h0m2.2 0.3h0m0.5 0.3h0m11.4 0.8h0m1.5 0h0m-16.9 0.5h0m1.5 0.7h0m7.8 0h0m-2.5 0.2h0m3.9 0.3h0m0.8 0.5h0m2.5-0.8h0m-13 1.5h0m1.1 0.9h0m2.4 0.2h0m4.9-0.4h0m7.6 0.2h0m-13.4 1.1h0m13.5-0.5h0m-11.7 1.6h0m1.5-0.1h0m8.7 0.1h0m-2 1h0m0.9-0.5h0m3.2 0.5h0m-2.9 0.4h0m0.4 0.6h0m1.4-0.2h0m-11.8 0.8h0m0.1 0.5h0m2.1-0.6h0m6.4 1.5h0m1 0.1h0m-10.2 1.1h0m1.2-0.3h0m0.6-0.1h0m2.5 0h0m-1.8 0.5h0m3.1 0.8h0m-4.8 0.4h0m8.8 0.4h0m-0.1 0.8h0m-5.9 1.1h0m0.3 0.6h0m2.7 0.2h0m2.6 1.6h0" stroke="#23404a"/><path d="M207 433.7h0m0.4 2.4h0m-4.8 1.1h0m4.6 3.8h0m2 2.3h0m-6.7 0.3h0m9.6 0.4h0m-6.7 1h0m5.9 0.1h0m2.7 0.7h0m-5.6 1.3h0m5.1 0.2h0m-31.2 0.8h0m0.9 0.3h0m2.1-0.7h0m2.8 0.4h0m15 0.3h0m3.1-0.6h0m2.9-0.3h0m-28.5 1.1h0m-1.8 1h0m5.1 0.4h0m18.6-0.2h0m1.6-0.3h0m-14.8 1.3h0m1.6 0.9h0m12.7-0.1h0m-10.1 0.9h0m5.8 0.7h0m3.6 0.2h0m-16.9 0.5h0m4 0.1h0m7.4 0.1h0m7.3 0.6h0m-17.6 2.2h0m13.6-0.3h0m-13.4 5.7h0m5.6 0.3h0m-5.6 1h0m7.2 2h0m0.4 1h0m-4.4 2.6h0m6.3 0h0m3.5 0.3h0m-2 1.8h0m4.2 1.6h0m-3.5 3h0m1.1 3.3h0" stroke="#464c8c"/><path d="M221.1 455.7h0m3.2 0h0m0.6 0.7h0m-4.8 0.6h0m1.9-0.2h0m4.3-0.2h0m0.1 0.8h0m-1.6 0.6h0m-2.9 1h0m2.9 0.1h0m2.5 1.3h0m-7 0.1h0m1.9 0.6h0m2.7 0h0m-3.2 0.9h0m0.8 0h0m2 0.4h0m3.4-0.7h0m-2.5 2.1h0" stroke="#2e4e48"/><path d="M224 455.3h0m2.5 0.2h0m-5.9 0.8h0m6.2-0.5h0m0.3 0.7h0m0.6-0.4h0m0.6 0.4h0m-7.2 0h0m1 0.9h0m2.9-0.1h0m-5.5 0.4h0m6.9 0.7h0m-2.4 0.7h0m2.1 0.2h0m1.8-0.8h0m-11.8 1.2h0m3.7 0.4h0m8.2 0.3h0m-11.3 0.3h0m0.5 0.8h0m1.8-0.6h0m0.7 0.5h0m7.1-0.2h0m-8.3 1h0m0.4-0.2h0m2.2 0.9h0m1.2 0.5h0m0.7-0.3h0m1-0.3h0" stroke="#4a8a58"/><path d="M204.5 451.6h0m0.7 0.9h0m-19.6 2.9h0m17.6-0.8h0m0.3 1.6h0m-17.3 0.7h0m0.6 0.1h0m1.9 0h0m14.4-0.3h0m2 0.8h0m-19.8 0.9h0m2.2-0.8h0m-2.7 1.1h0m2.2 0.4h0m1.1-0.3h0m-2.3 1.6h0m0.1-0.3h0m2.6-0.1h0m4-0.1h0m-3.2 1.6h0m4.7 0.5h0m0.7 0.4h0m9.7-0.9h0m-16 1.4h0m4 0.7h0m2.6 0.1h0m1.2-0.1h0m-8 1.8h0m4.1-0.4h0m2.8-0.4h0m2.8 0.6h0m-9.6 0.6h0m3 0.3h0m4.2-0.3h0m-6.4 1.1h0m1.3-0.1h0m8.6 0.4h0m1.5 0.2h0m-3.1 0.8h0m4.8-0.5h0m-7.8 1h0m0.9-0.1h0m3 0.3h0m-0.3 1.2h0m1 0.4h0m1.9-0.2h0m0.5-0.6h0m-10.9 1.4h0m1.3-0.3h0m6.9 1.4h0m3.8-0.5h0m1-0.1h0m-0.5 1.2h0m-8.9 0.9h0m0.6 0.4h0m6.7 0.4h0m-9.1 0.6h0m7.2-0.6h0m1.6 0.8h0m1.9-0.6h0m-8.2 1.2h0m0.8 0.3h0m6.4-0.1h0m-2.8 0.4h0m1.5 0.5h0m0.7-0.5h0m-5 1.9h0m2.7-0.4h0m1.3-0.2h0" stroke="#5aa858"/></g><path d="M98.3 386.7h0M91.4 394.4h0M88.8 400.5h0M93.1 399.6h0M99.2 404h0M102.7 404h0M104.4 403h0M43.8 410h0M39.5 413.5h0M42.1 417.8h0M41.2 419.5h0M55.1 415.2h0M75 410.9h0M43 427.3h0M215.8 386.7h0M208.9 394.4h0M206.3 400.5h0M210.6 399.6h0M216.7 404h0M220.2 404h0M221.9 403h0M161.3 410h0M157 413.5h0M159.6 417.8h0M158.7 419.5h0M172.6 415.2h0M192.5 410.9h0M160.5 427.3h0" stroke="#d8d8d8" stroke-width="1.3" stroke-linecap="round" fill="none"/>
<text x="7.50" y="17.30" font-size="11.5" fill="#000" font-weight="bold">A</text>
<text x="267.20" y="17.30" font-size="11.5" fill="#000" font-weight="bold" textLength="6.9" lengthAdjust="spacingAndGlyphs">B</text>
<text x="7.00" y="367.30" font-size="11.5" fill="#000" font-weight="bold" textLength="8.0" lengthAdjust="spacingAndGlyphs">C</text>
<text x="269.60" y="367.20" font-size="11.5" fill="#000" font-weight="bold" textLength="8.6" lengthAdjust="spacingAndGlyphs">D</text>
<text x="434.10" y="367.10" font-size="11.5" fill="#000" font-weight="bold" textLength="6.4" lengthAdjust="spacingAndGlyphs">E</text>
<text x="86.70" y="15.00" font-size="8.8" fill="#333" textLength="83.7" lengthAdjust="spacingAndGlyphs">IFN-α response score</text>
<line x1="46.00" y1="20.20" x2="46.00" y2="206.70" stroke="#222" stroke-width="1.3"/>
<line x1="45.35" y1="206.05" x2="210.40" y2="206.05" stroke="#222" stroke-width="1.3"/>
<line x1="43.00" y1="59.40" x2="46.00" y2="59.40" stroke="#333" stroke-width="0.9"/>
<text x="40.30" y="61.90" font-size="6.9" text-anchor="end" fill="#444">10</text>
<line x1="43.00" y1="122.20" x2="46.00" y2="122.20" stroke="#333" stroke-width="0.9"/>
<text x="40.30" y="124.70" font-size="6.9" text-anchor="end" fill="#444">0</text>
<line x1="43.00" y1="185.20" x2="46.00" y2="185.20" stroke="#333" stroke-width="0.9"/>
<text x="40.30" y="187.70" font-size="6.9" text-anchor="end" fill="#444">−10</text>
<line x1="69.90" y1="206.00" x2="69.90" y2="208.80" stroke="#333" stroke-width="0.9"/>
<text x="69.90" y="218.40" font-size="6.9" text-anchor="middle" fill="#444">−10</text>
<line x1="97.80" y1="206.00" x2="97.80" y2="208.80" stroke="#333" stroke-width="0.9"/>
<text x="97.80" y="218.40" font-size="6.9" text-anchor="middle" fill="#444">−5</text>
<line x1="125.70" y1="206.00" x2="125.70" y2="208.80" stroke="#333" stroke-width="0.9"/>
<text x="125.70" y="218.40" font-size="6.9" text-anchor="middle" fill="#444">0</text>
<line x1="153.60" y1="206.00" x2="153.60" y2="208.80" stroke="#333" stroke-width="0.9"/>
<text x="153.60" y="218.40" font-size="6.9" text-anchor="middle" fill="#444">5</text>
<line x1="181.50" y1="206.00" x2="181.50" y2="208.80" stroke="#333" stroke-width="0.9"/>
<text x="181.50" y="218.40" font-size="6.9" text-anchor="middle" fill="#444">10</text>
<line x1="209.40" y1="206.00" x2="209.40" y2="208.80" stroke="#333" stroke-width="0.9"/>
<text x="209.40" y="218.40" font-size="6.9" text-anchor="middle" fill="#444">15</text>
<text x="23.60" y="126.60" font-size="8.6" fill="#333" textLength="27.2" lengthAdjust="spacingAndGlyphs" transform="rotate(-90 23.60 126.60)">UMAP_2</text>
<text x="114.60" y="230.40" font-size="8.6" fill="#333" textLength="27.7" lengthAdjust="spacingAndGlyphs">UMAP_1</text>
<rect x="214.90" y="95.80" width="6.70" height="35.50" fill="url(#plasma)"/>
<text x="225.20" y="100.30" font-size="6.5" fill="#444">0.3</text>
<text x="225.20" y="106.10" font-size="6.5" fill="#444">0.2</text>
<text x="225.20" y="112.10" font-size="6.5" fill="#444">0.1</text>
<text x="225.20" y="118.30" font-size="6.5" fill="#444">0.0</text>
<text x="225.20" y="124.30" font-size="6.5" fill="#444">−0.1</text>
<text x="225.20" y="130.10" font-size="6.5" fill="#444">−0.2</text>
<text x="346.40" y="15.00" font-size="8.8" fill="#333" textLength="83.3" lengthAdjust="spacingAndGlyphs">IFN-β response score</text>
<line x1="305.70" y1="20.20" x2="305.70" y2="206.70" stroke="#222" stroke-width="1.3"/>
<line x1="305.05" y1="206.05" x2="470.10" y2="206.05" stroke="#222" stroke-width="1.3"/>
<line x1="302.70" y1="59.40" x2="305.70" y2="59.40" stroke="#333" stroke-width="0.9"/>
<text x="300.00" y="61.90" font-size="6.9" text-anchor="end" fill="#444">10</text>
<line x1="302.70" y1="122.20" x2="305.70" y2="122.20" stroke="#333" stroke-width="0.9"/>
<text x="300.00" y="124.70" font-size="6.9" text-anchor="end" fill="#444">0</text>
<line x1="302.70" y1="185.20" x2="305.70" y2="185.20" stroke="#333" stroke-width="0.9"/>
<text x="300.00" y="187.70" font-size="6.9" text-anchor="end" fill="#444">−10</text>
<line x1="329.60" y1="206.00" x2="329.60" y2="208.80" stroke="#333" stroke-width="0.9"/>
<text x="329.60" y="218.40" font-size="6.9" text-anchor="middle" fill="#444">−10</text>
<line x1="357.50" y1="206.00" x2="357.50" y2="208.80" stroke="#333" stroke-width="0.9"/>
<text x="357.50" y="218.40" font-size="6.9" text-anchor="middle" fill="#444">−5</text>
<line x1="385.40" y1="206.00" x2="385.40" y2="208.80" stroke="#333" stroke-width="0.9"/>
<text x="385.40" y="218.40" font-size="6.9" text-anchor="middle" fill="#444">0</text>
<line x1="413.30" y1="206.00" x2="413.30" y2="208.80" stroke="#333" stroke-width="0.9"/>
<text x="413.30" y="218.40" font-size="6.9" text-anchor="middle" fill="#444">5</text>
<line x1="441.20" y1="206.00" x2="441.20" y2="208.80" stroke="#333" stroke-width="0.9"/>
<text x="441.20" y="218.40" font-size="6.9" text-anchor="middle" fill="#444">10</text>
<line x1="469.10" y1="206.00" x2="469.10" y2="208.80" stroke="#333" stroke-width="0.9"/>
<text x="469.10" y="218.40" font-size="6.9" text-anchor="middle" fill="#444">15</text>
<text x="283.30" y="126.60" font-size="8.6" fill="#333" textLength="27.2" lengthAdjust="spacingAndGlyphs" transform="rotate(-90 283.30 126.60)">UMAP_2</text>
<text x="374.30" y="230.40" font-size="8.6" fill="#333" textLength="27.7" lengthAdjust="spacingAndGlyphs">UMAP_1</text>
<rect x="474.90" y="95.10" width="6.70" height="35.90" fill="url(#plasma)"/>
<text x="485.20" y="100.80" font-size="6.5" fill="#444">0.3</text>
<text x="485.20" y="108.00" font-size="6.5" fill="#444">0.2</text>
<text x="485.20" y="115.70" font-size="6.5" fill="#444">0.1</text>
<text x="485.20" y="122.90" font-size="6.5" fill="#444">0.0</text>
<text x="485.20" y="130.10" font-size="6.5" fill="#444">−0.1</text>
<text x="74.00" y="256.70" font-size="9" fill="#333" textLength="86.2" lengthAdjust="spacingAndGlyphs">IFN-α response score</text>
<rect x="7.00" y="276.50" width="9.95" height="10.10" fill="#4f84c6" stroke="#bbb" stroke-width="0.4"/>
<rect x="16.95" y="276.50" width="9.95" height="10.10" fill="#4a7ec2" stroke="#bbb" stroke-width="0.4"/>
<rect x="26.90" y="276.50" width="9.95" height="10.10" fill="#5a8cca" stroke="#bbb" stroke-width="0.4"/>
<rect x="36.85" y="276.50" width="9.95" height="10.10" fill="#a6d0e8" stroke="#bbb" stroke-width="0.4"/>
<rect x="46.80" y="276.50" width="9.95" height="10.10" fill="#fddf8c" stroke="#bbb" stroke-width="0.4"/>
<rect x="56.75" y="276.50" width="9.95" height="10.10" fill="#f5f6d4" stroke="#bbb" stroke-width="0.4"/>
<rect x="66.70" y="276.50" width="9.95" height="10.10" fill="#fcf7c2" stroke="#bbb" stroke-width="0.4"/>
<rect x="76.65" y="276.50" width="9.95" height="10.10" fill="#eaf3ec" stroke="#bbb" stroke-width="0.4"/>
<rect x="86.60" y="276.50" width="9.95" height="10.10" fill="#d42a26" stroke="#bbb" stroke-width="0.4"/>
<rect x="96.55" y="276.50" width="9.95" height="10.10" fill="#fbf5c8" stroke="#bbb" stroke-width="0.4"/>
<rect x="106.50" y="276.50" width="9.95" height="10.10" fill="#dcecf6" stroke="#bbb" stroke-width="0.4"/>
<rect x="116.45" y="276.50" width="9.95" height="10.10" fill="#dcecf6" stroke="#bbb" stroke-width="0.4"/>
<rect x="126.40" y="276.50" width="9.95" height="10.10" fill="#b2d3ea" stroke="#bbb" stroke-width="0.4"/>
<rect x="136.35" y="276.50" width="9.95" height="10.10" fill="#fcd888" stroke="#bbb" stroke-width="0.4"/>
<rect x="146.30" y="276.50" width="9.95" height="10.10" fill="#92c0e0" stroke="#bbb" stroke-width="0.4"/>
<rect x="156.25" y="276.50" width="9.95" height="10.10" fill="#e8f2ea" stroke="#bbb" stroke-width="0.4"/>
<rect x="166.20" y="276.50" width="9.95" height="10.10" fill="#e8502e" stroke="#bbb" stroke-width="0.4"/>
<rect x="176.15" y="276.50" width="9.95" height="10.10" fill="#fcf7c8" stroke="#bbb" stroke-width="0.4"/>
<rect x="186.10" y="276.50" width="9.95" height="10.10" fill="#6898d0" stroke="#bbb" stroke-width="0.4"/>
<rect x="196.05" y="276.50" width="9.95" height="10.10" fill="#f8f6d4" stroke="#bbb" stroke-width="0.4"/>
<rect x="206.00" y="276.50" width="9.95" height="10.10" fill="#fcefb8" stroke="#bbb" stroke-width="0.4"/>
<rect x="215.95" y="276.50" width="9.95" height="10.10" fill="#98c2e0" stroke="#bbb" stroke-width="0.4"/>
<text x="124.30" y="267.60" font-size="6.6" fill="#333">P</text>
<text x="128.00" y="269.40" font-size="4.4" fill="#333" textLength="23.2" lengthAdjust="spacingAndGlyphs">unadjusted</text>
<text x="152.70" y="267.60" font-size="6.8" fill="#333" textLength="26.9" lengthAdjust="spacingAndGlyphs">= 1.4×10</text>
<text x="179.80" y="264.00" font-size="4.3" fill="#333" textLength="9.6" lengthAdjust="spacingAndGlyphs">−300</text>
<path d="M141.32 276.50V271.0H171.17V276.50" fill="none" stroke="#444" stroke-width="0.7"/>
<rect x="231.30" y="262.00" width="3.50" height="39.50" fill="url(#rdyl1)"/>
<text x="237.00" y="264.75" font-size="5.3" fill="#444">0.2</text>
<text x="237.00" y="269.88" font-size="5.3" fill="#444">0.15</text>
<text x="237.00" y="275.01" font-size="5.3" fill="#444">0.1</text>
<text x="237.00" y="280.14" font-size="5.3" fill="#444">0.05</text>
<text x="237.00" y="285.27" font-size="5.3" fill="#444">0</text>
<text x="237.00" y="290.40" font-size="5.3" fill="#444">−0.05</text>
<text x="237.00" y="295.53" font-size="5.3" fill="#444">−0.1</text>
<text x="237.00" y="300.66" font-size="5.3" fill="#444">−0.15</text>
<text x="9.68" y="290.30" font-size="6.95" fill="#3a3a3a" transform="rotate(90 9.68 290.30)">B intermediate</text>
<text x="19.62" y="290.30" font-size="6.95" fill="#3a3a3a" transform="rotate(90 19.62 290.30)">B memory</text>
<text x="29.57" y="290.30" font-size="6.95" fill="#3a3a3a" transform="rotate(90 29.57 290.30)">B naive</text>
<text x="39.52" y="290.30" font-size="6.95" fill="#3a3a3a" transform="rotate(90 39.52 290.30)">CD14 Mono</text>
<text x="49.48" y="290.30" font-size="6.95" fill="#3a3a3a" transform="rotate(90 49.48 290.30)">CD16 Mono</text>
<text x="59.42" y="290.30" font-size="6.95" fill="#3a3a3a" transform="rotate(90 59.42 290.30)">CD4 effector</text>
<text x="69.38" y="290.30" font-size="6.95" fill="#3a3a3a" transform="rotate(90 69.38 290.30)">CD4 memory</text>
<text x="79.33" y="290.30" font-size="6.95" fill="#3a3a3a" transform="rotate(90 79.33 290.30)">CD4 naive</text>
<text x="89.27" y="290.30" font-size="6.95" fill="#3a3a3a" transform="rotate(90 89.27 290.30)">CD56bright NK</text>
<text x="99.22" y="290.30" font-size="6.95" fill="#3a3a3a" transform="rotate(90 99.22 290.30)">CD8 effector</text>
<text x="109.17" y="290.30" font-size="6.95" fill="#3a3a3a" transform="rotate(90 109.17 290.30)">CD8 naive</text>
<text x="119.12" y="290.30" font-size="6.95" fill="#3a3a3a" transform="rotate(90 119.12 290.30)">CD8+NK proliferating</text>
<text x="129.07" y="290.30" font-size="6.95" fill="#3a3a3a" transform="rotate(90 129.07 290.30)">Plasmablast</text>
<text x="139.02" y="290.30" font-size="6.95" fill="#3a3a3a" transform="rotate(90 139.02 290.30)">EBV-infected NK</text>
<text x="148.97" y="290.30" font-size="6.95" fill="#3a3a3a" transform="rotate(90 148.97 290.30)">HSPC</text>
<text x="158.92" y="290.30" font-size="6.95" fill="#3a3a3a" transform="rotate(90 158.92 290.30)">MAIT</text>
<text x="168.87" y="290.30" font-size="6.95" fill="#3a3a3a" transform="rotate(90 168.87 290.30)">NK</text>
<text x="178.82" y="290.30" font-size="6.95" fill="#3a3a3a" transform="rotate(90 178.82 290.30)">Treg</text>
<text x="188.77" y="290.30" font-size="6.95" fill="#3a3a3a" transform="rotate(90 188.77 290.30)">cDC</text>
<text x="198.72" y="290.30" font-size="6.95" fill="#3a3a3a" transform="rotate(90 198.72 290.30)">dnT</text>
<text x="208.67" y="290.30" font-size="6.95" fill="#3a3a3a" transform="rotate(90 208.67 290.30)">gdT</text>
<text x="218.62" y="290.30" font-size="6.95" fill="#3a3a3a" transform="rotate(90 218.62 290.30)">pDC</text>
<text x="333.30" y="256.70" font-size="9" fill="#333" textLength="83.5" lengthAdjust="spacingAndGlyphs">IFN-β response score</text>
<rect x="266.30" y="276.50" width="9.95" height="10.10" fill="#82b2dc" stroke="#bbb" stroke-width="0.4"/>
<rect x="276.25" y="276.50" width="9.95" height="10.10" fill="#a8d0ea" stroke="#bbb" stroke-width="0.4"/>
<rect x="286.20" y="276.50" width="9.95" height="10.10" fill="#7caad8" stroke="#bbb" stroke-width="0.4"/>
<rect x="296.15" y="276.50" width="9.95" height="10.10" fill="#fdf7c8" stroke="#bbb" stroke-width="0.4"/>
<rect x="306.10" y="276.50" width="9.95" height="10.10" fill="#f27c4a" stroke="#bbb" stroke-width="0.4"/>
<rect x="316.05" y="276.50" width="9.95" height="10.10" fill="#fdf3c0" stroke="#bbb" stroke-width="0.4"/>
<rect x="326.00" y="276.50" width="9.95" height="10.10" fill="#fbf5c4" stroke="#bbb" stroke-width="0.4"/>
<rect x="335.95" y="276.50" width="9.95" height="10.10" fill="#e2eef8" stroke="#bbb" stroke-width="0.4"/>
<rect x="345.90" y="276.50" width="9.95" height="10.10" fill="#d62c26" stroke="#bbb" stroke-width="0.4"/>
<rect x="355.85" y="276.50" width="9.95" height="10.10" fill="#fdd08c" stroke="#bbb" stroke-width="0.4"/>
<rect x="365.80" y="276.50" width="9.95" height="10.10" fill="#b2d6ec" stroke="#bbb" stroke-width="0.4"/>
<rect x="375.75" y="276.50" width="9.95" height="10.10" fill="#fdf6c4" stroke="#bbb" stroke-width="0.4"/>
<rect x="385.70" y="276.50" width="9.95" height="10.10" fill="#cce6f6" stroke="#bbb" stroke-width="0.4"/>
<rect x="395.65" y="276.50" width="9.95" height="10.10" fill="#f8a060" stroke="#bbb" stroke-width="0.4"/>
<rect x="405.60" y="276.50" width="9.95" height="10.10" fill="#5088c6" stroke="#bbb" stroke-width="0.4"/>
<rect x="415.55" y="276.50" width="9.95" height="10.10" fill="#f2f4e4" stroke="#bbb" stroke-width="0.4"/>
<rect x="425.50" y="276.50" width="9.95" height="10.10" fill="#dd3028" stroke="#bbb" stroke-width="0.4"/>
<rect x="435.45" y="276.50" width="9.95" height="10.10" fill="#fdf0c0" stroke="#bbb" stroke-width="0.4"/>
<rect x="445.40" y="276.50" width="9.95" height="10.10" fill="#eef4e4" stroke="#bbb" stroke-width="0.4"/>
<rect x="455.35" y="276.50" width="9.95" height="10.10" fill="#fdf2c0" stroke="#bbb" stroke-width="0.4"/>
<rect x="465.30" y="276.50" width="9.95" height="10.10" fill="#fdefb8" stroke="#bbb" stroke-width="0.4"/>
<rect x="475.25" y="276.50" width="9.95" height="10.10" fill="#4474b8" stroke="#bbb" stroke-width="0.4"/>
<text x="383.60" y="267.60" font-size="6.6" fill="#333">P</text>
<text x="387.30" y="269.40" font-size="4.4" fill="#333" textLength="23.2" lengthAdjust="spacingAndGlyphs">unadjusted</text>
<text x="412.00" y="267.60" font-size="6.8" fill="#333" textLength="26.9" lengthAdjust="spacingAndGlyphs">= 8.0×10</text>
<text x="439.10" y="264.00" font-size="4.3" fill="#333" textLength="9.6" lengthAdjust="spacingAndGlyphs">−200</text>
<path d="M400.62 276.50V271.0H430.48V276.50" fill="none" stroke="#444" stroke-width="0.7"/>
<rect x="490.60" y="262.00" width="3.50" height="39.50" fill="url(#rdyl2)"/>
<text x="496.30" y="269.95" font-size="5.3" fill="#444">0.15</text>
<text x="496.30" y="277.05" font-size="5.3" fill="#444">0.1</text>
<text x="496.30" y="284.05" font-size="5.3" fill="#444">0.05</text>
<text x="496.30" y="291.15" font-size="5.3" fill="#444">0</text>
<text x="496.30" y="298.15" font-size="5.3" fill="#444">−0.05</text>
<text x="268.98" y="290.30" font-size="6.95" fill="#3a3a3a" transform="rotate(90 268.98 290.30)">B intermediate</text>
<text x="278.93" y="290.30" font-size="6.95" fill="#3a3a3a" transform="rotate(90 278.93 290.30)">B memory</text>
<text x="288.88" y="290.30" font-size="6.95" fill="#3a3a3a" transform="rotate(90 288.88 290.30)">B naive</text>
<text x="298.82" y="290.30" font-size="6.95" fill="#3a3a3a" transform="rotate(90 298.82 290.30)">CD14 Mono</text>
<text x="308.77" y="290.30" font-size="6.95" fill="#3a3a3a" transform="rotate(90 308.77 290.30)">CD16 Mono</text>
<text x="318.72" y="290.30" font-size="6.95" fill="#3a3a3a" transform="rotate(90 318.72 290.30)">CD4 effector</text>
<text x="328.68" y="290.30" font-size="6.95" fill="#3a3a3a" transform="rotate(90 328.68 290.30)">CD4 memory</text>
<text x="338.62" y="290.30" font-size="6.95" fill="#3a3a3a" transform="rotate(90 338.62 290.30)">CD4 naive</text>
<text x="348.57" y="290.30" font-size="6.95" fill="#3a3a3a" transform="rotate(90 348.57 290.30)">CD56bright NK</text>
<text x="358.52" y="290.30" font-size="6.95" fill="#3a3a3a" transform="rotate(90 358.52 290.30)">CD8 effector</text>
<text x="368.47" y="290.30" font-size="6.95" fill="#3a3a3a" transform="rotate(90 368.47 290.30)">CD8 naive</text>
<text x="378.43" y="290.30" font-size="6.95" fill="#3a3a3a" transform="rotate(90 378.43 290.30)">CD8+NK proliferating</text>
<text x="388.38" y="290.30" font-size="6.95" fill="#3a3a3a" transform="rotate(90 388.38 290.30)">Plasmablast</text>
<text x="398.32" y="290.30" font-size="6.95" fill="#3a3a3a" transform="rotate(90 398.32 290.30)">EBV-infected NK</text>
<text x="408.27" y="290.30" font-size="6.95" fill="#3a3a3a" transform="rotate(90 408.27 290.30)">HSPC</text>
<text x="418.22" y="290.30" font-size="6.95" fill="#3a3a3a" transform="rotate(90 418.22 290.30)">MAIT</text>
<text x="428.18" y="290.30" font-size="6.95" fill="#3a3a3a" transform="rotate(90 428.18 290.30)">NK</text>
<text x="438.12" y="290.30" font-size="6.95" fill="#3a3a3a" transform="rotate(90 438.12 290.30)">Treg</text>
<text x="448.07" y="290.30" font-size="6.95" fill="#3a3a3a" transform="rotate(90 448.07 290.30)">cDC</text>
<text x="458.02" y="290.30" font-size="6.95" fill="#3a3a3a" transform="rotate(90 458.02 290.30)">dnT</text>
<text x="467.97" y="290.30" font-size="6.95" fill="#3a3a3a" transform="rotate(90 467.97 290.30)">gdT</text>
<text x="477.93" y="290.30" font-size="6.95" fill="#3a3a3a" transform="rotate(90 477.93 290.30)">pDC</text>
<text x="92.70" y="376.20" font-size="8.7" fill="#333" textLength="92.3" lengthAdjust="spacingAndGlyphs">Clonal expansion (TCR)</text>
<text x="224.70" y="375.50" font-size="6.4" fill="#333" textLength="31.3" lengthAdjust="spacingAndGlyphs">Clonal size</text>
<rect x="233.1" y="381.4" width="4.6" height="117.4" rx="1.2" fill="url(#viridis)" stroke="#3a3a3a" stroke-width="0.5"/>
<line x1="237.70" y1="383.90" x2="239.50" y2="383.90" stroke="#333" stroke-width="0.6"/>
<text x="242.80" y="386.20" font-size="6.5" fill="#333">250</text>
<line x1="237.70" y1="407.00" x2="239.50" y2="407.00" stroke="#333" stroke-width="0.6"/>
<text x="242.80" y="409.30" font-size="6.5" fill="#333">200</text>
<line x1="237.70" y1="430.10" x2="239.50" y2="430.10" stroke="#333" stroke-width="0.6"/>
<text x="242.80" y="432.40" font-size="6.5" fill="#333">150</text>
<line x1="237.70" y1="453.20" x2="239.50" y2="453.20" stroke="#333" stroke-width="0.6"/>
<text x="242.80" y="455.50" font-size="6.5" fill="#333">100</text>
<line x1="237.70" y1="476.30" x2="239.50" y2="476.30" stroke="#333" stroke-width="0.6"/>
<text x="242.80" y="478.60" font-size="6.5" fill="#333">50</text>
<text x="9.50" y="442.80" font-size="6.6" fill="#333" textLength="39.3" lengthAdjust="spacingAndGlyphs">CD4 memory</text>
<text x="7.00" y="468.30" font-size="6.6" fill="#333" textLength="30" lengthAdjust="spacingAndGlyphs">CD4 naive</text>
<text x="80.00" y="487.80" font-size="6.6" fill="#333" textLength="38.8" lengthAdjust="spacingAndGlyphs">CD8 effector</text>
<text x="58.80" y="497.80" font-size="6.6" fill="#333" textLength="30" lengthAdjust="spacingAndGlyphs">CD8 naive</text>
<text x="103.80" y="440.30" font-size="6.6" fill="#333">CD8+NK</text>
<text x="103.80" y="448.30" font-size="6.6" fill="#333">proliferating</text>
<path d="M25.3 498H42" fill="none" stroke="#111" stroke-width="1.1"/>
<path d="M25.3 498V480" fill="none" stroke="#111" stroke-width="1.1"/>
<path d="M44.6 498L41 496.2V499.8Z" fill="#111"/>
<path d="M25.3 477.2L23.5 480.8H27.1Z" fill="#111"/>
<text x="20.90" y="498.90" font-size="8.4" fill="#333" textLength="23" lengthAdjust="spacingAndGlyphs" transform="rotate(-90 20.90 498.90)">UMAP2</text>
<text x="24.20" y="509.20" font-size="8.4" fill="#333" textLength="22.2" lengthAdjust="spacingAndGlyphs">UMAP1</text>
<text x="34.80" y="521.30" font-size="6.5" fill="#333" textLength="31.7" lengthAdjust="spacingAndGlyphs">Clonal size</text>
<circle cx="70.8" cy="519" r="1.3" fill="#123a6b"/>
<text x="76.20" y="521.30" font-size="6.5" fill="#333">1</text>
<circle cx="87.1" cy="519" r="1.3" fill="#f39c3c"/>
<text x="91.80" y="521.30" font-size="6.5" fill="#333">2</text>
<circle cx="102.7" cy="519" r="1.3" fill="#3aa04a"/>
<text x="107.00" y="521.30" font-size="6.5" fill="#333">≥3</text>
<text x="318.80" y="382.80" font-size="8.6" textLength="77.6" lengthAdjust="spacingAndGlyphs">TCR specific to EBV</text>
<line x1="296.80" y1="387.70" x2="296.80" y2="478.30" stroke="#222" stroke-width="1.1"/>
<line x1="296.20" y1="477.70" x2="417.20" y2="477.70" stroke="#222" stroke-width="1.1"/>
<line x1="293.30" y1="393.30" x2="296.80" y2="393.30" stroke="#222" stroke-width="0.9"/>
<text x="291.40" y="395.80" font-size="7.2" text-anchor="end" fill="#333">1.0</text>
<line x1="293.30" y1="410.18" x2="296.80" y2="410.18" stroke="#222" stroke-width="0.9"/>
<text x="291.40" y="412.68" font-size="7.2" text-anchor="end" fill="#333">0.8</text>
<line x1="293.30" y1="427.06" x2="296.80" y2="427.06" stroke="#222" stroke-width="0.9"/>
<text x="291.40" y="429.56" font-size="7.2" text-anchor="end" fill="#333">0.6</text>
<line x1="293.30" y1="443.94" x2="296.80" y2="443.94" stroke="#222" stroke-width="0.9"/>
<text x="291.40" y="446.44" font-size="7.2" text-anchor="end" fill="#333">0.4</text>
<line x1="293.30" y1="460.82" x2="296.80" y2="460.82" stroke="#222" stroke-width="0.9"/>
<text x="291.40" y="463.32" font-size="7.2" text-anchor="end" fill="#333">0.2</text>
<text x="277.30" y="474.50" font-size="8.2" textLength="82.3" lengthAdjust="spacingAndGlyphs" transform="rotate(-90 277.30 474.50)">Distribution of clone status</text>
<rect x="306.70" y="413.56" width="20.30" height="64.14" fill="#1d4f8c"/>
<rect x="306.70" y="409.34" width="20.30" height="4.22" fill="#f39a1d"/>
<rect x="306.70" y="393.30" width="20.30" height="16.04" fill="#3aaa4a"/>
<line x1="316.85" y1="477.70" x2="316.85" y2="480.30" stroke="#222" stroke-width="0.9"/>
<rect x="347.50" y="452.38" width="19.60" height="25.32" fill="#1d4f8c"/>
<rect x="347.50" y="446.47" width="19.60" height="5.91" fill="#f39a1d"/>
<rect x="347.50" y="393.30" width="19.60" height="53.17" fill="#3aaa4a"/>
<line x1="357.30" y1="477.70" x2="357.30" y2="480.30" stroke="#222" stroke-width="0.9"/>
<rect x="387.10" y="402.58" width="20.10" height="75.12" fill="#1d4f8c"/>
<rect x="387.10" y="397.52" width="20.10" height="5.06" fill="#f39a1d"/>
<rect x="387.10" y="393.30" width="20.10" height="4.22" fill="#3aaa4a"/>
<line x1="397.15" y1="477.70" x2="397.15" y2="480.30" stroke="#222" stroke-width="0.9"/>
<text x="321.30" y="488.80" font-size="6.6" text-anchor="end" fill="#333" transform="rotate(-45 321.30 488.80)">CAEBV</text>
<text x="360.50" y="487.20" font-size="6.6" text-anchor="end" fill="#333" transform="rotate(-45 360.50 487.20)">IM</text>
<text x="400.20" y="486.40" font-size="6.6" text-anchor="end" fill="#333" transform="rotate(-45 400.20 486.40)">Healthy</text>
<text x="405.20" y="492.60" font-size="6.6" text-anchor="end" fill="#333" transform="rotate(-45 405.20 492.60)">volunteer</text>
<text x="313.00" y="523.60" font-size="6.6" fill="#333" textLength="29.5" lengthAdjust="spacingAndGlyphs">Clone size</text>
<rect x="346.30" y="518.40" width="5.80" height="5.80" fill="#1d4f8c"/>
<text x="355.30" y="523.60" font-size="6.6" fill="#333">1</text>
<rect x="366.30" y="518.40" width="5.80" height="5.80" fill="#f39a1d"/>
<text x="375.00" y="523.60" font-size="6.6" fill="#333">2</text>
<rect x="385.80" y="518.40" width="5.80" height="5.80" fill="#3aaa4a"/>
<text x="394.60" y="523.60" font-size="6.6" fill="#333">≥3</text>
<text x="461.30" y="368.20" font-size="9.0" textLength="47.6" lengthAdjust="spacingAndGlyphs">TCR specific</text>
<text x="468.10" y="378.80" font-size="9.0" textLength="33.2" lengthAdjust="spacingAndGlyphs">to LMP2</text>
<line x1="456.00" y1="388.70" x2="456.00" y2="477.90" stroke="#222" stroke-width="1.1"/>
<line x1="455.40" y1="477.30" x2="513.30" y2="477.30" stroke="#222" stroke-width="1.1"/>
<line x1="452.60" y1="477.30" x2="456.00" y2="477.30" stroke="#222" stroke-width="0.9"/>
<text x="448.60" y="479.70" font-size="6.8" text-anchor="middle" fill="#333">0</text>
<line x1="452.60" y1="448.90" x2="456.00" y2="448.90" stroke="#222" stroke-width="0.9"/>
<text x="448.60" y="451.30" font-size="6.8" text-anchor="middle" fill="#333">1</text>
<line x1="452.60" y1="420.50" x2="456.00" y2="420.50" stroke="#222" stroke-width="0.9"/>
<text x="448.60" y="422.90" font-size="6.8" text-anchor="middle" fill="#333">2</text>
<line x1="452.60" y1="392.10" x2="456.00" y2="392.10" stroke="#222" stroke-width="0.9"/>
<text x="448.60" y="394.50" font-size="6.8" text-anchor="middle" fill="#333">3</text>
<text x="441.40" y="481.00" font-size="8.0" textLength="97.2" lengthAdjust="spacingAndGlyphs" transform="rotate(-90 441.40 481.00)">Rate of TCR specific to LMP2 (%)</text>
<rect x="461.90" y="467.93" width="10.40" height="9.37" fill="#d3123b"/>
<line x1="467.10" y1="477.30" x2="467.10" y2="479.80" stroke="#222" stroke-width="0.9"/>
<rect x="478.70" y="401.47" width="10.10" height="75.83" fill="#3aaa4a"/>
<line x1="483.75" y1="477.30" x2="483.75" y2="479.80" stroke="#222" stroke-width="0.9"/>
<rect x="496.00" y="412.97" width="10.20" height="64.33" fill="#1d4f8c"/>
<line x1="501.10" y1="477.30" x2="501.10" y2="479.80" stroke="#222" stroke-width="0.9"/>
<path d="M467.1 463.8V392.1H484V397.7" fill="none" stroke="#222" stroke-width="0.9"/>
<text x="465.2" y="389.0" font-size="6.6" fill="#222" textLength="21" lengthAdjust="spacingAndGlyphs"><tspan font-style="italic">P</tspan> &lt; .05</text>
<text x="471.40" y="487.60" font-size="6.9" text-anchor="end" fill="#333" transform="rotate(-45 471.40 487.60)">CAEBV</text>
<text x="487.20" y="490.60" font-size="6.9" text-anchor="end" fill="#333" transform="rotate(-45 487.20 490.60)">IM</text>
<text x="503.20" y="488.00" font-size="6.9" text-anchor="end" fill="#333" transform="rotate(-45 503.20 488.00)">Healthy</text>
<text x="509.30" y="494.60" font-size="6.9" text-anchor="end" fill="#333" transform="rotate(-45 509.30 494.60)">volunteer</text>
<rect x="0.62" y="0.62" width="518.76" height="530.76" fill="none" stroke="#5a5a5a" stroke-width="1.25"/>
</svg></body></html>
